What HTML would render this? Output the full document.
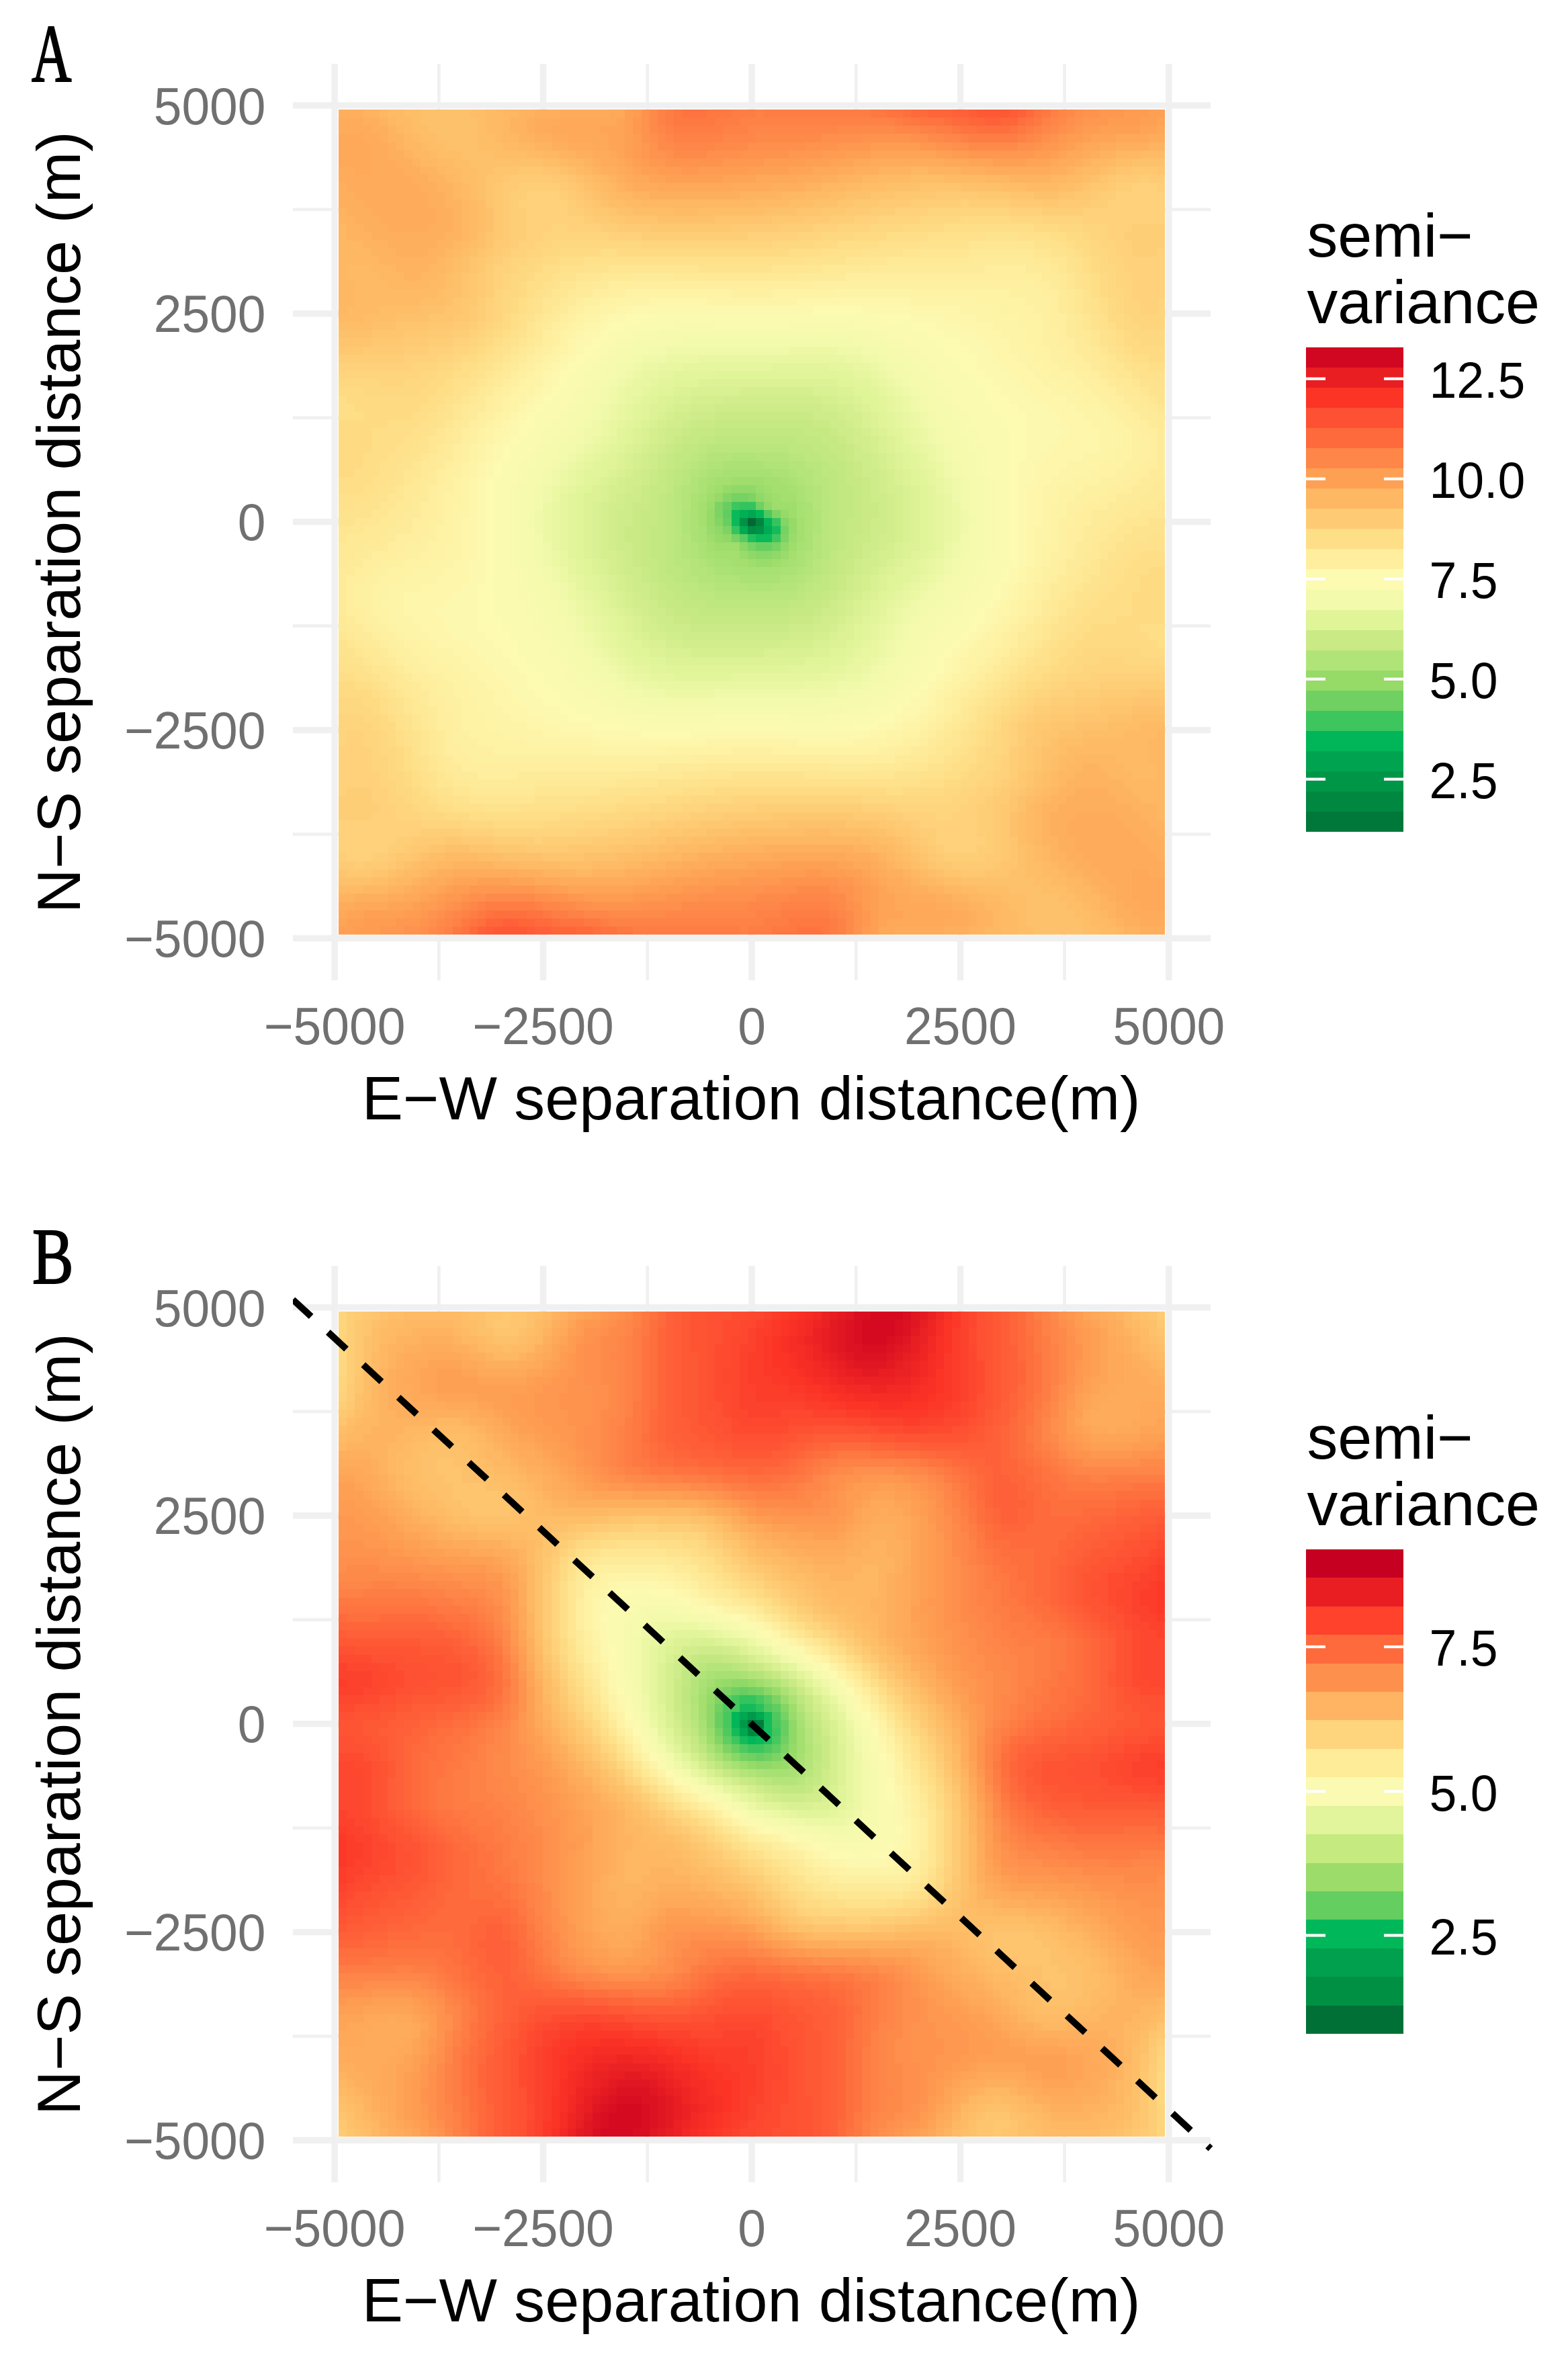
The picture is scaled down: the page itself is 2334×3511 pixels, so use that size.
<!DOCTYPE html>
<html><head><meta charset="utf-8"><title>Semivariance maps</title>
<style>html,body{margin:0;padding:0;background:#fff;overflow:hidden}svg{display:block}</style></head>
<body><svg width="2334" height="3511" viewBox="0 0 2334 3511">
<rect width="2334" height="3511" fill="#fff"/>
<g id="panelA">
<rect x="651.0" y="95" width="4.7" height="1364" fill="#f0f0f0"/>
<rect x="436" y="1239.2" width="1366" height="4.7" fill="#f0f0f0"/>
<rect x="961.4" y="95" width="4.7" height="1364" fill="#f0f0f0"/>
<rect x="436" y="929.3" width="1366" height="4.7" fill="#f0f0f0"/>
<rect x="1271.9" y="95" width="4.7" height="1364" fill="#f0f0f0"/>
<rect x="436" y="619.4" width="1366" height="4.7" fill="#f0f0f0"/>
<rect x="1582.3" y="95" width="4.7" height="1364" fill="#f0f0f0"/>
<rect x="436" y="309.5" width="1366" height="4.7" fill="#f0f0f0"/>
<rect x="493.4" y="95" width="9.4" height="1364" fill="#f0f0f0"/>
<rect x="436" y="1391.8" width="1366" height="9.4" fill="#f0f0f0"/>
<rect x="803.8" y="95" width="9.4" height="1364" fill="#f0f0f0"/>
<rect x="436" y="1081.9" width="1366" height="9.4" fill="#f0f0f0"/>
<rect x="1114.3" y="95" width="9.4" height="1364" fill="#f0f0f0"/>
<rect x="436" y="772.0" width="1366" height="9.4" fill="#f0f0f0"/>
<rect x="1424.8" y="95" width="9.4" height="1364" fill="#f0f0f0"/>
<rect x="436" y="462.1" width="1366" height="9.4" fill="#f0f0f0"/>
<rect x="1735.2" y="95" width="9.4" height="1364" fill="#f0f0f0"/>
<rect x="436" y="152.2" width="1366" height="9.4" fill="#f0f0f0"/>
<g shape-rendering="crispEdges"><path fill="#006832" d="M1113 771h12v12h-12z"/>
<path fill="#00853f" d="M1125 771h12v12h-12z"/>
<path fill="#008d43" d="M1113 783h12v12h-12z"/>
<path fill="#009145" d="M1101 771h12v12h-12zM1125 783h12v12h-12z"/>
<path fill="#00a751" d="M1113 759h12v12h-12z"/>
<path fill="#00aa53" d="M1101 783h12v12h-12zM1137 783h12v12h-12z"/>
<path fill="#00b055" d="M1101 759h12v12h-12z"/>
<path fill="#00b357" d="M1137 771h12v12h-12z"/>
<path fill="#00b658" d="M1125 759h12v12h-12z"/>
<path fill="#0ab959" d="M1089 759h12v12h-12zM1089 771h12v12h-12zM1125 795h24v12h-24z"/>
<path fill="#15bb5a" d="M1149 783h13v12h-13z"/>
<path fill="#1fbe5b" d="M1113 795h12v12h-12z"/>
<path fill="#34c35d" d="M1101 747h24v12h-24zM1149 771h13v12h-13zM1089 783h12v12h-12z"/>
<path fill="#3ec65e" d="M1089 747h12v12h-12zM1149 795h13v12h-13z"/>
<path fill="#4fc95f" d="M1137 759h12v12h-12z"/>
<path fill="#57cb60" d="M1101 795h12v12h-12z"/>
<path fill="#5fcd61" d="M1076 759h13v12h-13z"/>
<path fill="#68ce61" d="M1076 747h13v12h-13zM1076 771h13v12h-13zM1125 807h24v13h-24z"/>
<path fill="#70d062" d="M1125 747h12v12h-12z"/>
<path fill="#76d263" d="M1089 734h24v13h-24zM1162 783h12v12h-12zM1089 795h12v12h-12zM1113 807h12v13h-12zM1149 807h13v13h-13z"/>
<path fill="#7dd364" d="M1113 734h12v13h-12zM1064 747h12v12h-12zM1064 759h12v12h-12zM1149 759h13v12h-13zM1076 783h13v12h-13zM1162 795h12v12h-12z"/>
<path fill="#83d565" d="M1076 734h13v13h-13zM1064 771h12v12h-12zM1162 771h12v12h-12z"/>
<path fill="#89d766" d="M1101 807h12v13h-12zM1125 820h24v12h-24z"/>
<path fill="#90d867" d="M1089 722h36v12h-36zM1125 734h12v13h-12zM1137 747h12v12h-12zM1064 783h12v12h-12zM1076 795h13v12h-13zM1162 807h12v13h-12zM1113 820h12v12h-12zM1149 820h13v12h-13z"/>
<path fill="#96da68" d="M1076 722h13v12h-13zM1064 734h12v13h-12zM1052 759h12v12h-12zM1162 759h12v12h-12zM1052 771h12v12h-12zM1174 771h12v12h-12zM1174 783h12v12h-12zM1064 795h12v12h-12z"/>
<path fill="#9adc6b" d="M1125 722h12v12h-12zM1137 734h12v13h-12zM1052 747h12v12h-12zM1052 783h12v12h-12zM1174 795h12v12h-12zM1101 820h12v12h-12zM1162 820h12v12h-12zM1125 832h24v12h-24z"/>
<path fill="#9fdd6d" d="M1089 710h48v12h-48zM1064 722h12v12h-12zM1137 722h12v12h-12zM1052 734h12v13h-12zM1149 734h13v13h-13zM1149 747h37v12h-37zM1174 759h12v12h-12zM1052 795h12v12h-12zM1064 807h37v13h-37zM1174 807h12v13h-12zM1113 832h12v12h-12zM1149 832h13v12h-13z"/>
<path fill="#a4df70" d="M1064 710h25v12h-25zM1137 710h25v12h-25zM1052 722h12v12h-12zM1149 722h25v12h-25zM1162 734h24v13h-24zM1040 747h12v12h-12zM1040 759h12v12h-12zM1040 771h12v12h-12zM1186 771h12v12h-12zM1186 783h12v12h-12zM1186 795h12v12h-12zM1052 807h12v13h-12zM1064 820h37v12h-37zM1174 820h12v12h-12zM1089 832h24v12h-24zM1162 832h12v12h-12z"/>
<path fill="#a8e173" d="M1076 698h73v12h-73zM1052 710h12v12h-12zM1162 710h12v12h-12zM1174 722h12v12h-12zM1040 734h12v13h-12zM1186 747h12v12h-12zM1186 759h12v12h-12zM1040 783h12v12h-12zM1040 795h12v12h-12zM1186 807h12v13h-12zM1052 820h12v12h-12zM1064 832h25v12h-25zM1174 832h12v12h-12zM1089 844h73v12h-73z"/>
<path fill="#ace275" d="M1076 686h61v12h-61zM1052 698h24v12h-24zM1149 698h25v12h-25zM1040 710h12v12h-12zM1174 710h12v12h-12zM1040 722h12v12h-12zM1186 722h12v12h-12zM1028 734h12v13h-12zM1186 734h12v13h-12zM1028 747h12v12h-12zM1198 747h12v12h-12zM1028 759h12v12h-12zM1198 759h12v12h-12zM1028 771h12v12h-12zM1198 771h12v12h-12zM1028 783h12v12h-12zM1198 783h12v12h-12zM1028 795h12v12h-12zM1198 795h12v12h-12zM1040 807h12v13h-12zM1198 807h12v13h-12zM1040 820h12v12h-12zM1186 820h12v12h-12zM1052 832h12v12h-12zM1186 832h12v12h-12zM1064 844h25v12h-25zM1162 844h24v12h-24zM1101 856h61v12h-61z"/>
<path fill="#b1e478" d="M1089 674h36v12h-36zM1052 686h24v12h-24zM1137 686h37v12h-37zM1040 698h12v12h-12zM1174 698h12v12h-12zM1028 710h12v12h-12zM1186 710h12v12h-12zM1028 722h12v12h-12zM1198 722h12v12h-12zM1198 734h12v13h-12zM1015 759h13v12h-13zM1210 759h13v12h-13zM1015 771h13v12h-13zM1210 771h13v12h-13zM1015 783h13v12h-13zM1210 783h13v12h-13zM1028 807h12v13h-12zM1028 820h12v12h-12zM1198 820h12v12h-12zM1040 832h12v12h-12zM1198 832h12v12h-12zM1052 844h12v12h-12zM1186 844h12v12h-12zM1064 856h37v12h-37zM1162 856h24v12h-24zM1113 868h36v12h-36z"/>
<path fill="#b5e57a" d="M1052 674h37v12h-37zM1125 674h49v12h-49zM1040 686h12v12h-12zM1174 686h24v12h-24zM1028 698h12v12h-12zM1186 698h24v12h-24zM1198 710h12v12h-12zM1015 722h13v12h-13zM1210 722h13v12h-13zM1015 734h13v13h-13zM1210 734h13v13h-13zM1015 747h13v12h-13zM1210 747h13v12h-13zM1015 795h13v12h-13zM1210 795h13v12h-13zM1015 807h13v13h-13zM1210 807h13v13h-13zM1015 820h13v12h-13zM1210 820h13v12h-13zM1028 832h12v12h-12zM1028 844h24v12h-24zM1198 844h12v12h-12zM1040 856h24v12h-24zM1186 856h12v12h-12zM1064 868h49v12h-49zM1149 868h37v12h-37z"/>
<path fill="#b9e67d" d="M1052 661h122v13h-122zM1040 674h12v12h-12zM1174 674h24v12h-24zM1028 686h12v12h-12zM1198 686h25v12h-25zM1015 698h13v12h-13zM1210 698h13v12h-13zM1015 710h13v12h-13zM1210 710h25v12h-25zM1003 722h12v12h-12zM1223 722h12v12h-12zM1003 734h12v13h-12zM1223 734h12v13h-12zM1003 747h12v12h-12zM1223 747h12v12h-12zM1003 759h12v12h-12zM1223 759h12v12h-12zM1003 771h12v12h-12zM1223 771h12v12h-12zM1003 783h12v12h-12zM1223 783h12v12h-12zM1003 795h12v12h-12zM1223 795h12v12h-12zM1003 807h12v13h-12zM1223 807h12v13h-12zM1003 820h12v12h-12zM1223 820h12v12h-12zM1003 832h25v12h-25zM1210 832h13v12h-13zM1015 844h13v12h-13zM1210 844h13v12h-13zM1015 856h25v12h-25zM1198 856h12v12h-12zM1040 868h24v12h-24zM1186 868h12v12h-12zM1064 880h122v13h-122z"/>
<path fill="#bee77f" d="M1064 649h122v12h-122zM1040 661h12v13h-12zM1174 661h36v13h-36zM1028 674h12v12h-12zM1198 674h25v12h-25zM1015 686h13v12h-13zM1223 686h12v12h-12zM1003 698h12v12h-12zM1223 698h24v12h-24zM1003 710h12v12h-12zM1235 710h12v12h-12zM1235 722h12v12h-12zM991 734h12v13h-12zM1235 734h12v13h-12zM991 747h12v12h-12zM1235 747h12v12h-12zM991 759h12v12h-12zM1235 759h12v12h-12zM991 771h12v12h-12zM1235 771h12v12h-12zM991 783h12v12h-12zM1235 783h12v12h-12zM991 795h12v12h-12zM1235 795h12v12h-12zM991 807h12v13h-12zM1235 807h12v13h-12zM991 820h12v12h-12zM991 832h12v12h-12zM1223 832h12v12h-12zM991 844h24v12h-24zM1223 844h12v12h-12zM1003 856h12v12h-12zM1210 856h13v12h-13zM1015 868h25v12h-25zM1198 868h12v12h-12zM1028 880h36v13h-36zM1186 880h12v13h-12zM1052 893h122v12h-122z"/>
<path fill="#c2e881" d="M1064 637h134v12h-134zM1040 649h24v12h-24zM1186 649h37v12h-37zM1015 661h25v13h-25zM1210 661h25v13h-25zM1003 674h25v12h-25zM1223 674h24v12h-24zM1003 686h12v12h-12zM1235 686h24v12h-24zM991 698h12v12h-12zM1247 698h12v12h-12zM991 710h12v12h-12zM1247 710h12v12h-12zM991 722h12v12h-12zM1247 722h24v12h-24zM979 734h12v13h-12zM1247 734h24v13h-24zM979 747h12v12h-12zM1247 747h24v12h-24zM979 759h12v12h-12zM1247 759h24v12h-24zM979 771h12v12h-12zM1247 771h12v12h-12zM967 783h24v12h-24zM1247 783h12v12h-12zM967 795h24v12h-24zM1247 795h12v12h-12zM967 807h24v13h-24zM1247 807h12v13h-12zM967 820h24v12h-24zM1235 820h12v12h-12zM979 832h12v12h-12zM1235 832h12v12h-12zM979 844h12v12h-12zM1235 844h12v12h-12zM979 856h24v12h-24zM1223 856h12v12h-12zM991 868h24v12h-24zM1210 868h25v12h-25zM1003 880h25v13h-25zM1198 880h25v13h-25zM1015 893h37v12h-37zM1174 893h24v12h-24zM1040 905h134v12h-134z"/>
<path fill="#c6e984" d="M1064 625h146v12h-146zM1028 637h36v12h-36zM1198 637h37v12h-37zM1015 649h25v12h-25zM1223 649h24v12h-24zM1003 661h12v13h-12zM1235 661h24v13h-24zM991 674h12v12h-12zM1247 674h12v12h-12zM991 686h12v12h-12zM1259 686h12v12h-12zM979 698h12v12h-12zM1259 698h12v12h-12zM979 710h12v12h-12zM1259 710h24v12h-24zM967 722h24v12h-24zM1271 722h12v12h-12zM967 734h12v13h-12zM1271 734h12v13h-12zM967 747h12v12h-12zM1271 747h12v12h-12zM955 759h24v12h-24zM1271 759h12v12h-12zM955 771h24v12h-24zM1259 771h24v12h-24zM955 783h12v12h-12zM1259 783h24v12h-24zM955 795h12v12h-12zM1259 795h12v12h-12zM955 807h12v13h-12zM1259 807h12v13h-12zM955 820h12v12h-12zM1247 820h24v12h-24zM955 832h24v12h-24zM1247 832h12v12h-12zM967 844h12v12h-12zM1247 844h12v12h-12zM967 856h12v12h-12zM1235 856h12v12h-12zM979 868h12v12h-12zM1235 868h12v12h-12zM979 880h24v13h-24zM1223 880h12v13h-12zM991 893h24v12h-24zM1198 893h25v12h-25zM1003 905h37v12h-37zM1174 905h36v12h-36zM1028 917h146v12h-146z"/>
<path fill="#caea86" d="M1064 613h146v12h-146zM1028 625h36v12h-36zM1210 625h25v12h-25zM1015 637h13v12h-13zM1235 637h12v12h-12zM1003 649h12v12h-12zM1247 649h12v12h-12zM991 661h12v13h-12zM1259 661h12v13h-12zM979 674h12v12h-12zM1259 674h12v12h-12zM979 686h12v12h-12zM1271 686h12v12h-12zM967 698h12v12h-12zM1271 698h12v12h-12zM967 710h12v12h-12zM1283 710h13v12h-13zM955 722h12v12h-12zM1283 722h13v12h-13zM955 734h12v13h-12zM1283 734h13v13h-13zM942 747h25v12h-25zM1283 747h25v12h-25zM942 759h13v12h-13zM1283 759h25v12h-25zM942 771h13v12h-13zM1283 771h13v12h-13zM930 783h25v12h-25zM1283 783h13v12h-13zM930 795h25v12h-25zM1271 795h25v12h-25zM942 807h13v13h-13zM1271 807h12v13h-12zM942 820h13v12h-13zM1271 820h12v12h-12zM942 832h13v12h-13zM1259 832h12v12h-12zM955 844h12v12h-12zM1259 844h12v12h-12zM955 856h12v12h-12zM1247 856h12v12h-12zM967 868h12v12h-12zM1247 868h12v12h-12zM967 880h12v13h-12zM1235 880h12v13h-12zM979 893h12v12h-12zM1223 893h12v12h-12zM991 905h12v12h-12zM1210 905h13v12h-13zM1003 917h25v12h-25zM1174 917h36v12h-36zM1028 929h146v12h-146z"/>
<path fill="#ceec89" d="M1064 601h159v12h-159zM1028 613h36v12h-36zM1210 613h37v12h-37zM1015 625h13v12h-13zM1235 625h24v12h-24zM991 637h24v12h-24zM1247 637h24v12h-24zM991 649h12v12h-12zM1259 649h12v12h-12zM979 661h12v13h-12zM1271 661h12v13h-12zM967 674h12v12h-12zM1271 674h25v12h-25zM967 686h12v12h-12zM1283 686h13v12h-13zM955 698h12v12h-12zM1283 698h25v12h-25zM955 710h12v12h-12zM1296 710h12v12h-12zM942 722h13v12h-13zM1296 722h12v12h-12zM930 734h25v13h-25zM1296 734h24v13h-24zM930 747h12v12h-12zM1308 747h12v12h-12zM918 759h24v12h-24zM1308 759h12v12h-12zM918 771h24v12h-24zM1296 771h24v12h-24zM918 783h12v12h-12zM1296 783h24v12h-24zM918 795h12v12h-12zM1296 795h12v12h-12zM918 807h24v13h-24zM1283 807h25v13h-25zM930 820h12v12h-12zM1283 820h13v12h-13zM930 832h12v12h-12zM1271 832h12v12h-12zM930 844h25v12h-25zM1271 844h12v12h-12zM942 856h13v12h-13zM1259 856h12v12h-12zM942 868h25v12h-25zM1259 868h12v12h-12zM955 880h12v13h-12zM1247 880h12v13h-12zM967 893h12v12h-12zM1235 893h12v12h-12zM967 905h24v12h-24zM1223 905h24v12h-24zM979 917h24v12h-24zM1210 917h13v12h-13zM991 929h37v12h-37zM1174 929h36v12h-36zM1015 941h159v12h-159z"/>
<path fill="#d1ed8c" d="M1076 589h147v12h-147zM1028 601h36v12h-36zM1223 601h24v12h-24zM1003 613h25v12h-25zM1247 613h12v12h-12zM991 625h24v12h-24zM1259 625h12v12h-12zM979 637h12v12h-12zM1271 637h12v12h-12zM979 649h12v12h-12zM1271 649h25v12h-25zM967 661h12v13h-12zM1283 661h13v13h-13zM955 674h12v12h-12zM1296 674h12v12h-12zM955 686h12v12h-12zM1296 686h12v12h-12zM942 698h13v12h-13zM1308 698h12v12h-12zM930 710h25v12h-25zM1308 710h12v12h-12zM930 722h12v12h-12zM1308 722h12v12h-12zM918 734h12v13h-12zM1320 734h12v13h-12zM906 747h24v12h-24zM1320 747h12v12h-12zM906 759h12v12h-12zM1320 759h12v12h-12zM906 771h12v12h-12zM1320 771h12v12h-12zM906 783h12v12h-12zM1320 783h12v12h-12zM906 795h12v12h-12zM1308 795h24v12h-24zM906 807h12v13h-12zM1308 807h12v13h-12zM918 820h12v12h-12zM1296 820h12v12h-12zM918 832h12v12h-12zM1283 832h25v12h-25zM918 844h12v12h-12zM1283 844h13v12h-13zM930 856h12v12h-12zM1271 856h12v12h-12zM930 868h12v12h-12zM1271 868h12v12h-12zM942 880h13v13h-13zM1259 880h12v13h-12zM942 893h25v12h-25zM1247 893h12v12h-12zM955 905h12v12h-12zM1247 905h12v12h-12zM967 917h12v12h-12zM1223 917h24v12h-24zM979 929h12v12h-12zM1210 929h25v12h-25zM991 941h24v12h-24zM1174 941h36v12h-36zM1015 953h147v12h-147z"/>
<path fill="#d5ef8f" d="M1101 576h109v13h-109zM1028 589h48v12h-48zM1223 589h24v12h-24zM1003 601h25v12h-25zM1247 601h24v12h-24zM991 613h12v12h-12zM1259 613h24v12h-24zM979 625h12v12h-12zM1271 625h12v12h-12zM967 637h12v12h-12zM1283 637h13v12h-13zM967 649h12v12h-12zM1296 649h12v12h-12zM955 661h12v13h-12zM1296 661h12v13h-12zM942 674h13v12h-13zM1308 674h12v12h-12zM942 686h13v12h-13zM1308 686h12v12h-12zM930 698h12v12h-12zM1320 698h12v12h-12zM918 710h12v12h-12zM1320 710h12v12h-12zM906 722h24v12h-24zM1320 722h24v12h-24zM906 734h12v13h-12zM1332 734h12v13h-12zM894 747h12v12h-12zM1332 747h12v12h-12zM894 759h12v12h-12zM1332 759h12v12h-12zM894 771h12v12h-12zM1332 771h12v12h-12zM894 783h12v12h-12zM1332 783h12v12h-12zM894 795h12v12h-12zM1332 795h12v12h-12zM894 807h12v13h-12zM1320 807h12v13h-12zM894 820h24v12h-24zM1308 820h24v12h-24zM906 832h12v12h-12zM1308 832h12v12h-12zM906 844h12v12h-12zM1296 844h12v12h-12zM918 856h12v12h-12zM1283 856h13v12h-13zM918 868h12v12h-12zM1283 868h13v12h-13zM930 880h12v13h-12zM1271 880h12v13h-12zM930 893h12v12h-12zM1259 893h12v12h-12zM942 905h13v12h-13zM1259 905h12v12h-12zM955 917h12v12h-12zM1247 917h12v12h-12zM955 929h24v12h-24zM1235 929h12v12h-12zM967 941h24v12h-24zM1210 941h25v12h-25zM991 953h24v12h-24zM1162 953h48v12h-48zM1028 965h109v13h-109z"/>
<path fill="#d9f192" d="M1028 576h73v13h-73zM1210 576h37v13h-37zM1003 589h25v12h-25zM1247 589h24v12h-24zM991 601h12v12h-12zM1271 601h12v12h-12zM979 613h12v12h-12zM1283 613h13v12h-13zM967 625h12v12h-12zM1283 625h13v12h-13zM955 637h12v12h-12zM1296 637h12v12h-12zM955 649h12v12h-12zM1308 649h12v12h-12zM942 661h13v13h-13zM1308 661h12v13h-12zM930 674h12v12h-12zM1320 674h12v12h-12zM930 686h12v12h-12zM1320 686h12v12h-12zM918 698h12v12h-12zM1332 698h12v12h-12zM906 710h12v12h-12zM1332 710h12v12h-12zM894 722h12v12h-12zM1344 722h12v12h-12zM894 734h12v13h-12zM1344 734h12v13h-12zM882 747h12v12h-12zM1344 747h12v12h-12zM882 759h12v12h-12zM1344 759h12v12h-12zM882 771h12v12h-12zM1344 771h12v12h-12zM882 783h12v12h-12zM1344 783h12v12h-12zM882 795h12v12h-12zM1344 795h12v12h-12zM882 807h12v13h-12zM1332 807h12v13h-12zM882 820h12v12h-12zM1332 820h12v12h-12zM894 832h12v12h-12zM1320 832h12v12h-12zM894 844h12v12h-12zM1308 844h12v12h-12zM906 856h12v12h-12zM1296 856h12v12h-12zM906 868h12v12h-12zM1296 868h12v12h-12zM918 880h12v13h-12zM1283 880h13v13h-13zM918 893h12v12h-12zM1271 893h12v12h-12zM930 905h12v12h-12zM1271 905h12v12h-12zM942 917h13v12h-13zM1259 917h12v12h-12zM942 929h13v12h-13zM1247 929h12v12h-12zM955 941h12v12h-12zM1235 941h12v12h-12zM967 953h24v12h-24zM1210 953h25v12h-25zM991 965h37v13h-37zM1137 965h73v13h-73z"/>
<path fill="#dcf295" d="M1040 564h207v12h-207zM1003 576h25v13h-25zM1247 576h24v13h-24zM979 589h24v12h-24zM1271 589h12v12h-12zM967 601h24v12h-24zM1283 601h13v12h-13zM967 613h12v12h-12zM1296 613h12v12h-12zM955 625h12v12h-12zM1296 625h12v12h-12zM942 637h13v12h-13zM1308 637h12v12h-12zM942 649h13v12h-13zM1320 649h12v12h-12zM930 661h12v13h-12zM1320 661h12v13h-12zM918 674h12v12h-12zM1332 674h12v12h-12zM918 686h12v12h-12zM1332 686h12v12h-12zM906 698h12v12h-12zM1344 698h12v12h-12zM894 710h12v12h-12zM1344 710h12v12h-12zM882 722h12v12h-12zM1356 722h13v12h-13zM869 734h25v13h-25zM1356 734h13v13h-13zM869 747h13v12h-13zM1356 747h13v12h-13zM869 759h13v12h-13zM1356 759h13v12h-13zM869 771h13v12h-13zM1356 771h13v12h-13zM869 783h13v12h-13zM1356 783h13v12h-13zM869 795h13v12h-13zM1356 795h13v12h-13zM869 807h13v13h-13zM1344 807h25v13h-25zM869 820h13v12h-13zM1344 820h12v12h-12zM882 832h12v12h-12zM1332 832h12v12h-12zM882 844h12v12h-12zM1320 844h12v12h-12zM894 856h12v12h-12zM1308 856h12v12h-12zM894 868h12v12h-12zM1308 868h12v12h-12zM906 880h12v13h-12zM1296 880h12v13h-12zM906 893h12v12h-12zM1283 893h13v12h-13zM918 905h12v12h-12zM1283 905h13v12h-13zM930 917h12v12h-12zM1271 917h12v12h-12zM930 929h12v12h-12zM1259 929h12v12h-12zM942 941h13v12h-13zM1247 941h24v12h-24zM955 953h12v12h-12zM1235 953h24v12h-24zM967 965h24v13h-24zM1210 965h25v13h-25zM991 978h207v12h-207z"/>
<path fill="#e0f498" d="M1064 552h183v12h-183zM1003 564h37v12h-37zM1247 564h24v12h-24zM979 576h24v13h-24zM1271 576h25v13h-25zM967 589h12v12h-12zM1283 589h25v12h-25zM955 601h12v12h-12zM1296 601h12v12h-12zM955 613h12v12h-12zM1308 613h12v12h-12zM942 625h13v12h-13zM1308 625h12v12h-12zM930 637h12v12h-12zM1320 637h12v12h-12zM930 649h12v12h-12zM1332 649h12v12h-12zM918 661h12v13h-12zM1332 661h12v13h-12zM906 674h12v12h-12zM1344 674h12v12h-12zM894 686h24v12h-24zM1344 686h12v12h-12zM894 698h12v12h-12zM1356 698h13v12h-13zM882 710h12v12h-12zM1356 710h13v12h-13zM869 722h13v12h-13zM1369 722h12v12h-12zM857 734h12v13h-12zM1369 734h12v13h-12zM857 747h12v12h-12zM1369 747h12v12h-12zM857 759h12v12h-12zM1369 759h12v12h-12zM857 771h12v12h-12zM1369 771h12v12h-12zM857 783h12v12h-12zM1369 783h12v12h-12zM857 795h12v12h-12zM1369 795h12v12h-12zM857 807h12v13h-12zM1369 807h12v13h-12zM857 820h12v12h-12zM1356 820h13v12h-13zM869 832h13v12h-13zM1344 832h12v12h-12zM869 844h13v12h-13zM1332 844h12v12h-12zM882 856h12v12h-12zM1320 856h24v12h-24zM882 868h12v12h-12zM1320 868h12v12h-12zM894 880h12v13h-12zM1308 880h12v13h-12zM894 893h12v12h-12zM1296 893h12v12h-12zM906 905h12v12h-12zM1296 905h12v12h-12zM918 917h12v12h-12zM1283 917h13v12h-13zM918 929h12v12h-12zM1271 929h12v12h-12zM930 941h12v12h-12zM1271 941h12v12h-12zM930 953h25v12h-25zM1259 953h12v12h-12zM942 965h25v13h-25zM1235 965h24v13h-24zM967 978h24v12h-24zM1198 978h37v12h-37zM991 990h183v12h-183z"/>
<path fill="#e3f59b" d="M1149 540h86v12h-86zM1003 552h61v12h-61zM1247 552h24v12h-24zM979 564h24v12h-24zM1271 564h25v12h-25zM967 576h12v13h-12zM1296 576h12v13h-12zM955 589h12v12h-12zM1308 589h12v12h-12zM942 601h13v12h-13zM1308 601h12v12h-12zM942 613h13v12h-13zM1320 613h12v12h-12zM930 625h12v12h-12zM1320 625h12v12h-12zM918 637h12v12h-12zM1332 637h12v12h-12zM918 649h12v12h-12zM906 661h12v13h-12zM1344 661h12v13h-12zM894 674h12v12h-12zM1356 674h13v12h-13zM882 686h12v12h-12zM1356 686h13v12h-13zM869 698h25v12h-25zM1369 698h12v12h-12zM869 710h13v12h-13zM1369 710h12v12h-12zM857 722h12v12h-12zM1381 722h12v12h-12zM845 734h12v13h-12zM1381 734h12v13h-12zM845 747h12v12h-12zM1381 747h12v12h-12zM845 759h12v12h-12zM1381 759h12v12h-12zM845 771h12v12h-12zM1381 771h12v12h-12zM845 783h12v12h-12zM1381 783h12v12h-12zM845 795h12v12h-12zM1381 795h12v12h-12zM845 807h12v13h-12zM1381 807h12v13h-12zM845 820h12v12h-12zM1369 820h12v12h-12zM857 832h12v12h-12zM1356 832h13v12h-13zM857 844h12v12h-12zM1344 844h25v12h-25zM869 856h13v12h-13zM1344 856h12v12h-12zM869 868h13v12h-13zM1332 868h12v12h-12zM882 880h12v13h-12zM1320 880h12v13h-12zM1308 893h12v12h-12zM894 905h12v12h-12zM1308 905h12v12h-12zM906 917h12v12h-12zM1296 917h12v12h-12zM906 929h12v12h-12zM1283 929h13v12h-13zM918 941h12v12h-12zM1283 941h13v12h-13zM918 953h12v12h-12zM1271 953h12v12h-12zM930 965h12v13h-12zM1259 965h12v13h-12zM942 978h25v12h-25zM1235 978h24v12h-24zM967 990h24v12h-24zM1174 990h61v12h-61zM1003 1002h86v12h-86z"/>
<path fill="#e6f69f" d="M1015 540h134v12h-134zM1235 540h36v12h-36zM979 552h24v12h-24zM1271 552h25v12h-25zM967 564h12v12h-12zM1296 564h12v12h-12zM955 576h12v13h-12zM1308 576h12v13h-12zM942 589h13v12h-13zM1320 589h12v12h-12zM930 601h12v12h-12zM1320 601h12v12h-12zM930 613h12v12h-12zM1332 613h12v12h-12zM918 625h12v12h-12zM1332 625h12v12h-12zM1344 637h12v12h-12zM906 649h12v12h-12zM1344 649h12v12h-12zM894 661h12v13h-12zM1356 661h13v13h-13zM882 674h12v12h-12zM1369 674h12v12h-12zM869 686h13v12h-13zM1369 686h12v12h-12zM857 698h12v12h-12zM1381 698h12v12h-12zM857 710h12v12h-12zM1381 710h12v12h-12zM845 722h12v12h-12zM833 734h12v13h-12zM1393 734h12v13h-12zM833 747h12v12h-12zM1393 747h12v12h-12zM833 759h12v12h-12zM1393 759h12v12h-12zM833 771h12v12h-12zM1393 771h12v12h-12zM833 783h12v12h-12zM1393 783h12v12h-12zM833 795h12v12h-12zM1393 795h12v12h-12zM833 807h12v13h-12zM1393 807h12v13h-12zM1381 820h12v12h-12zM845 832h12v12h-12zM1369 832h12v12h-12zM845 844h12v12h-12zM1369 844h12v12h-12zM857 856h12v12h-12zM1356 856h13v12h-13zM857 868h12v12h-12zM1344 868h12v12h-12zM869 880h13v13h-13zM1332 880h12v13h-12zM882 893h12v12h-12zM1320 893h12v12h-12zM882 905h12v12h-12zM894 917h12v12h-12zM1308 917h12v12h-12zM894 929h12v12h-12zM1296 929h12v12h-12zM906 941h12v12h-12zM1296 941h12v12h-12zM906 953h12v12h-12zM1283 953h13v12h-13zM918 965h12v13h-12zM1271 965h12v13h-12zM930 978h12v12h-12zM1259 978h12v12h-12zM942 990h25v12h-25zM1235 990h24v12h-24zM967 1002h36v12h-36zM1089 1002h134v12h-134z"/>
<path fill="#eaf7a2" d="M1040 528h219v12h-219zM979 540h36v12h-36zM1271 540h25v12h-25zM955 552h24v12h-24zM1296 552h12v12h-12zM942 564h25v12h-25zM1308 564h12v12h-12zM930 576h25v13h-25zM1320 576h12v13h-12zM930 589h12v12h-12zM1332 589h12v12h-12zM918 601h12v12h-12zM1332 601h12v12h-12zM918 613h12v12h-12zM1344 613h12v12h-12zM906 625h12v12h-12zM1344 625h12v12h-12zM906 637h12v12h-12zM1356 637h13v12h-13zM894 649h12v12h-12zM1356 649h13v12h-13zM882 661h12v13h-12zM1369 661h12v13h-12zM869 674h13v12h-13zM857 686h12v12h-12zM1381 686h12v12h-12zM845 698h12v12h-12zM845 710h12v12h-12zM1393 710h12v12h-12zM833 722h12v12h-12zM1393 722h12v12h-12zM1405 734h12v13h-12zM821 747h12v12h-12zM1405 747h12v12h-12zM821 759h12v12h-12zM1405 759h12v12h-12zM821 771h12v12h-12zM1405 771h12v12h-12zM821 783h12v12h-12zM1405 783h12v12h-12zM821 795h12v12h-12zM1405 795h12v12h-12zM821 807h12v13h-12zM833 820h12v12h-12zM1393 820h12v12h-12zM833 832h12v12h-12zM1381 832h12v12h-12zM1381 844h12v12h-12zM845 856h12v12h-12zM1369 856h12v12h-12zM1356 868h13v12h-13zM857 880h12v13h-12zM1344 880h12v13h-12zM869 893h13v12h-13zM1332 893h12v12h-12zM869 905h13v12h-13zM1320 905h12v12h-12zM882 917h12v12h-12zM1320 917h12v12h-12zM882 929h12v12h-12zM1308 929h12v12h-12zM894 941h12v12h-12zM1308 941h12v12h-12zM894 953h12v12h-12zM1296 953h12v12h-12zM906 965h12v13h-12zM1283 965h25v13h-25zM918 978h12v12h-12zM1271 978h25v12h-25zM930 990h12v12h-12zM1259 990h24v12h-24zM942 1002h25v12h-25zM1223 1002h36v12h-36zM979 1014h219v12h-219z"/>
<path fill="#edf8a5" d="M1174 516h73v12h-73zM991 528h49v12h-49zM1259 528h24v12h-24zM955 540h24v12h-24zM1296 540h12v12h-12zM942 552h13v12h-13zM1308 552h12v12h-12zM930 564h12v12h-12zM1320 564h12v12h-12zM918 576h12v13h-12zM1332 576h12v13h-12zM918 589h12v12h-12zM1344 589h12v12h-12zM906 601h12v12h-12zM1344 601h12v12h-12zM906 613h12v12h-12zM1356 613h13v12h-13zM894 625h12v12h-12zM1356 625h13v12h-13zM894 637h12v12h-12zM1369 637h12v12h-12zM882 649h12v12h-12zM1369 649h12v12h-12zM869 661h13v13h-13zM1381 661h12v13h-12zM857 674h12v12h-12zM1381 674h12v12h-12zM845 686h12v12h-12zM1393 686h12v12h-12zM833 698h12v12h-12zM1393 698h12v12h-12zM833 710h12v12h-12zM1405 710h12v12h-12zM821 722h12v12h-12zM1405 722h12v12h-12zM821 734h12v13h-12zM808 747h13v12h-13zM1417 747h13v12h-13zM808 759h13v12h-13zM1417 759h13v12h-13zM808 771h13v12h-13zM1417 771h13v12h-13zM808 783h13v12h-13zM1417 783h13v12h-13zM808 795h13v12h-13zM1417 795h13v12h-13zM1405 807h12v13h-12zM821 820h12v12h-12zM1405 820h12v12h-12zM821 832h12v12h-12zM1393 832h12v12h-12zM833 844h12v12h-12zM1393 844h12v12h-12zM833 856h12v12h-12zM1381 856h12v12h-12zM845 868h12v12h-12zM1369 868h12v12h-12zM845 880h12v13h-12zM1356 880h13v13h-13zM857 893h12v12h-12zM1344 893h12v12h-12zM857 905h12v12h-12zM1332 905h12v12h-12zM869 917h13v12h-13zM1332 917h12v12h-12zM869 929h13v12h-13zM1320 929h12v12h-12zM882 941h12v12h-12zM1320 941h12v12h-12zM882 953h12v12h-12zM1308 953h12v12h-12zM894 965h12v13h-12zM1308 965h12v13h-12zM906 978h12v12h-12zM1296 978h12v12h-12zM918 990h12v12h-12zM1283 990h13v12h-13zM930 1002h12v12h-12zM1259 1002h24v12h-24zM955 1014h24v12h-24zM1198 1014h49v12h-49zM991 1026h73v12h-73z"/>
<path fill="#f0f9a9" d="M991 516h183v12h-183zM1247 516h36v12h-36zM955 528h36v12h-36zM1283 528h25v12h-25zM942 540h13v12h-13zM1308 540h12v12h-12zM930 552h12v12h-12zM1320 552h12v12h-12zM918 564h12v12h-12zM1332 564h12v12h-12zM906 576h12v13h-12zM1344 576h12v13h-12zM906 589h12v12h-12zM1356 589h13v12h-13zM894 601h12v12h-12zM1356 601h13v12h-13zM894 613h12v12h-12zM1369 613h12v12h-12zM882 625h12v12h-12zM1369 625h12v12h-12zM869 637h25v12h-25zM1381 637h12v12h-12zM869 649h13v12h-13zM1381 649h12v12h-12zM857 661h12v13h-12zM1393 661h12v13h-12zM845 674h12v12h-12zM1393 674h12v12h-12zM833 686h12v12h-12zM1405 686h12v12h-12zM821 698h12v12h-12zM1405 698h12v12h-12zM821 710h12v12h-12zM1417 710h13v12h-13zM808 722h13v12h-13zM1417 722h13v12h-13zM808 734h13v13h-13zM1417 734h13v13h-13zM796 759h12v12h-12zM1430 759h12v12h-12zM796 771h12v12h-12zM1430 771h12v12h-12zM796 783h12v12h-12zM1430 783h12v12h-12zM808 807h13v13h-13zM1417 807h13v13h-13zM808 820h13v12h-13zM1417 820h13v12h-13zM808 832h13v12h-13zM1405 832h12v12h-12zM821 844h12v12h-12zM1405 844h12v12h-12zM821 856h12v12h-12zM1393 856h12v12h-12zM833 868h12v12h-12zM1381 868h12v12h-12zM833 880h12v13h-12zM1369 880h12v13h-12zM845 893h12v12h-12zM1356 893h13v12h-13zM845 905h12v12h-12zM1344 905h25v12h-25zM857 917h12v12h-12zM1344 917h12v12h-12zM857 929h12v12h-12zM1332 929h12v12h-12zM869 941h13v12h-13zM1332 941h12v12h-12zM869 953h13v12h-13zM1320 953h12v12h-12zM882 965h12v13h-12zM1320 965h12v13h-12zM894 978h12v12h-12zM1308 978h12v12h-12zM906 990h12v12h-12zM1296 990h12v12h-12zM918 1002h12v12h-12zM1283 1002h13v12h-13zM930 1014h25v12h-25zM1247 1014h36v12h-36zM955 1026h36v12h-36zM1064 1026h183v12h-183z"/>
<path fill="#f3faac" d="M1015 503h256v13h-256zM967 516h24v12h-24zM1283 516h25v12h-25zM942 528h13v12h-13zM1308 528h12v12h-12zM918 540h24v12h-24zM1320 540h24v12h-24zM918 552h12v12h-12zM1332 552h24v12h-24zM906 564h12v12h-12zM1344 564h12v12h-12zM894 576h12v13h-12zM1356 576h13v13h-13zM894 589h12v12h-12zM1369 589h12v12h-12zM882 601h12v12h-12zM1369 601h12v12h-12zM882 613h12v12h-12zM1381 613h12v12h-12zM869 625h13v12h-13zM1381 625h12v12h-12zM857 637h12v12h-12zM1393 637h12v12h-12zM845 649h24v12h-24zM1393 649h12v12h-12zM833 661h24v13h-24zM1405 661h12v13h-12zM833 674h12v12h-12zM1405 674h12v12h-12zM821 686h12v12h-12zM1417 686h13v12h-13zM808 698h13v12h-13zM1417 698h13v12h-13zM808 710h13v12h-13zM1430 710h12v12h-12zM796 722h12v12h-12zM1430 722h12v12h-12zM796 734h12v13h-12zM1430 734h12v13h-12zM796 747h12v12h-12zM1430 747h12v12h-12zM784 771h12v12h-12zM1442 771h12v12h-12zM796 795h12v12h-12zM1430 795h12v12h-12zM796 807h12v13h-12zM1430 807h12v13h-12zM796 820h12v12h-12zM1430 820h12v12h-12zM796 832h12v12h-12zM1417 832h13v12h-13zM808 844h13v12h-13zM1417 844h13v12h-13zM808 856h13v12h-13zM1405 856h12v12h-12zM821 868h12v12h-12zM1393 868h12v12h-12zM821 880h12v13h-12zM1381 880h24v13h-24zM833 893h12v12h-12zM1369 893h24v12h-24zM833 905h12v12h-12zM1369 905h12v12h-12zM845 917h12v12h-12zM1356 917h13v12h-13zM845 929h12v12h-12zM1344 929h12v12h-12zM857 941h12v12h-12zM1344 941h12v12h-12zM857 953h12v12h-12zM1332 953h12v12h-12zM869 965h13v13h-13zM1332 965h12v13h-12zM882 978h12v12h-12zM1320 978h12v12h-12zM882 990h24v12h-24zM1308 990h12v12h-12zM894 1002h24v12h-24zM1296 1002h24v12h-24zM918 1014h12v12h-12zM1283 1014h13v12h-13zM930 1026h25v12h-25zM1247 1026h24v12h-24zM967 1038h256v13h-256z"/>
<path fill="#f5faad" d="M1210 491h25v12h-25zM967 503h48v13h-48zM1271 503h37v13h-37zM942 516h25v12h-25zM1308 516h24v12h-24zM918 528h24v12h-24zM1320 528h24v12h-24zM906 540h12v12h-12zM1344 540h12v12h-12zM906 552h12v12h-12zM1356 552h13v12h-13zM894 564h12v12h-12zM1356 564h25v12h-25zM882 576h12v13h-12zM1369 576h12v13h-12zM882 589h12v12h-12zM1381 589h12v12h-12zM869 601h13v12h-13zM1381 601h12v12h-12zM869 613h13v12h-13zM1393 613h12v12h-12zM857 625h12v12h-12zM1393 625h24v12h-24zM845 637h12v12h-12zM1405 637h12v12h-12zM833 649h12v12h-12zM1405 649h25v12h-25zM821 661h12v13h-12zM1417 661h13v13h-13zM808 674h25v12h-25zM1417 674h25v12h-25zM808 686h13v12h-13zM1430 686h12v12h-12zM796 698h12v12h-12zM1430 698h12v12h-12zM796 710h12v12h-12zM1442 710h12v12h-12zM784 722h12v12h-12zM1442 722h12v12h-12zM784 734h12v13h-12zM1442 734h12v13h-12zM784 747h12v12h-12zM1442 747h12v12h-12zM784 759h12v12h-12zM1442 759h12v12h-12zM784 783h12v12h-12zM1442 783h12v12h-12zM784 795h12v12h-12zM1442 795h12v12h-12zM784 807h12v13h-12zM1442 807h12v13h-12zM784 820h12v12h-12zM1442 820h12v12h-12zM784 832h12v12h-12zM1430 832h12v12h-12zM796 844h12v12h-12zM1430 844h12v12h-12zM796 856h12v12h-12zM1417 856h13v12h-13zM796 868h25v12h-25zM1405 868h25v12h-25zM808 880h13v13h-13zM1405 880h12v13h-12zM808 893h25v12h-25zM1393 893h12v12h-12zM821 905h12v12h-12zM1381 905h12v12h-12zM821 917h24v12h-24zM1369 917h12v12h-12zM833 929h12v12h-12zM1356 929h13v12h-13zM845 941h12v12h-12zM1356 941h13v12h-13zM845 953h12v12h-12zM1344 953h12v12h-12zM857 965h12v13h-12zM1344 965h12v13h-12zM857 978h25v12h-25zM1332 978h12v12h-12zM869 990h13v12h-13zM1320 990h12v12h-12zM882 1002h12v12h-12zM1320 1002h12v12h-12zM894 1014h24v12h-24zM1296 1014h24v12h-24zM906 1026h24v12h-24zM1271 1026h25v12h-25zM930 1038h37v13h-37zM1223 1038h48v13h-48zM1003 1051h25v12h-25z"/>
<path fill="#f6faae" d="M979 491h231v12h-231zM1235 491h61v12h-61zM942 503h25v13h-25zM1308 503h12v13h-12zM918 516h24v12h-24zM1332 516h12v12h-12zM906 528h12v12h-12zM1344 528h12v12h-12zM894 540h12v12h-12zM1356 540h13v12h-13zM894 552h12v12h-12zM1369 552h12v12h-12zM882 564h12v12h-12zM1381 564h12v12h-12zM869 576h13v13h-13zM1381 576h12v13h-12zM869 589h13v12h-13zM1393 589h12v12h-12zM857 601h12v12h-12zM1393 601h24v12h-24zM845 613h24v12h-24zM1405 613h12v12h-12zM845 625h12v12h-12zM1417 625h13v12h-13zM833 637h12v12h-12zM1417 637h13v12h-13zM821 649h12v12h-12zM1430 649h12v12h-12zM808 661h13v13h-13zM1430 661h12v13h-12zM796 674h12v12h-12zM1442 674h12v12h-12zM796 686h12v12h-12zM1442 686h12v12h-12zM784 698h12v12h-12zM1442 698h12v12h-12zM784 710h12v12h-12zM1454 710h12v12h-12zM772 722h12v12h-12zM1454 722h12v12h-12zM772 734h12v13h-12zM1454 734h12v13h-12zM772 747h12v12h-12zM1454 747h12v12h-12zM772 759h12v12h-12zM1454 759h12v12h-12zM772 771h12v12h-12zM1454 771h12v12h-12zM772 783h12v12h-12zM1454 783h12v12h-12zM772 795h12v12h-12zM1454 795h12v12h-12zM772 807h12v13h-12zM1454 807h12v13h-12zM772 820h12v12h-12zM1454 820h12v12h-12zM772 832h12v12h-12zM1442 832h12v12h-12zM784 844h12v12h-12zM1442 844h12v12h-12zM784 856h12v12h-12zM1430 856h12v12h-12zM784 868h12v12h-12zM1430 868h12v12h-12zM796 880h12v13h-12zM1417 880h13v13h-13zM796 893h12v12h-12zM1405 893h12v12h-12zM808 905h13v12h-13zM1393 905h12v12h-12zM808 917h13v12h-13zM1381 917h12v12h-12zM821 929h12v12h-12zM1369 929h24v12h-24zM821 941h24v12h-24zM1369 941h12v12h-12zM833 953h12v12h-12zM1356 953h13v12h-13zM845 965h12v13h-12zM1356 965h13v13h-13zM845 978h12v12h-12zM1344 978h12v12h-12zM857 990h12v12h-12zM1332 990h12v12h-12zM869 1002h13v12h-13zM1332 1002h12v12h-12zM882 1014h12v12h-12zM1320 1014h12v12h-12zM894 1026h12v12h-12zM1296 1026h24v12h-24zM918 1038h12v13h-12zM1271 1038h25v13h-25zM942 1051h61v12h-61zM1028 1051h231v12h-231z"/>
<path fill="#f8faaf" d="M1003 479h61v12h-61zM1174 479h97v12h-97zM942 491h37v12h-37zM1296 491h24v12h-24zM918 503h24v13h-24zM1320 503h24v13h-24zM906 516h12v12h-12zM1344 516h25v12h-25zM894 528h12v12h-12zM1356 528h25v12h-25zM882 540h12v12h-12zM1369 540h24v12h-24zM869 552h25v12h-25zM1381 552h12v12h-12zM869 564h13v12h-13zM1393 564h12v12h-12zM857 576h12v13h-12zM1393 576h24v13h-24zM857 589h12v12h-12zM1405 589h12v12h-12zM845 601h12v12h-12zM1417 601h13v12h-13zM833 613h12v12h-12zM1417 613h25v12h-25zM821 625h24v12h-24zM1430 625h12v12h-12zM808 637h25v12h-25zM1430 637h24v12h-24zM808 649h13v12h-13zM1442 649h12v12h-12zM796 661h12v13h-12zM1442 661h24v13h-24zM784 674h12v12h-12zM1454 674h12v12h-12zM772 686h24v12h-24zM1454 686h12v12h-12zM772 698h12v12h-12zM1454 698h12v12h-12zM772 710h12v12h-12zM1466 710h12v12h-12zM760 722h12v12h-12zM1466 722h12v12h-12zM760 734h12v13h-12zM1466 734h12v13h-12zM760 747h12v12h-12zM1466 747h12v12h-12zM760 759h12v12h-12zM1466 759h12v12h-12zM760 771h12v12h-12zM1466 771h12v12h-12zM760 783h12v12h-12zM1466 783h12v12h-12zM760 795h12v12h-12zM1466 795h12v12h-12zM760 807h12v13h-12zM1466 807h12v13h-12zM760 820h12v12h-12zM1466 820h12v12h-12zM760 832h12v12h-12zM1454 832h12v12h-12zM772 844h12v12h-12zM1454 844h12v12h-12zM772 856h12v12h-12zM1442 856h24v12h-24zM772 868h12v12h-12zM1442 868h12v12h-12zM772 880h24v13h-24zM1430 880h12v13h-12zM784 893h12v12h-12zM1417 893h13v12h-13zM784 905h24v12h-24zM1405 905h25v12h-25zM796 917h12v12h-12zM1393 917h24v12h-24zM796 929h25v12h-25zM1393 929h12v12h-12zM808 941h13v12h-13zM1381 941h12v12h-12zM821 953h12v12h-12zM1369 953h12v12h-12zM821 965h24v13h-24zM1369 965h12v13h-12zM833 978h12v12h-12zM1356 978h13v12h-13zM845 990h12v12h-12zM1344 990h25v12h-25zM845 1002h24v12h-24zM1344 1002h12v12h-12zM857 1014h25v12h-25zM1332 1014h12v12h-12zM869 1026h25v12h-25zM1320 1026h12v12h-12zM894 1038h24v13h-24zM1296 1038h24v13h-24zM918 1051h24v12h-24zM1259 1051h37v12h-37zM967 1063h97v12h-97zM1174 1063h61v12h-61z"/>
<path fill="#fafab0" d="M955 479h48v12h-48zM1064 479h110v12h-110zM1271 479h49v12h-49zM918 491h24v12h-24zM1320 491h24v12h-24zM906 503h12v13h-12zM1344 503h25v13h-25zM894 516h12v12h-12zM1369 516h12v12h-12zM882 528h12v12h-12zM1381 528h12v12h-12zM869 540h13v12h-13zM1393 540h12v12h-12zM857 552h12v12h-12zM1393 552h24v12h-24zM857 564h12v12h-12zM1405 564h25v12h-25zM845 576h12v13h-12zM1417 576h13v13h-13zM833 589h24v12h-24zM1417 589h25v12h-25zM833 601h12v12h-12zM1430 601h24v12h-24zM821 613h12v12h-12zM1442 613h12v12h-12zM808 625h13v12h-13zM1442 625h24v12h-24zM796 637h12v12h-12zM1454 637h24v12h-24zM784 649h24v12h-24zM1454 649h24v12h-24zM784 661h12v13h-12zM1466 661h12v13h-12zM772 674h12v12h-12zM1466 674h12v12h-12zM760 686h12v12h-12zM1466 686h12v12h-12zM760 698h12v12h-12zM1466 698h24v12h-24zM760 710h12v12h-12zM1478 710h12v12h-12zM748 722h12v12h-12zM1478 722h12v12h-12zM748 734h12v13h-12zM1478 734h12v13h-12zM748 747h12v12h-12zM1478 747h12v12h-12zM748 759h12v12h-12zM1478 759h12v12h-12zM748 771h12v12h-12zM1478 771h12v12h-12zM748 783h12v12h-12zM1478 783h12v12h-12zM748 795h12v12h-12zM1478 795h12v12h-12zM748 807h12v13h-12zM1478 807h12v13h-12zM748 820h12v12h-12zM1478 820h12v12h-12zM748 832h12v12h-12zM1466 832h12v12h-12zM748 844h24v12h-24zM1466 844h12v12h-12zM760 856h12v12h-12zM1466 856h12v12h-12zM760 868h12v12h-12zM1454 868h12v12h-12zM760 880h12v13h-12zM1442 880h12v13h-12zM760 893h24v12h-24zM1430 893h24v12h-24zM760 905h24v12h-24zM1430 905h12v12h-12zM772 917h24v12h-24zM1417 917h13v12h-13zM784 929h12v12h-12zM1405 929h12v12h-12zM784 941h24v12h-24zM1393 941h12v12h-12zM796 953h25v12h-25zM1381 953h24v12h-24zM808 965h13v13h-13zM1381 965h12v13h-12zM808 978h25v12h-25zM1369 978h12v12h-12zM821 990h24v12h-24zM1369 990h12v12h-12zM833 1002h12v12h-12zM1356 1002h13v12h-13zM845 1014h12v12h-12zM1344 1014h12v12h-12zM857 1026h12v12h-12zM1332 1026h12v12h-12zM869 1038h25v13h-25zM1320 1038h12v13h-12zM894 1051h24v12h-24zM1296 1051h24v12h-24zM918 1063h49v12h-49zM1064 1063h110v12h-110zM1235 1063h48v12h-48z"/>
<path fill="#fbfab1" d="M967 467h341v12h-341zM930 479h25v12h-25zM1320 479h36v12h-36zM906 491h12v12h-12zM1344 491h37v12h-37zM894 503h12v13h-12zM1369 503h24v13h-24zM882 516h12v12h-12zM1381 516h24v12h-24zM869 528h13v12h-13zM1393 528h24v12h-24zM857 540h12v12h-12zM1405 540h25v12h-25zM845 552h12v12h-12zM1417 552h25v12h-25zM845 564h12v12h-12zM1430 564h24v12h-24zM833 576h12v13h-12zM1430 576h36v13h-36zM821 589h12v12h-12zM1442 589h24v12h-24zM808 601h25v12h-25zM1454 601h24v12h-24zM796 613h25v12h-25zM1454 613h36v12h-36zM796 625h12v12h-12zM1466 625h24v12h-24zM784 637h12v12h-12zM1478 637h25v12h-25zM772 649h12v12h-12zM1478 649h25v12h-25zM760 661h24v13h-24zM1478 661h25v13h-25zM760 674h12v12h-12zM1478 674h25v12h-25zM748 686h12v12h-12zM1478 686h25v12h-25zM748 698h12v12h-12zM1490 698h13v12h-13zM735 710h25v12h-25zM1490 710h13v12h-13zM735 722h13v12h-13zM1490 722h13v12h-13zM735 734h13v13h-13zM1490 734h13v13h-13zM735 747h13v12h-13zM1490 747h13v12h-13zM735 759h13v12h-13zM1490 759h13v12h-13zM735 771h13v12h-13zM1490 771h13v12h-13zM735 783h13v12h-13zM1490 783h13v12h-13zM735 795h13v12h-13zM1490 795h13v12h-13zM735 807h13v13h-13zM1490 807h13v13h-13zM735 820h13v12h-13zM1490 820h13v12h-13zM735 832h13v12h-13zM1478 832h25v12h-25zM735 844h13v12h-13zM1478 844h12v12h-12zM735 856h25v12h-25zM1478 856h12v12h-12zM735 868h25v12h-25zM1466 868h12v12h-12zM735 880h25v13h-25zM1454 880h24v13h-24zM735 893h25v12h-25zM1454 893h12v12h-12zM735 905h25v12h-25zM1442 905h12v12h-12zM748 917h24v12h-24zM1430 917h12v12h-12zM748 929h36v12h-36zM1417 929h25v12h-25zM760 941h24v12h-24zM1405 941h25v12h-25zM772 953h24v12h-24zM1405 953h12v12h-12zM772 965h36v13h-36zM1393 965h12v13h-12zM784 978h24v12h-24zM1381 978h12v12h-12zM796 990h25v12h-25zM1381 990h12v12h-12zM808 1002h25v12h-25zM1369 1002h12v12h-12zM821 1014h24v12h-24zM1356 1014h13v12h-13zM833 1026h24v12h-24zM1344 1026h12v12h-12zM845 1038h24v13h-24zM1332 1038h12v13h-12zM857 1051h37v12h-37zM1320 1051h12v12h-12zM882 1063h36v12h-36zM1283 1063h25v12h-25zM930 1075h341v12h-341z"/>
<path fill="#fdfab2" d="M1210 455h73v12h-73zM930 467h37v12h-37zM1308 467h48v12h-48zM906 479h24v12h-24zM1356 479h37v12h-37zM894 491h12v12h-12zM1381 491h24v12h-24zM882 503h12v13h-12zM1393 503h37v13h-37zM869 516h13v12h-13zM1405 516h37v12h-37zM857 528h12v12h-12zM1417 528h37v12h-37zM845 540h12v12h-12zM1430 540h24v12h-24zM833 552h12v12h-12zM1442 552h24v12h-24zM833 564h12v12h-12zM1454 564h24v12h-24zM821 576h12v13h-12zM1466 576h24v13h-24zM808 589h13v12h-13zM1466 589h37v12h-37zM796 601h12v12h-12zM1478 601h37v12h-37zM784 613h12v12h-12zM1490 613h37v12h-37zM772 625h24v12h-24zM1490 625h37v12h-37zM772 637h12v12h-12zM1503 637h24v12h-24zM760 649h12v12h-12zM1503 649h24v12h-24zM748 661h12v13h-12zM1503 661h24v13h-24zM748 674h12v12h-12zM1503 674h24v12h-24zM735 686h13v12h-13zM1503 686h12v12h-12zM735 698h13v12h-13zM1503 698h12v12h-12zM723 710h12v12h-12zM1503 710h12v12h-12zM723 722h12v12h-12zM1503 722h12v12h-12zM723 734h12v13h-12zM1503 734h12v13h-12zM723 747h12v12h-12zM1503 747h12v12h-12zM723 759h12v12h-12zM1503 759h12v12h-12zM723 771h12v12h-12zM1503 771h12v12h-12zM723 783h12v12h-12zM1503 783h12v12h-12zM723 795h12v12h-12zM1503 795h12v12h-12zM723 807h12v13h-12zM1503 807h12v13h-12zM723 820h12v12h-12zM1503 820h12v12h-12zM723 832h12v12h-12zM1503 832h12v12h-12zM723 844h12v12h-12zM1490 844h13v12h-13zM723 856h12v12h-12zM1490 856h13v12h-13zM711 868h24v12h-24zM1478 868h12v12h-12zM711 880h24v13h-24zM1478 880h12v13h-12zM711 893h24v12h-24zM1466 893h12v12h-12zM711 905h24v12h-24zM1454 905h12v12h-12zM711 917h37v12h-37zM1442 917h24v12h-24zM711 929h37v12h-37zM1442 929h12v12h-12zM723 941h37v12h-37zM1430 941h12v12h-12zM735 953h37v12h-37zM1417 953h13v12h-13zM748 965h24v13h-24zM1405 965h12v13h-12zM760 978h24v12h-24zM1393 978h12v12h-12zM772 990h24v12h-24zM1393 990h12v12h-12zM784 1002h24v12h-24zM1381 1002h12v12h-12zM784 1014h37v12h-37zM1369 1014h12v12h-12zM796 1026h37v12h-37zM1356 1026h13v12h-13zM808 1038h37v13h-37zM1344 1038h12v13h-12zM833 1051h24v12h-24zM1332 1051h12v12h-12zM845 1063h37v12h-37zM1308 1063h24v12h-24zM882 1075h48v12h-48zM1271 1075h37v12h-37zM955 1087h73v12h-73z"/>
<path fill="#fdf8af" d="M942 455h268v12h-268zM1283 455h73v12h-73zM906 467h24v12h-24zM1356 467h49v12h-49zM894 479h12v12h-12zM1393 479h37v12h-37zM869 491h25v12h-25zM1405 491h49v12h-49zM857 503h25v13h-25zM1430 503h36v13h-36zM857 516h12v12h-12zM1442 516h36v12h-36zM845 528h12v12h-12zM1454 528h24v12h-24zM833 540h12v12h-12zM1454 540h36v12h-36zM821 552h12v12h-12zM1466 552h37v12h-37zM821 564h12v12h-12zM1478 564h37v12h-37zM808 576h13v13h-13zM1490 576h37v13h-37zM796 589h12v12h-12zM1503 589h36v12h-36zM784 601h12v12h-12zM1515 601h49v12h-49zM772 613h12v12h-12zM1527 613h49v12h-49zM760 625h12v12h-12zM1527 625h49v12h-49zM760 637h12v12h-12zM1527 637h61v12h-61zM748 649h12v12h-12zM1527 649h49v12h-49zM735 661h13v13h-13zM1527 661h37v13h-37zM735 674h13v12h-13zM1527 674h24v12h-24zM723 686h12v12h-12zM1515 686h24v12h-24zM723 698h12v12h-12zM1515 698h24v12h-24zM711 710h12v12h-12zM1515 710h24v12h-24zM711 722h12v12h-12zM1515 722h12v12h-12zM711 734h12v13h-12zM1515 734h12v13h-12zM711 747h12v12h-12zM1515 747h12v12h-12zM711 759h12v12h-12zM1515 759h12v12h-12zM711 771h12v12h-12zM1515 771h12v12h-12zM711 783h12v12h-12zM1515 783h12v12h-12zM711 795h12v12h-12zM1515 795h12v12h-12zM711 807h12v13h-12zM1515 807h12v13h-12zM711 820h12v12h-12zM1515 820h12v12h-12zM699 832h24v12h-24zM1515 832h12v12h-12zM699 844h24v12h-24zM1503 844h12v12h-12zM699 856h24v12h-24zM1503 856h12v12h-12zM687 868h24v12h-24zM1490 868h13v12h-13zM674 880h37v13h-37zM1490 880h13v13h-13zM662 893h49v12h-49zM1478 893h12v12h-12zM650 905h61v12h-61zM1466 905h12v12h-12zM662 917h49v12h-49zM1466 917h12v12h-12zM662 929h49v12h-49zM1454 929h12v12h-12zM674 941h49v12h-49zM1442 941h12v12h-12zM699 953h36v12h-36zM1430 953h12v12h-12zM711 965h37v13h-37zM1417 965h13v13h-13zM723 978h37v12h-37zM1405 978h12v12h-12zM735 990h37v12h-37zM1405 990h12v12h-12zM748 1002h36v12h-36zM1393 1002h12v12h-12zM760 1014h24v12h-24zM1381 1014h12v12h-12zM760 1026h36v12h-36zM1369 1026h12v12h-12zM772 1038h36v13h-36zM1356 1038h25v13h-25zM784 1051h49v12h-49zM1344 1051h25v12h-25zM808 1063h37v12h-37zM1332 1063h12v12h-12zM833 1075h49v12h-49zM1308 1075h24v12h-24zM882 1087h73v12h-73zM1028 1087h268v12h-268z"/>
<path fill="#fdf6ab" d="M967 443h85v12h-85zM1186 443h170v12h-170zM918 455h24v12h-24zM1356 455h74v12h-74zM894 467h12v12h-12zM1405 467h49v12h-49zM869 479h25v12h-25zM1430 479h48v12h-48zM857 491h12v12h-12zM1454 491h36v12h-36zM845 503h12v13h-12zM1466 503h37v13h-37zM845 516h12v12h-12zM1478 516h25v12h-25zM833 528h12v12h-12zM1478 528h37v12h-37zM821 540h12v12h-12zM1490 540h37v12h-37zM808 552h13v12h-13zM1503 552h36v12h-36zM808 564h13v12h-13zM1515 564h36v12h-36zM796 576h12v13h-12zM1527 576h37v13h-37zM784 589h12v12h-12zM1539 589h49v12h-49zM772 601h12v12h-12zM1564 601h36v12h-36zM760 613h12v12h-12zM1576 613h36v12h-36zM748 625h12v12h-12zM1576 625h48v12h-48zM735 637h25v12h-25zM1588 637h49v12h-49zM735 649h13v12h-13zM1576 649h61v12h-61zM723 661h12v13h-12zM1564 661h73v13h-73zM723 674h12v12h-12zM1551 674h61v12h-61zM711 686h12v12h-12zM1539 686h49v12h-49zM711 698h12v12h-12zM1539 698h37v12h-37zM699 710h12v12h-12zM1539 710h25v12h-25zM699 722h12v12h-12zM1527 722h24v12h-24zM699 734h12v13h-12zM1527 734h24v13h-24zM699 747h12v12h-12zM1527 747h24v12h-24zM699 759h12v12h-12zM1527 759h24v12h-24zM687 771h24v12h-24zM1527 771h24v12h-24zM687 783h24v12h-24zM1527 783h12v12h-12zM687 795h24v12h-24zM1527 795h12v12h-12zM687 807h24v13h-24zM1527 807h12v13h-12zM687 820h24v12h-24zM1527 820h12v12h-12zM674 832h25v12h-25zM1527 832h12v12h-12zM662 844h37v12h-37zM1515 844h12v12h-12zM650 856h49v12h-49zM1515 856h12v12h-12zM626 868h61v12h-61zM1503 868h12v12h-12zM601 880h73v13h-73zM1503 880h12v13h-12zM601 893h61v12h-61zM1490 893h13v12h-13zM601 905h49v12h-49zM1478 905h25v12h-25zM614 917h48v12h-48zM1478 917h12v12h-12zM626 929h36v12h-36zM1466 929h12v12h-12zM638 941h36v12h-36zM1454 941h12v12h-12zM650 953h49v12h-49zM1442 953h12v12h-12zM674 965h37v13h-37zM1430 965h12v13h-12zM687 978h36v12h-36zM1417 978h13v12h-13zM699 990h36v12h-36zM1417 990h13v12h-13zM711 1002h37v12h-37zM1405 1002h12v12h-12zM723 1014h37v12h-37zM1393 1014h12v12h-12zM735 1026h25v12h-25zM1381 1026h12v12h-12zM735 1038h37v13h-37zM1381 1038h12v13h-12zM748 1051h36v12h-36zM1369 1051h12v12h-12zM760 1063h48v12h-48zM1344 1063h25v12h-25zM784 1075h49v12h-49zM1332 1075h12v12h-12zM808 1087h74v12h-74zM1296 1087h24v12h-24zM882 1099h170v12h-170zM1186 1099h85v12h-85z"/>
<path fill="#fef4a8" d="M1247 430h109v13h-109zM918 443h49v12h-49zM1052 443h134v12h-134zM1356 443h98v12h-98zM894 455h24v12h-24zM1430 455h60v12h-60zM869 467h25v12h-25zM1454 467h61v12h-61zM857 479h12v12h-12zM1478 479h37v12h-37zM845 491h12v12h-12zM1490 491h37v12h-37zM1503 503h24v13h-24zM833 516h12v12h-12zM1503 516h36v12h-36zM821 528h12v12h-12zM1515 528h24v12h-24zM808 540h13v12h-13zM1527 540h24v12h-24zM796 552h12v12h-12zM1539 552h25v12h-25zM784 564h24v12h-24zM1551 564h37v12h-37zM772 576h24v13h-24zM1564 576h36v13h-36zM760 589h24v12h-24zM1588 589h24v12h-24zM760 601h12v12h-12zM1600 601h37v12h-37zM748 613h12v12h-12zM1612 613h37v12h-37zM735 625h13v12h-13zM1624 625h37v12h-37zM723 637h12v12h-12zM1637 637h24v12h-24zM723 649h12v12h-12zM1637 649h36v12h-36zM711 661h12v13h-12zM1637 661h24v13h-24zM711 674h12v12h-12zM1612 674h49v12h-49zM699 686h12v12h-12zM1588 686h49v12h-49zM699 698h12v12h-12zM1576 698h48v12h-48zM687 710h12v12h-12zM1564 710h36v12h-36zM687 722h12v12h-12zM1551 722h25v12h-25zM687 734h12v13h-12zM1551 734h25v13h-25zM674 747h25v12h-25zM1551 747h13v12h-13zM674 759h25v12h-25zM1551 759h13v12h-13zM674 771h13v12h-13zM1551 771h13v12h-13zM674 783h13v12h-13zM1539 783h25v12h-25zM674 795h13v12h-13zM1539 795h25v12h-25zM662 807h25v13h-25zM1539 807h12v13h-12zM662 820h25v12h-25zM1539 820h12v12h-12zM638 832h36v12h-36zM1539 832h12v12h-12zM614 844h48v12h-48zM1527 844h12v12h-12zM601 856h49v12h-49zM1527 856h12v12h-12zM577 868h49v12h-49zM1515 868h12v12h-12zM577 880h24v13h-24zM1515 880h12v13h-12zM565 893h36v12h-36zM1503 893h12v12h-12zM577 905h24v12h-24zM1503 905h12v12h-12zM577 917h37v12h-37zM1490 917h13v12h-13zM589 929h37v12h-37zM1478 929h12v12h-12zM601 941h37v12h-37zM1466 941h12v12h-12zM626 953h24v12h-24zM1454 953h24v12h-24zM638 965h36v13h-36zM1442 965h24v13h-24zM650 978h37v12h-37zM1430 978h24v12h-24zM674 990h25v12h-25zM1430 990h12v12h-12zM687 1002h24v12h-24zM1417 1002h13v12h-13zM699 1014h24v12h-24zM1405 1014h12v12h-12zM699 1026h36v12h-36zM1393 1026h12v12h-12zM711 1038h24v13h-24zM711 1051h37v12h-37zM1381 1051h12v12h-12zM723 1063h37v12h-37zM1369 1063h12v12h-12zM723 1075h61v12h-61zM1344 1075h25v12h-25zM748 1087h60v12h-60zM1320 1087h24v12h-24zM784 1099h98v12h-98zM1052 1099h134v12h-134zM1271 1099h49v12h-49zM882 1111h109v13h-109z"/>
<path fill="#fef2a5" d="M930 430h159v13h-159zM1149 430h98v13h-98zM1356 430h147v13h-147zM894 443h24v12h-24zM1454 443h73v12h-73zM869 455h25v12h-25zM1490 455h49v12h-49zM857 467h12v12h-12zM1515 467h36v12h-36zM845 479h12v12h-12zM1515 479h36v12h-36zM833 491h12v12h-12zM1527 491h24v12h-24zM833 503h12v13h-12zM1527 503h24v13h-24zM821 516h12v12h-12zM1539 516h25v12h-25zM808 528h13v12h-13zM1539 528h25v12h-25zM796 540h12v12h-12zM1551 540h25v12h-25zM784 552h12v12h-12zM1564 552h36v12h-36zM772 564h12v12h-12zM1588 564h24v12h-24zM760 576h12v13h-12zM1600 576h24v13h-24zM748 589h12v12h-12zM1612 589h25v12h-25zM748 601h12v12h-12zM1637 601h12v12h-12zM735 613h13v12h-13zM1649 613h12v12h-12zM723 625h12v12h-12zM1661 625h12v12h-12zM711 637h12v12h-12zM1661 637h24v12h-24zM711 649h12v12h-12zM1673 649h12v12h-12zM699 661h12v13h-12zM1661 661h24v13h-24zM699 674h12v12h-12zM1661 674h24v12h-24zM687 686h12v12h-12zM1637 686h36v12h-36zM687 698h12v12h-12zM1624 698h37v12h-37zM674 710h13v12h-13zM1600 710h37v12h-37zM674 722h13v12h-13zM1576 722h36v12h-36zM662 734h25v13h-25zM1576 734h24v13h-24zM662 747h12v12h-12zM1564 747h24v12h-24zM662 759h12v12h-12zM1564 759h24v12h-24zM662 771h12v12h-12zM1564 771h12v12h-12zM650 783h24v12h-24zM1564 783h12v12h-12zM650 795h24v12h-24zM1564 795h12v12h-12zM638 807h24v13h-24zM1551 807h25v13h-25zM626 820h36v12h-36zM1551 820h13v12h-13zM601 832h37v12h-37zM1551 832h13v12h-13zM577 844h37v12h-37zM1539 844h12v12h-12zM565 856h36v12h-36zM1539 856h12v12h-12zM553 868h24v12h-24zM1527 868h12v12h-12zM553 880h24v13h-24zM1527 880h12v13h-12zM553 893h12v12h-12zM1515 893h12v12h-12zM553 905h24v12h-24zM1515 905h12v12h-12zM565 917h12v12h-12zM1503 917h12v12h-12zM577 929h12v12h-12zM1490 929h13v12h-13zM589 941h12v12h-12zM1478 941h12v12h-12zM601 953h25v12h-25zM1478 953h12v12h-12zM614 965h24v13h-24zM1466 965h12v13h-12zM626 978h24v12h-24zM1454 978h12v12h-12zM638 990h36v12h-36zM1442 990h12v12h-12zM662 1002h25v12h-25zM1430 1002h12v12h-12zM674 1014h25v12h-25zM1417 1014h13v12h-13zM674 1026h25v12h-25zM1405 1026h12v12h-12zM687 1038h24v13h-24zM1393 1038h12v13h-12zM687 1051h24v12h-24zM1393 1051h12v12h-12zM687 1063h36v12h-36zM1381 1063h12v12h-12zM687 1075h36v12h-36zM1369 1075h12v12h-12zM699 1087h49v12h-49zM1344 1087h25v12h-25zM711 1099h73v12h-73zM1320 1099h24v12h-24zM735 1111h147v13h-147zM991 1111h98v13h-98zM1149 1111h159v13h-159z"/>
<path fill="#fef0a1" d="M1210 418h329v12h-329zM906 430h24v13h-24zM1089 430h60v13h-60zM1503 430h48v13h-48zM869 443h25v12h-25zM1527 443h37v12h-37zM857 455h12v12h-12zM1539 455h25v12h-25zM845 467h12v12h-12zM1551 467h13v12h-13zM833 479h12v12h-12zM1551 479h13v12h-13zM821 491h12v12h-12zM1551 491h25v12h-25zM821 503h12v13h-12zM1551 503h25v13h-25zM808 516h13v12h-13zM1564 516h24v12h-24zM796 528h12v12h-12zM1564 528h24v12h-24zM784 540h12v12h-12zM1576 540h24v12h-24zM772 552h12v12h-12zM1600 552h24v12h-24zM760 564h12v12h-12zM1612 564h25v12h-25zM748 576h12v13h-12zM1624 576h25v13h-25zM735 589h13v12h-13zM1637 589h24v12h-24zM735 601h13v12h-13zM1649 601h24v12h-24zM723 613h12v12h-12zM1661 613h24v12h-24zM711 625h12v12h-12zM1673 625h24v12h-24zM699 637h12v12h-12zM1685 637h12v12h-12zM699 649h12v12h-12zM1685 649h25v12h-25zM687 661h12v13h-12zM1685 661h25v13h-25zM687 674h12v12h-12zM1685 674h25v12h-25zM674 686h13v12h-13zM1673 686h24v12h-24zM662 698h25v12h-25zM1661 698h24v12h-24zM662 710h12v12h-12zM1637 710h36v12h-36zM650 722h24v12h-24zM1612 722h37v12h-37zM650 734h12v13h-12zM1600 734h37v13h-37zM650 747h12v12h-12zM1588 747h24v12h-24zM650 759h12v12h-12zM1588 759h12v12h-12zM638 771h24v12h-24zM1576 771h24v12h-24zM638 783h12v12h-12zM1576 783h12v12h-12zM626 795h24v12h-24zM1576 795h12v12h-12zM601 807h37v13h-37zM1576 807h12v13h-12zM589 820h37v12h-37zM1564 820h24v12h-24zM565 832h36v12h-36zM1564 832h12v12h-12zM553 844h24v12h-24zM1551 844h25v12h-25zM541 856h24v12h-24zM1551 856h13v12h-13zM528 868h25v12h-25zM1539 868h12v12h-12zM528 880h25v13h-25zM1539 880h12v13h-12zM528 893h25v12h-25zM1527 893h12v12h-12zM541 905h12v12h-12zM1527 905h12v12h-12zM541 917h24v12h-24zM1515 917h12v12h-12zM553 929h24v12h-24zM1503 929h12v12h-12zM565 941h24v12h-24zM1490 941h13v12h-13zM577 953h24v12h-24zM1490 953h13v12h-13zM589 965h25v13h-25zM1478 965h12v13h-12zM601 978h25v12h-25zM1466 978h12v12h-12zM614 990h24v12h-24zM1454 990h12v12h-12zM638 1002h24v12h-24zM1442 1002h12v12h-12zM650 1014h24v12h-24zM1430 1014h12v12h-12zM650 1026h24v12h-24zM1417 1026h13v12h-13zM662 1038h25v13h-25zM1405 1038h12v13h-12zM662 1051h25v12h-25zM1405 1051h12v12h-12zM674 1063h13v12h-13zM1393 1063h12v12h-12zM674 1075h13v12h-13zM1381 1075h12v12h-12zM674 1087h25v12h-25zM1369 1087h12v12h-12zM674 1099h37v12h-37zM1344 1099h25v12h-25zM687 1111h48v13h-48zM1089 1111h60v13h-60zM1308 1111h24v13h-24zM699 1124h329v12h-329z"/>
<path fill="#feee9e" d="M1466 394h61v12h-61zM1259 406h292v12h-292zM906 418h304v12h-304zM1539 418h25v12h-25zM882 430h24v13h-24zM1551 430h25v13h-25zM857 443h12v12h-12zM1564 443h12v12h-12zM845 455h12v12h-12zM1564 455h12v12h-12zM833 467h12v12h-12zM1564 467h24v12h-24zM821 479h12v12h-12zM1564 479h24v12h-24zM808 491h13v12h-13zM1576 491h12v12h-12zM808 503h13v13h-13zM1576 503h24v13h-24zM796 516h12v12h-12zM1588 516h12v12h-12zM784 528h12v12h-12zM1588 528h24v12h-24zM772 540h12v12h-12zM1600 540h24v12h-24zM760 552h12v12h-12zM1624 552h13v12h-13zM748 564h12v12h-12zM1637 564h12v12h-12zM735 576h13v13h-13zM1649 576h12v13h-12zM723 589h12v12h-12zM1661 589h12v12h-12zM723 601h12v12h-12zM1673 601h12v12h-12zM711 613h12v12h-12zM1685 613h12v12h-12zM699 625h12v12h-12zM1697 625h13v12h-13zM687 637h12v12h-12zM1697 637h25v12h-25zM687 649h12v12h-12zM1710 649h12v12h-12zM674 661h13v13h-13zM1710 661h12v13h-12zM674 674h13v12h-13zM1710 674h12v12h-12zM662 686h12v12h-12zM1697 686h25v12h-25zM650 698h12v12h-12zM1685 698h25v12h-25zM650 710h12v12h-12zM1673 710h24v12h-24zM638 722h12v12h-12zM1649 722h36v12h-36zM638 734h12v13h-12zM1637 734h24v13h-24zM626 747h24v12h-24zM1612 747h37v12h-37zM626 759h24v12h-24zM1600 759h24v12h-24zM614 771h24v12h-24zM1600 771h24v12h-24zM614 783h24v12h-24zM1588 783h24v12h-24zM589 795h37v12h-37zM1588 795h24v12h-24zM577 807h24v13h-24zM1588 807h12v13h-12zM553 820h36v12h-36zM1588 820h12v12h-12zM541 832h24v12h-24zM1576 832h12v12h-12zM528 844h25v12h-25zM1576 844h12v12h-12zM516 856h25v12h-25zM1564 856h12v12h-12zM516 868h12v12h-12zM1551 868h13v12h-13zM516 880h12v13h-12zM1551 880h13v13h-13zM516 893h12v12h-12zM1539 893h12v12h-12zM516 905h25v12h-25zM1539 905h12v12h-12zM528 917h13v12h-13zM1527 917h12v12h-12zM541 929h12v12h-12zM1515 929h12v12h-12zM553 941h12v12h-12zM1503 941h12v12h-12zM565 953h12v12h-12zM1503 953h12v12h-12zM577 965h12v13h-12zM1490 965h13v13h-13zM589 978h12v12h-12zM1478 978h12v12h-12zM601 990h13v12h-13zM1466 990h12v12h-12zM614 1002h24v12h-24zM1454 1002h12v12h-12zM626 1014h24v12h-24zM1442 1014h12v12h-12zM638 1026h12v12h-12zM1430 1026h12v12h-12zM638 1038h24v13h-24zM1417 1038h13v13h-13zM650 1051h12v12h-12zM1417 1051h13v12h-13zM650 1063h24v12h-24zM1405 1063h12v12h-12zM650 1075h24v12h-24zM1393 1075h12v12h-12zM662 1087h12v12h-12zM1381 1087h12v12h-12zM662 1099h12v12h-12zM1369 1099h12v12h-12zM662 1111h25v13h-25zM1332 1111h24v13h-24zM674 1124h25v12h-25zM1028 1124h304v12h-304zM687 1136h292v12h-292zM711 1148h61v12h-61z"/>
<path fill="#feeb9a" d="M1442 382h97v12h-97zM1296 394h170v12h-170zM1527 394h37v12h-37zM942 406h61v12h-61zM1186 406h73v12h-73zM1551 406h25v12h-25zM882 418h24v12h-24zM1564 418h12v12h-12zM857 430h25v13h-25zM1576 430h12v13h-12zM845 443h12v12h-12zM1576 443h12v12h-12zM833 455h12v12h-12zM1576 455h12v12h-12zM821 467h12v12h-12zM1588 467h12v12h-12zM808 479h13v12h-13zM1588 479h12v12h-12zM1588 491h12v12h-12zM796 503h12v13h-12zM1600 503h12v13h-12zM784 516h12v12h-12zM1600 516h24v12h-24zM772 528h12v12h-12zM1612 528h12v12h-12zM760 540h12v12h-12zM1624 540h13v12h-13zM748 552h12v12h-12zM1637 552h12v12h-12zM735 564h13v12h-13zM1649 564h12v12h-12zM723 576h12v13h-12zM1661 576h12v13h-12zM711 589h12v12h-12zM1673 589h24v12h-24zM699 601h24v12h-24zM1685 601h25v12h-25zM699 613h12v12h-12zM1697 613h25v12h-25zM687 625h12v12h-12zM1710 625h12v12h-12zM674 637h13v12h-13zM1722 637h12v12h-12zM674 649h13v12h-13zM1722 649h12v12h-12zM662 661h12v13h-12zM1722 661h12v13h-12zM650 674h24v12h-24zM1722 674h12v12h-12zM650 686h12v12h-12zM1722 686h12v12h-12zM638 698h12v12h-12zM1710 698h24v12h-24zM626 710h24v12h-24zM1697 710h25v12h-25zM626 722h12v12h-12zM1685 722h25v12h-25zM614 734h24v13h-24zM1661 734h36v13h-36zM614 747h12v12h-12zM1649 747h24v12h-24zM601 759h25v12h-25zM1624 759h37v12h-37zM589 771h25v12h-25zM1624 771h25v12h-25zM577 783h37v12h-37zM1612 783h25v12h-25zM565 795h24v12h-24zM1612 795h12v12h-12zM541 807h36v13h-36zM1600 807h24v13h-24zM528 820h25v12h-25zM1600 820h12v12h-12zM516 832h25v12h-25zM1588 832h24v12h-24zM504 844h24v12h-24zM1588 844h12v12h-12zM504 856h12v12h-12zM1576 856h12v12h-12zM504 868h12v12h-12zM1564 868h24v12h-24zM504 880h12v13h-12zM1564 880h12v13h-12zM504 893h12v12h-12zM1551 893h13v12h-13zM504 905h12v12h-12zM1551 905h13v12h-13zM516 917h12v12h-12zM1539 917h12v12h-12zM516 929h25v12h-25zM1527 929h12v12h-12zM528 941h25v12h-25zM1515 941h24v12h-24zM541 953h24v12h-24zM1515 953h12v12h-12zM565 965h12v13h-12zM1503 965h12v13h-12zM577 978h12v12h-12zM1490 978h13v12h-13zM589 990h12v12h-12zM1478 990h12v12h-12zM601 1002h13v12h-13zM1466 1002h12v12h-12zM614 1014h12v12h-12zM1454 1014h12v12h-12zM614 1026h24v12h-24zM1442 1026h12v12h-12zM626 1038h12v13h-12zM1430 1038h12v13h-12zM638 1051h12v12h-12zM638 1063h12v12h-12zM1417 1063h13v12h-13zM638 1075h12v12h-12zM1405 1075h12v12h-12zM650 1087h12v12h-12zM1393 1087h12v12h-12zM650 1099h12v12h-12zM1381 1099h12v12h-12zM650 1111h12v13h-12zM1356 1111h25v13h-25zM662 1124h12v12h-12zM1332 1124h24v12h-24zM662 1136h25v12h-25zM979 1136h73v12h-73zM1235 1136h61v12h-61zM674 1148h37v12h-37zM772 1148h170v12h-170zM699 1160h97v12h-97z"/>
<path fill="#fee996" d="M1442 370h97v12h-97zM1320 382h122v12h-122zM1539 382h25v12h-25zM1223 394h73v12h-73zM1564 394h12v12h-12zM894 406h48v12h-48zM1003 406h183v12h-183zM1576 406h12v12h-12zM857 418h25v12h-25zM1576 418h12v12h-12zM845 430h12v13h-12zM1588 430h12v13h-12zM833 443h12v12h-12zM1588 443h12v12h-12zM821 455h12v12h-12zM1588 455h12v12h-12zM808 467h13v12h-13zM1600 467h12v12h-12zM796 479h12v12h-12zM1600 479h12v12h-12zM796 491h12v12h-12zM1600 491h24v12h-24zM784 503h12v13h-12zM1612 503h12v13h-12zM772 516h12v12h-12zM1624 516h13v12h-13zM760 528h12v12h-12zM1624 528h25v12h-25zM748 540h12v12h-12zM1637 540h12v12h-12zM735 552h13v12h-13zM1649 552h12v12h-12zM723 564h12v12h-12zM1661 564h24v12h-24zM711 576h12v13h-12zM1673 576h24v13h-24zM699 589h12v12h-12zM1697 589h13v12h-13zM687 601h12v12h-12zM1710 601h12v12h-12zM687 613h12v12h-12zM1722 613h12v12h-12zM674 625h13v12h-13zM1722 625h12v12h-12zM662 637h12v12h-12zM662 649h12v12h-12zM650 661h12v13h-12zM638 674h12v12h-12zM626 686h24v12h-24zM626 698h12v12h-12zM614 710h12v12h-12zM1722 710h12v12h-12zM601 722h25v12h-25zM1710 722h24v12h-24zM601 734h13v13h-13zM1697 734h37v13h-37zM589 747h25v12h-25zM1673 747h49v12h-49zM577 759h24v12h-24zM1661 759h36v12h-36zM565 771h24v12h-24zM1649 771h24v12h-24zM541 783h36v12h-36zM1637 783h24v12h-24zM516 795h49v12h-49zM1624 795h25v12h-25zM504 807h37v13h-37zM1624 807h13v13h-13zM504 820h24v12h-24zM1612 820h25v12h-25zM504 832h12v12h-12zM1612 832h12v12h-12zM1600 844h12v12h-12zM1588 856h24v12h-24zM1588 868h12v12h-12zM1576 880h12v13h-12zM1564 893h12v12h-12zM1564 905h12v12h-12zM504 917h12v12h-12zM1551 917h13v12h-13zM504 929h12v12h-12zM1539 929h12v12h-12zM516 941h12v12h-12zM1539 941h12v12h-12zM528 953h13v12h-13zM1527 953h12v12h-12zM541 965h24v13h-24zM1515 965h12v13h-12zM553 978h24v12h-24zM1503 978h12v12h-12zM577 990h12v12h-12zM1490 990h13v12h-13zM589 1002h12v12h-12zM1478 1002h12v12h-12zM589 1014h25v12h-25zM1466 1014h12v12h-12zM601 1026h13v12h-13zM1454 1026h12v12h-12zM614 1038h12v13h-12zM1442 1038h12v13h-12zM614 1051h24v12h-24zM1430 1051h12v12h-12zM626 1063h12v12h-12zM1430 1063h12v12h-12zM626 1075h12v12h-12zM1417 1075h13v12h-13zM638 1087h12v12h-12zM1405 1087h12v12h-12zM638 1099h12v12h-12zM1393 1099h12v12h-12zM638 1111h12v13h-12zM1381 1111h12v13h-12zM650 1124h12v12h-12zM1356 1124h25v12h-25zM650 1136h12v12h-12zM1052 1136h183v12h-183zM1296 1136h48v12h-48zM662 1148h12v12h-12zM942 1148h73v12h-73zM674 1160h25v12h-25zM796 1160h122v12h-122zM699 1172h97v12h-97z"/>
<path fill="#fee692" d="M1442 358h97v12h-97zM1344 370h98v12h-98zM1539 370h25v12h-25zM1259 382h61v12h-61zM1564 382h24v12h-24zM906 394h134v12h-134zM1149 394h74v12h-74zM1576 394h12v12h-12zM857 406h37v12h-37zM1588 406h12v12h-12zM833 418h24v12h-24zM1588 418h12v12h-12zM821 430h24v13h-24zM1600 430h12v13h-12zM808 443h25v12h-25zM1600 443h12v12h-12zM808 455h13v12h-13zM1600 455h12v12h-12zM796 467h12v12h-12zM1612 467h12v12h-12zM784 479h12v12h-12zM1612 479h12v12h-12zM784 491h12v12h-12zM1624 491h13v12h-13zM772 503h12v13h-12zM1624 503h13v13h-13zM760 516h12v12h-12zM1637 516h12v12h-12zM748 528h12v12h-12zM1649 528h12v12h-12zM735 540h13v12h-13zM1649 540h24v12h-24zM723 552h12v12h-12zM1661 552h24v12h-24zM711 564h12v12h-12zM1685 564h12v12h-12zM699 576h12v13h-12zM1697 576h13v13h-13zM687 589h12v12h-12zM1710 589h12v12h-12zM674 601h13v12h-13zM1722 601h12v12h-12zM674 613h13v12h-13zM662 625h12v12h-12zM650 637h12v12h-12zM638 649h24v12h-24zM638 661h12v13h-12zM626 674h12v12h-12zM614 686h12v12h-12zM601 698h25v12h-25zM601 710h13v12h-13zM589 722h12v12h-12zM577 734h24v13h-24zM565 747h24v12h-24zM1722 747h12v12h-12zM553 759h24v12h-24zM1697 759h37v12h-37zM528 771h37v12h-37zM1673 771h37v12h-37zM504 783h37v12h-37zM1661 783h24v12h-24zM504 795h12v12h-12zM1649 795h24v12h-24zM1637 807h24v13h-24zM1637 820h12v12h-12zM1624 832h13v12h-13zM1612 844h25v12h-25zM1612 856h12v12h-12zM1600 868h12v12h-12zM1588 880h12v13h-12zM1576 893h24v12h-24zM1576 905h12v12h-12zM1564 917h12v12h-12zM1551 929h13v12h-13zM504 941h12v12h-12zM1551 941h13v12h-13zM516 953h12v12h-12zM1539 953h12v12h-12zM528 965h13v13h-13zM1527 965h12v13h-12zM541 978h12v12h-12zM1515 978h12v12h-12zM553 990h24v12h-24zM1503 990h12v12h-12zM565 1002h24v12h-24zM1490 1002h13v12h-13zM577 1014h12v12h-12zM1478 1014h12v12h-12zM589 1026h12v12h-12zM1466 1026h12v12h-12zM601 1038h13v13h-13zM1454 1038h12v13h-12zM601 1051h13v12h-13zM1442 1051h12v12h-12zM614 1063h12v12h-12zM1442 1063h12v12h-12zM614 1075h12v12h-12zM1430 1075h12v12h-12zM626 1087h12v12h-12zM1417 1087h13v12h-13zM626 1099h12v12h-12zM1405 1099h25v12h-25zM626 1111h12v13h-12zM1393 1111h24v13h-24zM638 1124h12v12h-12zM1381 1124h24v12h-24zM638 1136h12v12h-12zM1344 1136h37v12h-37zM650 1148h12v12h-12zM1015 1148h74v12h-74zM1198 1148h134v12h-134zM650 1160h24v12h-24zM918 1160h61v12h-61zM674 1172h25v12h-25zM796 1172h98v12h-98zM699 1184h97v12h-97z"/>
<path fill="#fee38e" d="M1466 345h49v13h-49zM1369 358h73v12h-73zM1539 358h25v12h-25zM1283 370h61v12h-61zM1564 370h24v12h-24zM1198 382h61v12h-61zM1588 382h12v12h-12zM869 394h37v12h-37zM1040 394h109v12h-109zM1588 394h12v12h-12zM833 406h24v12h-24zM1600 406h12v12h-12zM821 418h12v12h-12zM1600 418h12v12h-12zM808 430h13v13h-13zM1612 430h12v13h-12zM796 443h12v12h-12zM1612 443h12v12h-12zM796 455h12v12h-12zM1612 455h12v12h-12zM784 467h12v12h-12zM1624 467h13v12h-13zM1624 479h13v12h-13zM772 491h12v12h-12zM1637 491h12v12h-12zM760 503h12v13h-12zM1637 503h12v13h-12zM748 516h12v12h-12zM1649 516h12v12h-12zM735 528h13v12h-13zM1661 528h12v12h-12zM723 540h12v12h-12zM1673 540h12v12h-12zM711 552h12v12h-12zM1685 552h12v12h-12zM699 564h12v12h-12zM1697 564h25v12h-25zM687 576h12v13h-12zM1710 576h24v13h-24zM674 589h13v12h-13zM1722 589h12v12h-12zM662 601h12v12h-12zM650 613h24v12h-24zM650 625h12v12h-12zM638 637h12v12h-12zM626 649h12v12h-12zM614 661h24v13h-24zM601 674h25v12h-25zM589 686h25v12h-25zM589 698h12v12h-12zM577 710h24v12h-24zM565 722h24v12h-24zM553 734h24v13h-24zM528 747h37v12h-37zM504 759h49v12h-49zM504 771h24v12h-24zM1710 771h24v12h-24zM1685 783h49v12h-49zM1673 795h37v12h-37zM1661 807h24v13h-24zM1649 820h24v12h-24zM1637 832h24v12h-24zM1637 844h12v12h-12zM1624 856h25v12h-25zM1612 868h25v12h-25zM1600 880h24v13h-24zM1600 893h12v12h-12zM1588 905h12v12h-12zM1576 917h12v12h-12zM1564 929h24v12h-24zM1564 941h12v12h-12zM504 953h12v12h-12zM1551 953h13v12h-13zM504 965h24v13h-24zM1539 965h12v13h-12zM516 978h25v12h-25zM1527 978h12v12h-12zM541 990h12v12h-12zM1515 990h12v12h-12zM553 1002h12v12h-12zM1503 1002h12v12h-12zM565 1014h12v12h-12zM1490 1014h13v12h-13zM577 1026h12v12h-12zM1478 1026h12v12h-12zM589 1038h12v13h-12zM1466 1038h12v13h-12zM589 1051h12v12h-12zM1454 1051h12v12h-12zM601 1063h13v12h-13zM601 1075h13v12h-13zM1442 1075h12v12h-12zM614 1087h12v12h-12zM1430 1087h12v12h-12zM614 1099h12v12h-12zM1430 1099h12v12h-12zM614 1111h12v13h-12zM1417 1111h13v13h-13zM626 1124h12v12h-12zM1405 1124h12v12h-12zM626 1136h12v12h-12zM1381 1136h24v12h-24zM638 1148h12v12h-12zM1089 1148h109v12h-109zM1332 1148h37v12h-37zM638 1160h12v12h-12zM979 1160h61v12h-61zM650 1172h24v12h-24zM894 1172h61v12h-61zM674 1184h25v12h-25zM796 1184h73v12h-73zM723 1196h49v13h-49z"/>
<path fill="#fee18a" d="M1381 345h85v13h-85zM1515 345h49v13h-49zM1308 358h61v12h-61zM1564 358h24v12h-24zM1223 370h60v12h-60zM1588 370h12v12h-12zM869 382h329v12h-329zM1600 382h12v12h-12zM833 394h36v12h-36zM1600 394h12v12h-12zM821 406h12v12h-12zM1612 406h12v12h-12zM808 418h13v12h-13zM1612 418h12v12h-12zM796 430h12v13h-12zM784 443h12v12h-12zM1624 443h13v12h-13zM784 455h12v12h-12zM1624 455h13v12h-13zM772 467h12v12h-12zM1637 467h12v12h-12zM772 479h12v12h-12zM1637 479h12v12h-12zM760 491h12v12h-12zM1649 491h12v12h-12zM748 503h12v13h-12zM1649 503h12v13h-12zM735 516h13v12h-13zM1661 516h12v12h-12zM723 528h12v12h-12zM1673 528h12v12h-12zM711 540h12v12h-12zM1685 540h25v12h-25zM699 552h12v12h-12zM1697 552h37v12h-37zM674 564h25v12h-25zM1722 564h12v12h-12zM674 576h13v13h-13zM662 589h12v12h-12zM650 601h12v12h-12zM638 613h12v12h-12zM626 625h24v12h-24zM614 637h24v12h-24zM601 649h25v12h-25zM589 661h25v13h-25zM577 674h24v12h-24zM565 686h24v12h-24zM565 698h24v12h-24zM553 710h24v12h-24zM541 722h24v12h-24zM504 734h49v13h-49zM504 747h24v12h-24zM1710 795h24v12h-24zM1685 807h49v13h-49zM1673 820h24v12h-24zM1661 832h24v12h-24zM1649 844h24v12h-24zM1649 856h24v12h-24zM1637 868h24v12h-24zM1624 880h25v13h-25zM1612 893h25v12h-25zM1600 905h24v12h-24zM1588 917h24v12h-24zM1588 929h12v12h-12zM1576 941h12v12h-12zM1564 953h12v12h-12zM1551 965h13v13h-13zM504 978h12v12h-12zM1539 978h25v12h-25zM504 990h37v12h-37zM1527 990h12v12h-12zM528 1002h25v12h-25zM1515 1002h12v12h-12zM553 1014h12v12h-12zM1503 1014h12v12h-12zM565 1026h12v12h-12zM1490 1026h13v12h-13zM577 1038h12v13h-12zM1478 1038h12v13h-12zM577 1051h12v12h-12zM1466 1051h12v12h-12zM589 1063h12v12h-12zM1454 1063h12v12h-12zM589 1075h12v12h-12zM1454 1075h12v12h-12zM601 1087h13v12h-13zM1442 1087h12v12h-12zM601 1099h13v12h-13zM1442 1099h12v12h-12zM1430 1111h12v13h-12zM614 1124h12v12h-12zM1417 1124h13v12h-13zM614 1136h12v12h-12zM1405 1136h12v12h-12zM626 1148h12v12h-12zM1369 1148h36v12h-36zM626 1160h12v12h-12zM1040 1160h329v12h-329zM638 1172h12v12h-12zM955 1172h60v12h-60zM650 1184h24v12h-24zM869 1184h61v12h-61zM674 1196h49v13h-49zM772 1196h85v13h-85z"/>
<path fill="#fede86" d="M1405 333h134v12h-134zM1320 345h61v13h-61zM1564 345h24v13h-24zM1247 358h61v12h-61zM1588 358h12v12h-12zM894 370h24v12h-24zM1174 370h49v12h-49zM1600 370h12v12h-12zM833 382h36v12h-36zM1612 382h12v12h-12zM808 394h25v12h-25zM1612 394h12v12h-12zM796 406h25v12h-25zM1624 406h13v12h-13zM784 418h24v12h-24zM1624 418h13v12h-13zM784 430h12v13h-12zM1624 430h13v13h-13zM772 443h12v12h-12zM1637 443h12v12h-12zM772 455h12v12h-12zM1637 455h12v12h-12zM760 467h12v12h-12zM760 479h12v12h-12zM1649 479h12v12h-12zM748 491h12v12h-12zM1661 491h12v12h-12zM735 503h13v13h-13zM1661 503h12v13h-12zM723 516h12v12h-12zM1673 516h12v12h-12zM711 528h12v12h-12zM1685 528h25v12h-25zM687 540h24v12h-24zM1710 540h24v12h-24zM674 552h25v12h-25zM662 564h12v12h-12zM650 576h24v13h-24zM504 589h12v12h-12zM638 589h24v12h-24zM504 601h24v12h-24zM626 601h24v12h-24zM504 613h37v12h-37zM614 613h24v12h-24zM577 625h49v12h-49zM553 637h61v12h-61zM553 649h48v12h-48zM553 661h36v13h-36zM541 674h36v12h-36zM541 686h24v12h-24zM528 698h37v12h-37zM504 710h49v12h-49zM504 722h37v12h-37zM1697 820h37v12h-37zM1685 832h49v12h-49zM1673 844h37v12h-37zM1673 856h24v12h-24zM1661 868h36v12h-36zM1649 880h36v13h-36zM1637 893h48v12h-48zM1624 905h61v12h-61zM1612 917h49v12h-49zM1600 929h24v12h-24zM1697 929h37v12h-37zM1588 941h24v12h-24zM1710 941h24v12h-24zM1576 953h24v12h-24zM1722 953h12v12h-12zM1564 965h24v13h-24zM1564 978h12v12h-12zM1539 990h25v12h-25zM504 1002h24v12h-24zM1527 1002h24v12h-24zM528 1014h25v12h-25zM1515 1014h12v12h-12zM553 1026h12v12h-12zM1503 1026h12v12h-12zM565 1038h12v13h-12zM1490 1038h13v13h-13zM565 1051h12v12h-12zM1478 1051h12v12h-12zM577 1063h12v12h-12zM1466 1063h12v12h-12zM1466 1075h12v12h-12zM589 1087h12v12h-12zM1454 1087h12v12h-12zM589 1099h12v12h-12zM1454 1099h12v12h-12zM601 1111h13v13h-13zM1442 1111h12v13h-12zM601 1124h13v12h-13zM1430 1124h24v12h-24zM601 1136h13v12h-13zM1417 1136h25v12h-25zM614 1148h12v12h-12zM1405 1148h25v12h-25zM614 1160h12v12h-12zM1369 1160h36v12h-36zM626 1172h12v12h-12zM1015 1172h49v12h-49zM1320 1172h24v12h-24zM638 1184h12v12h-12zM930 1184h61v12h-61zM650 1196h24v13h-24zM857 1196h61v13h-61zM699 1209h134v12h-134z"/>
<path fill="#fedb83" d="M1430 321h73v12h-73zM1344 333h61v12h-61zM1539 333h37v12h-37zM1271 345h49v13h-49zM1588 345h24v13h-24zM1210 358h37v12h-37zM1600 358h24v12h-24zM833 370h61v12h-61zM918 370h256v12h-256zM1612 370h12v12h-12zM808 382h25v12h-25zM1624 382h13v12h-13zM796 394h12v12h-12zM1624 394h13v12h-13zM784 406h12v12h-12zM1637 406h12v12h-12zM772 418h12v12h-12zM1637 418h12v12h-12zM772 430h12v13h-12zM1637 430h12v13h-12zM760 443h12v12h-12zM1649 443h12v12h-12zM760 455h12v12h-12zM1649 455h12v12h-12zM748 467h12v12h-12zM1649 467h24v12h-24zM748 479h12v12h-12zM1661 479h12v12h-12zM735 491h13v12h-13zM1673 491h12v12h-12zM723 503h12v13h-12zM1673 503h24v13h-24zM711 516h12v12h-12zM1685 516h49v12h-49zM687 528h24v12h-24zM1710 528h24v12h-24zM674 540h13v12h-13zM650 552h24v12h-24zM638 564h24v12h-24zM504 576h37v13h-37zM626 576h24v13h-24zM516 589h122v12h-122zM528 601h98v12h-98zM541 613h73v12h-73zM504 625h73v12h-73zM504 637h49v12h-49zM504 649h49v12h-49zM504 661h49v13h-49zM504 674h37v12h-37zM504 686h37v12h-37zM504 698h24v12h-24zM1710 844h24v12h-24zM1697 856h37v12h-37zM1697 868h37v12h-37zM1685 880h49v13h-49zM1685 893h49v12h-49zM1685 905h49v12h-49zM1661 917h73v12h-73zM1624 929h73v12h-73zM1612 941h98v12h-98zM1600 953h122v12h-122zM1588 965h24v13h-24zM1697 965h37v13h-37zM1576 978h24v12h-24zM1564 990h24v12h-24zM1551 1002h13v12h-13zM504 1014h24v12h-24zM1527 1014h24v12h-24zM504 1026h49v12h-49zM1515 1026h12v12h-12zM541 1038h24v13h-24zM1503 1038h12v13h-12zM553 1051h12v12h-12zM1490 1051h13v12h-13zM565 1063h12v12h-12zM1478 1063h12v12h-12zM565 1075h24v12h-24zM1478 1075h12v12h-12zM577 1087h12v12h-12zM1466 1087h12v12h-12zM577 1099h12v12h-12zM1466 1099h12v12h-12zM589 1111h12v13h-12zM1454 1111h12v13h-12zM589 1124h12v12h-12zM1454 1124h12v12h-12zM589 1136h12v12h-12zM1442 1136h12v12h-12zM601 1148h13v12h-13zM1430 1148h12v12h-12zM601 1160h13v12h-13zM1405 1160h25v12h-25zM614 1172h12v12h-12zM1064 1172h256v12h-256zM1344 1172h61v12h-61zM614 1184h24v12h-24zM991 1184h37v12h-37zM626 1196h24v13h-24zM918 1196h49v13h-49zM662 1209h37v12h-37zM833 1209h61v12h-61zM735 1221h73v12h-73z"/>
<path fill="#fed880" d="M1369 321h61v12h-61zM1503 321h48v12h-48zM1296 333h48v12h-48zM1576 333h36v12h-36zM1223 345h48v13h-48zM1612 345h12v13h-12zM821 358h134v12h-134zM1149 358h61v12h-61zM1624 358h13v12h-13zM808 370h25v12h-25zM1624 370h25v12h-25zM784 382h24v12h-24zM1637 382h12v12h-12zM772 394h24v12h-24zM1637 394h24v12h-24zM760 406h24v12h-24zM1649 406h12v12h-12zM760 418h12v12h-12zM1649 418h12v12h-12zM748 430h24v13h-24zM1649 430h24v13h-24zM748 443h12v12h-12zM1661 443h12v12h-12zM748 455h12v12h-12zM1661 455h12v12h-12zM1673 467h12v12h-12zM735 479h13v12h-13zM1673 479h24v12h-24zM723 491h12v12h-12zM1685 491h49v12h-49zM711 503h12v13h-12zM1697 503h37v13h-37zM699 516h12v12h-12zM674 528h13v12h-13zM650 540h24v12h-24zM626 552h24v12h-24zM504 564h61v12h-61zM601 564h37v12h-37zM541 576h85v13h-85zM1612 965h85v13h-85zM1600 978h37v12h-37zM1673 978h61v12h-61zM1588 990h24v12h-24zM1564 1002h24v12h-24zM1551 1014h13v12h-13zM1527 1026h12v12h-12zM504 1038h37v13h-37zM1515 1038h12v13h-12zM504 1051h49v12h-49zM1503 1051h12v12h-12zM541 1063h24v12h-24zM1490 1063h13v12h-13zM553 1075h12v12h-12zM565 1087h12v12h-12zM1478 1087h12v12h-12zM565 1099h12v12h-12zM1478 1099h12v12h-12zM565 1111h24v13h-24zM1466 1111h24v13h-24zM577 1124h12v12h-12zM1466 1124h12v12h-12zM577 1136h12v12h-12zM1454 1136h24v12h-24zM577 1148h24v12h-24zM1442 1148h24v12h-24zM589 1160h12v12h-12zM1430 1160h24v12h-24zM589 1172h25v12h-25zM1405 1172h25v12h-25zM601 1184h13v12h-13zM1028 1184h61v12h-61zM1283 1184h134v12h-134zM614 1196h12v13h-12zM967 1196h48v13h-48zM626 1209h36v12h-36zM894 1209h48v12h-48zM687 1221h48v12h-48zM808 1221h61v12h-61z"/>
<path fill="#fed47d" d="M1381 309h122v12h-122zM1308 321h61v12h-61zM1551 321h61v12h-61zM821 333h24v12h-24zM1247 333h49v12h-49zM1612 333h37v12h-37zM808 345h98v13h-98zM1186 345h37v13h-37zM1624 345h25v13h-25zM796 358h25v12h-25zM955 358h194v12h-194zM1637 358h24v12h-24zM784 370h24v12h-24zM1649 370h12v12h-12zM760 382h24v12h-24zM1649 382h24v12h-24zM760 394h12v12h-12zM1661 394h12v12h-12zM748 406h12v12h-12zM1661 406h24v12h-24zM748 418h12v12h-12zM1661 418h24v12h-24zM735 430h13v13h-13zM1673 430h12v13h-12zM735 443h13v12h-13zM1673 443h24v12h-24zM1722 443h12v12h-12zM735 455h13v12h-13zM1673 455h24v12h-24zM1722 455h12v12h-12zM735 467h13v12h-13zM1685 467h49v12h-49zM723 479h12v12h-12zM1697 479h37v12h-37zM711 491h12v12h-12zM699 503h12v13h-12zM674 516h25v12h-25zM650 528h24v12h-24zM614 540h36v12h-36zM504 552h122v12h-122zM565 564h36v12h-36zM1637 978h36v12h-36zM1612 990h122v12h-122zM1588 1002h36v12h-36zM1564 1014h24v12h-24zM1539 1026h25v12h-25zM1527 1038h12v13h-12zM1515 1051h12v12h-12zM504 1063h37v12h-37zM1503 1063h12v12h-12zM504 1075h49v12h-49zM1490 1075h13v12h-13zM504 1087h12v12h-12zM541 1087h24v12h-24zM1490 1087h13v12h-13zM504 1099h12v12h-12zM541 1099h24v12h-24zM1490 1099h13v12h-13zM553 1111h12v13h-12zM1490 1111h13v13h-13zM553 1124h24v12h-24zM1478 1124h12v12h-12zM553 1136h24v12h-24zM1478 1136h12v12h-12zM565 1148h12v12h-12zM1466 1148h12v12h-12zM565 1160h24v12h-24zM1454 1160h24v12h-24zM577 1172h12v12h-12zM1430 1172h24v12h-24zM577 1184h24v12h-24zM1089 1184h194v12h-194zM1417 1184h25v12h-25zM589 1196h25v13h-25zM1015 1196h37v13h-37zM1332 1196h98v13h-98zM589 1209h37v12h-37zM942 1209h49v12h-49zM1393 1209h24v12h-24zM626 1221h61v12h-61zM869 1221h61v12h-61zM735 1233h122v12h-122z"/>
<path fill="#fed17a" d="M1685 272h37v13h-37zM784 285h49v12h-49zM1661 285h73v12h-73zM772 297h73v12h-73zM1430 297h12v12h-12zM1649 297h85v12h-85zM784 309h61v12h-61zM1332 309h49v12h-49zM1503 309h48v12h-48zM1612 309h122v12h-122zM784 321h85v12h-85zM1271 321h37v12h-37zM1612 321h122v12h-122zM784 333h37v12h-37zM845 333h49v12h-49zM1210 333h37v12h-37zM1649 333h36v12h-36zM784 345h24v13h-24zM906 345h49v13h-49zM1113 345h73v13h-73zM1649 345h24v13h-24zM772 358h24v12h-24zM1661 358h24v12h-24zM760 370h24v12h-24zM1661 370h24v12h-24zM1722 370h12v12h-12zM748 382h12v12h-12zM1673 382h61v12h-61zM735 394h25v12h-25zM1673 394h61v12h-61zM735 406h13v12h-13zM1685 406h49v12h-49zM735 418h13v12h-13zM1685 418h49v12h-49zM1685 430h49v13h-49zM723 443h12v12h-12zM1697 443h25v12h-25zM723 455h12v12h-12zM1697 455h25v12h-25zM723 467h12v12h-12zM711 479h12v12h-12zM699 491h12v12h-12zM674 503h25v13h-25zM638 516h36v12h-36zM601 528h49v12h-49zM504 540h110v12h-110zM1624 1002h110v12h-110zM1588 1014h49v12h-49zM1564 1026h36v12h-36zM1539 1038h25v13h-25zM1527 1051h12v12h-12zM1515 1063h12v12h-12zM1503 1075h12v12h-12zM516 1087h25v12h-25zM1503 1087h12v12h-12zM516 1099h25v12h-25zM1503 1099h12v12h-12zM504 1111h49v13h-49zM504 1124h49v12h-49zM1490 1124h13v12h-13zM504 1136h49v12h-49zM1490 1136h13v12h-13zM504 1148h61v12h-61zM1478 1148h25v12h-25zM504 1160h61v12h-61zM1478 1160h12v12h-12zM504 1172h12v12h-12zM553 1172h24v12h-24zM1454 1172h24v12h-24zM553 1184h24v12h-24zM1442 1184h24v12h-24zM565 1196h24v13h-24zM1052 1196h73v13h-73zM1283 1196h49v13h-49zM1430 1196h24v13h-24zM553 1209h36v12h-36zM991 1209h37v12h-37zM1344 1209h49v12h-49zM1417 1209h37v12h-37zM504 1221h122v12h-122zM930 1221h37v12h-37zM1369 1221h85v12h-85zM504 1233h122v12h-122zM687 1233h48v12h-48zM857 1233h49v12h-49zM1393 1233h61v12h-61zM504 1245h85v12h-85zM796 1245h12v12h-12zM1393 1245h73v12h-73zM504 1257h73v12h-73zM1405 1257h49v12h-49zM516 1269h37v13h-37z"/>
<path fill="#fece77" d="M1697 260h13v12h-13zM772 272h61v13h-61zM1661 272h24v13h-24zM1722 272h12v13h-12zM760 285h24v12h-24zM833 285h12v12h-12zM1637 285h24v12h-24zM760 297h12v12h-12zM845 297h12v12h-12zM1356 297h74v12h-74zM1442 297h61v12h-61zM1624 297h25v12h-25zM760 309h24v12h-24zM845 309h24v12h-24zM1296 309h36v12h-36zM1551 309h61v12h-61zM760 321h24v12h-24zM869 321h13v12h-13zM1235 321h36v12h-36zM760 333h24v12h-24zM894 333h24v12h-24zM1162 333h48v12h-48zM1685 333h49v12h-49zM760 345h24v13h-24zM955 345h158v13h-158zM1673 345h61v13h-61zM760 358h12v12h-12zM1685 358h49v12h-49zM748 370h12v12h-12zM1685 370h37v12h-37zM735 382h13v12h-13zM723 394h12v12h-12zM723 406h12v12h-12zM723 418h12v12h-12zM723 430h12v13h-12zM711 443h12v12h-12zM711 455h12v12h-12zM711 467h12v12h-12zM699 479h12v12h-12zM674 491h25v12h-25zM638 503h36v13h-36zM601 516h37v12h-37zM504 528h97v12h-97zM1637 1014h97v12h-97zM1600 1026h37v12h-37zM1564 1038h36v13h-36zM1539 1051h25v12h-25zM1527 1063h12v12h-12zM1515 1075h12v12h-12zM1515 1087h12v12h-12zM1515 1099h12v12h-12zM1503 1111h12v13h-12zM1503 1124h12v12h-12zM1503 1136h12v12h-12zM1503 1148h12v12h-12zM1490 1160h13v12h-13zM516 1172h37v12h-37zM1478 1172h12v12h-12zM504 1184h49v12h-49zM1466 1184h12v12h-12zM504 1196h61v13h-61zM1125 1196h158v13h-158zM1454 1196h24v13h-24zM504 1209h49v12h-49zM1028 1209h48v12h-48zM1320 1209h24v12h-24zM1454 1209h24v12h-24zM967 1221h36v12h-36zM1356 1221h13v12h-13zM1454 1221h24v12h-24zM626 1233h61v12h-61zM906 1233h36v12h-36zM1369 1233h24v12h-24zM1454 1233h24v12h-24zM589 1245h25v12h-25zM735 1245h61v12h-61zM808 1245h74v12h-74zM1381 1245h12v12h-12zM1466 1245h12v12h-12zM577 1257h24v12h-24zM1393 1257h12v12h-12zM1454 1257h24v12h-24zM504 1269h12v13h-12zM553 1269h24v13h-24zM1405 1269h61v13h-61zM528 1282h13v12h-13z"/>
<path fill="#fecb74" d="M760 260h61v12h-61zM1661 260h36v12h-36zM1710 260h24v12h-24zM748 272h24v13h-24zM833 272h12v13h-12zM1649 272h12v13h-12zM748 285h12v12h-12zM845 285h12v12h-12zM1393 285h61v12h-61zM1624 285h13v12h-13zM748 297h12v12h-12zM857 297h12v12h-12zM1308 297h48v12h-48zM1503 297h48v12h-48zM1576 297h48v12h-48zM748 309h12v12h-12zM869 309h13v12h-13zM1259 309h37v12h-37zM748 321h12v12h-12zM882 321h24v12h-24zM1198 321h37v12h-37zM748 333h12v12h-12zM918 333h49v12h-49zM1089 333h73v12h-73zM748 345h12v13h-12zM735 358h25v12h-25zM735 370h13v12h-13zM723 382h12v12h-12zM711 406h12v12h-12zM711 418h12v12h-12zM711 430h12v13h-12zM699 455h12v12h-12zM699 467h12v12h-12zM674 479h25v12h-25zM638 491h36v12h-36zM601 503h37v13h-37zM541 516h60v12h-60zM1637 1026h60v12h-60zM1600 1038h37v13h-37zM1564 1051h36v12h-36zM1539 1063h25v12h-25zM1527 1075h12v12h-12zM1527 1087h12v12h-12zM1515 1111h12v13h-12zM1515 1124h12v12h-12zM1515 1136h12v12h-12zM1503 1160h12v12h-12zM1490 1172h13v12h-13zM1478 1184h25v12h-25zM1478 1196h12v13h-12zM1076 1209h73v12h-73zM1271 1209h49v12h-49zM1478 1209h12v12h-12zM1003 1221h37v12h-37zM1332 1221h24v12h-24zM1478 1221h12v12h-12zM942 1233h37v12h-37zM1356 1233h13v12h-13zM1478 1233h12v12h-12zM614 1245h48v12h-48zM687 1245h48v12h-48zM882 1245h48v12h-48zM1369 1245h12v12h-12zM1478 1245h12v12h-12zM601 1257h13v12h-13zM784 1257h61v12h-61zM1381 1257h12v12h-12zM1478 1257h12v12h-12zM577 1269h12v13h-12zM1393 1269h12v13h-12zM1466 1269h24v13h-24zM504 1282h24v12h-24zM541 1282h36v12h-36zM1417 1282h61v12h-61z"/>
<path fill="#fec871" d="M772 248h36v12h-36zM1685 248h37v12h-37zM748 260h12v12h-12zM821 260h24v12h-24zM1649 260h12v12h-12zM735 272h13v13h-13zM845 272h12v13h-12zM1624 272h25v13h-25zM735 285h13v12h-13zM857 285h12v12h-12zM1332 285h61v12h-61zM1454 285h49v12h-49zM1600 285h24v12h-24zM735 297h13v12h-13zM869 297h13v12h-13zM1271 297h37v12h-37zM1551 297h25v12h-25zM735 309h13v12h-13zM882 309h24v12h-24zM1223 309h36v12h-36zM735 321h13v12h-13zM906 321h24v12h-24zM1149 321h49v12h-49zM735 333h13v12h-13zM967 333h122v12h-122zM735 345h13v13h-13zM723 370h12v12h-12zM711 382h12v12h-12zM711 394h12v12h-12zM699 406h12v12h-12zM699 418h12v12h-12zM699 430h12v13h-12zM687 443h24v12h-24zM687 455h12v12h-12zM674 467h25v12h-25zM638 479h36v12h-36zM601 491h37v12h-37zM553 503h48v13h-48zM504 516h37v12h-37zM1697 1026h37v12h-37zM1637 1038h48v13h-48zM1600 1051h37v12h-37zM1564 1063h36v12h-36zM1539 1075h25v12h-25zM1539 1087h12v12h-12zM1527 1099h24v12h-24zM1527 1111h12v13h-12zM1527 1124h12v12h-12zM1527 1136h12v12h-12zM1515 1148h12v12h-12zM1515 1160h12v12h-12zM1503 1172h12v12h-12zM1490 1196h13v13h-13zM1149 1209h122v12h-122zM1490 1209h13v12h-13zM1040 1221h49v12h-49zM1308 1221h24v12h-24zM1490 1221h13v12h-13zM979 1233h36v12h-36zM1332 1233h24v12h-24zM1490 1233h13v12h-13zM662 1245h25v12h-25zM930 1245h37v12h-37zM1356 1245h13v12h-13zM1490 1245h13v12h-13zM614 1257h24v12h-24zM735 1257h49v12h-49zM845 1257h61v12h-61zM1369 1257h12v12h-12zM1490 1257h13v12h-13zM589 1269h25v13h-25zM1381 1269h12v13h-12zM1490 1269h13v13h-13zM577 1282h12v12h-12zM1393 1282h24v12h-24zM1478 1282h12v12h-12zM516 1294h37v12h-37zM1430 1294h36v12h-36z"/>
<path fill="#fec46e" d="M735 248h37v12h-37zM808 248h25v12h-25zM1661 248h24v12h-24zM1722 248h12v12h-12zM723 260h25v12h-25zM845 260h12v12h-12zM1637 260h12v12h-12zM723 272h12v13h-12zM857 272h12v13h-12zM1369 272h61v13h-61zM1612 272h12v13h-12zM723 285h12v12h-12zM869 285h13v12h-13zM1296 285h36v12h-36zM1503 285h36v12h-36zM1576 285h24v12h-24zM723 297h12v12h-12zM882 297h12v12h-12zM1247 297h24v12h-24zM906 309h12v12h-12zM1186 309h37v12h-37zM930 321h49v12h-49zM1064 321h85v12h-85zM723 345h12v13h-12zM723 358h12v12h-12zM711 370h12v12h-12zM699 382h12v12h-12zM699 394h12v12h-12zM687 406h12v12h-12zM687 418h12v12h-12zM687 430h12v13h-12zM674 443h13v12h-13zM662 455h25v12h-25zM638 467h36v12h-36zM589 479h49v12h-49zM553 491h48v12h-48zM504 503h49v13h-49zM1685 1038h49v13h-49zM1637 1051h48v12h-48zM1600 1063h49v12h-49zM1564 1075h36v12h-36zM1551 1087h25v12h-25zM1551 1099h13v12h-13zM1539 1111h12v13h-12zM1539 1124h12v12h-12zM1539 1136h12v12h-12zM1527 1148h12v12h-12zM1527 1160h12v12h-12zM1515 1172h12v12h-12zM1503 1184h12v12h-12zM1503 1196h12v13h-12zM1089 1221h85v12h-85zM1259 1221h49v12h-49zM1015 1233h37v12h-37zM1320 1233h12v12h-12zM967 1245h24v12h-24zM1344 1245h12v12h-12zM1503 1245h12v12h-12zM638 1257h24v12h-24zM699 1257h36v12h-36zM906 1257h36v12h-36zM1356 1257h13v12h-13zM1503 1257h12v12h-12zM614 1269h12v13h-12zM808 1269h61v13h-61zM1369 1269h12v13h-12zM1503 1269h12v13h-12zM589 1282h12v12h-12zM1381 1282h12v12h-12zM1490 1282h25v12h-25zM504 1294h12v12h-12zM553 1294h24v12h-24zM1405 1294h25v12h-25zM1466 1294h37v12h-37z"/>
<path fill="#fec16b" d="M626 163h73v12h-73zM626 175h85v12h-85zM638 187h73v12h-73zM650 199h61v13h-61zM662 212h49v12h-49zM687 224h48v12h-48zM699 236h109v12h-109zM1685 236h49v12h-49zM711 248h24v12h-24zM833 248h12v12h-12zM1649 248h12v12h-12zM711 260h12v12h-12zM857 260h12v12h-12zM1624 260h13v12h-13zM711 272h12v13h-12zM869 272h13v13h-13zM1320 272h49v13h-49zM1430 272h60v13h-60zM1600 272h12v13h-12zM711 285h12v12h-12zM882 285h12v12h-12zM1259 285h37v12h-37zM1539 285h37v12h-37zM894 297h12v12h-12zM1210 297h37v12h-37zM723 309h12v12h-12zM918 309h24v12h-24zM1137 309h49v12h-49zM723 321h12v12h-12zM979 321h85v12h-85zM723 333h12v12h-12zM711 345h12v13h-12zM711 358h12v12h-12zM699 370h12v12h-12zM687 382h12v12h-12zM687 394h12v12h-12zM674 406h13v12h-13zM674 418h13v12h-13zM662 430h25v13h-25zM662 443h12v12h-12zM626 455h36v12h-36zM589 467h49v12h-49zM553 479h36v12h-36zM504 491h49v12h-49zM1685 1051h49v12h-49zM1649 1063h36v12h-36zM1600 1075h49v12h-49zM1576 1087h36v12h-36zM1564 1099h12v12h-12zM1551 1111h25v13h-25zM1551 1124h13v12h-13zM1551 1136h13v12h-13zM1539 1148h12v12h-12zM1539 1160h12v12h-12zM1527 1172h12v12h-12zM1515 1184h12v12h-12zM1515 1196h12v13h-12zM1503 1209h12v12h-12zM1174 1221h85v12h-85zM1503 1221h12v12h-12zM1052 1233h49v12h-49zM1296 1233h24v12h-24zM1503 1233h12v12h-12zM991 1245h37v12h-37zM1332 1245h12v12h-12zM662 1257h37v12h-37zM942 1257h37v12h-37zM1344 1257h12v12h-12zM1515 1257h12v12h-12zM626 1269h12v13h-12zM748 1269h60v13h-60zM869 1269h49v13h-49zM1356 1269h13v13h-13zM1515 1269h12v13h-12zM601 1282h13v12h-13zM1369 1282h12v12h-12zM1515 1282h12v12h-12zM577 1294h12v12h-12zM1393 1294h12v12h-12zM1503 1294h24v12h-24zM504 1306h49v12h-49zM1430 1306h109v12h-109zM1503 1318h48v12h-48zM1527 1330h49v12h-49zM1527 1342h61v13h-61zM1527 1355h73v12h-73zM1527 1367h85v12h-85zM1539 1379h73v12h-73z"/>
<path fill="#febe68" d="M601 163h25v12h-25zM699 163h24v12h-24zM614 175h12v12h-12zM711 175h12v12h-12zM614 187h24v12h-24zM711 187h12v12h-12zM626 199h24v13h-24zM711 199h24v13h-24zM638 212h24v12h-24zM711 212h37v12h-37zM650 224h37v12h-37zM735 224h49v12h-49zM674 236h25v12h-25zM808 236h25v12h-25zM1661 236h24v12h-24zM687 248h24v12h-24zM845 248h12v12h-12zM1637 248h12v12h-12zM687 260h24v12h-24zM869 260h13v12h-13zM1356 260h49v12h-49zM1612 260h12v12h-12zM699 272h12v13h-12zM882 272h12v13h-12zM1283 272h37v13h-37zM1490 272h37v13h-37zM1576 272h24v13h-24zM699 285h12v12h-12zM894 285h12v12h-12zM1235 285h24v12h-24zM711 297h12v12h-12zM906 297h24v12h-24zM1174 297h36v12h-36zM711 309h12v12h-12zM942 309h61v12h-61zM1040 309h97v12h-97zM711 321h12v12h-12zM711 333h12v12h-12zM699 358h12v12h-12zM687 370h12v12h-12zM674 382h13v12h-13zM674 394h13v12h-13zM662 406h12v12h-12zM662 418h12v12h-12zM650 430h12v13h-12zM626 443h36v12h-36zM565 455h61v12h-61zM541 467h48v12h-48zM504 479h49v12h-49zM1685 1063h49v12h-49zM1649 1075h48v12h-48zM1612 1087h61v12h-61zM1576 1099h36v12h-36zM1576 1111h12v13h-12zM1564 1124h12v12h-12zM1564 1136h12v12h-12zM1551 1148h13v12h-13zM1551 1160h13v12h-13zM1539 1172h12v12h-12zM1527 1184h12v12h-12zM1515 1209h12v12h-12zM1515 1221h12v12h-12zM1101 1233h97v12h-97zM1235 1233h61v12h-61zM1515 1233h12v12h-12zM1028 1245h36v12h-36zM1308 1245h24v12h-24zM1515 1245h12v12h-12zM979 1257h24v12h-24zM1332 1257h12v12h-12zM1527 1257h12v12h-12zM638 1269h24v13h-24zM711 1269h37v13h-37zM918 1269h37v13h-37zM1344 1269h12v13h-12zM1527 1269h12v13h-12zM614 1282h12v12h-12zM833 1282h49v12h-49zM1356 1282h13v12h-13zM1527 1282h24v12h-24zM589 1294h12v12h-12zM1381 1294h12v12h-12zM1527 1294h24v12h-24zM553 1306h24v12h-24zM1405 1306h25v12h-25zM1539 1306h25v12h-25zM1454 1318h49v12h-49zM1551 1318h37v12h-37zM1490 1330h37v12h-37zM1576 1330h24v12h-24zM1503 1342h24v13h-24zM1588 1342h24v13h-24zM1515 1355h12v12h-12zM1600 1355h24v12h-24zM1515 1367h12v12h-12zM1612 1367h12v12h-12zM1515 1379h24v12h-24zM1612 1379h25v12h-25z"/>
<path fill="#feba65" d="M577 163h24v12h-24zM723 163h25v12h-25zM589 175h25v12h-25zM723 175h25v12h-25zM601 187h13v12h-13zM723 187h25v12h-25zM614 199h12v13h-12zM735 199h13v13h-13zM626 212h12v12h-12zM748 212h24v12h-24zM638 224h12v12h-12zM784 224h24v12h-24zM1697 224h37v12h-37zM650 236h24v12h-24zM833 236h12v12h-12zM1649 236h12v12h-12zM662 248h25v12h-25zM857 248h12v12h-12zM1612 248h25v12h-25zM674 260h13v12h-13zM882 260h12v12h-12zM1308 260h48v12h-48zM1405 260h61v12h-61zM1588 260h24v12h-24zM687 272h12v13h-12zM894 272h12v13h-12zM1259 272h24v13h-24zM1527 272h49v13h-49zM687 285h12v12h-12zM906 285h12v12h-12zM1198 285h37v12h-37zM699 297h12v12h-12zM930 297h25v12h-25zM1125 297h49v12h-49zM699 309h12v12h-12zM1003 309h37v12h-37zM699 321h12v12h-12zM699 333h12v12h-12zM699 345h12v13h-12zM687 358h12v12h-12zM674 370h13v12h-13zM662 382h12v12h-12zM516 394h37v12h-37zM662 394h12v12h-12zM516 406h49v12h-49zM650 406h12v12h-12zM528 418h49v12h-49zM638 418h24v12h-24zM528 430h122v13h-122zM528 443h98v12h-98zM516 455h49v12h-49zM504 467h37v12h-37zM1697 1075h37v12h-37zM1673 1087h49v12h-49zM1612 1099h98v12h-98zM1588 1111h122v13h-122zM1576 1124h24v12h-24zM1661 1124h49v12h-49zM1576 1136h12v12h-12zM1673 1136h49v12h-49zM1564 1148h12v12h-12zM1685 1148h37v12h-37zM1564 1160h12v12h-12zM1551 1172h13v12h-13zM1539 1184h12v12h-12zM1527 1196h12v13h-12zM1527 1209h12v12h-12zM1527 1221h12v12h-12zM1198 1233h37v12h-37zM1527 1233h12v12h-12zM1064 1245h49v12h-49zM1283 1245h25v12h-25zM1527 1245h12v12h-12zM1003 1257h37v12h-37zM1320 1257h12v12h-12zM1539 1257h12v12h-12zM662 1269h49v13h-49zM955 1269h24v13h-24zM1332 1269h12v13h-12zM1539 1269h12v13h-12zM626 1282h24v12h-24zM772 1282h61v12h-61zM882 1282h48v12h-48zM1344 1282h12v12h-12zM1551 1282h13v12h-13zM601 1294h25v12h-25zM1369 1294h12v12h-12zM1551 1294h25v12h-25zM577 1306h12v12h-12zM1393 1306h12v12h-12zM1564 1306h24v12h-24zM504 1318h37v12h-37zM1430 1318h24v12h-24zM1588 1318h12v12h-12zM1466 1330h24v12h-24zM1600 1330h12v12h-12zM1490 1342h13v13h-13zM1612 1342h12v13h-12zM1490 1355h25v12h-25zM1624 1355h13v12h-13zM1490 1367h25v12h-25zM1624 1367h25v12h-25zM1490 1379h25v12h-25zM1637 1379h24v12h-24z"/>
<path fill="#feb762" d="M565 163h12v12h-12zM748 163h24v12h-24zM577 175h12v12h-12zM748 175h12v12h-12zM589 187h12v12h-12zM748 187h12v12h-12zM601 199h13v13h-13zM748 199h24v13h-24zM601 212h25v12h-25zM772 212h24v12h-24zM614 224h24v12h-24zM808 224h25v12h-25zM1661 224h36v12h-36zM626 236h24v12h-24zM845 236h24v12h-24zM1624 236h25v12h-25zM650 248h12v12h-12zM869 248h13v12h-13zM1356 248h25v12h-25zM1600 248h12v12h-12zM662 260h12v12h-12zM894 260h12v12h-12zM1283 260h25v12h-25zM1466 260h37v12h-37zM1564 260h24v12h-24zM674 272h13v13h-13zM906 272h12v13h-12zM1223 272h36v13h-36zM674 285h13v12h-13zM918 285h24v12h-24zM1162 285h36v12h-36zM687 297h12v12h-12zM955 297h170v12h-170zM687 309h12v12h-12zM687 321h12v12h-12zM504 333h12v12h-12zM687 333h12v12h-12zM504 345h12v13h-12zM687 345h12v13h-12zM504 358h37v12h-37zM674 358h13v12h-13zM504 370h49v12h-49zM662 370h12v12h-12zM504 382h61v12h-61zM650 382h12v12h-12zM504 394h12v12h-12zM553 394h36v12h-36zM638 394h24v12h-24zM504 406h12v12h-12zM565 406h36v12h-36zM626 406h24v12h-24zM504 418h24v12h-24zM577 418h61v12h-61zM504 430h24v13h-24zM504 443h24v12h-24zM504 455h12v12h-12zM1722 1087h12v12h-12zM1710 1099h24v12h-24zM1710 1111h24v13h-24zM1600 1124h61v12h-61zM1710 1124h24v12h-24zM1588 1136h24v12h-24zM1637 1136h36v12h-36zM1722 1136h12v12h-12zM1576 1148h24v12h-24zM1649 1148h36v12h-36zM1722 1148h12v12h-12zM1576 1160h12v12h-12zM1673 1160h61v12h-61zM1564 1172h12v12h-12zM1685 1172h49v12h-49zM1551 1184h13v12h-13zM1697 1184h37v12h-37zM1539 1196h12v13h-12zM1722 1196h12v13h-12zM1539 1209h12v12h-12zM1722 1209h12v12h-12zM1539 1221h12v12h-12zM1539 1233h12v12h-12zM1113 1245h170v12h-170zM1539 1245h12v12h-12zM1040 1257h36v12h-36zM1296 1257h24v12h-24zM1551 1257h13v12h-13zM979 1269h36v13h-36zM1320 1269h12v13h-12zM1551 1269h13v13h-13zM650 1282h24v12h-24zM735 1282h37v12h-37zM930 1282h25v12h-25zM1332 1282h12v12h-12zM1564 1282h12v12h-12zM626 1294h12v12h-12zM857 1294h25v12h-25zM1356 1294h13v12h-13zM1576 1294h12v12h-12zM589 1306h25v12h-25zM1369 1306h24v12h-24zM1588 1306h24v12h-24zM541 1318h36v12h-36zM1405 1318h25v12h-25zM1600 1318h24v12h-24zM1442 1330h24v12h-24zM1612 1330h25v12h-25zM1466 1342h24v13h-24zM1624 1342h13v13h-13zM1478 1355h12v12h-12zM1637 1355h12v12h-12zM1478 1367h12v12h-12zM1649 1367h12v12h-12zM1466 1379h24v12h-24zM1661 1379h12v12h-12z"/>
<path fill="#feb360" d="M541 163h24v12h-24zM772 163h24v12h-24zM565 175h12v12h-12zM760 175h24v12h-24zM577 187h12v12h-12zM760 187h24v12h-24zM577 199h24v13h-24zM772 199h24v13h-24zM589 212h12v12h-12zM796 212h25v12h-25zM1710 212h24v12h-24zM601 224h13v12h-13zM833 224h24v12h-24zM1637 224h24v12h-24zM614 236h12v12h-12zM869 236h13v12h-13zM1612 236h12v12h-12zM626 248h24v12h-24zM882 248h12v12h-12zM1308 248h48v12h-48zM1381 248h49v12h-49zM1588 248h12v12h-12zM638 260h24v12h-24zM906 260h12v12h-12zM1247 260h36v12h-36zM1503 260h61v12h-61zM650 272h24v13h-24zM918 272h12v13h-12zM1198 272h25v13h-25zM662 285h12v12h-12zM942 285h25v12h-25zM1101 285h61v12h-61zM662 297h25v12h-25zM504 309h12v12h-12zM674 309h13v12h-13zM504 321h24v12h-24zM674 321h13v12h-13zM516 333h25v12h-25zM674 333h13v12h-13zM516 345h37v13h-37zM662 345h25v13h-25zM541 358h36v12h-36zM650 358h24v12h-24zM553 370h36v12h-36zM638 370h24v12h-24zM565 382h85v12h-85zM589 394h49v12h-49zM601 406h25v12h-25zM1612 1136h25v12h-25zM1600 1148h49v12h-49zM1588 1160h85v12h-85zM1576 1172h24v12h-24zM1649 1172h36v12h-36zM1564 1184h24v12h-24zM1661 1184h36v12h-36zM1551 1196h25v13h-25zM1685 1196h37v13h-37zM1551 1209h13v12h-13zM1697 1209h25v12h-25zM1551 1221h13v12h-13zM1710 1221h24v12h-24zM1551 1233h13v12h-13zM1722 1233h12v12h-12zM1551 1245h25v12h-25zM1076 1257h61v12h-61zM1271 1257h25v12h-25zM1564 1257h12v12h-12zM1015 1269h25v13h-25zM1308 1269h12v13h-12zM1564 1269h24v13h-24zM674 1282h61v12h-61zM955 1282h36v12h-36zM1320 1282h12v12h-12zM1576 1282h24v12h-24zM638 1294h12v12h-12zM808 1294h49v12h-49zM882 1294h48v12h-48zM1344 1294h12v12h-12zM1588 1294h24v12h-24zM614 1306h12v12h-12zM1356 1306h13v12h-13zM1612 1306h12v12h-12zM577 1318h24v12h-24zM1381 1318h24v12h-24zM1624 1318h13v12h-13zM504 1330h24v12h-24zM1417 1330h25v12h-25zM1637 1330h12v12h-12zM1442 1342h24v13h-24zM1637 1342h24v13h-24zM1454 1355h24v12h-24zM1649 1355h12v12h-12zM1454 1367h24v12h-24zM1661 1367h12v12h-12zM1442 1379h24v12h-24zM1673 1379h24v12h-24z"/>
<path fill="#feaf5d" d="M504 163h37v12h-37zM796 163h37v12h-37zM541 175h24v12h-24zM784 175h12v12h-12zM553 187h24v12h-24zM784 187h12v12h-12zM565 199h12v13h-12zM796 199h25v13h-25zM577 212h12v12h-12zM821 212h24v12h-24zM1661 212h49v12h-49zM577 224h24v12h-24zM857 224h25v12h-25zM1624 224h13v12h-13zM589 236h25v12h-25zM882 236h12v12h-12zM1600 236h12v12h-12zM601 248h25v12h-25zM894 248h24v12h-24zM1271 248h37v12h-37zM1430 248h36v12h-36zM1564 248h24v12h-24zM614 260h24v12h-24zM918 260h12v12h-12zM1223 260h24v12h-24zM504 272h12v13h-12zM626 272h24v13h-24zM930 272h12v13h-12zM1149 272h49v13h-49zM504 285h24v12h-24zM638 285h24v12h-24zM967 285h134v12h-134zM504 297h37v12h-37zM638 297h24v12h-24zM516 309h37v12h-37zM650 309h24v12h-24zM528 321h37v12h-37zM650 321h24v12h-24zM541 333h36v12h-36zM638 333h36v12h-36zM553 345h109v13h-109zM577 358h73v12h-73zM589 370h49v12h-49zM1600 1172h49v12h-49zM1588 1184h73v12h-73zM1576 1196h109v13h-109zM1564 1209h36v12h-36zM1661 1209h36v12h-36zM1564 1221h24v12h-24zM1673 1221h37v12h-37zM1564 1233h24v12h-24zM1685 1233h37v12h-37zM1576 1245h24v12h-24zM1697 1245h37v12h-37zM1137 1257h134v12h-134zM1576 1257h24v12h-24zM1710 1257h24v12h-24zM1040 1269h49v13h-49zM1296 1269h12v13h-12zM1588 1269h24v13h-24zM1722 1269h12v13h-12zM991 1282h24v12h-24zM1308 1282h12v12h-12zM1600 1282h24v12h-24zM650 1294h24v12h-24zM772 1294h36v12h-36zM930 1294h37v12h-37zM1320 1294h24v12h-24zM1612 1294h25v12h-25zM626 1306h12v12h-12zM1344 1306h12v12h-12zM1624 1306h25v12h-25zM601 1318h13v12h-13zM1356 1318h25v12h-25zM1637 1318h24v12h-24zM528 1330h49v12h-49zM1393 1330h24v12h-24zM1649 1330h12v12h-12zM1417 1342h25v13h-25zM1661 1342h12v13h-12zM1442 1355h12v12h-12zM1661 1355h24v12h-24zM1442 1367h12v12h-12zM1673 1367h24v12h-24zM1405 1379h37v12h-37zM1697 1379h37v12h-37z"/>
<path fill="#feac5b" d="M833 163h73v12h-73zM504 175h37v12h-37zM796 175h37v12h-37zM504 187h49v12h-49zM796 187h25v12h-25zM541 199h24v13h-24zM821 199h24v13h-24zM1710 199h24v13h-24zM553 212h24v12h-24zM845 212h37v12h-37zM1637 212h24v12h-24zM553 224h24v12h-24zM882 224h24v12h-24zM1612 224h12v12h-12zM553 236h36v12h-36zM894 236h24v12h-24zM1296 236h109v12h-109zM1576 236h24v12h-24zM504 248h24v12h-24zM553 248h48v12h-48zM918 248h12v12h-12zM1247 248h24v12h-24zM1466 248h98v12h-98zM504 260h110v12h-110zM930 260h12v12h-12zM1186 260h37v12h-37zM516 272h110v13h-110zM942 272h37v13h-37zM1089 272h60v13h-60zM528 285h110v12h-110zM541 297h97v12h-97zM553 309h97v12h-97zM565 321h85v12h-85zM577 333h61v12h-61zM1600 1209h61v12h-61zM1588 1221h85v12h-85zM1588 1233h97v12h-97zM1600 1245h97v12h-97zM1600 1257h110v12h-110zM1089 1269h60v13h-60zM1259 1269h37v13h-37zM1612 1269h110v13h-110zM1015 1282h37v12h-37zM1296 1282h12v12h-12zM1624 1282h110v12h-110zM674 1294h98v12h-98zM967 1294h24v12h-24zM1308 1294h12v12h-12zM1637 1294h48v12h-48zM1710 1294h24v12h-24zM638 1306h24v12h-24zM833 1306h109v12h-109zM1320 1306h24v12h-24zM1649 1306h36v12h-36zM614 1318h12v12h-12zM1332 1318h24v12h-24zM1661 1318h24v12h-24zM577 1330h24v12h-24zM1356 1330h37v12h-37zM1661 1330h24v12h-24zM504 1342h24v13h-24zM1393 1342h24v13h-24zM1673 1342h24v13h-24zM1417 1355h25v12h-25zM1685 1355h49v12h-49zM1405 1367h37v12h-37zM1697 1367h37v12h-37zM1332 1379h73v12h-73z"/>
<path fill="#fea859" d="M906 163h24v12h-24zM833 175h85v12h-85zM821 187h73v12h-73zM1722 187h12v12h-12zM504 199h37v13h-37zM845 199h61v13h-61zM1661 199h49v13h-49zM504 212h49v12h-49zM882 212h24v12h-24zM1612 212h25v12h-25zM504 224h49v12h-49zM906 224h12v12h-12zM1588 224h24v12h-24zM504 236h49v12h-49zM918 236h12v12h-12zM1271 236h25v12h-25zM1405 236h37v12h-37zM1564 236h12v12h-12zM528 248h25v12h-25zM930 248h12v12h-12zM1210 248h37v12h-37zM942 260h25v12h-25zM1125 260h61v12h-61zM979 272h110v13h-110zM1149 1269h110v13h-110zM1052 1282h61v12h-61zM1271 1282h25v12h-25zM991 1294h37v12h-37zM1296 1294h12v12h-12zM1685 1294h25v12h-25zM662 1306h12v12h-12zM796 1306h37v12h-37zM942 1306h25v12h-25zM1308 1306h12v12h-12zM1685 1306h49v12h-49zM626 1318h24v12h-24zM1320 1318h12v12h-12zM1685 1318h49v12h-49zM601 1330h25v12h-25zM1332 1330h24v12h-24zM1685 1330h49v12h-49zM528 1342h49v13h-49zM1332 1342h61v13h-61zM1697 1342h37v13h-37zM504 1355h12v12h-12zM1344 1355h73v12h-73zM1320 1367h85v12h-85zM1308 1379h24v12h-24z"/>
<path fill="#fea456" d="M918 175h12v12h-12zM1722 175h12v12h-12zM894 187h36v12h-36zM1697 187h25v12h-25zM906 199h24v13h-24zM1624 199h37v13h-37zM906 212h24v12h-24zM1600 212h12v12h-12zM918 224h12v12h-12zM1296 224h97v12h-97zM1576 224h12v12h-12zM930 236h12v12h-12zM1235 236h36v12h-36zM1442 236h36v12h-36zM1527 236h37v12h-37zM942 248h13v12h-13zM1174 248h36v12h-36zM967 260h24v12h-24zM1076 260h49v12h-49zM1113 1282h49v12h-49zM1247 1282h24v12h-24zM1028 1294h36v12h-36zM1283 1294h13v12h-13zM674 1306h37v12h-37zM760 1306h36v12h-36zM967 1306h36v12h-36zM1296 1306h12v12h-12zM650 1318h12v12h-12zM845 1318h97v12h-97zM1308 1318h12v12h-12zM626 1330h12v12h-12zM1308 1330h24v12h-24zM577 1342h37v13h-37zM1308 1342h24v13h-24zM516 1355h25v12h-25zM1308 1355h36v12h-36zM504 1367h12v12h-12zM1308 1367h12v12h-12z"/>
<path fill="#fea054" d="M930 163h12v12h-12zM1710 163h24v12h-24zM930 175h12v12h-12zM1697 175h25v12h-25zM930 187h12v12h-12zM1637 187h60v12h-60zM930 199h12v13h-12zM1612 199h12v13h-12zM930 212h12v12h-12zM1588 212h12v12h-12zM930 224h12v12h-12zM1259 224h37v12h-37zM1393 224h24v12h-24zM1564 224h12v12h-12zM942 236h13v12h-13zM1198 236h37v12h-37zM1478 236h49v12h-49zM955 248h24v12h-24zM1113 248h61v12h-61zM991 260h85v12h-85zM1162 1282h85v12h-85zM1064 1294h61v12h-61zM1259 1294h24v12h-24zM711 1306h49v12h-49zM1003 1306h37v12h-37zM1283 1306h13v12h-13zM662 1318h12v12h-12zM821 1318h24v12h-24zM942 1318h37v12h-37zM1296 1318h12v12h-12zM638 1330h12v12h-12zM1296 1330h12v12h-12zM614 1342h12v13h-12zM1296 1342h12v13h-12zM541 1355h60v12h-60zM1296 1355h12v12h-12zM516 1367h25v12h-25zM1296 1367h12v12h-12zM504 1379h24v12h-24zM1296 1379h12v12h-12z"/>
<path fill="#fe9c52" d="M942 163h13v12h-13zM1673 163h37v12h-37zM1649 175h48v12h-48zM1612 187h25v12h-25zM942 199h13v13h-13zM1588 199h24v13h-24zM942 212h13v12h-13zM1296 212h73v12h-73zM1576 212h12v12h-12zM942 224h13v12h-13zM1223 224h36v12h-36zM1417 224h25v12h-25zM1539 224h25v12h-25zM955 236h12v12h-12zM1137 236h61v12h-61zM979 248h36v12h-36zM1040 248h73v12h-73zM1125 1294h73v12h-73zM1223 1294h36v12h-36zM1040 1306h61v12h-61zM1271 1306h12v12h-12zM674 1318h25v12h-25zM796 1318h25v12h-25zM979 1318h36v12h-36zM1283 1318h13v12h-13zM650 1330h12v12h-12zM869 1330h73v12h-73zM1283 1330h13v12h-13zM626 1342h24v13h-24zM1283 1342h13v13h-13zM601 1355h25v12h-25zM541 1367h48v12h-48zM528 1379h37v12h-37zM1283 1379h13v12h-13z"/>
<path fill="#fe9750" d="M1637 163h36v12h-36zM942 175h13v12h-13zM1612 175h37v12h-37zM942 187h13v12h-13zM1600 187h12v12h-12zM1576 199h12v13h-12zM955 212h12v12h-12zM1247 212h49v12h-49zM1369 212h24v12h-24zM1551 212h25v12h-25zM955 224h12v12h-12zM1174 224h49v12h-49zM1442 224h97v12h-97zM967 236h24v12h-24zM1076 236h61v12h-61zM1015 248h25v12h-25zM1198 1294h25v12h-25zM1101 1306h61v12h-61zM1247 1306h24v12h-24zM699 1318h97v12h-97zM1015 1318h49v12h-49zM1271 1318h12v12h-12zM662 1330h25v12h-25zM845 1330h24v12h-24zM942 1330h49v12h-49zM1271 1330h12v12h-12zM650 1342h12v13h-12zM626 1355h12v12h-12zM1283 1355h13v12h-13zM589 1367h37v12h-37zM1283 1367h13v12h-13zM565 1379h36v12h-36z"/>
<path fill="#fe934e" d="M955 163h12v12h-12zM1612 163h25v12h-25zM955 175h12v12h-12zM1600 175h12v12h-12zM955 187h12v12h-12zM1588 187h12v12h-12zM955 199h12v13h-12zM1283 199h73v13h-73zM1564 199h12v13h-12zM967 212h12v12h-12zM1198 212h49v12h-49zM1393 212h24v12h-24zM1539 212h12v12h-12zM967 224h24v12h-24zM1101 224h73v12h-73zM991 236h85v12h-85zM1162 1306h85v12h-85zM1064 1318h73v12h-73zM1247 1318h24v12h-24zM687 1330h12v12h-12zM821 1330h24v12h-24zM991 1330h49v12h-49zM1259 1330h12v12h-12zM662 1342h12v13h-12zM882 1342h73v13h-73zM1271 1342h12v13h-12zM638 1355h12v12h-12zM1271 1355h12v12h-12zM626 1367h12v12h-12zM1271 1367h12v12h-12zM601 1379h25v12h-25zM1271 1379h12v12h-12z"/>
<path fill="#fe8f4c" d="M1600 163h12v12h-12zM1588 175h12v12h-12zM1576 187h12v12h-12zM967 199h12v13h-12zM1223 199h60v13h-60zM1356 199h25v13h-25zM1551 199h13v13h-13zM1113 212h85v12h-85zM1417 212h25v12h-25zM1515 212h24v12h-24zM991 224h12v12h-12zM1052 224h49v12h-49zM1137 1318h49v12h-49zM1235 1318h12v12h-12zM699 1330h24v12h-24zM796 1330h25v12h-25zM1040 1330h85v12h-85zM674 1342h13v13h-13zM857 1342h25v13h-25zM955 1342h60v13h-60zM1259 1342h12v13h-12zM650 1355h12v12h-12zM638 1367h12v12h-12zM626 1379h12v12h-12z"/>
<path fill="#fe8a4a" d="M967 163h12v12h-12zM1588 163h12v12h-12zM967 175h12v12h-12zM1576 175h12v12h-12zM967 187h12v12h-12zM1247 187h85v12h-85zM1564 187h12v12h-12zM979 199h12v13h-12zM1125 199h98v13h-98zM1381 199h24v13h-24zM1539 199h12v13h-12zM979 212h24v12h-24zM1064 212h49v12h-49zM1442 212h73v12h-73zM1003 224h49v12h-49zM1186 1318h49v12h-49zM723 1330h73v12h-73zM1125 1330h49v12h-49zM1235 1330h24v12h-24zM687 1342h12v13h-12zM833 1342h24v13h-24zM1015 1342h98v13h-98zM1247 1342h12v13h-12zM662 1355h12v12h-12zM906 1355h85v12h-85zM1259 1355h12v12h-12zM650 1367h12v12h-12zM1259 1367h12v12h-12zM638 1379h12v12h-12zM1259 1379h12v12h-12z"/>
<path fill="#fe8648" d="M1576 163h12v12h-12zM1564 175h12v12h-12zM979 187h12v12h-12zM1113 187h134v12h-134zM1332 187h37v12h-37zM1551 187h13v12h-13zM991 199h12v13h-12zM1076 199h49v13h-49zM1405 199h25v13h-25zM1527 199h12v13h-12zM1003 212h61v12h-61zM1174 1330h61v12h-61zM699 1342h12v13h-12zM808 1342h25v13h-25zM1113 1342h49v13h-49zM1235 1342h12v13h-12zM674 1355h13v12h-13zM869 1355h37v12h-37zM991 1355h134v12h-134zM1247 1355h12v12h-12zM662 1367h12v12h-12zM650 1379h12v12h-12z"/>
<path fill="#fe8146" d="M979 163h12v12h-12zM1125 163h12v12h-12zM1564 163h12v12h-12zM979 175h12v12h-12zM1101 175h231v12h-231zM1551 175h13v12h-13zM991 187h12v12h-12zM1076 187h37v12h-37zM1369 187h24v12h-24zM1539 187h12v12h-12zM1003 199h73v13h-73zM1430 199h12v13h-12zM1515 199h12v13h-12zM711 1342h12v13h-12zM796 1342h12v13h-12zM1162 1342h73v13h-73zM687 1355h12v12h-12zM845 1355h24v12h-24zM1125 1355h37v12h-37zM1235 1355h12v12h-12zM674 1367h13v12h-13zM906 1367h231v12h-231zM1247 1367h12v12h-12zM662 1379h12v12h-12zM1101 1379h12v12h-12zM1247 1379h12v12h-12z"/>
<path fill="#fe7d44" d="M991 163h12v12h-12zM1089 163h36v12h-36zM1137 163h159v12h-159zM991 175h12v12h-12zM1064 175h37v12h-37zM1332 175h12v12h-12zM1003 187h73v12h-73zM1393 187h24v12h-24zM1527 187h12v12h-12zM1442 199h73v13h-73zM723 1342h73v13h-73zM699 1355h12v12h-12zM821 1355h24v12h-24zM1162 1355h73v12h-73zM894 1367h12v12h-12zM1137 1367h37v12h-37zM1235 1367h12v12h-12zM942 1379h159v12h-159zM1113 1379h36v12h-36zM1235 1379h12v12h-12z"/>
<path fill="#fe7842" d="M1003 163h12v12h-12zM1052 163h37v12h-37zM1296 163h24v12h-24zM1551 163h13v12h-13zM1003 175h61v12h-61zM1344 175h25v12h-25zM1539 175h12v12h-12zM1417 187h13v12h-13zM1515 187h12v12h-12zM711 1355h12v12h-12zM808 1355h13v12h-13zM687 1367h12v12h-12zM869 1367h25v12h-25zM1174 1367h61v12h-61zM674 1379h13v12h-13zM918 1379h24v12h-24zM1149 1379h37v12h-37zM1223 1379h12v12h-12z"/>
<path fill="#fe7340" d="M1015 163h37v12h-37zM1320 163h24v12h-24zM1539 163h12v12h-12zM1369 175h36v12h-36zM1527 175h12v12h-12zM1430 187h24v12h-24zM1503 187h12v12h-12zM723 1355h12v12h-12zM784 1355h24v12h-24zM699 1367h12v12h-12zM833 1367h36v12h-36zM687 1379h12v12h-12zM894 1379h24v12h-24zM1186 1379h37v12h-37z"/>
<path fill="#fe6f3e" d="M1344 163h12v12h-12zM1405 175h12v12h-12zM1515 175h12v12h-12zM1454 187h49v12h-49zM735 1355h49v12h-49zM711 1367h12v12h-12zM821 1367h12v12h-12zM882 1379h12v12h-12z"/>
<path fill="#fe6a3c" d="M1356 163h25v12h-25zM1527 163h12v12h-12zM1417 175h25v12h-25zM796 1367h25v12h-25zM699 1379h12v12h-12zM857 1379h25v12h-25z"/>
<path fill="#fe663a" d="M1381 163h36v12h-36zM1442 175h24v12h-24zM1490 175h25v12h-25zM723 1367h25v12h-25zM772 1367h24v12h-24zM821 1379h36v12h-36z"/>
<path fill="#fe6139" d="M1417 163h25v12h-25zM1515 163h12v12h-12zM1466 175h24v12h-24zM748 1367h24v12h-24zM711 1379h12v12h-12zM796 1379h25v12h-25z"/>
<path fill="#fe5d37" d="M1442 163h12v12h-12zM1503 163h12v12h-12zM723 1379h12v12h-12zM784 1379h12v12h-12z"/>
<path fill="#fe5935" d="M1454 163h49v12h-49zM735 1379h49v12h-49z"/></g>
<text transform="translate(47,121) scale(0.67,1)" font-family="'Liberation Serif',serif" font-size="123" fill="#000" stroke="#000" stroke-width="2.2">A</text>
<g font-family="'Liberation Sans',sans-serif" font-size="75" fill="#707070">
<text transform="translate(395.5 1424.1) scale(1 1.04)" text-anchor="end">−5000</text>
<text transform="translate(395.5 1114.2) scale(1 1.04)" text-anchor="end">−2500</text>
<text transform="translate(395.5 804.3) scale(1 1.04)" text-anchor="end">0</text>
<text transform="translate(395.5 494.4) scale(1 1.04)" text-anchor="end">2500</text>
<text transform="translate(395.5 184.5) scale(1 1.04)" text-anchor="end">5000</text>
<text transform="translate(498.1 1554.0) scale(1 1.04)" text-anchor="middle">−5000</text>
<text transform="translate(808.5 1554.0) scale(1 1.04)" text-anchor="middle">−2500</text>
<text transform="translate(1119.0 1554.0) scale(1 1.04)" text-anchor="middle">0</text>
<text transform="translate(1429.5 1554.0) scale(1 1.04)" text-anchor="middle">2500</text>
<text transform="translate(1739.9 1554.0) scale(1 1.04)" text-anchor="middle">5000</text>
</g>
<g font-family="'Liberation Sans',sans-serif" font-size="91.67" fill="#000">
<text x="1118.2" y="1665.9" text-anchor="middle">E−W separation distance(m)</text>
<text transform="translate(119,777.2) rotate(-90)" text-anchor="middle">N−S separation distance (m)</text>
<text x="1945.5" y="382">semi−</text>
<text x="1945.5" y="480.5">variance</text>
</g>
<g shape-rendering="crispEdges">
<rect x="1944" y="517" width="145" height="30" fill="#d10621"/>
<rect x="1944" y="547" width="145" height="30" fill="#e81e22"/>
<rect x="1944" y="577" width="145" height="30" fill="#fb3426"/>
<rect x="1944" y="607" width="145" height="30" fill="#fe5032"/>
<rect x="1944" y="637" width="145" height="30" fill="#fe6a3c"/>
<rect x="1944" y="667" width="145" height="30" fill="#fe8648"/>
<rect x="1944" y="697" width="145" height="30" fill="#fea054"/>
<rect x="1944" y="727" width="145" height="30" fill="#feb762"/>
<rect x="1944" y="757" width="145" height="30" fill="#fecb74"/>
<rect x="1944" y="787" width="145" height="30" fill="#fede86"/>
<rect x="1944" y="817" width="145" height="30" fill="#feee9e"/>
<rect x="1944" y="847" width="145" height="31" fill="#fdfab2"/>
<rect x="1944" y="878" width="145" height="30" fill="#f3faac"/>
<rect x="1944" y="908" width="145" height="30" fill="#e0f498"/>
<rect x="1944" y="938" width="145" height="30" fill="#caea86"/>
<rect x="1944" y="968" width="145" height="30" fill="#b1e478"/>
<rect x="1944" y="998" width="145" height="30" fill="#96da68"/>
<rect x="1944" y="1028" width="145" height="30" fill="#70d062"/>
<rect x="1944" y="1058" width="145" height="30" fill="#3ec65e"/>
<rect x="1944" y="1088" width="145" height="30" fill="#00b658"/>
<rect x="1944" y="1118" width="145" height="30" fill="#00a450"/>
<rect x="1944" y="1148" width="145" height="30" fill="#009648"/>
<rect x="1944" y="1178" width="145" height="30" fill="#008840"/>
<rect x="1944" y="1208" width="145" height="30" fill="#00783a"/>
</g>
<g font-family="'Liberation Sans',sans-serif" font-size="73.33" fill="#000">
<rect x="1944" y="561.6" width="29" height="4.2" fill="#fff"/>
<rect x="2060" y="561.6" width="29" height="4.2" fill="#fff"/>
<text transform="translate(2127.5 591.9) scale(1 1.03)">12.5</text>
<rect x="1944" y="710.6" width="29" height="4.2" fill="#fff"/>
<rect x="2060" y="710.6" width="29" height="4.2" fill="#fff"/>
<text transform="translate(2127.5 740.9) scale(1 1.03)">10.0</text>
<rect x="1944" y="859.6" width="29" height="4.2" fill="#fff"/>
<rect x="2060" y="859.6" width="29" height="4.2" fill="#fff"/>
<text transform="translate(2127.5 889.9) scale(1 1.03)">7.5</text>
<rect x="1944" y="1008.6" width="29" height="4.2" fill="#fff"/>
<rect x="2060" y="1008.6" width="29" height="4.2" fill="#fff"/>
<text transform="translate(2127.5 1038.9) scale(1 1.03)">5.0</text>
<rect x="1944" y="1157.6" width="29" height="4.2" fill="#fff"/>
<rect x="2060" y="1157.6" width="29" height="4.2" fill="#fff"/>
<text transform="translate(2127.5 1187.9) scale(1 1.03)">2.5</text>
</g>
</g>
<g id="panelB">
<rect x="651.0" y="1884" width="4.7" height="1364" fill="#f0f0f0"/>
<rect x="436" y="3028.2" width="1366" height="4.7" fill="#f0f0f0"/>
<rect x="961.4" y="1884" width="4.7" height="1364" fill="#f0f0f0"/>
<rect x="436" y="2718.3" width="1366" height="4.7" fill="#f0f0f0"/>
<rect x="1271.9" y="1884" width="4.7" height="1364" fill="#f0f0f0"/>
<rect x="436" y="2408.4" width="1366" height="4.7" fill="#f0f0f0"/>
<rect x="1582.3" y="1884" width="4.7" height="1364" fill="#f0f0f0"/>
<rect x="436" y="2098.5" width="1366" height="4.7" fill="#f0f0f0"/>
<rect x="493.4" y="1884" width="9.4" height="1364" fill="#f0f0f0"/>
<rect x="436" y="3180.8" width="1366" height="9.4" fill="#f0f0f0"/>
<rect x="803.8" y="1884" width="9.4" height="1364" fill="#f0f0f0"/>
<rect x="436" y="2870.9" width="1366" height="9.4" fill="#f0f0f0"/>
<rect x="1114.3" y="1884" width="9.4" height="1364" fill="#f0f0f0"/>
<rect x="436" y="2561.0" width="1366" height="9.4" fill="#f0f0f0"/>
<rect x="1424.8" y="1884" width="9.4" height="1364" fill="#f0f0f0"/>
<rect x="436" y="2251.1" width="1366" height="9.4" fill="#f0f0f0"/>
<rect x="1735.2" y="1884" width="9.4" height="1364" fill="#f0f0f0"/>
<rect x="436" y="1941.2" width="1366" height="9.4" fill="#f0f0f0"/>
<g shape-rendering="crispEdges"><path fill="#007337" d="M1113 2560h12v12h-12z"/>
<path fill="#007d3c" d="M1125 2560h12v12h-12z"/>
<path fill="#008840" d="M1113 2572h12v12h-12z"/>
<path fill="#008f44" d="M1125 2572h12v12h-12z"/>
<path fill="#009849" d="M1113 2548h12v12h-12zM1101 2560h12v12h-12z"/>
<path fill="#00a751" d="M1101 2548h12v12h-12zM1125 2548h12v12h-12zM1101 2572h12v12h-12z"/>
<path fill="#00b658" d="M1089 2548h12v12h-12zM1089 2560h12v12h-12zM1113 2584h12v12h-12z"/>
<path fill="#0ab959" d="M1125 2584h12v12h-12z"/>
<path fill="#15bb5a" d="M1101 2536h24v12h-24zM1137 2548h12v12h-12zM1137 2560h12v12h-12zM1089 2572h12v12h-12zM1137 2572h12v12h-12zM1101 2584h12v12h-12z"/>
<path fill="#1fbe5b" d="M1137 2584h12v12h-12z"/>
<path fill="#29c15c" d="M1125 2536h12v12h-12z"/>
<path fill="#34c35d" d="M1101 2523h24v13h-24z"/>
<path fill="#3ec65e" d="M1149 2572h13v12h-13zM1089 2584h12v12h-12zM1113 2596h24v13h-24z"/>
<path fill="#46c85f" d="M1089 2523h12v13h-12zM1125 2523h12v13h-12zM1089 2536h12v12h-12zM1076 2548h13v12h-13zM1076 2560h13v12h-13zM1149 2560h13v12h-13zM1149 2584h13v12h-13z"/>
<path fill="#4fc95f" d="M1076 2536h13v12h-13zM1137 2536h12v12h-12zM1149 2548h13v12h-13zM1076 2572h13v12h-13zM1101 2596h12v13h-12zM1137 2596h12v13h-12z"/>
<path fill="#5fcd61" d="M1076 2523h13v13h-13zM1137 2523h12v13h-12zM1149 2536h13v12h-13zM1076 2584h13v12h-13zM1149 2596h13v13h-13z"/>
<path fill="#68ce61" d="M1101 2511h12v12h-12zM1064 2548h12v12h-12zM1064 2560h12v12h-12zM1162 2560h12v12h-12zM1162 2572h12v12h-12zM1089 2596h12v13h-12zM1125 2609h12v12h-12z"/>
<path fill="#70d062" d="M1089 2511h12v12h-12zM1113 2511h12v12h-12zM1064 2536h12v12h-12zM1162 2584h12v12h-12zM1113 2609h12v12h-12zM1137 2609h12v12h-12z"/>
<path fill="#76d263" d="M1125 2511h12v12h-12zM1162 2548h12v12h-12zM1064 2572h12v12h-12zM1101 2609h12v12h-12z"/>
<path fill="#7dd364" d="M1076 2511h13v12h-13zM1064 2523h12v13h-12zM1149 2523h13v13h-13zM1076 2596h13v13h-13zM1162 2596h12v13h-12zM1149 2609h13v12h-13z"/>
<path fill="#83d565" d="M1162 2536h12v12h-12zM1064 2584h12v12h-12z"/>
<path fill="#89d766" d="M1064 2511h12v12h-12zM1137 2511h12v12h-12zM1089 2609h12v12h-12zM1162 2609h12v12h-12z"/>
<path fill="#90d867" d="M1089 2499h24v12h-24zM1052 2536h12v12h-12zM1052 2548h12v12h-12zM1052 2560h12v12h-12zM1174 2560h12v12h-12zM1174 2572h12v12h-12zM1174 2584h12v12h-12zM1125 2621h24v12h-24z"/>
<path fill="#96da68" d="M1076 2499h13v12h-13zM1113 2499h12v12h-12zM1052 2523h12v13h-12zM1174 2596h12v13h-12zM1113 2621h12v12h-12zM1149 2621h13v12h-13z"/>
<path fill="#9adc6b" d="M1064 2499h12v12h-12zM1052 2511h12v12h-12zM1149 2511h13v12h-13zM1162 2523h12v13h-12zM1174 2548h12v12h-12zM1052 2572h12v12h-12zM1064 2596h12v13h-12zM1076 2609h13v12h-13zM1174 2609h12v12h-12zM1162 2621h12v12h-12z"/>
<path fill="#9fdd6d" d="M1125 2499h12v12h-12zM1174 2536h12v12h-12zM1052 2584h12v12h-12zM1101 2621h12v12h-12z"/>
<path fill="#a4df70" d="M1052 2499h12v12h-12zM1040 2523h12v13h-12zM1040 2536h12v12h-12zM1040 2548h12v12h-12zM1186 2572h12v12h-12zM1186 2584h12v12h-12zM1186 2596h12v13h-12zM1174 2621h12v12h-12z"/>
<path fill="#a8e173" d="M1064 2487h37v12h-37zM1137 2499h12v12h-12zM1040 2511h12v12h-12zM1040 2560h12v12h-12zM1186 2560h12v12h-12zM1186 2609h12v12h-12zM1089 2621h12v12h-12zM1137 2633h37v12h-37z"/>
<path fill="#ace275" d="M1052 2487h12v12h-12zM1101 2487h12v12h-12zM1040 2499h12v12h-12zM1162 2511h12v12h-12zM1174 2523h12v13h-12zM1186 2548h12v12h-12zM1040 2572h12v12h-12zM1052 2596h12v13h-12zM1064 2609h12v12h-12zM1186 2621h12v12h-12zM1125 2633h12v12h-12zM1174 2633h12v12h-12z"/>
<path fill="#b1e478" d="M1040 2487h12v12h-12zM1113 2487h12v12h-12zM1149 2499h13v12h-13zM1028 2523h12v13h-12zM1198 2596h12v13h-12zM1076 2621h13v12h-13zM1113 2633h12v12h-12zM1186 2633h12v12h-12z"/>
<path fill="#b5e57a" d="M1052 2475h37v12h-37zM1125 2487h12v12h-12zM1028 2499h12v12h-12zM1028 2511h12v12h-12zM1028 2536h12v12h-12zM1186 2536h12v12h-12zM1028 2548h12v12h-12zM1198 2572h12v12h-12zM1040 2584h12v12h-12zM1198 2584h12v12h-12zM1198 2609h12v12h-12zM1198 2621h12v12h-12zM1101 2633h12v12h-12zM1149 2645h37v12h-37z"/>
<path fill="#b9e67d" d="M1040 2475h12v12h-12zM1089 2475h12v12h-12zM1028 2487h12v12h-12zM1174 2511h12v12h-12zM1028 2560h12v12h-12zM1198 2560h12v12h-12zM1052 2609h12v12h-12zM1198 2633h12v12h-12zM1137 2645h12v12h-12zM1186 2645h12v12h-12z"/>
<path fill="#bee77f" d="M1101 2475h12v12h-12zM1137 2487h12v12h-12zM1162 2499h12v12h-12zM1015 2511h13v12h-13zM1015 2523h13v13h-13zM1186 2523h12v13h-12zM1198 2548h12v12h-12zM1028 2572h12v12h-12zM1040 2596h12v13h-12zM1210 2596h13v13h-13zM1210 2609h13v12h-13zM1064 2621h12v12h-12zM1089 2633h12v12h-12zM1125 2645h12v12h-12z"/>
<path fill="#c2e881" d="M1040 2463h36v12h-36zM1028 2475h12v12h-12zM1015 2487h13v12h-13zM1015 2499h13v12h-13zM1015 2536h13v12h-13zM1015 2548h13v12h-13zM1210 2572h13v12h-13zM1210 2584h13v12h-13zM1210 2621h13v12h-13zM1210 2633h13v12h-13zM1198 2645h12v12h-12zM1162 2657h36v12h-36z"/>
<path fill="#c6e984" d="M1028 2463h12v12h-12zM1076 2463h13v12h-13zM1015 2475h13v12h-13zM1113 2475h12v12h-12zM1149 2487h13v12h-13zM1198 2536h12v12h-12zM1015 2560h13v12h-13zM1210 2560h13v12h-13zM1028 2584h12v12h-12zM1076 2633h13v12h-13zM1113 2645h12v12h-12zM1210 2645h13v12h-13zM1149 2657h13v12h-13zM1198 2657h12v12h-12z"/>
<path fill="#caea86" d="M1089 2463h12v12h-12zM1125 2475h12v12h-12zM1003 2499h12v12h-12zM1174 2499h12v12h-12zM1003 2511h12v12h-12zM1186 2511h12v12h-12zM1003 2523h12v13h-12zM1198 2523h12v13h-12zM1003 2536h12v12h-12zM1210 2548h13v12h-13zM1015 2572h13v12h-13zM1223 2584h12v12h-12zM1028 2596h12v13h-12zM1223 2596h12v13h-12zM1040 2609h12v12h-12zM1223 2609h12v12h-12zM1052 2621h12v12h-12zM1223 2621h12v12h-12zM1101 2645h12v12h-12zM1137 2657h12v12h-12z"/>
<path fill="#ceec89" d="M1040 2450h36v13h-36zM1015 2463h13v12h-13zM1101 2463h12v12h-12zM1003 2475h12v12h-12zM1003 2487h12v12h-12zM1003 2548h12v12h-12zM1223 2572h12v12h-12zM1223 2633h12v12h-12zM1223 2645h12v12h-12zM1125 2657h12v12h-12zM1210 2657h13v12h-13zM1162 2669h36v13h-36z"/>
<path fill="#d1ed8c" d="M1015 2450h25v13h-25zM1076 2450h13v13h-13zM1003 2463h12v12h-12zM1137 2475h12v12h-12zM1162 2487h12v12h-12zM1210 2536h13v12h-13zM1003 2560h12v12h-12zM1223 2560h12v12h-12zM1015 2584h13v12h-13zM1064 2633h12v12h-12zM1089 2645h12v12h-12zM1223 2657h12v12h-12zM1149 2669h13v13h-13zM1198 2669h25v13h-25z"/>
<path fill="#d5ef8f" d="M1089 2450h12v13h-12zM1113 2463h12v12h-12zM991 2475h12v12h-12zM991 2487h12v12h-12zM991 2499h12v12h-12zM1186 2499h12v12h-12zM991 2511h12v12h-12zM1198 2511h12v12h-12zM991 2523h12v13h-12zM1210 2523h13v13h-13zM991 2536h12v12h-12zM1223 2548h12v12h-12zM1003 2572h12v12h-12zM1235 2584h12v12h-12zM1015 2596h13v13h-13zM1235 2596h12v13h-12zM1028 2609h12v12h-12zM1235 2609h12v12h-12zM1040 2621h12v12h-12zM1235 2621h12v12h-12zM1235 2633h12v12h-12zM1235 2645h12v12h-12zM1113 2657h12v12h-12zM1137 2669h12v13h-12z"/>
<path fill="#d9f192" d="M1028 2438h36v12h-36zM1003 2450h12v13h-12zM991 2463h12v12h-12zM1149 2475h13v12h-13zM1174 2487h12v12h-12zM1223 2536h12v12h-12zM991 2548h12v12h-12zM991 2560h12v12h-12zM1235 2560h12v12h-12zM1235 2572h12v12h-12zM1003 2584h12v12h-12zM1052 2633h12v12h-12zM1076 2645h13v12h-13zM1235 2657h12v12h-12zM1223 2669h12v13h-12zM1174 2682h36v12h-36z"/>
<path fill="#dcf295" d="M1003 2438h25v12h-25zM1064 2438h12v12h-12zM991 2450h12v13h-12zM1101 2450h12v13h-12zM1125 2463h12v12h-12zM979 2475h12v12h-12zM979 2487h12v12h-12zM979 2499h12v12h-12zM979 2511h12v12h-12zM979 2523h12v13h-12zM1247 2596h12v13h-12zM1247 2609h12v12h-12zM1247 2621h12v12h-12zM1247 2633h12v12h-12zM1247 2645h12v12h-12zM1101 2657h12v12h-12zM1125 2669h12v13h-12zM1235 2669h12v13h-12zM1162 2682h12v12h-12zM1210 2682h25v12h-25z"/>
<path fill="#e0f498" d="M991 2438h12v12h-12zM1076 2438h13v12h-13zM979 2450h12v13h-12zM979 2463h12v12h-12zM1137 2463h12v12h-12zM1162 2475h12v12h-12zM1198 2499h12v12h-12zM1210 2511h13v12h-13zM1223 2523h12v13h-12zM979 2536h12v12h-12zM979 2548h12v12h-12zM1235 2548h12v12h-12zM991 2572h12v12h-12zM1247 2572h12v12h-12zM1247 2584h12v12h-12zM1003 2596h12v13h-12zM1015 2609h13v12h-13zM1028 2621h12v12h-12zM1064 2645h12v12h-12zM1089 2657h12v12h-12zM1247 2657h12v12h-12zM1247 2669h12v13h-12zM1149 2682h13v12h-13zM1235 2682h12v12h-12z"/>
<path fill="#e3f59b" d="M1003 2426h49v12h-49zM979 2438h12v12h-12zM1089 2438h12v12h-12zM1113 2450h12v13h-12zM1186 2487h12v12h-12zM1235 2536h12v12h-12zM979 2560h12v12h-12zM1247 2560h12v12h-12zM991 2584h12v12h-12zM1040 2633h12v12h-12zM1113 2669h12v13h-12zM1137 2682h12v12h-12zM1247 2682h12v12h-12zM1186 2694h49v12h-49z"/>
<path fill="#e6f69f" d="M991 2426h12v12h-12zM1052 2426h12v12h-12zM1101 2438h12v12h-12zM967 2450h12v13h-12zM1125 2450h12v13h-12zM967 2463h12v12h-12zM1149 2463h13v12h-13zM967 2475h12v12h-12zM1174 2475h12v12h-12zM967 2487h12v12h-12zM967 2499h12v12h-12zM967 2511h12v12h-12zM967 2523h12v13h-12zM967 2536h12v12h-12zM1247 2548h12v12h-12zM979 2572h12v12h-12zM1259 2584h12v12h-12zM1259 2596h12v13h-12zM1259 2609h12v12h-12zM1259 2621h12v12h-12zM1259 2633h12v12h-12zM1052 2645h12v12h-12zM1259 2645h12v12h-12zM1076 2657h13v12h-13zM1259 2657h12v12h-12zM1101 2669h12v13h-12zM1259 2669h12v13h-12zM1125 2682h12v12h-12zM1174 2694h12v12h-12zM1235 2694h12v12h-12z"/>
<path fill="#eaf7a2" d="M979 2426h12v12h-12zM1064 2426h12v12h-12zM967 2438h12v12h-12zM1198 2487h12v12h-12zM1210 2499h13v12h-13zM1223 2511h12v12h-12zM1235 2523h12v13h-12zM967 2548h12v12h-12zM1259 2572h12v12h-12zM991 2596h12v13h-12zM1003 2609h12v12h-12zM1015 2621h13v12h-13zM1028 2633h12v12h-12zM1259 2682h12v12h-12zM1162 2694h12v12h-12zM1247 2694h12v12h-12z"/>
<path fill="#edf8a5" d="M979 2414h61v12h-61zM967 2426h12v12h-12zM1076 2426h13v12h-13zM955 2438h12v12h-12zM1113 2438h12v12h-12zM955 2450h12v13h-12zM1137 2450h12v13h-12zM955 2463h12v12h-12zM955 2475h12v12h-12zM955 2487h12v12h-12zM955 2499h12v12h-12zM955 2511h12v12h-12zM1247 2536h12v12h-12zM967 2560h12v12h-12zM1259 2560h12v12h-12zM979 2584h12v12h-12zM1271 2609h12v12h-12zM1271 2621h12v12h-12zM1271 2633h12v12h-12zM1271 2645h12v12h-12zM1271 2657h12v12h-12zM1089 2669h12v13h-12zM1271 2669h12v13h-12zM1113 2682h12v12h-12zM1271 2682h12v12h-12zM1149 2694h13v12h-13zM1259 2694h12v12h-12zM1198 2706h61v12h-61z"/>
<path fill="#f0f9a9" d="M967 2414h12v12h-12zM1040 2414h24v12h-24zM955 2426h12v12h-12zM1089 2426h12v12h-12zM1162 2463h12v12h-12zM1186 2475h12v12h-12zM1223 2499h12v12h-12zM955 2523h12v13h-12zM955 2536h12v12h-12zM1271 2584h12v12h-12zM1271 2596h12v13h-12zM1003 2621h12v12h-12zM1040 2645h12v12h-12zM1064 2657h12v12h-12zM1137 2694h12v12h-12zM1271 2694h12v12h-12zM1174 2706h24v12h-24zM1259 2706h12v12h-12z"/>
<path fill="#f3faac" d="M967 2402h48v12h-48zM955 2414h12v12h-12zM1064 2414h12v12h-12zM1101 2426h12v12h-12zM942 2438h13v12h-13zM1125 2438h12v12h-12zM942 2450h13v13h-13zM942 2463h13v12h-13zM942 2475h13v12h-13zM942 2487h13v12h-13zM1210 2487h13v12h-13zM942 2499h13v12h-13zM1235 2511h12v12h-12zM1247 2523h12v13h-12zM955 2548h12v12h-12zM1259 2548h12v12h-12zM967 2572h12v12h-12zM1271 2572h12v12h-12zM979 2596h12v13h-12zM991 2609h12v12h-12zM1283 2621h13v12h-13zM1015 2633h13v12h-13zM1283 2633h13v12h-13zM1283 2645h13v12h-13zM1283 2657h13v12h-13zM1283 2669h13v13h-13zM1101 2682h12v12h-12zM1283 2682h13v12h-13zM1125 2694h12v12h-12zM1162 2706h12v12h-12zM1271 2706h12v12h-12zM1223 2718h48v12h-48z"/>
<path fill="#f5faad" d="M955 2402h12v12h-12zM1015 2402h25v12h-25zM942 2414h13v12h-13zM1076 2414h13v12h-13zM942 2426h13v12h-13zM1149 2450h13v13h-13zM1174 2463h12v12h-12zM1198 2475h12v12h-12zM942 2511h13v12h-13zM942 2523h13v13h-13zM1259 2536h12v12h-12zM955 2560h12v12h-12zM1271 2560h12v12h-12zM967 2584h12v12h-12zM1283 2596h13v13h-13zM1283 2609h13v12h-13zM1028 2645h12v12h-12zM1052 2657h12v12h-12zM1076 2669h13v13h-13zM1283 2694h13v12h-13zM1149 2706h13v12h-13zM1283 2706h13v12h-13zM1198 2718h25v12h-25zM1271 2718h12v12h-12z"/>
<path fill="#f6faae" d="M955 2390h48v12h-48zM942 2402h13v12h-13zM1040 2402h12v12h-12zM930 2414h12v12h-12zM1089 2414h12v12h-12zM930 2426h12v12h-12zM1113 2426h12v12h-12zM930 2438h12v12h-12zM1137 2438h12v12h-12zM930 2450h12v13h-12zM930 2463h12v12h-12zM930 2475h12v12h-12zM930 2487h12v12h-12zM1235 2499h12v12h-12zM942 2536h13v12h-13zM1283 2584h13v12h-13zM991 2621h12v12h-12zM1296 2633h12v12h-12zM1296 2645h12v12h-12zM1296 2657h12v12h-12zM1296 2669h12v13h-12zM1089 2682h12v12h-12zM1296 2682h12v12h-12zM1113 2694h12v12h-12zM1296 2694h12v12h-12zM1137 2706h12v12h-12zM1296 2706h12v12h-12zM1186 2718h12v12h-12zM1283 2718h13v12h-13zM1235 2730h48v12h-48z"/>
<path fill="#f8faaf" d="M942 2390h13v12h-13zM1003 2390h25v12h-25zM930 2402h12v12h-12zM1052 2402h12v12h-12zM1162 2450h12v13h-12zM1186 2463h12v12h-12zM1223 2487h12v12h-12zM930 2499h12v12h-12zM930 2511h12v12h-12zM1247 2511h12v12h-12zM1259 2523h12v13h-12zM942 2548h13v12h-13zM1271 2548h12v12h-12zM955 2572h12v12h-12zM1283 2572h13v12h-13zM967 2596h12v13h-12zM979 2609h12v12h-12zM1296 2609h12v12h-12zM1296 2621h12v12h-12zM1003 2633h12v12h-12zM1040 2657h12v12h-12zM1064 2669h12v13h-12zM1174 2718h12v12h-12zM1296 2718h12v12h-12zM1210 2730h25v12h-25zM1283 2730h13v12h-13z"/>
<path fill="#fafab0" d="M930 2378h73v12h-73zM918 2390h24v12h-24zM1028 2390h12v12h-12zM918 2402h12v12h-12zM1064 2402h12v12h-12zM918 2414h12v12h-12zM1101 2414h12v12h-12zM918 2426h12v12h-12zM1125 2426h12v12h-12zM918 2438h12v12h-12zM918 2450h12v13h-12zM918 2463h12v12h-12zM918 2475h12v12h-12zM1210 2475h13v12h-13zM918 2487h12v12h-12zM930 2523h12v13h-12zM942 2560h13v12h-13zM1283 2560h13v12h-13zM1296 2596h12v13h-12zM1308 2633h12v12h-12zM1015 2645h13v12h-13zM1308 2645h12v12h-12zM1308 2657h12v12h-12zM1308 2669h12v13h-12zM1308 2682h12v12h-12zM1101 2694h12v12h-12zM1308 2694h12v12h-12zM1125 2706h12v12h-12zM1308 2706h12v12h-12zM1162 2718h12v12h-12zM1308 2718h12v12h-12zM1198 2730h12v12h-12zM1296 2730h24v12h-24zM1235 2742h73v12h-73z"/>
<path fill="#fbfab1" d="M942 2365h25v13h-25zM918 2378h12v12h-12zM1003 2378h12v12h-12zM906 2390h12v12h-12zM1040 2390h12v12h-12zM906 2402h12v12h-12zM1076 2402h13v12h-13zM906 2414h12v12h-12zM1113 2414h12v12h-12zM906 2426h12v12h-12zM906 2438h12v12h-12zM1149 2438h13v12h-13zM1174 2450h12v13h-12zM1198 2463h12v12h-12zM918 2499h12v12h-12zM1247 2499h12v12h-12zM930 2536h12v12h-12zM1271 2536h12v12h-12zM955 2584h12v12h-12zM1296 2584h12v12h-12zM979 2621h12v12h-12zM1308 2621h12v12h-12zM1028 2657h12v12h-12zM1052 2669h12v13h-12zM1076 2682h13v12h-13zM1320 2682h12v12h-12zM1320 2694h12v12h-12zM1113 2706h12v12h-12zM1320 2706h12v12h-12zM1149 2718h13v12h-13zM1320 2718h12v12h-12zM1186 2730h12v12h-12zM1320 2730h12v12h-12zM1223 2742h12v12h-12zM1308 2742h12v12h-12zM1271 2754h25v13h-25z"/>
<path fill="#fdfab2" d="M918 2365h24v13h-24zM967 2365h36v13h-36zM906 2378h12v12h-12zM1015 2378h13v12h-13zM1052 2390h12v12h-12zM894 2402h12v12h-12zM1089 2402h12v12h-12zM1137 2426h12v12h-12zM906 2450h12v13h-12zM906 2463h12v12h-12zM906 2475h12v12h-12zM1223 2475h12v12h-12zM1235 2487h12v12h-12zM918 2511h12v12h-12zM1259 2511h12v12h-12zM930 2548h12v12h-12zM1283 2548h13v12h-13zM942 2572h13v12h-13zM1296 2572h12v12h-12zM967 2609h12v12h-12zM1308 2609h12v12h-12zM991 2633h12v12h-12zM1003 2645h12v12h-12zM1320 2645h12v12h-12zM1320 2657h12v12h-12zM1320 2669h12v13h-12zM1089 2694h12v12h-12zM1137 2718h12v12h-12zM1332 2718h12v12h-12zM1174 2730h12v12h-12zM1210 2742h13v12h-13zM1320 2742h12v12h-12zM1235 2754h36v13h-36zM1296 2754h24v13h-24z"/>
<path fill="#fdf8af" d="M918 2353h61v12h-61zM906 2365h12v13h-12zM1003 2365h12v13h-12zM894 2378h12v12h-12zM1028 2378h12v12h-12zM894 2390h12v12h-12zM1064 2390h12v12h-12zM1101 2402h12v12h-12zM894 2414h12v12h-12zM1125 2414h12v12h-12zM894 2426h12v12h-12zM894 2438h12v12h-12zM1162 2438h12v12h-12zM894 2450h12v13h-12zM1186 2450h12v13h-12zM906 2487h12v12h-12zM906 2499h12v12h-12zM918 2523h12v13h-12zM1271 2523h12v13h-12zM930 2560h12v12h-12zM1296 2560h12v12h-12zM955 2596h12v13h-12zM1308 2596h12v13h-12zM1320 2621h12v12h-12zM1320 2633h12v12h-12zM1040 2669h12v13h-12zM1332 2669h12v13h-12zM1064 2682h12v12h-12zM1332 2682h12v12h-12zM1332 2694h12v12h-12zM1101 2706h12v12h-12zM1332 2706h12v12h-12zM1125 2718h12v12h-12zM1162 2730h12v12h-12zM1332 2730h12v12h-12zM1198 2742h12v12h-12zM1332 2742h12v12h-12zM1223 2754h12v13h-12zM1320 2754h12v13h-12zM1259 2767h61v12h-61z"/>
<path fill="#fdf6ab" d="M906 2353h12v12h-12zM979 2353h24v12h-24zM894 2365h12v13h-12zM1015 2365h13v13h-13zM882 2378h12v12h-12zM1040 2378h12v12h-12zM882 2390h12v12h-12zM882 2402h12v12h-12zM882 2414h12v12h-12zM1149 2426h13v12h-13zM894 2463h12v12h-12zM1210 2463h13v12h-13zM906 2511h12v12h-12zM918 2536h12v12h-12zM1283 2536h13v12h-13zM942 2584h13v12h-13zM1308 2584h12v12h-12zM1320 2609h12v12h-12zM1015 2657h13v12h-13zM1332 2657h12v12h-12zM1076 2694h13v12h-13zM1344 2706h12v12h-12zM1344 2718h12v12h-12zM1344 2730h12v12h-12zM1186 2742h12v12h-12zM1344 2742h12v12h-12zM1210 2754h13v13h-13zM1332 2754h12v13h-12zM1235 2767h24v12h-24zM1320 2767h12v12h-12z"/>
<path fill="#fef4a8" d="M906 2341h73v12h-73zM894 2353h12v12h-12zM1003 2353h12v12h-12zM882 2365h12v13h-12zM1028 2365h12v13h-12zM1052 2378h12v12h-12zM1076 2390h13v12h-13zM1113 2402h12v12h-12zM1137 2414h12v12h-12zM882 2426h12v12h-12zM882 2438h12v12h-12zM1174 2438h12v12h-12zM894 2475h12v12h-12zM1235 2475h12v12h-12zM894 2487h12v12h-12zM1247 2487h12v12h-12zM1259 2499h12v12h-12zM1271 2511h12v12h-12zM906 2523h12v13h-12zM918 2548h12v12h-12zM1296 2548h12v12h-12zM930 2572h12v12h-12zM1308 2572h12v12h-12zM1320 2596h12v13h-12zM955 2609h12v12h-12zM967 2621h12v12h-12zM979 2633h12v12h-12zM1332 2633h12v12h-12zM991 2645h12v12h-12zM1332 2645h12v12h-12zM1052 2682h12v12h-12zM1344 2682h12v12h-12zM1344 2694h12v12h-12zM1089 2706h12v12h-12zM1113 2718h12v12h-12zM1149 2730h13v12h-13zM1174 2742h12v12h-12zM1198 2754h12v13h-12zM1344 2754h12v13h-12zM1223 2767h12v12h-12zM1332 2767h12v12h-12zM1259 2779h73v12h-73z"/>
<path fill="#fef2a5" d="M894 2341h12v12h-12zM979 2341h24v12h-24zM882 2353h12v12h-12zM1015 2353h13v12h-13zM869 2365h13v13h-13zM869 2378h13v12h-13zM869 2390h13v12h-13zM1089 2390h12v12h-12zM869 2402h13v12h-13zM869 2414h13v12h-13zM882 2450h12v13h-12zM1198 2450h12v13h-12zM882 2463h12v12h-12zM1223 2463h12v12h-12zM894 2499h12v12h-12zM1283 2523h13v13h-13zM906 2536h12v12h-12zM918 2560h12v12h-12zM1308 2560h12v12h-12zM1320 2584h12v12h-12zM942 2596h13v13h-13zM1332 2621h12v12h-12zM1003 2657h12v12h-12zM1344 2657h12v12h-12zM1028 2669h12v13h-12zM1344 2669h12v13h-12zM1356 2706h13v12h-13zM1356 2718h13v12h-13zM1137 2730h12v12h-12zM1356 2730h13v12h-13zM1356 2742h13v12h-13zM1356 2754h13v13h-13zM1210 2767h13v12h-13zM1344 2767h12v12h-12zM1235 2779h24v12h-24zM1332 2779h12v12h-12z"/>
<path fill="#fef0a1" d="M894 2329h97v12h-97zM882 2341h12v12h-12zM1003 2341h12v12h-12zM869 2353h13v12h-13zM1028 2353h12v12h-12zM1040 2365h12v13h-12zM1064 2378h12v12h-12zM1101 2390h12v12h-12zM1125 2402h12v12h-12zM869 2426h13v12h-13zM1162 2426h12v12h-12zM869 2438h13v12h-13zM1186 2438h12v12h-12zM882 2475h12v12h-12zM894 2511h12v12h-12zM1296 2536h12v12h-12zM930 2584h12v12h-12zM1332 2609h12v12h-12zM1344 2645h12v12h-12zM1040 2682h12v12h-12zM1356 2682h13v12h-13zM1064 2694h12v12h-12zM1356 2694h13v12h-13zM1101 2718h12v12h-12zM1125 2730h12v12h-12zM1162 2742h12v12h-12zM1186 2754h12v13h-12zM1198 2767h12v12h-12zM1356 2767h13v12h-13zM1223 2779h12v12h-12zM1344 2779h12v12h-12zM1247 2791h97v12h-97z"/>
<path fill="#feee9e" d="M882 2329h12v12h-12zM991 2329h12v12h-12zM869 2341h13v12h-13zM1015 2341h13v12h-13zM1052 2365h12v13h-12zM857 2378h12v12h-12zM1076 2378h13v12h-13zM857 2390h12v12h-12zM1113 2390h12v12h-12zM857 2402h12v12h-12zM857 2414h12v12h-12zM1149 2414h13v12h-13zM869 2450h13v13h-13zM1210 2450h13v13h-13zM869 2463h13v12h-13zM1247 2475h12v12h-12zM882 2487h12v12h-12zM1259 2487h12v12h-12zM1271 2499h12v12h-12zM1283 2511h13v12h-13zM894 2523h12v13h-12zM906 2548h12v12h-12zM1308 2548h12v12h-12zM918 2572h12v12h-12zM1320 2572h12v12h-12zM1332 2596h12v13h-12zM942 2609h13v12h-13zM955 2621h12v12h-12zM967 2633h12v12h-12zM1344 2633h12v12h-12zM979 2645h12v12h-12zM1356 2657h13v12h-13zM1015 2669h13v13h-13zM1356 2669h13v13h-13zM1076 2706h13v12h-13zM1369 2706h12v12h-12zM1369 2718h12v12h-12zM1113 2730h12v12h-12zM1369 2730h12v12h-12zM1149 2742h13v12h-13zM1369 2742h12v12h-12zM1174 2754h12v13h-12zM1210 2779h13v12h-13zM1356 2779h13v12h-13zM1235 2791h12v12h-12zM1344 2791h12v12h-12z"/>
<path fill="#feeb9a" d="M894 2317h97v12h-97zM869 2329h13v12h-13zM1003 2329h25v12h-25zM1028 2341h12v12h-12zM857 2353h12v12h-12zM1040 2353h12v12h-12zM857 2365h12v13h-12zM1064 2365h12v13h-12zM1089 2378h12v12h-12zM1137 2402h12v12h-12zM857 2426h12v12h-12zM1174 2426h12v12h-12zM857 2438h12v12h-12zM1198 2438h12v12h-12zM1235 2463h12v12h-12zM869 2475h13v12h-13zM882 2499h12v12h-12zM1296 2523h12v13h-12zM894 2536h12v12h-12zM906 2560h12v12h-12zM1320 2560h12v12h-12zM1332 2584h12v12h-12zM930 2596h12v13h-12zM1344 2621h12v12h-12zM1356 2645h13v12h-13zM991 2657h12v12h-12zM1028 2682h12v12h-12zM1369 2682h12v12h-12zM1052 2694h12v12h-12zM1369 2694h12v12h-12zM1089 2718h12v12h-12zM1137 2742h12v12h-12zM1162 2754h12v13h-12zM1369 2754h12v13h-12zM1186 2767h12v12h-12zM1369 2767h12v12h-12zM1198 2779h12v12h-12zM1210 2791h25v12h-25zM1356 2791h13v12h-13zM1247 2803h97v12h-97z"/>
<path fill="#fee996" d="M882 2317h12v12h-12zM991 2317h24v12h-24zM1028 2329h12v12h-12zM857 2341h12v12h-12zM1040 2341h12v12h-12zM1052 2353h12v12h-12zM1076 2365h13v13h-13zM1101 2378h12v12h-12zM1125 2390h12v12h-12zM1162 2414h12v12h-12zM857 2450h12v13h-12zM1223 2450h12v13h-12zM869 2487h13v12h-13zM1271 2487h12v12h-12zM882 2511h12v12h-12zM1308 2536h12v12h-12zM918 2584h12v12h-12zM1344 2609h12v12h-12zM955 2633h12v12h-12zM1356 2633h13v12h-13zM1003 2669h12v13h-12zM1369 2669h12v13h-12zM1064 2706h12v12h-12zM1101 2730h12v12h-12zM1125 2742h12v12h-12zM1149 2754h13v13h-13zM1174 2767h12v12h-12zM1186 2779h12v12h-12zM1369 2779h12v12h-12zM1198 2791h12v12h-12zM1223 2803h24v12h-24zM1344 2803h12v12h-12z"/>
<path fill="#fee692" d="M894 2305h97v12h-97zM869 2317h13v12h-13zM1015 2317h13v12h-13zM857 2329h12v12h-12zM1052 2341h12v12h-12zM845 2353h12v12h-12zM1064 2353h12v12h-12zM845 2365h12v13h-12zM1089 2365h12v13h-12zM845 2378h12v12h-12zM1113 2378h12v12h-12zM845 2390h12v12h-12zM845 2402h12v12h-12zM1149 2402h13v12h-13zM845 2414h12v12h-12zM845 2426h12v12h-12zM1186 2426h12v12h-12zM1210 2438h13v12h-13zM857 2463h12v12h-12zM1247 2463h12v12h-12zM1259 2475h12v12h-12zM869 2499h13v12h-13zM1283 2499h13v12h-13zM1296 2511h12v12h-12zM882 2523h12v13h-12zM894 2548h12v12h-12zM1320 2548h12v12h-12zM906 2572h12v12h-12zM1332 2572h12v12h-12zM1344 2596h12v13h-12zM930 2609h12v12h-12zM942 2621h13v12h-13zM1356 2621h13v12h-13zM967 2645h12v12h-12zM979 2657h12v12h-12zM1369 2657h12v12h-12zM1015 2682h13v12h-13zM1040 2694h12v12h-12zM1381 2694h12v12h-12zM1381 2706h12v12h-12zM1076 2718h13v12h-13zM1381 2718h12v12h-12zM1381 2730h12v12h-12zM1113 2742h12v12h-12zM1381 2742h12v12h-12zM1137 2754h12v13h-12zM1381 2754h12v13h-12zM1162 2767h12v12h-12zM1381 2767h12v12h-12zM1174 2779h12v12h-12zM1369 2791h12v12h-12zM1210 2803h13v12h-13zM1356 2803h13v12h-13zM1247 2815h97v12h-97z"/>
<path fill="#fee38e" d="M882 2305h12v12h-12zM991 2305h24v12h-24zM857 2317h12v12h-12zM1028 2317h12v12h-12zM1040 2329h12v12h-12zM845 2341h12v12h-12zM1076 2353h13v12h-13zM1137 2390h12v12h-12zM1174 2414h12v12h-12zM845 2438h12v12h-12zM1235 2450h12v13h-12zM857 2475h12v12h-12zM869 2511h13v12h-13zM1308 2523h12v13h-12zM882 2536h12v12h-12zM894 2560h12v12h-12zM1332 2560h12v12h-12zM1344 2584h12v12h-12zM918 2596h12v13h-12zM1356 2609h13v12h-13zM1369 2645h12v12h-12zM991 2669h12v13h-12zM1381 2682h12v12h-12zM1052 2706h12v12h-12zM1089 2730h12v12h-12zM1149 2767h13v12h-13zM1381 2779h12v12h-12zM1186 2791h12v12h-12zM1198 2803h12v12h-12zM1369 2803h12v12h-12zM1223 2815h24v12h-24zM1344 2815h12v12h-12z"/>
<path fill="#fee18a" d="M918 2292h61v13h-61zM869 2305h13v12h-13zM1015 2305h13v12h-13zM1040 2317h12v12h-12zM845 2329h12v12h-12zM1052 2329h12v12h-12zM1064 2341h12v12h-12zM1101 2365h12v13h-12zM1125 2378h12v12h-12zM1162 2402h12v12h-12zM1198 2426h12v12h-12zM1223 2438h12v12h-12zM845 2450h12v13h-12zM845 2463h12v12h-12zM1271 2475h12v12h-12zM857 2487h12v12h-12zM1283 2487h13v12h-13zM869 2523h13v13h-13zM1320 2536h12v12h-12zM882 2548h12v12h-12zM1344 2572h12v12h-12zM906 2584h12v12h-12zM1356 2596h13v13h-13zM942 2633h13v12h-13zM1369 2633h12v12h-12zM955 2645h12v12h-12zM1381 2657h12v12h-12zM1381 2669h12v13h-12zM1003 2682h12v12h-12zM1028 2694h12v12h-12zM1064 2718h12v12h-12zM1101 2742h12v12h-12zM1125 2754h12v13h-12zM1162 2779h12v12h-12zM1174 2791h12v12h-12zM1381 2791h12v12h-12zM1186 2803h12v12h-12zM1210 2815h13v12h-13zM1356 2815h13v12h-13zM1259 2827h61v13h-61z"/>
<path fill="#fede86" d="M894 2292h24v13h-24zM979 2292h36v13h-36zM857 2305h12v12h-12zM1028 2305h12v12h-12zM845 2317h12v12h-12zM1052 2317h12v12h-12zM1064 2329h12v12h-12zM1076 2341h13v12h-13zM833 2353h12v12h-12zM1089 2353h12v12h-12zM833 2365h12v13h-12zM1113 2365h12v13h-12zM833 2378h12v12h-12zM1137 2378h12v12h-12zM833 2390h12v12h-12zM1149 2390h13v12h-13zM833 2402h12v12h-12zM833 2414h12v12h-12zM1186 2414h12v12h-12zM833 2426h12v12h-12zM1247 2450h12v13h-12zM1259 2463h12v12h-12zM845 2475h12v12h-12zM857 2499h12v12h-12zM1296 2499h12v12h-12zM1308 2511h12v12h-12zM869 2536h13v12h-13zM1332 2548h12v12h-12zM894 2572h12v12h-12zM1356 2584h13v12h-13zM918 2609h12v12h-12zM930 2621h12v12h-12zM1369 2621h12v12h-12zM1381 2645h12v12h-12zM967 2657h12v12h-12zM979 2669h12v13h-12zM1393 2694h12v12h-12zM1040 2706h12v12h-12zM1393 2706h12v12h-12zM1393 2718h12v12h-12zM1076 2730h13v12h-13zM1393 2730h12v12h-12zM1089 2742h12v12h-12zM1393 2742h12v12h-12zM1113 2754h12v13h-12zM1393 2754h12v13h-12zM1137 2767h12v12h-12zM1393 2767h12v12h-12zM1149 2779h13v12h-13zM1162 2791h12v12h-12zM1174 2803h12v12h-12zM1381 2803h12v12h-12zM1198 2815h12v12h-12zM1369 2815h12v12h-12zM1223 2827h36v13h-36zM1320 2827h24v13h-24z"/>
<path fill="#fedb83" d="M869 2292h25v13h-25zM1015 2292h25v13h-25zM1040 2305h12v12h-12zM833 2329h12v12h-12zM833 2341h12v12h-12zM1089 2341h12v12h-12zM1101 2353h12v12h-12zM1125 2365h12v13h-12zM1162 2390h12v12h-12zM1174 2402h12v12h-12zM1210 2426h13v12h-13zM833 2438h12v12h-12zM1235 2438h12v12h-12zM833 2450h12v13h-12zM845 2487h12v12h-12zM857 2511h12v12h-12zM1320 2523h12v13h-12zM1332 2536h12v12h-12zM882 2560h12v12h-12zM1344 2560h12v12h-12zM894 2584h12v12h-12zM906 2596h12v13h-12zM1369 2609h12v12h-12zM1381 2633h12v12h-12zM1393 2669h12v13h-12zM991 2682h12v12h-12zM1393 2682h12v12h-12zM1015 2694h13v12h-13zM1052 2718h12v12h-12zM1064 2730h12v12h-12zM1101 2754h12v13h-12zM1125 2767h12v12h-12zM1137 2779h12v12h-12zM1393 2779h12v12h-12zM1393 2791h12v12h-12zM1186 2815h12v12h-12zM1198 2827h25v13h-25zM1344 2827h25v13h-25z"/>
<path fill="#fed880" d="M504 2001h12v12h-12zM504 2013h12v12h-12zM504 2025h12v12h-12zM504 2037h12v12h-12zM906 2280h109v12h-109zM857 2292h12v13h-12zM1040 2292h12v13h-12zM845 2305h12v12h-12zM1052 2305h12v12h-12zM833 2317h12v12h-12zM1064 2317h12v12h-12zM1076 2329h13v12h-13zM1113 2353h12v12h-12zM1149 2378h13v12h-13zM1198 2414h12v12h-12zM1223 2426h12v12h-12zM833 2463h12v12h-12zM1271 2463h12v12h-12zM1283 2475h13v12h-13zM1296 2487h12v12h-12zM845 2499h12v12h-12zM1308 2499h12v12h-12zM857 2523h12v13h-12zM869 2548h13v12h-13zM1344 2548h12v12h-12zM882 2572h12v12h-12zM1356 2572h13v12h-13zM1369 2596h12v13h-12zM918 2621h12v12h-12zM1381 2621h12v12h-12zM930 2633h12v12h-12zM942 2645h13v12h-13zM955 2657h12v12h-12zM1393 2657h12v12h-12zM1003 2694h12v12h-12zM1028 2706h12v12h-12zM1076 2742h13v12h-13zM1113 2767h12v12h-12zM1149 2791h13v12h-13zM1162 2803h12v12h-12zM1393 2803h12v12h-12zM1174 2815h12v12h-12zM1381 2815h12v12h-12zM1186 2827h12v13h-12zM1369 2827h12v13h-12zM1223 2840h109v12h-109zM1722 3083h12v12h-12zM1722 3095h12v12h-12zM1722 3107h12v12h-12zM1722 3119h12v12h-12z"/>
<path fill="#fed47d" d="M504 1952h12v12h-12zM504 1964h12v12h-12zM504 1976h12v12h-12zM504 1988h12v13h-12zM504 2049h12v12h-12zM504 2061h12v13h-12zM882 2280h24v12h-24zM1015 2280h25v12h-25zM1064 2305h12v12h-12zM1076 2317h13v12h-13zM1089 2329h12v12h-12zM1101 2341h12v12h-12zM821 2353h12v12h-12zM1125 2353h12v12h-12zM821 2365h12v13h-12zM1137 2365h12v13h-12zM821 2378h12v12h-12zM821 2390h12v12h-12zM1174 2390h12v12h-12zM821 2402h12v12h-12zM1186 2402h12v12h-12zM821 2414h12v12h-12zM1210 2414h13v12h-13zM821 2426h12v12h-12zM1247 2438h12v12h-12zM1259 2450h12v13h-12zM833 2475h12v12h-12zM845 2511h12v12h-12zM1320 2511h12v12h-12zM1332 2523h12v13h-12zM857 2536h12v12h-12zM869 2560h13v12h-13zM1356 2560h13v12h-13zM1369 2584h12v12h-12zM894 2596h12v13h-12zM906 2609h12v12h-12zM1381 2609h12v12h-12zM1393 2645h12v12h-12zM967 2669h12v13h-12zM979 2682h12v12h-12zM1405 2694h12v12h-12zM1015 2706h13v12h-13zM1405 2706h12v12h-12zM1040 2718h12v12h-12zM1405 2718h12v12h-12zM1052 2730h12v12h-12zM1405 2730h12v12h-12zM1405 2742h12v12h-12zM1089 2754h12v13h-12zM1405 2754h12v13h-12zM1101 2767h12v12h-12zM1405 2767h12v12h-12zM1125 2779h12v12h-12zM1137 2791h12v12h-12zM1149 2803h13v12h-13zM1162 2815h12v12h-12zM1198 2840h25v12h-25zM1332 2840h24v12h-24zM1722 3058h12v13h-12zM1722 3071h12v12h-12zM1722 3131h12v13h-12zM1722 3144h12v12h-12zM1722 3156h12v12h-12zM1722 3168h12v12h-12z"/>
<path fill="#fed17a" d="M504 2074h12v12h-12zM942 2268h37v12h-37zM869 2280h13v12h-13zM1040 2280h12v12h-12zM845 2292h12v13h-12zM1052 2292h12v13h-12zM833 2305h12v12h-12zM821 2329h12v12h-12zM821 2341h12v12h-12zM1113 2341h12v12h-12zM1149 2365h13v13h-13zM1162 2378h12v12h-12zM1198 2402h12v12h-12zM1235 2426h12v12h-12zM821 2438h12v12h-12zM821 2450h12v13h-12zM1296 2475h12v12h-12zM833 2487h12v12h-12zM845 2523h12v13h-12zM1344 2536h12v12h-12zM857 2548h12v12h-12zM1369 2572h12v12h-12zM882 2584h12v12h-12zM1381 2596h12v13h-12zM1393 2633h12v12h-12zM930 2645h12v12h-12zM1405 2669h12v13h-12zM1405 2682h12v12h-12zM991 2694h12v12h-12zM1028 2718h12v12h-12zM1064 2742h12v12h-12zM1076 2754h13v13h-13zM1113 2779h12v12h-12zM1405 2779h12v12h-12zM1405 2791h12v12h-12zM1393 2815h12v12h-12zM1174 2827h12v13h-12zM1381 2827h12v13h-12zM1186 2840h12v12h-12zM1356 2840h13v12h-13zM1259 2852h37v12h-37zM1722 3046h12v12h-12z"/>
<path fill="#fece77" d="M516 1952h12v12h-12zM516 1964h12v12h-12zM516 1976h12v12h-12zM516 1988h12v13h-12zM516 2001h12v12h-12zM516 2013h12v12h-12zM516 2025h12v12h-12zM516 2037h12v12h-12zM516 2049h12v12h-12zM504 2086h12v12h-12zM906 2268h36v12h-36zM979 2268h49v12h-49zM857 2280h12v12h-12zM833 2292h12v13h-12zM1064 2292h12v13h-12zM1076 2305h13v12h-13zM821 2317h12v12h-12zM1089 2317h12v12h-12zM1101 2329h12v12h-12zM1125 2341h12v12h-12zM1137 2353h12v12h-12zM1174 2378h12v12h-12zM1186 2390h12v12h-12zM1223 2414h12v12h-12zM1259 2438h12v12h-12zM1271 2450h12v13h-12zM821 2463h12v12h-12zM1283 2463h13v12h-13zM1308 2487h12v12h-12zM833 2499h12v12h-12zM1320 2499h12v12h-12zM1332 2511h12v12h-12zM845 2536h12v12h-12zM1356 2548h13v12h-13zM869 2572h13v12h-13zM1381 2584h12v12h-12zM894 2609h12v12h-12zM906 2621h12v12h-12zM1393 2621h12v12h-12zM918 2633h12v12h-12zM942 2657h13v12h-13zM1405 2657h12v12h-12zM955 2669h12v13h-12zM967 2682h12v12h-12zM1003 2706h12v12h-12zM1040 2730h12v12h-12zM1052 2742h12v12h-12zM1089 2767h12v12h-12zM1101 2779h12v12h-12zM1125 2791h12v12h-12zM1137 2803h12v12h-12zM1405 2803h12v12h-12zM1149 2815h13v12h-13zM1162 2827h12v13h-12zM1393 2827h12v13h-12zM1369 2840h12v12h-12zM1210 2852h49v12h-49zM1296 2852h36v12h-36zM1722 3034h12v12h-12zM1710 3071h12v12h-12zM1710 3083h12v12h-12zM1710 3095h12v12h-12zM1710 3107h12v12h-12zM1710 3119h12v12h-12zM1710 3131h12v13h-12zM1710 3144h12v12h-12zM1710 3156h12v12h-12zM1710 3168h12v12h-12z"/>
<path fill="#fecb74" d="M528 1952h13v12h-13zM1722 1952h12v12h-12zM516 2061h12v13h-12zM516 2074h12v12h-12zM882 2268h24v12h-24zM1028 2268h12v12h-12zM845 2280h12v12h-12zM1052 2280h12v12h-12zM821 2305h12v12h-12zM1101 2317h12v12h-12zM1113 2329h12v12h-12zM808 2341h13v12h-13zM808 2353h13v12h-13zM1149 2353h13v12h-13zM808 2365h13v13h-13zM1162 2365h12v13h-12zM808 2378h13v12h-13zM808 2390h13v12h-13zM1198 2390h12v12h-12zM808 2402h13v12h-13zM1210 2402h13v12h-13zM808 2414h13v12h-13zM1235 2414h12v12h-12zM808 2426h13v12h-13zM1247 2426h12v12h-12zM821 2475h12v12h-12zM833 2511h12v12h-12zM1344 2523h12v13h-12zM1356 2536h13v12h-13zM857 2560h12v12h-12zM1369 2560h12v12h-12zM869 2584h13v12h-13zM882 2596h12v13h-12zM1393 2609h12v12h-12zM1405 2645h12v12h-12zM979 2694h12v12h-12zM1417 2694h13v12h-13zM991 2706h12v12h-12zM1417 2706h13v12h-13zM1015 2718h13v12h-13zM1417 2718h13v12h-13zM1028 2730h12v12h-12zM1417 2730h13v12h-13zM1417 2742h13v12h-13zM1064 2754h12v13h-12zM1417 2754h13v13h-13zM1076 2767h13v12h-13zM1417 2767h13v12h-13zM1417 2779h13v12h-13zM1113 2791h12v12h-12zM1125 2803h12v12h-12zM1405 2815h12v12h-12zM1174 2840h12v12h-12zM1381 2840h12v12h-12zM1198 2852h12v12h-12zM1332 2852h24v12h-24zM1710 3046h12v12h-12zM1710 3058h12v13h-12zM504 3168h12v12h-12zM1697 3168h13v12h-13z"/>
<path fill="#fec871" d="M541 1952h12v12h-12zM748 1952h12v12h-12zM528 1964h13v12h-13zM735 1964h25v12h-25zM1722 1964h12v12h-12zM528 1976h13v12h-13zM528 1988h13v13h-13zM528 2001h13v12h-13zM528 2013h13v12h-13zM528 2025h13v12h-13zM528 2037h13v12h-13zM516 2086h12v12h-12zM504 2098h12v12h-12zM942 2256h37v12h-37zM857 2268h25v12h-25zM1040 2268h12v12h-12zM833 2280h12v12h-12zM1064 2280h12v12h-12zM821 2292h12v13h-12zM1076 2292h13v13h-13zM1089 2305h12v12h-12zM808 2317h13v12h-13zM808 2329h13v12h-13zM1125 2329h12v12h-12zM1137 2341h12v12h-12zM1162 2353h12v12h-12zM1174 2365h12v13h-12zM1186 2378h12v12h-12zM1223 2402h12v12h-12zM1259 2426h12v12h-12zM808 2438h13v12h-13zM1271 2438h12v12h-12zM808 2450h13v13h-13zM1283 2450h13v13h-13zM1296 2463h12v12h-12zM1308 2475h12v12h-12zM821 2487h12v12h-12zM1320 2487h12v12h-12zM1332 2499h12v12h-12zM1344 2511h12v12h-12zM833 2523h12v13h-12zM845 2548h12v12h-12zM1369 2548h12v12h-12zM857 2572h12v12h-12zM1381 2572h12v12h-12zM1393 2596h12v13h-12zM882 2609h12v12h-12zM894 2621h12v12h-12zM906 2633h12v12h-12zM1405 2633h12v12h-12zM918 2645h12v12h-12zM930 2657h12v12h-12zM942 2669h13v13h-13zM1417 2669h13v13h-13zM955 2682h12v12h-12zM1417 2682h13v12h-13zM967 2694h12v12h-12zM1003 2718h12v12h-12zM1040 2742h12v12h-12zM1052 2754h12v13h-12zM1064 2767h12v12h-12zM1089 2779h12v12h-12zM1101 2791h12v12h-12zM1417 2791h13v12h-13zM1417 2803h13v12h-13zM1137 2815h12v12h-12zM1149 2827h13v13h-13zM1405 2827h12v13h-12zM1162 2840h12v12h-12zM1393 2840h12v12h-12zM1186 2852h12v12h-12zM1356 2852h25v12h-25zM1259 2864h37v12h-37zM1722 3022h12v12h-12zM1710 3034h12v12h-12zM1697 3083h13v12h-13zM1697 3095h13v12h-13zM1697 3107h13v12h-13zM1697 3119h13v12h-13zM1697 3131h13v13h-13zM1697 3144h13v12h-13zM504 3156h12v12h-12zM1478 3156h25v12h-25zM1697 3156h13v12h-13zM1478 3168h12v12h-12zM1685 3168h12v12h-12z"/>
<path fill="#fec46e" d="M553 1952h12v12h-12zM723 1952h25v12h-25zM760 1952h24v12h-24zM1710 1952h12v12h-12zM541 1964h12v12h-12zM723 1964h12v12h-12zM760 1964h24v12h-24zM541 1976h12v12h-12zM735 1976h37v12h-37zM1722 1976h12v12h-12zM528 2049h13v12h-13zM528 2061h13v13h-13zM516 2098h12v12h-12zM504 2110h12v12h-12zM650 2171h24v12h-24zM650 2183h37v12h-37zM662 2195h25v12h-25zM674 2207h49v12h-49zM674 2219h74v13h-74zM687 2232h73v12h-73zM699 2244h61v12h-61zM906 2256h36v12h-36zM979 2256h49v12h-49zM845 2268h12v12h-12zM1052 2268h12v12h-12zM821 2280h12v12h-12zM808 2292h13v13h-13zM1089 2292h12v13h-12zM808 2305h13v12h-13zM1101 2305h12v12h-12zM1113 2317h12v12h-12zM1137 2329h12v12h-12zM1149 2341h13v12h-13zM1174 2353h12v12h-12zM1186 2365h12v13h-12zM1198 2378h12v12h-12zM1210 2390h13v12h-13zM1235 2402h12v12h-12zM1247 2414h12v12h-12zM808 2463h13v12h-13zM821 2499h12v12h-12zM1356 2523h13v13h-13zM833 2536h12v12h-12zM1369 2536h12v12h-12zM845 2560h12v12h-12zM1381 2560h12v12h-12zM857 2584h12v12h-12zM1393 2584h12v12h-12zM869 2596h13v13h-13zM1405 2621h12v12h-12zM1417 2657h13v12h-13zM979 2706h12v12h-12zM991 2718h12v12h-12zM1015 2730h13v12h-13zM1028 2742h12v12h-12zM1040 2754h12v13h-12zM1052 2767h12v12h-12zM1076 2779h13v12h-13zM1089 2791h12v12h-12zM1113 2803h12v12h-12zM1125 2815h12v12h-12zM1417 2815h13v12h-13zM1137 2827h12v13h-12zM1417 2827h13v13h-13zM1405 2840h12v12h-12zM1174 2852h12v12h-12zM1381 2852h12v12h-12zM1210 2864h49v12h-49zM1296 2864h36v12h-36zM1478 2876h61v12h-61zM1478 2888h73v12h-73zM1490 2900h74v13h-74zM1515 2913h49v12h-49zM1551 2925h25v12h-25zM1551 2937h37v12h-37zM1564 2949h24v12h-24zM1722 3010h12v12h-12zM1710 3022h12v12h-12zM1697 3058h13v13h-13zM1697 3071h13v12h-13zM504 3144h12v12h-12zM1466 3144h37v12h-37zM1685 3144h12v12h-12zM1454 3156h24v12h-24zM1503 3156h12v12h-12zM1685 3156h12v12h-12zM516 3168h12v12h-12zM1454 3168h24v12h-24zM1490 3168h25v12h-25zM1673 3168h12v12h-12z"/>
<path fill="#fec16b" d="M565 1952h12v12h-12zM699 1952h24v12h-24zM784 1952h12v12h-12zM1697 1952h13v12h-13zM553 1964h12v12h-12zM711 1964h12v12h-12zM784 1964h12v12h-12zM1710 1964h12v12h-12zM711 1976h24v12h-24zM772 1976h12v12h-12zM1710 1976h12v12h-12zM541 1988h12v13h-12zM735 1988h37v13h-37zM1722 1988h12v13h-12zM541 2001h12v12h-12zM541 2013h12v12h-12zM541 2025h12v12h-12zM528 2074h13v12h-13zM528 2086h13v12h-13zM638 2147h49v12h-49zM626 2159h73v12h-73zM626 2171h24v12h-24zM674 2171h37v12h-37zM626 2183h24v12h-24zM687 2183h24v12h-24zM626 2195h36v12h-36zM687 2195h48v12h-48zM638 2207h36v12h-36zM723 2207h25v12h-25zM650 2219h24v13h-24zM748 2219h24v13h-24zM662 2232h25v12h-25zM760 2232h12v12h-12zM674 2244h25v12h-25zM760 2244h24v12h-24zM699 2256h73v12h-73zM882 2256h24v12h-24zM1028 2256h24v12h-24zM821 2268h24v12h-24zM1064 2268h12v12h-12zM808 2280h13v12h-13zM1076 2280h13v12h-13zM796 2305h12v12h-12zM796 2317h12v12h-12zM1125 2317h12v12h-12zM796 2329h12v12h-12zM1149 2329h13v12h-13zM796 2341h12v12h-12zM1162 2341h12v12h-12zM796 2353h12v12h-12zM1186 2353h12v12h-12zM796 2365h12v13h-12zM1198 2365h12v13h-12zM796 2378h12v12h-12zM1210 2378h13v12h-13zM796 2390h12v12h-12zM1223 2390h12v12h-12zM796 2402h12v12h-12zM1247 2402h12v12h-12zM796 2414h12v12h-12zM1259 2414h12v12h-12zM1271 2426h12v12h-12zM1283 2438h13v12h-13zM1296 2450h12v13h-12zM1308 2463h12v12h-12zM808 2475h13v12h-13zM1320 2475h12v12h-12zM1332 2487h12v12h-12zM1344 2499h12v12h-12zM821 2511h12v12h-12zM1356 2511h13v12h-13zM821 2523h12v13h-12zM833 2548h12v12h-12zM1381 2548h12v12h-12zM845 2572h12v12h-12zM1393 2572h12v12h-12zM1405 2596h12v13h-12zM869 2609h13v12h-13zM1405 2609h12v12h-12zM882 2621h12v12h-12zM894 2633h12v12h-12zM906 2645h12v12h-12zM1417 2645h13v12h-13zM918 2657h12v12h-12zM930 2669h12v13h-12zM942 2682h13v12h-13zM955 2694h12v12h-12zM967 2706h12v12h-12zM1430 2706h12v12h-12zM979 2718h12v12h-12zM1430 2718h12v12h-12zM1003 2730h12v12h-12zM1430 2730h12v12h-12zM1015 2742h13v12h-13zM1430 2742h12v12h-12zM1028 2754h12v13h-12zM1430 2754h12v13h-12zM1040 2767h12v12h-12zM1430 2767h12v12h-12zM1064 2779h12v12h-12zM1430 2779h12v12h-12zM1076 2791h13v12h-13zM1430 2791h12v12h-12zM1101 2803h12v12h-12zM1430 2803h12v12h-12zM1430 2815h12v12h-12zM1149 2840h13v12h-13zM1417 2840h13v12h-13zM1162 2852h12v12h-12zM1393 2852h24v12h-24zM1186 2864h24v12h-24zM1332 2864h24v12h-24zM1466 2864h73v12h-73zM1454 2876h24v12h-24zM1539 2876h25v12h-25zM1466 2888h12v12h-12zM1551 2888h25v12h-25zM1466 2900h24v13h-24zM1564 2900h24v13h-24zM1490 2913h25v12h-25zM1564 2913h36v12h-36zM1503 2925h48v12h-48zM1576 2925h36v12h-36zM1527 2937h24v12h-24zM1588 2937h24v12h-24zM1527 2949h37v12h-37zM1588 2949h24v12h-24zM1539 2961h73v12h-73zM1551 2973h49v12h-49zM1697 3034h13v12h-13zM1697 3046h13v12h-13zM1685 3095h12v12h-12zM1685 3107h12v12h-12zM1685 3119h12v12h-12zM504 3131h12v13h-12zM1466 3131h37v13h-37zM1685 3131h12v13h-12zM516 3144h12v12h-12zM1454 3144h12v12h-12zM1503 3144h24v12h-24zM516 3156h12v12h-12zM1442 3156h12v12h-12zM1515 3156h12v12h-12zM1673 3156h12v12h-12zM528 3168h13v12h-13zM1442 3168h12v12h-12zM1515 3168h24v12h-24zM1661 3168h12v12h-12z"/>
<path fill="#febe68" d="M577 1952h24v12h-24zM687 1952h12v12h-12zM796 1952h12v12h-12zM1685 1952h12v12h-12zM565 1964h12v12h-12zM687 1964h24v12h-24zM1697 1964h13v12h-13zM553 1976h12v12h-12zM699 1976h12v12h-12zM784 1976h12v12h-12zM553 1988h12v13h-12zM723 1988h12v13h-12zM772 1988h12v13h-12zM1710 1988h12v13h-12zM553 2001h12v12h-12zM748 2001h12v12h-12zM1722 2001h12v12h-12zM541 2037h12v12h-12zM541 2049h12v12h-12zM541 2061h12v13h-12zM541 2074h12v12h-12zM528 2098h13v12h-13zM516 2110h12v12h-12zM504 2122h12v12h-12zM638 2134h61v13h-61zM614 2147h24v12h-24zM687 2147h24v12h-24zM614 2159h12v12h-12zM699 2159h12v12h-12zM601 2171h25v12h-25zM711 2171h12v12h-12zM601 2183h25v12h-25zM711 2183h24v12h-24zM614 2195h12v12h-12zM735 2195h25v12h-25zM614 2207h24v12h-24zM748 2207h24v12h-24zM626 2219h24v13h-24zM772 2219h12v13h-12zM650 2232h12v12h-12zM772 2232h24v12h-24zM662 2244h12v12h-12zM784 2244h12v12h-12zM674 2256h25v12h-25zM772 2256h110v12h-110zM1052 2256h12v12h-12zM711 2268h110v12h-110zM784 2280h24v12h-24zM1089 2280h12v12h-12zM796 2292h12v13h-12zM1101 2292h12v13h-12zM1113 2305h12v12h-12zM1137 2317h12v12h-12zM1162 2329h12v12h-12zM1174 2341h24v12h-24zM1198 2353h12v12h-12zM1210 2365h13v13h-13zM1223 2378h12v12h-12zM1235 2390h24v12h-24zM1259 2402h12v12h-12zM1271 2414h12v12h-12zM796 2426h12v12h-12zM1283 2426h13v12h-13zM796 2438h12v12h-12zM1296 2438h12v12h-12zM1308 2450h12v13h-12zM1320 2463h12v12h-12zM1332 2475h12v12h-12zM808 2487h13v12h-13zM1369 2523h12v13h-12zM821 2536h12v12h-12zM1381 2536h12v12h-12zM833 2560h12v12h-12zM1393 2560h12v12h-12zM845 2584h12v12h-12zM1405 2584h12v12h-12zM857 2596h12v13h-12zM1417 2633h13v12h-13zM894 2645h12v12h-12zM906 2657h12v12h-12zM918 2669h12v13h-12zM930 2682h12v12h-12zM1430 2682h12v12h-12zM942 2694h13v12h-13zM1430 2694h12v12h-12zM955 2706h12v12h-12zM967 2718h12v12h-12zM979 2730h24v12h-24zM1003 2742h12v12h-12zM1015 2754h13v13h-13zM1028 2767h12v12h-12zM1040 2779h24v12h-24zM1064 2791h12v12h-12zM1089 2803h12v12h-12zM1113 2815h12v12h-12zM1125 2827h12v13h-12zM1430 2827h12v13h-12zM1137 2840h12v12h-12zM1430 2840h24v12h-24zM1417 2852h110v12h-110zM1174 2864h12v12h-12zM1356 2864h110v12h-110zM1539 2864h25v12h-25zM1442 2876h12v12h-12zM1564 2876h12v12h-12zM1442 2888h24v12h-24zM1576 2888h12v12h-12zM1454 2900h12v13h-12zM1588 2900h24v13h-24zM1466 2913h24v12h-24zM1600 2913h24v12h-24zM1478 2925h25v12h-25zM1612 2925h12v12h-12zM1503 2937h24v12h-24zM1612 2937h25v12h-25zM1515 2949h12v12h-12zM1612 2949h25v12h-25zM1527 2961h12v12h-12zM1612 2961h12v12h-12zM1527 2973h24v12h-24zM1600 2973h24v12h-24zM1539 2985h61v13h-61zM1722 2998h12v12h-12zM1710 3010h12v12h-12zM1697 3022h13v12h-13zM1685 3046h12v12h-12zM1685 3058h12v13h-12zM1685 3071h12v12h-12zM1685 3083h12v12h-12zM504 3119h12v12h-12zM1478 3119h12v12h-12zM1673 3119h12v12h-12zM516 3131h12v13h-12zM1454 3131h12v13h-12zM1503 3131h12v13h-12zM1673 3131h12v13h-12zM1442 3144h12v12h-12zM1527 3144h12v12h-12zM1673 3144h12v12h-12zM528 3156h13v12h-13zM1527 3156h24v12h-24zM1661 3156h12v12h-12zM541 3168h12v12h-12zM1430 3168h12v12h-12zM1539 3168h12v12h-12zM1637 3168h24v12h-24z"/>
<path fill="#feba65" d="M601 1952h86v12h-86zM808 1952h13v12h-13zM577 1964h24v12h-24zM674 1964h13v12h-13zM796 1964h12v12h-12zM1685 1964h12v12h-12zM565 1976h24v12h-24zM687 1976h12v12h-12zM796 1976h12v12h-12zM1697 1976h13v12h-13zM565 1988h12v13h-12zM711 1988h12v13h-12zM784 1988h12v13h-12zM1697 1988h13v13h-13zM723 2001h25v12h-25zM760 2001h24v12h-24zM1710 2001h12v12h-12zM553 2013h12v12h-12zM1722 2013h12v12h-12zM553 2025h12v12h-12zM553 2037h12v12h-12zM553 2049h12v12h-12zM541 2086h12v12h-12zM541 2098h12v12h-12zM528 2110h13v12h-13zM516 2122h12v12h-12zM638 2122h61v12h-61zM504 2134h12v13h-12zM614 2134h24v13h-24zM699 2134h12v13h-12zM601 2147h13v12h-13zM711 2147h12v12h-12zM589 2159h25v12h-25zM711 2159h12v12h-12zM589 2171h12v12h-12zM723 2171h12v12h-12zM589 2183h12v12h-12zM735 2183h25v12h-25zM601 2195h13v12h-13zM760 2195h12v12h-12zM601 2207h13v12h-13zM772 2207h12v12h-12zM614 2219h12v13h-12zM784 2219h12v13h-12zM626 2232h24v12h-24zM796 2232h12v12h-12zM638 2244h24v12h-24zM796 2244h25v12h-25zM906 2244h122v12h-122zM662 2256h12v12h-12zM687 2268h24v12h-24zM1076 2268h13v12h-13zM760 2280h24v12h-24zM784 2292h12v13h-12zM1113 2292h12v13h-12zM784 2305h12v12h-12zM1125 2305h12v12h-12zM784 2317h12v12h-12zM1149 2317h25v12h-25zM1174 2329h12v12h-12zM1198 2341h12v12h-12zM1210 2353h13v12h-13zM1223 2365h24v13h-24zM1235 2378h36v12h-36zM1259 2390h24v12h-24zM1271 2402h12v12h-12zM1283 2414h13v12h-13zM1296 2426h12v12h-12zM796 2450h12v13h-12zM1344 2487h12v12h-12zM808 2499h13v12h-13zM1356 2499h13v12h-13zM808 2511h13v12h-13zM1369 2511h12v12h-12zM821 2548h12v12h-12zM1393 2548h12v12h-12zM833 2572h12v12h-12zM1405 2572h12v12h-12zM857 2609h12v12h-12zM1417 2609h13v12h-13zM869 2621h13v12h-13zM1417 2621h13v12h-13zM882 2633h12v12h-12zM1430 2669h12v13h-12zM930 2694h12v12h-12zM942 2706h13v12h-13zM955 2718h12v12h-12zM955 2730h24v12h-24zM967 2742h36v12h-36zM991 2754h24v13h-24zM1015 2767h13v12h-13zM1028 2779h12v12h-12zM1052 2791h12v12h-12zM1064 2803h25v12h-25zM1442 2803h12v12h-12zM1101 2815h12v12h-12zM1442 2815h12v12h-12zM1113 2827h12v13h-12zM1442 2827h12v13h-12zM1454 2840h24v12h-24zM1149 2852h13v12h-13zM1527 2852h24v12h-24zM1564 2864h12v12h-12zM1210 2876h122v12h-122zM1417 2876h25v12h-25zM1576 2876h24v12h-24zM1430 2888h12v12h-12zM1588 2888h24v12h-24zM1442 2900h12v13h-12zM1612 2900h12v13h-12zM1454 2913h12v12h-12zM1624 2913h13v12h-13zM1466 2925h12v12h-12zM1624 2925h13v12h-13zM1478 2937h25v12h-25zM1637 2937h12v12h-12zM1503 2949h12v12h-12zM1637 2949h12v12h-12zM1515 2961h12v12h-12zM1624 2961h25v12h-25zM1515 2973h12v12h-12zM1624 2973h13v12h-13zM1527 2985h12v13h-12zM1600 2985h24v13h-24zM1722 2985h12v13h-12zM1539 2998h61v12h-61zM1710 2998h12v12h-12zM1697 3010h13v12h-13zM1685 3022h12v12h-12zM1685 3034h12v12h-12zM1673 3071h12v12h-12zM1673 3083h12v12h-12zM1673 3095h12v12h-12zM504 3107h12v12h-12zM1673 3107h12v12h-12zM516 3119h12v12h-12zM1454 3119h24v12h-24zM1490 3119h25v12h-25zM528 3131h13v13h-13zM1442 3131h12v13h-12zM1515 3131h12v13h-12zM1661 3131h12v13h-12zM528 3144h13v12h-13zM1430 3144h12v12h-12zM1539 3144h12v12h-12zM1649 3144h24v12h-24zM541 3156h12v12h-12zM1430 3156h12v12h-12zM1551 3156h13v12h-13zM1637 3156h24v12h-24zM1417 3168h13v12h-13zM1551 3168h86v12h-86z"/>
<path fill="#feb762" d="M1673 1952h12v12h-12zM601 1964h73v12h-73zM808 1964h13v12h-13zM1673 1964h12v12h-12zM589 1976h25v12h-25zM674 1976h13v12h-13zM1685 1976h12v12h-12zM577 1988h12v13h-12zM687 1988h24v13h-24zM796 1988h12v13h-12zM565 2001h12v12h-12zM711 2001h12v12h-12zM784 2001h12v12h-12zM1697 2001h13v12h-13zM565 2013h12v12h-12zM735 2013h37v12h-37zM1710 2013h12v12h-12zM565 2025h12v12h-12zM1722 2025h12v12h-12zM553 2061h12v13h-12zM553 2074h12v12h-12zM553 2086h12v12h-12zM553 2098h12v12h-12zM541 2110h24v12h-24zM650 2110h37v12h-37zM528 2122h25v12h-25zM601 2122h37v12h-37zM699 2122h12v12h-12zM516 2134h25v13h-25zM589 2134h25v13h-25zM711 2134h12v13h-12zM504 2147h12v12h-12zM577 2147h24v12h-24zM723 2147h12v12h-12zM577 2159h12v12h-12zM723 2159h25v12h-25zM577 2171h12v12h-12zM735 2171h25v12h-25zM577 2183h12v12h-12zM760 2183h12v12h-12zM589 2195h12v12h-12zM772 2195h12v12h-12zM589 2207h12v12h-12zM784 2207h12v12h-12zM601 2219h13v13h-13zM796 2219h12v13h-12zM614 2232h12v12h-12zM808 2232h13v12h-13zM626 2244h12v12h-12zM821 2244h85v12h-85zM1028 2244h12v12h-12zM650 2256h12v12h-12zM1064 2256h12v12h-12zM662 2268h25v12h-25zM711 2280h49v12h-49zM1101 2280h12v12h-12zM760 2292h24v13h-24zM1137 2305h25v12h-25zM1174 2317h12v12h-12zM784 2329h12v12h-12zM1186 2329h24v12h-24zM1283 2329h25v12h-25zM784 2341h12v12h-12zM1210 2341h25v12h-25zM1271 2341h37v12h-37zM784 2353h12v12h-12zM1223 2353h85v12h-85zM784 2365h12v13h-12zM1247 2365h61v13h-61zM784 2378h12v12h-12zM1271 2378h25v12h-25zM784 2390h12v12h-12zM1283 2390h13v12h-13zM1283 2402h25v12h-25zM1296 2414h12v12h-12zM1308 2438h12v12h-12zM1320 2450h12v13h-12zM796 2463h12v12h-12zM1332 2463h12v12h-12zM796 2475h12v12h-12zM1344 2475h12v12h-12zM1356 2487h13v12h-13zM808 2523h13v13h-13zM1381 2523h12v13h-12zM1393 2536h12v12h-12zM821 2560h12v12h-12zM1405 2560h12v12h-12zM833 2584h12v12h-12zM845 2596h12v13h-12zM1417 2596h13v13h-13zM869 2633h13v12h-13zM882 2645h12v12h-12zM1430 2645h12v12h-12zM894 2657h12v12h-12zM1430 2657h12v12h-12zM906 2669h12v13h-12zM918 2682h12v12h-12zM930 2706h12v12h-12zM930 2718h25v12h-25zM942 2730h13v12h-13zM1442 2730h12v12h-12zM942 2742h25v12h-25zM1442 2742h12v12h-12zM930 2754h61v13h-61zM1442 2754h12v13h-12zM930 2767h85v12h-85zM1442 2767h12v12h-12zM930 2779h37v12h-37zM1003 2779h25v12h-25zM1442 2779h12v12h-12zM930 2791h25v12h-25zM1028 2791h24v12h-24zM1442 2791h12v12h-12zM1052 2803h12v12h-12zM1076 2815h25v12h-25zM1454 2827h24v13h-24zM1125 2840h12v12h-12zM1478 2840h49v12h-49zM1551 2852h25v12h-25zM1162 2864h12v12h-12zM1576 2864h12v12h-12zM1198 2876h12v12h-12zM1332 2876h85v12h-85zM1600 2876h12v12h-12zM1417 2888h13v12h-13zM1612 2888h12v12h-12zM1430 2900h12v13h-12zM1624 2900h13v13h-13zM1442 2913h12v12h-12zM1637 2913h12v12h-12zM1454 2925h12v12h-12zM1637 2925h12v12h-12zM1466 2937h12v12h-12zM1649 2937h12v12h-12zM1478 2949h25v12h-25zM1649 2949h12v12h-12zM1490 2961h25v12h-25zM1649 2961h12v12h-12zM1503 2973h12v12h-12zM1637 2973h24v12h-24zM1722 2973h12v12h-12zM1515 2985h12v13h-12zM1624 2985h25v13h-25zM1697 2985h25v13h-25zM1527 2998h12v12h-12zM1600 2998h37v12h-37zM1685 2998h25v12h-25zM1551 3010h37v12h-37zM1673 3010h24v12h-24zM1673 3022h12v12h-12zM1673 3034h12v12h-12zM1673 3046h12v12h-12zM1673 3058h12v13h-12zM504 3095h12v12h-12zM1661 3095h12v12h-12zM516 3107h12v12h-12zM1466 3107h37v12h-37zM1661 3107h12v12h-12zM528 3119h13v12h-13zM1442 3119h12v12h-12zM1515 3119h12v12h-12zM1661 3119h12v12h-12zM1430 3131h12v13h-12zM1527 3131h24v13h-24zM1649 3131h12v13h-12zM541 3144h12v12h-12zM1551 3144h13v12h-13zM1624 3144h25v12h-25zM553 3156h12v12h-12zM1417 3156h13v12h-13zM1564 3156h73v12h-73zM553 3168h12v12h-12z"/>
<path fill="#feb360" d="M821 1952h12v12h-12zM1661 1952h12v12h-12zM614 1976h60v12h-60zM808 1976h13v12h-13zM1673 1976h12v12h-12zM589 1988h37v13h-37zM674 1988h13v13h-13zM1685 1988h12v13h-12zM577 2001h24v12h-24zM699 2001h12v12h-12zM1685 2001h12v12h-12zM577 2013h12v12h-12zM723 2013h12v12h-12zM772 2013h12v12h-12zM1697 2013h13v12h-13zM577 2025h12v12h-12zM1710 2025h12v12h-12zM565 2037h12v12h-12zM1722 2037h12v12h-12zM565 2049h12v12h-12zM565 2061h12v13h-12zM565 2074h12v12h-12zM565 2086h12v12h-12zM565 2098h24v12h-24zM565 2110h85v12h-85zM687 2110h12v12h-12zM553 2122h48v12h-48zM711 2122h12v12h-12zM541 2134h48v13h-48zM723 2134h12v13h-12zM516 2147h61v12h-61zM735 2147h13v12h-13zM553 2159h24v12h-24zM748 2159h12v12h-12zM565 2171h12v12h-12zM760 2171h12v12h-12zM565 2183h12v12h-12zM772 2183h12v12h-12zM577 2195h12v12h-12zM784 2195h24v12h-24zM577 2207h12v12h-12zM796 2207h12v12h-12zM589 2219h12v13h-12zM808 2219h13v13h-13zM601 2232h13v12h-13zM821 2232h24v12h-24zM614 2244h12v12h-12zM1040 2244h12v12h-12zM626 2256h24v12h-24zM1076 2256h13v12h-13zM650 2268h12v12h-12zM1089 2268h12v12h-12zM674 2280h37v12h-37zM1113 2280h12v12h-12zM748 2292h12v13h-12zM1125 2292h24v13h-24zM1296 2292h24v13h-24zM772 2305h12v12h-12zM1162 2305h12v12h-12zM1283 2305h37v12h-37zM772 2317h12v12h-12zM1186 2317h24v12h-24zM1259 2317h73v12h-73zM1210 2329h73v12h-73zM1308 2329h24v12h-24zM1235 2341h36v12h-36zM1308 2341h12v12h-12zM1308 2353h12v12h-12zM1308 2365h12v13h-12zM1296 2378h24v12h-24zM1296 2390h24v12h-24zM784 2402h12v12h-12zM1308 2402h12v12h-12zM784 2414h12v12h-12zM1308 2414h12v12h-12zM784 2426h12v12h-12zM1308 2426h12v12h-12zM1320 2438h12v12h-12zM1332 2450h12v13h-12zM1344 2463h12v12h-12zM796 2487h12v12h-12zM1369 2499h12v12h-12zM1381 2511h12v12h-12zM808 2536h13v12h-13zM808 2548h13v12h-13zM1405 2548h12v12h-12zM821 2572h12v12h-12zM1417 2572h13v12h-13zM1417 2584h13v12h-13zM845 2609h12v12h-12zM857 2621h12v12h-12zM1430 2633h12v12h-12zM882 2657h12v12h-12zM894 2669h12v13h-12zM906 2682h12v12h-12zM918 2694h12v12h-12zM1442 2694h12v12h-12zM918 2706h12v12h-12zM1442 2706h12v12h-12zM918 2718h12v12h-12zM1442 2718h12v12h-12zM918 2730h24v12h-24zM918 2742h24v12h-24zM918 2754h12v13h-12zM918 2767h12v12h-12zM918 2779h12v12h-12zM967 2779h36v12h-36zM906 2791h24v12h-24zM955 2791h73v12h-73zM906 2803h73v12h-73zM1028 2803h24v12h-24zM1454 2803h12v12h-12zM918 2815h37v12h-37zM1064 2815h12v12h-12zM1454 2815h12v12h-12zM918 2827h24v13h-24zM1089 2827h24v13h-24zM1478 2827h12v13h-12zM1113 2840h12v12h-12zM1527 2840h37v12h-37zM1137 2852h12v12h-12zM1576 2852h12v12h-12zM1149 2864h13v12h-13zM1588 2864h24v12h-24zM1186 2876h12v12h-12zM1612 2876h12v12h-12zM1393 2888h24v12h-24zM1624 2888h13v12h-13zM1417 2900h13v13h-13zM1637 2900h12v13h-12zM1430 2913h12v12h-12zM1649 2913h12v12h-12zM1430 2925h24v12h-24zM1649 2925h12v12h-12zM1454 2937h12v12h-12zM1661 2937h12v12h-12zM1466 2949h12v12h-12zM1661 2949h12v12h-12zM1478 2961h12v12h-12zM1661 2961h24v12h-24zM1490 2973h13v12h-13zM1661 2973h61v12h-61zM1503 2985h12v13h-12zM1649 2985h48v13h-48zM1515 2998h12v12h-12zM1637 2998h48v12h-48zM1539 3010h12v12h-12zM1588 3010h85v12h-85zM1649 3022h24v12h-24zM1661 3034h12v12h-12zM1661 3046h12v12h-12zM1661 3058h12v13h-12zM1661 3071h12v12h-12zM504 3083h12v12h-12zM1661 3083h12v12h-12zM516 3095h12v12h-12zM1649 3095h12v12h-12zM528 3107h13v12h-13zM1454 3107h12v12h-12zM1503 3107h12v12h-12zM1649 3107h12v12h-12zM541 3119h12v12h-12zM1527 3119h12v12h-12zM1637 3119h24v12h-24zM541 3131h12v13h-12zM1551 3131h13v13h-13zM1612 3131h37v13h-37zM553 3144h12v12h-12zM1417 3144h13v12h-13zM1564 3144h60v12h-60zM565 3168h12v12h-12zM1405 3168h12v12h-12z"/>
<path fill="#feaf5d" d="M833 1952h12v12h-12zM1649 1952h12v12h-12zM821 1964h12v12h-12zM1661 1964h12v12h-12zM1661 1976h12v12h-12zM626 1988h48v13h-48zM808 1988h13v13h-13zM1673 1988h12v13h-12zM601 2001h25v12h-25zM674 2001h25v12h-25zM796 2001h12v12h-12zM1673 2001h12v12h-12zM589 2013h12v12h-12zM699 2013h24v12h-24zM784 2013h12v12h-12zM1685 2013h12v12h-12zM589 2025h12v12h-12zM723 2025h49v12h-49zM1685 2025h25v12h-25zM577 2037h12v12h-12zM1697 2037h25v12h-25zM577 2049h12v12h-12zM1710 2049h24v12h-24zM577 2061h12v13h-12zM577 2074h12v12h-12zM577 2086h24v12h-24zM589 2098h110v12h-110zM699 2110h24v12h-24zM723 2122h12v12h-12zM735 2134h13v13h-13zM748 2147h12v12h-12zM504 2159h49v12h-49zM760 2159h12v12h-12zM553 2171h12v12h-12zM772 2171h12v12h-12zM553 2183h12v12h-12zM784 2183h24v12h-24zM565 2195h12v12h-12zM808 2195h13v12h-13zM565 2207h12v12h-12zM808 2207h13v12h-13zM577 2219h12v13h-12zM821 2219h24v13h-24zM589 2232h12v12h-12zM845 2232h146v12h-146zM601 2244h13v12h-13zM1052 2244h12v12h-12zM614 2256h12v12h-12zM638 2268h12v12h-12zM1101 2268h12v12h-12zM1296 2268h36v12h-36zM650 2280h24v12h-24zM1125 2280h12v12h-12zM1283 2280h49v12h-49zM711 2292h37v13h-37zM1149 2292h13v13h-13zM1271 2292h25v13h-25zM1320 2292h24v13h-24zM760 2305h12v12h-12zM1174 2305h24v12h-24zM1259 2305h24v12h-24zM1320 2305h24v12h-24zM1210 2317h49v12h-49zM1332 2317h12v12h-12zM772 2329h12v12h-12zM1332 2329h12v12h-12zM772 2341h12v12h-12zM1320 2341h12v12h-12zM1320 2353h12v12h-12zM1320 2365h12v13h-12zM1320 2378h12v12h-12zM1320 2390h12v12h-12zM1320 2402h12v12h-12zM1320 2414h12v12h-12zM1320 2426h12v12h-12zM784 2438h12v12h-12zM1332 2438h12v12h-12zM784 2450h12v13h-12zM1356 2475h13v12h-13zM1369 2487h12v12h-12zM796 2499h12v12h-12zM1381 2499h12v12h-12zM1393 2523h12v13h-12zM1405 2536h12v12h-12zM808 2560h13v12h-13zM1417 2560h13v12h-13zM821 2584h12v12h-12zM833 2596h12v13h-12zM845 2621h12v12h-12zM1430 2621h12v12h-12zM857 2633h12v12h-12zM869 2645h13v12h-13zM1442 2669h12v13h-12zM894 2682h12v12h-12zM1442 2682h12v12h-12zM906 2694h12v12h-12zM906 2706h12v12h-12zM906 2718h12v12h-12zM906 2730h12v12h-12zM906 2742h12v12h-12zM906 2754h12v13h-12zM906 2767h12v12h-12zM906 2779h12v12h-12zM1454 2779h12v12h-12zM894 2791h12v12h-12zM1454 2791h12v12h-12zM894 2803h12v12h-12zM979 2803h49v12h-49zM894 2815h24v12h-24zM955 2815h24v12h-24zM1040 2815h24v12h-24zM1466 2815h12v12h-12zM894 2827h24v13h-24zM942 2827h25v13h-25zM1076 2827h13v13h-13zM1490 2827h37v13h-37zM906 2840h49v12h-49zM1101 2840h12v12h-12zM1564 2840h24v12h-24zM906 2852h36v12h-36zM1125 2852h12v12h-12zM1588 2852h12v12h-12zM1612 2864h12v12h-12zM1174 2876h12v12h-12zM1624 2876h13v12h-13zM1247 2888h146v12h-146zM1637 2888h12v12h-12zM1393 2900h24v13h-24zM1649 2900h12v13h-12zM1417 2913h13v12h-13zM1661 2913h12v12h-12zM1417 2925h13v12h-13zM1661 2925h12v12h-12zM1430 2937h24v12h-24zM1673 2937h12v12h-12zM1454 2949h12v12h-12zM1673 2949h12v12h-12zM1466 2961h12v12h-12zM1685 2961h49v12h-49zM1478 2973h12v12h-12zM1490 2985h13v13h-13zM1503 2998h12v12h-12zM1515 3010h24v12h-24zM1539 3022h110v12h-110zM1637 3034h24v12h-24zM1649 3046h12v12h-12zM1649 3058h12v13h-12zM504 3071h24v12h-24zM1649 3071h12v12h-12zM516 3083h25v12h-25zM1649 3083h12v12h-12zM528 3095h25v12h-25zM1466 3095h49v12h-49zM1637 3095h12v12h-12zM541 3107h12v12h-12zM1442 3107h12v12h-12zM1515 3107h24v12h-24zM1637 3107h12v12h-12zM553 3119h12v12h-12zM1430 3119h12v12h-12zM1539 3119h25v12h-25zM1612 3119h25v12h-25zM553 3131h12v13h-12zM1417 3131h13v13h-13zM1564 3131h48v13h-48zM565 3144h12v12h-12zM565 3156h12v12h-12zM1405 3156h12v12h-12zM577 3168h12v12h-12zM1393 3168h12v12h-12z"/>
<path fill="#feac5b" d="M1637 1952h12v12h-12zM833 1964h12v12h-12zM1649 1964h12v12h-12zM821 1976h12v12h-12zM1649 1976h12v12h-12zM1661 1988h12v13h-12zM626 2001h48v12h-48zM808 2001h13v12h-13zM1661 2001h12v12h-12zM601 2013h37v12h-37zM687 2013h12v12h-12zM796 2013h12v12h-12zM1673 2013h12v12h-12zM601 2025h13v12h-13zM711 2025h12v12h-12zM772 2025h24v12h-24zM1673 2025h12v12h-12zM589 2037h25v12h-25zM1673 2037h24v12h-24zM589 2049h12v12h-12zM1673 2049h37v12h-37zM589 2061h25v13h-25zM1661 2061h73v13h-73zM589 2074h25v12h-25zM1649 2074h85v12h-85zM601 2086h61v12h-61zM1637 2086h60v12h-60zM699 2098h12v12h-12zM1624 2098h73v12h-73zM723 2110h12v12h-12zM1624 2110h61v12h-61zM735 2122h13v12h-13zM1649 2122h12v12h-12zM748 2134h12v13h-12zM760 2147h12v12h-12zM772 2159h24v12h-24zM504 2171h49v12h-49zM784 2171h24v12h-24zM541 2183h12v12h-12zM808 2183h13v12h-13zM553 2195h12v12h-12zM821 2195h12v12h-12zM553 2207h12v12h-12zM821 2207h24v12h-24zM565 2219h12v13h-12zM845 2219h12v13h-12zM577 2232h12v12h-12zM991 2232h49v12h-49zM589 2244h12v12h-12zM1064 2244h12v12h-12zM1308 2244h12v12h-12zM601 2256h13v12h-13zM1089 2256h12v12h-12zM1296 2256h48v12h-48zM614 2268h24v12h-24zM1113 2268h12v12h-12zM1283 2268h13v12h-13zM1332 2268h12v12h-12zM638 2280h12v12h-12zM1137 2280h12v12h-12zM1271 2280h12v12h-12zM1332 2280h12v12h-12zM674 2292h37v13h-37zM1162 2292h24v13h-24zM1259 2292h12v13h-12zM1344 2292h12v13h-12zM735 2305h25v12h-25zM1198 2305h61v12h-61zM1344 2305h12v12h-12zM760 2317h12v12h-12zM1344 2317h12v12h-12zM1332 2341h12v12h-12zM772 2353h12v12h-12zM1332 2353h12v12h-12zM772 2365h12v13h-12zM1332 2365h12v13h-12zM772 2378h12v12h-12zM1332 2378h12v12h-12zM1332 2390h12v12h-12zM1332 2402h12v12h-12zM1332 2414h12v12h-12zM1332 2426h12v12h-12zM1344 2438h12v12h-12zM1344 2450h12v13h-12zM784 2463h12v12h-12zM1356 2463h13v12h-13zM1369 2475h12v12h-12zM1381 2487h12v12h-12zM796 2511h12v12h-12zM1393 2511h12v12h-12zM796 2523h12v13h-12zM1405 2523h12v13h-12zM796 2536h12v12h-12zM1417 2548h13v12h-13zM808 2572h13v12h-13zM1430 2584h12v12h-12zM821 2596h12v13h-12zM1430 2596h12v13h-12zM833 2609h12v12h-12zM1430 2609h12v12h-12zM845 2633h12v12h-12zM857 2645h12v12h-12zM869 2657h13v12h-13zM1442 2657h12v12h-12zM882 2669h12v13h-12zM882 2682h12v12h-12zM894 2694h12v12h-12zM894 2706h12v12h-12zM894 2718h12v12h-12zM894 2730h12v12h-12zM894 2742h12v12h-12zM1454 2742h12v12h-12zM894 2754h12v13h-12zM1454 2754h12v13h-12zM894 2767h12v12h-12zM1454 2767h12v12h-12zM894 2779h12v12h-12zM882 2803h12v12h-12zM1466 2803h12v12h-12zM882 2815h12v12h-12zM979 2815h61v12h-61zM1478 2815h25v12h-25zM882 2827h12v13h-12zM967 2827h12v13h-12zM1052 2827h24v13h-24zM1527 2827h37v13h-37zM894 2840h12v12h-12zM955 2840h12v12h-12zM1089 2840h12v12h-12zM1588 2840h12v12h-12zM894 2852h12v12h-12zM942 2852h13v12h-13zM1113 2852h12v12h-12zM1600 2852h24v12h-24zM894 2864h48v12h-48zM1137 2864h12v12h-12zM1624 2864h13v12h-13zM918 2876h12v12h-12zM1162 2876h12v12h-12zM1637 2876h12v12h-12zM1198 2888h49v12h-49zM1649 2888h12v12h-12zM1381 2900h12v13h-12zM1661 2900h12v13h-12zM1393 2913h24v12h-24zM1673 2913h12v12h-12zM1405 2925h12v12h-12zM1673 2925h12v12h-12zM1417 2937h13v12h-13zM1685 2937h12v12h-12zM1430 2949h24v12h-24zM1685 2949h49v12h-49zM1442 2961h24v12h-24zM1466 2973h12v12h-12zM1478 2985h12v13h-12zM577 2998h12v12h-12zM1490 2998h13v12h-13zM553 3010h61v12h-61zM1503 3010h12v12h-12zM541 3022h73v12h-73zM1527 3022h12v12h-12zM541 3034h60v12h-60zM1576 3034h61v12h-61zM504 3046h85v12h-85zM1624 3046h25v12h-25zM504 3058h73v13h-73zM1624 3058h25v13h-25zM528 3071h37v12h-37zM1637 3071h12v12h-12zM541 3083h24v12h-24zM1624 3083h25v12h-25zM553 3095h12v12h-12zM1442 3095h24v12h-24zM1515 3095h12v12h-12zM1624 3095h13v12h-13zM553 3107h12v12h-12zM1430 3107h12v12h-12zM1539 3107h12v12h-12zM1600 3107h37v12h-37zM565 3119h12v12h-12zM1417 3119h13v12h-13zM1564 3119h48v12h-48zM565 3131h12v13h-12zM577 3144h12v12h-12zM1405 3144h12v12h-12zM577 3156h12v12h-12zM1393 3156h12v12h-12zM589 3168h12v12h-12z"/>
<path fill="#fea859" d="M845 1952h12v12h-12zM1624 1952h13v12h-13zM1637 1964h12v12h-12zM833 1976h12v12h-12zM821 1988h12v13h-12zM1649 1988h12v13h-12zM1649 2001h12v12h-12zM638 2013h49v12h-49zM808 2013h13v12h-13zM1649 2013h24v12h-24zM614 2025h24v12h-24zM687 2025h24v12h-24zM796 2025h12v12h-12zM1649 2025h24v12h-24zM614 2037h12v12h-12zM711 2037h73v12h-73zM1649 2037h24v12h-24zM601 2049h25v12h-25zM1649 2049h24v12h-24zM614 2061h12v13h-12zM1637 2061h24v13h-24zM614 2074h36v12h-36zM1624 2074h25v12h-25zM662 2086h49v12h-49zM1624 2086h13v12h-13zM1697 2086h37v12h-37zM711 2098h24v12h-24zM1612 2098h12v12h-12zM1697 2098h37v12h-37zM735 2110h13v12h-13zM1612 2110h12v12h-12zM1685 2110h37v12h-37zM748 2122h12v12h-12zM1624 2122h25v12h-25zM1661 2122h36v12h-36zM760 2134h12v13h-12zM772 2147h24v12h-24zM796 2159h12v12h-12zM808 2171h13v12h-13zM504 2183h37v12h-37zM821 2183h12v12h-12zM528 2195h25v12h-25zM833 2195h12v12h-12zM541 2207h12v12h-12zM845 2207h12v12h-12zM553 2219h12v13h-12zM857 2219h25v13h-25zM565 2232h12v12h-12zM1040 2232h12v12h-12zM1296 2232h36v12h-36zM577 2244h12v12h-12zM1076 2244h13v12h-13zM1283 2244h25v12h-25zM1320 2244h24v12h-24zM589 2256h12v12h-12zM1101 2256h12v12h-12zM1283 2256h13v12h-13zM1344 2256h12v12h-12zM601 2268h13v12h-13zM1125 2268h12v12h-12zM1271 2268h12v12h-12zM1344 2268h12v12h-12zM626 2280h12v12h-12zM1149 2280h25v12h-25zM1259 2280h12v12h-12zM1344 2280h12v12h-12zM650 2292h24v13h-24zM1186 2292h73v13h-73zM699 2305h36v12h-36zM748 2317h12v12h-12zM760 2329h12v12h-12zM1344 2329h12v12h-12zM1344 2341h12v12h-12zM1344 2353h12v12h-12zM1344 2365h12v13h-12zM1344 2378h12v12h-12zM772 2390h12v12h-12zM1344 2390h12v12h-12zM772 2402h12v12h-12zM1344 2402h12v12h-12zM772 2414h12v12h-12zM1344 2414h12v12h-12zM1344 2426h12v12h-12zM1356 2438h13v12h-13zM1356 2450h13v13h-13zM1369 2463h12v12h-12zM784 2475h12v12h-12zM1381 2475h12v12h-12zM1393 2499h12v12h-12zM1405 2511h12v12h-12zM1417 2536h13v12h-13zM796 2548h12v12h-12zM796 2560h12v12h-12zM1430 2560h12v12h-12zM1430 2572h12v12h-12zM808 2584h13v12h-13zM821 2609h12v12h-12zM833 2621h12v12h-12zM845 2645h12v12h-12zM1442 2645h12v12h-12zM857 2657h12v12h-12zM869 2669h13v13h-13zM869 2682h13v12h-13zM882 2694h12v12h-12zM882 2706h12v12h-12zM1454 2706h12v12h-12zM882 2718h12v12h-12zM1454 2718h12v12h-12zM882 2730h12v12h-12zM1454 2730h12v12h-12zM882 2742h12v12h-12zM882 2754h12v13h-12zM882 2767h12v12h-12zM882 2779h12v12h-12zM882 2791h12v12h-12zM1466 2791h12v12h-12zM1478 2803h12v12h-12zM1503 2815h36v12h-36zM979 2827h73v13h-73zM1564 2827h24v13h-24zM882 2840h12v12h-12zM967 2840h12v12h-12zM1064 2840h25v12h-25zM1600 2840h12v12h-12zM882 2852h12v12h-12zM955 2852h12v12h-12zM1101 2852h12v12h-12zM1624 2852h13v12h-13zM882 2864h12v12h-12zM942 2864h13v12h-13zM1125 2864h12v12h-12zM1637 2864h12v12h-12zM894 2876h24v12h-24zM930 2876h25v12h-25zM1149 2876h13v12h-13zM1649 2876h12v12h-12zM906 2888h36v12h-36zM1186 2888h12v12h-12zM1661 2888h12v12h-12zM1356 2900h25v13h-25zM1673 2900h12v13h-12zM1381 2913h12v12h-12zM1685 2913h12v12h-12zM1393 2925h12v12h-12zM1685 2925h25v12h-25zM1405 2937h12v12h-12zM1697 2937h37v12h-37zM1417 2949h13v12h-13zM1430 2961h12v12h-12zM1442 2973h24v12h-24zM1466 2985h12v13h-12zM541 2998h36v12h-36zM589 2998h25v12h-25zM1478 2998h12v12h-12zM516 3010h37v12h-37zM614 3010h12v12h-12zM1490 3010h13v12h-13zM504 3022h37v12h-37zM614 3022h12v12h-12zM1503 3022h24v12h-24zM504 3034h37v12h-37zM601 3034h13v12h-13zM1527 3034h49v12h-49zM589 3046h25v12h-25zM1588 3046h36v12h-36zM577 3058h24v13h-24zM1612 3058h12v13h-12zM565 3071h24v12h-24zM1612 3071h25v12h-25zM565 3083h24v12h-24zM1454 3083h73v12h-73zM1612 3083h12v12h-12zM565 3095h24v12h-24zM1430 3095h12v12h-12zM1527 3095h24v12h-24zM1600 3095h24v12h-24zM565 3107h24v12h-24zM1417 3107h13v12h-13zM1551 3107h49v12h-49zM577 3119h12v12h-12zM577 3131h12v13h-12zM1405 3131h12v13h-12zM1393 3144h12v12h-12zM589 3156h12v12h-12zM601 3168h13v12h-13zM1381 3168h12v12h-12z"/>
<path fill="#fea456" d="M857 1952h12v12h-12zM1612 1952h12v12h-12zM845 1964h12v12h-12zM1624 1964h13v12h-13zM1637 1976h12v12h-12zM833 1988h12v13h-12zM1637 1988h12v13h-12zM821 2001h12v12h-12zM1637 2001h12v12h-12zM821 2013h12v12h-12zM1637 2013h12v12h-12zM638 2025h49v12h-49zM808 2025h13v12h-13zM1637 2025h12v12h-12zM626 2037h24v12h-24zM687 2037h24v12h-24zM784 2037h24v12h-24zM1637 2037h12v12h-12zM626 2049h24v12h-24zM711 2049h73v12h-73zM1624 2049h25v12h-25zM626 2061h24v13h-24zM1624 2061h13v13h-13zM650 2074h61v12h-61zM1612 2074h12v12h-12zM711 2086h24v12h-24zM1612 2086h12v12h-12zM735 2098h13v12h-13zM748 2110h12v12h-12zM1600 2110h12v12h-12zM1722 2110h12v12h-12zM760 2122h12v12h-12zM1612 2122h12v12h-12zM1697 2122h37v12h-37zM772 2134h24v13h-24zM1624 2134h73v13h-73zM796 2147h12v12h-12zM808 2159h13v12h-13zM821 2171h12v12h-12zM833 2183h12v12h-12zM504 2195h24v12h-24zM845 2195h12v12h-12zM528 2207h13v12h-13zM857 2207h12v12h-12zM541 2219h12v13h-12zM882 2219h60v13h-60zM1296 2219h36v13h-36zM553 2232h12v12h-12zM1052 2232h12v12h-12zM1283 2232h13v12h-13zM1332 2232h24v12h-24zM565 2244h12v12h-12zM1089 2244h12v12h-12zM1271 2244h12v12h-12zM1344 2244h12v12h-12zM577 2256h12v12h-12zM1271 2256h12v12h-12zM1356 2256h13v12h-13zM589 2268h12v12h-12zM1137 2268h12v12h-12zM1259 2268h12v12h-12zM1356 2268h13v12h-13zM601 2280h25v12h-25zM1174 2280h36v12h-36zM1247 2280h12v12h-12zM1356 2280h13v12h-13zM626 2292h24v13h-24zM1356 2292h13v13h-13zM662 2305h37v12h-37zM1356 2305h13v12h-13zM735 2317h13v12h-13zM1356 2317h13v12h-13zM748 2329h12v12h-12zM1356 2329h13v12h-13zM760 2341h12v12h-12zM1356 2341h13v12h-13zM760 2353h12v12h-12zM1356 2353h13v12h-13zM1356 2365h13v13h-13zM1356 2378h13v12h-13zM1356 2414h13v12h-13zM772 2426h12v12h-12zM1356 2426h13v12h-13zM772 2438h12v12h-12zM1369 2438h12v12h-12zM1369 2450h12v13h-12zM1381 2463h12v12h-12zM784 2487h12v12h-12zM1393 2487h12v12h-12zM784 2499h12v12h-12zM1405 2499h12v12h-12zM1417 2523h13v13h-13zM1430 2548h12v12h-12zM796 2572h12v12h-12zM808 2596h13v13h-13zM821 2621h12v12h-12zM1442 2621h12v12h-12zM833 2633h12v12h-12zM1442 2633h12v12h-12zM845 2657h12v12h-12zM857 2669h12v13h-12zM857 2682h12v12h-12zM1454 2682h12v12h-12zM869 2694h13v12h-13zM1454 2694h12v12h-12zM869 2706h13v12h-13zM869 2742h13v12h-13zM869 2754h13v13h-13zM869 2767h13v12h-13zM1466 2767h12v12h-12zM869 2779h13v12h-13zM1466 2779h12v12h-12zM869 2791h13v12h-13zM1478 2791h12v12h-12zM869 2803h13v12h-13zM1490 2803h13v12h-13zM869 2815h13v12h-13zM1539 2815h37v12h-37zM869 2827h13v13h-13zM1588 2827h24v13h-24zM869 2840h13v12h-13zM979 2840h12v12h-12zM1028 2840h36v12h-36zM1612 2840h25v12h-25zM869 2852h13v12h-13zM967 2852h12v12h-12zM1089 2852h12v12h-12zM1637 2852h12v12h-12zM869 2864h13v12h-13zM955 2864h12v12h-12zM1649 2864h12v12h-12zM882 2876h12v12h-12zM955 2876h12v12h-12zM1137 2876h12v12h-12zM1661 2876h12v12h-12zM882 2888h24v12h-24zM942 2888h13v12h-13zM1174 2888h12v12h-12zM1673 2888h12v12h-12zM906 2900h36v13h-36zM1296 2900h60v13h-60zM1685 2900h12v13h-12zM1369 2913h12v12h-12zM1697 2913h13v12h-13zM1381 2925h12v12h-12zM1710 2925h24v12h-24zM1393 2937h12v12h-12zM1405 2949h12v12h-12zM1417 2961h13v12h-13zM1430 2973h12v12h-12zM541 2985h73v13h-73zM1442 2985h24v13h-24zM504 2998h37v12h-37zM614 2998h12v12h-12zM1466 2998h12v12h-12zM504 3010h12v12h-12zM626 3010h12v12h-12zM1478 3010h12v12h-12zM1490 3022h13v12h-13zM614 3034h12v12h-12zM1503 3034h24v12h-24zM614 3046h12v12h-12zM1527 3046h61v12h-61zM601 3058h13v13h-13zM1588 3058h24v13h-24zM589 3071h25v12h-25zM1454 3071h73v12h-73zM1588 3071h24v12h-24zM589 3083h12v12h-12zM1430 3083h24v12h-24zM1527 3083h24v12h-24zM1588 3083h24v12h-24zM589 3095h12v12h-12zM1417 3095h13v12h-13zM1551 3095h49v12h-49zM589 3107h12v12h-12zM1405 3107h12v12h-12zM589 3119h12v12h-12zM1405 3119h12v12h-12zM589 3131h12v13h-12zM1393 3131h12v13h-12zM589 3144h12v12h-12zM601 3156h13v12h-13zM1381 3156h12v12h-12zM614 3168h12v12h-12zM1369 3168h12v12h-12z"/>
<path fill="#fea054" d="M869 1952h13v12h-13zM1612 1964h12v12h-12zM845 1976h12v12h-12zM1624 1976h13v12h-13zM1624 1988h13v13h-13zM833 2001h12v12h-12zM1624 2001h13v12h-13zM1624 2013h13v12h-13zM821 2025h12v12h-12zM1624 2025h13v12h-13zM650 2037h37v12h-37zM808 2037h13v12h-13zM1624 2037h13v12h-13zM650 2049h61v12h-61zM784 2049h12v12h-12zM1612 2049h12v12h-12zM650 2061h134v13h-134zM1612 2061h12v13h-12zM711 2074h49v12h-49zM1600 2074h12v12h-12zM735 2086h25v12h-25zM1600 2086h12v12h-12zM748 2098h24v12h-24zM1600 2098h12v12h-12zM760 2110h24v12h-24zM772 2122h24v12h-24zM1600 2122h12v12h-12zM796 2134h12v13h-12zM1612 2134h12v13h-12zM1697 2134h37v13h-37zM808 2147h25v12h-25zM1624 2147h61v12h-61zM821 2159h12v12h-12zM833 2171h12v12h-12zM845 2183h12v12h-12zM857 2195h12v12h-12zM504 2207h24v12h-24zM869 2207h13v12h-13zM1308 2207h24v12h-24zM504 2219h37v13h-37zM942 2219h73v13h-73zM1283 2219h13v13h-13zM1332 2219h24v13h-24zM528 2232h25v12h-25zM1064 2232h12v12h-12zM1271 2232h12v12h-12zM1356 2232h13v12h-13zM541 2244h24v12h-24zM1356 2244h13v12h-13zM553 2256h24v12h-24zM1113 2256h12v12h-12zM1259 2256h12v12h-12zM1369 2256h12v12h-12zM565 2268h24v12h-24zM1149 2268h37v12h-37zM1247 2268h12v12h-12zM1369 2268h12v12h-12zM577 2280h24v12h-24zM1210 2280h37v12h-37zM1369 2280h12v12h-12zM601 2292h25v13h-25zM1369 2292h12v13h-12zM626 2305h36v12h-36zM1369 2305h12v12h-12zM687 2317h48v12h-48zM1369 2317h12v12h-12zM735 2329h13v12h-13zM1369 2329h12v12h-12zM748 2341h12v12h-12zM1369 2341h12v12h-12zM1369 2353h12v12h-12zM760 2365h12v13h-12zM1369 2365h12v13h-12zM760 2378h12v12h-12zM760 2390h12v12h-12zM1356 2390h13v12h-13zM1356 2402h25v12h-25zM1369 2414h12v12h-12zM1369 2426h12v12h-12zM1381 2438h12v12h-12zM772 2450h12v13h-12zM1381 2450h12v13h-12zM1393 2463h12v12h-12zM1393 2475h12v12h-12zM1405 2487h12v12h-12zM784 2511h12v12h-12zM1417 2511h13v12h-13zM784 2523h12v13h-12zM1430 2523h12v13h-12zM784 2536h12v12h-12zM1430 2536h12v12h-12zM784 2548h12v12h-12zM784 2560h12v12h-12zM1442 2560h12v12h-12zM1442 2572h12v12h-12zM796 2584h12v12h-12zM1442 2584h12v12h-12zM796 2596h12v13h-12zM1442 2596h12v13h-12zM808 2609h13v12h-13zM1442 2609h12v12h-12zM821 2633h12v12h-12zM833 2645h12v12h-12zM833 2657h12v12h-12zM845 2669h12v13h-12zM1454 2669h12v13h-12zM845 2682h12v12h-12zM857 2694h12v12h-12zM857 2706h12v12h-12zM857 2718h25v12h-25zM869 2730h13v12h-13zM1466 2730h12v12h-12zM1466 2742h12v12h-12zM857 2754h12v13h-12zM1466 2754h12v13h-12zM857 2767h12v12h-12zM857 2779h12v12h-12zM1478 2779h12v12h-12zM857 2791h12v12h-12zM1490 2791h13v12h-13zM857 2803h12v12h-12zM1503 2803h48v12h-48zM857 2815h12v12h-12zM1576 2815h36v12h-36zM857 2827h12v13h-12zM1612 2827h25v13h-25zM857 2840h12v12h-12zM991 2840h37v12h-37zM1637 2840h24v12h-24zM857 2852h12v12h-12zM979 2852h12v12h-12zM1052 2852h37v12h-37zM1649 2852h24v12h-24zM857 2864h12v12h-12zM967 2864h12v12h-12zM1113 2864h12v12h-12zM1661 2864h24v12h-24zM869 2876h13v12h-13zM1673 2876h24v12h-24zM869 2888h13v12h-13zM955 2888h12v12h-12zM1162 2888h12v12h-12zM1685 2888h25v12h-25zM882 2900h24v13h-24zM942 2900h13v13h-13zM1223 2900h73v13h-73zM1697 2900h37v13h-37zM906 2913h24v12h-24zM1356 2913h13v12h-13zM1710 2913h24v12h-24zM1369 2925h12v12h-12zM1381 2937h12v12h-12zM1393 2949h12v12h-12zM1405 2961h12v12h-12zM553 2973h61v12h-61zM1405 2973h25v12h-25zM504 2985h37v13h-37zM614 2985h12v13h-12zM1430 2985h12v13h-12zM626 2998h12v12h-12zM1442 2998h24v12h-24zM1454 3010h24v12h-24zM626 3022h12v12h-12zM1466 3022h24v12h-24zM626 3034h12v12h-12zM1478 3034h25v12h-25zM626 3046h12v12h-12zM1478 3046h49v12h-49zM614 3058h12v13h-12zM1454 3058h134v13h-134zM614 3071h12v12h-12zM1442 3071h12v12h-12zM1527 3071h61v12h-61zM601 3083h13v12h-13zM1417 3083h13v12h-13zM1551 3083h37v12h-37zM601 3095h13v12h-13zM1405 3095h12v12h-12zM601 3107h13v12h-13zM601 3119h13v12h-13zM1393 3119h12v12h-12zM601 3131h13v13h-13zM601 3144h13v12h-13zM1381 3144h12v12h-12zM614 3156h12v12h-12zM1356 3168h13v12h-13z"/>
<path fill="#fe9c52" d="M882 1952h12v12h-12zM1600 1952h12v12h-12zM857 1964h12v12h-12zM1600 1964h12v12h-12zM857 1976h12v12h-12zM1612 1976h12v12h-12zM845 1988h12v13h-12zM1612 1988h12v13h-12zM845 2001h12v12h-12zM1612 2001h12v12h-12zM833 2013h12v12h-12zM1612 2013h12v12h-12zM833 2025h12v12h-12zM1612 2025h12v12h-12zM821 2037h12v12h-12zM1612 2037h12v12h-12zM796 2049h25v12h-25zM784 2061h24v13h-24zM1600 2061h12v13h-12zM760 2074h36v12h-36zM760 2086h36v12h-36zM772 2098h24v12h-24zM1588 2098h12v12h-12zM784 2110h24v12h-24zM1588 2110h12v12h-12zM796 2122h25v12h-25zM1588 2122h12v12h-12zM808 2134h25v13h-25zM1600 2134h12v13h-12zM833 2147h12v12h-12zM1612 2147h12v12h-12zM1685 2147h37v12h-37zM833 2159h24v12h-24zM845 2171h12v12h-12zM857 2183h12v12h-12zM869 2195h13v12h-13zM882 2207h24v12h-24zM1271 2207h37v12h-37zM1332 2207h24v12h-24zM1015 2219h25v13h-25zM1259 2219h24v13h-24zM1356 2219h13v13h-13zM504 2232h24v12h-24zM1076 2232h13v12h-13zM1259 2232h12v12h-12zM1369 2232h12v12h-12zM504 2244h37v12h-37zM1101 2244h12v12h-12zM1259 2244h12v12h-12zM1369 2244h12v12h-12zM528 2256h25v12h-25zM1125 2256h24v12h-24zM1247 2256h12v12h-12zM541 2268h24v12h-24zM1186 2268h61v12h-61zM1381 2268h12v12h-12zM565 2280h12v12h-12zM1381 2280h12v12h-12zM577 2292h24v13h-24zM1381 2292h12v13h-12zM601 2305h25v12h-25zM1381 2305h12v12h-12zM638 2317h49v12h-49zM1381 2317h12v12h-12zM723 2329h12v12h-12zM1381 2329h12v12h-12zM1381 2341h12v12h-12zM748 2353h12v12h-12zM1381 2353h12v12h-12zM1381 2365h12v13h-12zM1369 2378h12v12h-12zM1369 2390h24v12h-24zM760 2402h12v12h-12zM1381 2402h12v12h-12zM760 2414h12v12h-12zM1381 2414h12v12h-12zM1381 2426h12v12h-12zM1393 2438h12v12h-12zM1393 2450h12v13h-12zM772 2463h12v12h-12zM1405 2463h12v12h-12zM772 2475h12v12h-12zM1405 2475h12v12h-12zM1417 2487h13v12h-13zM1417 2499h13v12h-13zM1430 2511h12v12h-12zM1442 2536h12v12h-12zM1442 2548h12v12h-12zM784 2572h12v12h-12zM784 2584h12v12h-12zM796 2609h12v12h-12zM808 2621h13v12h-13zM808 2633h13v12h-13zM821 2645h12v12h-12zM1454 2645h12v12h-12zM821 2657h12v12h-12zM1454 2657h12v12h-12zM833 2669h12v13h-12zM833 2682h12v12h-12zM845 2694h12v12h-12zM845 2706h12v12h-12zM1466 2706h12v12h-12zM845 2718h12v12h-12zM1466 2718h12v12h-12zM845 2730h24v12h-24zM857 2742h12v12h-12zM845 2754h12v13h-12zM845 2767h12v12h-12zM1478 2767h12v12h-12zM845 2779h12v12h-12zM845 2791h12v12h-12zM1503 2791h12v12h-12zM845 2803h12v12h-12zM1551 2803h49v12h-49zM845 2815h12v12h-12zM1612 2815h25v12h-25zM845 2827h12v13h-12zM1637 2827h24v13h-24zM845 2840h12v12h-12zM1661 2840h12v12h-12zM845 2852h12v12h-12zM991 2852h61v12h-61zM1673 2852h24v12h-24zM979 2864h12v12h-12zM1089 2864h24v12h-24zM1685 2864h25v12h-25zM857 2876h12v12h-12zM967 2876h12v12h-12zM1125 2876h12v12h-12zM1697 2876h37v12h-37zM857 2888h12v12h-12zM967 2888h12v12h-12zM1149 2888h13v12h-13zM1710 2888h24v12h-24zM869 2900h13v13h-13zM955 2900h24v13h-24zM1198 2900h25v13h-25zM882 2913h24v12h-24zM930 2913h37v12h-37zM1332 2913h24v12h-24zM1356 2925h13v12h-13zM1369 2937h12v12h-12zM1381 2949h12v12h-12zM1381 2961h24v12h-24zM516 2973h37v12h-37zM614 2973h12v12h-12zM1393 2973h12v12h-12zM626 2985h12v13h-12zM1405 2985h25v13h-25zM638 2998h12v12h-12zM1417 2998h25v12h-25zM638 3010h12v12h-12zM1430 3010h24v12h-24zM638 3022h12v12h-12zM1442 3022h24v12h-24zM1442 3034h36v12h-36zM1442 3046h36v12h-36zM626 3058h12v13h-12zM1430 3058h24v13h-24zM1417 3071h25v12h-25zM614 3083h12v12h-12zM1405 3083h12v12h-12zM614 3095h12v12h-12zM1393 3095h12v12h-12zM614 3107h12v12h-12zM1393 3107h12v12h-12zM614 3119h12v12h-12zM1381 3119h12v12h-12zM614 3131h12v13h-12zM1381 3131h12v13h-12zM614 3144h12v12h-12zM1369 3144h12v12h-12zM626 3156h12v12h-12zM1369 3156h12v12h-12zM626 3168h12v12h-12zM1344 3168h12v12h-12z"/>
<path fill="#fe9750" d="M894 1952h12v12h-12zM1588 1952h12v12h-12zM869 1964h25v12h-25zM1600 1976h12v12h-12zM857 1988h12v13h-12zM1600 1988h12v13h-12zM845 2013h12v12h-12zM845 2025h12v12h-12zM1600 2025h12v12h-12zM833 2037h24v12h-24zM1600 2037h12v12h-12zM821 2049h24v12h-24zM1600 2049h12v12h-12zM808 2061h37v13h-37zM796 2074h37v12h-37zM1588 2074h12v12h-12zM796 2086h37v12h-37zM1588 2086h12v12h-12zM796 2098h49v12h-49zM808 2110h37v12h-37zM821 2122h36v12h-36zM833 2134h24v13h-24zM1588 2134h12v13h-12zM845 2147h12v12h-12zM1600 2147h12v12h-12zM1722 2147h12v12h-12zM857 2159h12v12h-12zM1624 2159h61v12h-61zM857 2171h12v12h-12zM869 2183h13v12h-13zM882 2195h12v12h-12zM1283 2195h61v12h-61zM906 2207h36v12h-36zM1259 2207h12v12h-12zM1356 2207h13v12h-13zM1040 2219h24v13h-24zM1247 2219h12v13h-12zM1369 2219h12v13h-12zM1089 2232h12v12h-12zM1247 2232h12v12h-12zM1381 2232h12v12h-12zM1113 2244h12v12h-12zM1235 2244h24v12h-24zM1381 2244h12v12h-12zM504 2256h24v12h-24zM1149 2256h98v12h-98zM1381 2256h12v12h-12zM504 2268h37v12h-37zM504 2280h61v12h-61zM1393 2280h12v12h-12zM541 2292h36v13h-36zM1393 2292h12v13h-12zM577 2305h24v12h-24zM1393 2305h12v12h-12zM614 2317h24v12h-24zM1393 2317h12v12h-12zM662 2329h61v12h-61zM1393 2329h12v12h-12zM723 2341h25v12h-25zM1393 2341h12v12h-12zM1393 2353h12v12h-12zM748 2365h12v13h-12zM1393 2365h12v13h-12zM748 2378h12v12h-12zM1381 2378h24v12h-24zM1393 2390h12v12h-12zM1393 2402h12v12h-12zM1393 2414h12v12h-12zM760 2426h12v12h-12zM1393 2426h24v12h-24zM760 2438h12v12h-12zM1405 2438h12v12h-12zM1405 2450h12v13h-12zM1417 2463h13v12h-13zM1417 2475h13v12h-13zM772 2487h12v12h-12zM1430 2487h12v12h-12zM1430 2499h24v12h-24zM1442 2511h12v12h-12zM1442 2523h12v13h-12zM1454 2536h12v12h-12zM772 2548h12v12h-12zM1454 2548h12v12h-12zM772 2560h12v12h-12zM1454 2560h12v12h-12zM772 2572h12v12h-12zM1454 2572h12v12h-12zM772 2584h12v12h-12zM784 2596h12v13h-12zM784 2609h12v12h-12zM784 2621h24v12h-24zM796 2633h12v12h-12zM1454 2633h12v12h-12zM808 2645h13v12h-13zM808 2657h13v12h-13zM821 2669h12v13h-12zM821 2682h12v12h-12zM1466 2682h12v12h-12zM821 2694h24v12h-24zM1466 2694h12v12h-12zM833 2706h12v12h-12zM833 2718h12v12h-12zM833 2730h12v12h-12zM833 2742h24v12h-24zM1478 2742h12v12h-12zM833 2754h12v13h-12zM1478 2754h12v13h-12zM833 2767h12v12h-12zM833 2779h12v12h-12zM1490 2779h25v12h-25zM833 2791h12v12h-12zM1515 2791h61v12h-61zM833 2803h12v12h-12zM1600 2803h24v12h-24zM833 2815h12v12h-12zM1637 2815h24v12h-24zM833 2827h12v13h-12zM1661 2827h36v13h-36zM833 2840h12v12h-12zM1673 2840h61v12h-61zM1697 2852h37v12h-37zM845 2864h12v12h-12zM991 2864h98v12h-98zM1710 2864h24v12h-24zM845 2876h12v12h-12zM979 2876h24v12h-24zM1113 2876h12v12h-12zM845 2888h12v12h-12zM979 2888h12v12h-12zM1137 2888h12v12h-12zM857 2900h12v13h-12zM979 2900h12v13h-12zM1174 2900h24v13h-24zM869 2913h13v12h-13zM967 2913h12v12h-12zM1296 2913h36v12h-36zM894 2925h61v12h-61zM1344 2925h12v12h-12zM1356 2937h13v12h-13zM1369 2949h12v12h-12zM553 2961h61v12h-61zM1369 2961h12v12h-12zM504 2973h12v12h-12zM626 2973h12v12h-12zM1381 2973h12v12h-12zM638 2985h12v13h-12zM1381 2985h24v13h-24zM1381 2998h36v12h-36zM1393 3010h37v12h-37zM1393 3022h49v12h-49zM638 3034h12v12h-12zM1405 3034h37v12h-37zM638 3046h12v12h-12zM1405 3046h37v12h-37zM1393 3058h37v13h-37zM626 3071h12v12h-12zM1393 3071h24v12h-24zM626 3083h12v12h-12zM1381 3083h24v12h-24zM626 3095h12v12h-12zM1381 3095h12v12h-12zM1381 3107h12v12h-12zM626 3131h12v13h-12zM1369 3131h12v13h-12zM626 3144h12v12h-12zM1344 3156h25v12h-25zM638 3168h12v12h-12zM1332 3168h12v12h-12z"/>
<path fill="#fe934e" d="M906 1952h12v12h-12zM1576 1952h12v12h-12zM894 1964h12v12h-12zM1588 1964h12v12h-12zM869 1976h25v12h-25zM1588 1976h12v12h-12zM869 1988h13v13h-13zM857 2001h12v12h-12zM1600 2001h12v12h-12zM857 2013h12v12h-12zM1600 2013h12v12h-12zM857 2025h12v12h-12zM857 2037h12v12h-12zM845 2049h24v12h-24zM1588 2049h12v12h-12zM845 2061h37v13h-37zM1588 2061h12v13h-12zM833 2074h49v12h-49zM833 2086h49v12h-49zM1576 2086h12v12h-12zM845 2098h37v12h-37zM1576 2098h12v12h-12zM845 2110h37v12h-37zM1576 2110h12v12h-12zM857 2122h12v12h-12zM1576 2122h12v12h-12zM857 2134h12v13h-12zM1576 2134h12v13h-12zM857 2147h12v12h-12zM1588 2147h12v12h-12zM869 2159h13v12h-13zM1600 2159h24v12h-24zM1685 2159h49v12h-49zM869 2171h13v12h-13zM882 2183h12v12h-12zM894 2195h12v12h-12zM1259 2195h24v12h-24zM1344 2195h12v12h-12zM942 2207h37v12h-37zM1247 2207h12v12h-12zM1369 2207h12v12h-12zM1064 2219h12v13h-12zM1235 2219h12v13h-12zM1381 2219h12v13h-12zM1101 2232h12v12h-12zM1235 2232h12v12h-12zM1125 2244h37v12h-37zM1210 2244h25v12h-25zM1393 2244h12v12h-12zM1393 2256h12v12h-12zM1393 2268h12v12h-12zM504 2292h37v13h-37zM1405 2292h12v13h-12zM504 2305h73v12h-73zM1405 2305h12v12h-12zM565 2317h49v12h-49zM1405 2317h12v12h-12zM614 2329h48v12h-48zM1405 2329h12v12h-12zM674 2341h49v12h-49zM1405 2341h12v12h-12zM723 2353h25v12h-25zM1405 2353h12v12h-12zM735 2365h13v13h-13zM1405 2365h12v13h-12zM1405 2378h12v12h-12zM748 2390h12v12h-12zM1405 2390h12v12h-12zM748 2402h12v12h-12zM1405 2402h12v12h-12zM1405 2414h25v12h-25zM1417 2426h13v12h-13zM1417 2438h13v12h-13zM760 2450h12v13h-12zM1417 2450h25v13h-25zM1430 2463h12v12h-12zM1430 2475h24v12h-24zM1442 2487h12v12h-12zM772 2499h12v12h-12zM1454 2499h12v12h-12zM772 2511h12v12h-12zM1454 2511h12v12h-12zM772 2523h12v13h-12zM1454 2523h12v13h-12zM772 2536h12v12h-12zM1454 2584h12v12h-12zM772 2596h12v13h-12zM1454 2596h12v13h-12zM772 2609h12v12h-12zM1454 2609h12v12h-12zM772 2621h12v12h-12zM1454 2621h12v12h-12zM784 2633h12v12h-12zM784 2645h24v12h-24zM796 2657h12v12h-12zM796 2669h25v13h-25zM1466 2669h12v13h-12zM808 2682h13v12h-13zM808 2694h13v12h-13zM808 2706h25v12h-25zM821 2718h12v12h-12zM1478 2718h12v12h-12zM821 2730h12v12h-12zM1478 2730h12v12h-12zM821 2742h12v12h-12zM821 2754h12v13h-12zM1490 2754h13v13h-13zM821 2767h12v12h-12zM1490 2767h25v12h-25zM821 2779h12v12h-12zM1515 2779h49v12h-49zM821 2791h12v12h-12zM1576 2791h48v12h-48zM821 2803h12v12h-12zM1624 2803h49v12h-49zM821 2815h12v12h-12zM1661 2815h73v12h-73zM821 2827h12v13h-12zM1697 2827h37v13h-37zM833 2852h12v12h-12zM833 2864h12v12h-12zM833 2876h12v12h-12zM1003 2876h25v12h-25zM1076 2876h37v12h-37zM991 2888h12v12h-12zM1125 2888h12v12h-12zM845 2900h12v13h-12zM991 2900h12v13h-12zM1162 2900h12v13h-12zM857 2913h12v12h-12zM979 2913h12v12h-12zM1259 2913h37v12h-37zM882 2925h12v12h-12zM955 2925h24v12h-24zM1332 2925h12v12h-12zM1344 2937h12v12h-12zM1356 2949h13v12h-13zM504 2961h49v12h-49zM614 2961h24v12h-24zM1356 2961h13v12h-13zM638 2973h12v12h-12zM1369 2973h12v12h-12zM650 2985h12v13h-12zM1369 2985h12v13h-12zM650 2998h12v12h-12zM1369 2998h12v12h-12zM650 3010h12v12h-12zM1356 3010h37v12h-37zM650 3022h12v12h-12zM1356 3022h37v12h-37zM650 3034h12v12h-12zM1356 3034h49v12h-49zM1356 3046h49v12h-49zM638 3058h12v13h-12zM1356 3058h37v13h-37zM638 3071h12v12h-12zM1369 3071h24v12h-24zM1369 3083h12v12h-12zM1369 3095h12v12h-12zM626 3107h12v12h-12zM1369 3107h12v12h-12zM626 3119h12v12h-12zM1369 3119h12v12h-12zM1356 3131h13v13h-13zM638 3144h12v12h-12zM1344 3144h25v12h-25zM638 3156h12v12h-12zM1332 3156h12v12h-12zM650 3168h12v12h-12zM1320 3168h12v12h-12z"/>
<path fill="#fe8f4c" d="M918 1952h12v12h-12zM906 1964h12v12h-12zM1576 1964h12v12h-12zM894 1976h12v12h-12zM882 1988h12v13h-12zM1588 1988h12v13h-12zM869 2001h25v12h-25zM1588 2001h12v12h-12zM869 2013h25v12h-25zM1588 2013h12v12h-12zM869 2025h25v12h-25zM1588 2025h12v12h-12zM869 2037h25v12h-25zM1588 2037h12v12h-12zM869 2049h25v12h-25zM882 2061h24v13h-24zM1576 2061h12v13h-12zM882 2074h24v12h-24zM1576 2074h12v12h-12zM882 2086h24v12h-24zM882 2098h12v12h-12zM882 2110h12v12h-12zM1564 2110h12v12h-12zM869 2122h25v12h-25zM1564 2122h12v12h-12zM869 2134h25v13h-25zM869 2147h25v12h-25zM1576 2147h12v12h-12zM882 2159h12v12h-12zM1588 2159h12v12h-12zM882 2171h12v12h-12zM1612 2171h85v12h-85zM894 2183h12v12h-12zM1271 2183h61v12h-61zM906 2195h24v12h-24zM1235 2195h24v12h-24zM1356 2195h25v12h-25zM979 2207h49v12h-49zM1235 2207h12v12h-12zM1381 2207h12v12h-12zM1076 2219h13v13h-13zM1223 2219h12v13h-12zM1393 2219h12v13h-12zM1113 2232h12v12h-12zM1210 2232h25v12h-25zM1393 2232h12v12h-12zM1162 2244h48v12h-48zM1405 2256h12v12h-12zM1405 2268h12v12h-12zM1405 2280h12v12h-12zM504 2317h61v12h-61zM1417 2317h13v12h-13zM504 2329h12v12h-12zM565 2329h49v12h-49zM1417 2329h13v12h-13zM626 2341h48v12h-48zM1417 2341h13v12h-13zM687 2353h36v12h-36zM1417 2353h13v12h-13zM723 2365h12v13h-12zM1417 2365h13v13h-13zM735 2378h13v12h-13zM1417 2378h13v12h-13zM1417 2390h13v12h-13zM1417 2402h13v12h-13zM748 2414h12v12h-12zM1430 2414h12v12h-12zM1430 2426h12v12h-12zM1430 2438h24v12h-24zM1442 2450h12v13h-12zM760 2463h12v12h-12zM1442 2463h24v12h-24zM1454 2475h12v12h-12zM1454 2487h24v12h-24zM1466 2499h12v12h-12zM1466 2511h12v12h-12zM1466 2523h12v13h-12zM1466 2536h12v12h-12zM1466 2548h12v12h-12zM760 2560h12v12h-12zM1466 2560h12v12h-12zM760 2572h12v12h-12zM760 2584h12v12h-12zM760 2596h12v13h-12zM760 2609h12v12h-12zM760 2621h12v12h-12zM760 2633h24v12h-24zM772 2645h12v12h-12zM772 2657h24v12h-24zM1466 2657h12v12h-12zM784 2669h12v13h-12zM784 2682h24v12h-24zM796 2694h12v12h-12zM796 2706h12v12h-12zM1478 2706h12v12h-12zM808 2718h13v12h-13zM808 2730h13v12h-13zM808 2742h13v12h-13zM1490 2742h13v12h-13zM808 2754h13v13h-13zM1503 2754h12v13h-12zM808 2767h13v12h-13zM1515 2767h36v12h-36zM808 2779h13v12h-13zM1564 2779h48v12h-48zM808 2791h13v12h-13zM1624 2791h49v12h-49zM1722 2791h12v12h-12zM808 2803h13v12h-13zM1673 2803h61v12h-61zM821 2840h12v12h-12zM821 2852h12v12h-12zM821 2864h12v12h-12zM1028 2876h48v12h-48zM833 2888h12v12h-12zM1003 2888h25v12h-25zM1113 2888h12v12h-12zM833 2900h12v13h-12zM1003 2900h12v13h-12zM1149 2900h13v13h-13zM845 2913h12v12h-12zM991 2913h12v12h-12zM1210 2913h49v12h-49zM857 2925h25v12h-25zM979 2925h24v12h-24zM1308 2925h24v12h-24zM906 2937h61v12h-61zM1332 2937h12v12h-12zM541 2949h85v12h-85zM1344 2949h12v12h-12zM638 2961h12v12h-12zM1344 2961h12v12h-12zM650 2973h12v12h-12zM1344 2973h25v12h-25zM1344 2985h25v13h-25zM662 2998h12v12h-12zM1344 2998h25v12h-25zM662 3010h12v12h-12zM1344 3010h12v12h-12zM1344 3022h12v12h-12zM1332 3034h24v12h-24zM650 3046h12v12h-12zM1332 3046h24v12h-24zM650 3058h12v13h-12zM1332 3058h24v13h-24zM1344 3071h25v12h-25zM638 3083h12v12h-12zM1344 3083h25v12h-25zM638 3095h12v12h-12zM1344 3095h25v12h-25zM638 3107h12v12h-12zM1344 3107h25v12h-25zM638 3119h12v12h-12zM1344 3119h25v12h-25zM638 3131h12v13h-12zM1344 3131h12v13h-12zM1332 3144h12v12h-12zM650 3156h12v12h-12zM1320 3156h12v12h-12zM1308 3168h12v12h-12z"/>
<path fill="#fe8a4a" d="M930 1952h12v12h-12zM1564 1952h12v12h-12zM918 1964h12v12h-12zM906 1976h24v12h-24zM1576 1976h12v12h-12zM894 1988h24v13h-24zM1576 1988h12v13h-12zM894 2001h24v12h-24zM1576 2001h12v12h-12zM894 2013h12v12h-12zM1576 2013h12v12h-12zM894 2025h24v12h-24zM1576 2025h12v12h-12zM894 2037h24v12h-24zM1576 2037h12v12h-12zM894 2049h24v12h-24zM1576 2049h12v12h-12zM906 2061h12v13h-12zM906 2074h12v12h-12zM906 2086h12v12h-12zM1564 2086h12v12h-12zM894 2098h24v12h-24zM1564 2098h12v12h-12zM894 2110h12v12h-12zM894 2122h12v12h-12zM894 2134h12v13h-12zM1564 2134h12v13h-12zM894 2147h12v12h-12zM894 2159h12v12h-12zM1576 2159h12v12h-12zM894 2171h12v12h-12zM1600 2171h12v12h-12zM1697 2171h37v12h-37zM906 2183h12v12h-12zM1247 2183h24v12h-24zM1332 2183h24v12h-24zM930 2195h25v12h-25zM1223 2195h12v12h-12zM1381 2195h12v12h-12zM1028 2207h24v12h-24zM1223 2207h12v12h-12zM1393 2207h12v12h-12zM1089 2219h12v13h-12zM1198 2219h25v13h-25zM1125 2232h85v12h-85zM1405 2232h12v12h-12zM1405 2244h12v12h-12zM1417 2268h13v12h-13zM1417 2280h13v12h-13zM1417 2292h13v13h-13zM1417 2305h13v12h-13zM516 2329h49v12h-49zM1430 2329h12v12h-12zM504 2341h122v12h-122zM1430 2341h12v12h-12zM650 2353h37v12h-37zM1430 2353h12v12h-12zM699 2365h24v13h-24zM1430 2365h12v13h-12zM723 2378h12v12h-12zM1430 2378h12v12h-12zM735 2390h13v12h-13zM1430 2390h12v12h-12zM735 2402h13v12h-13zM1430 2402h24v12h-24zM1442 2414h12v12h-12zM748 2426h12v12h-12zM1442 2426h24v12h-24zM748 2438h12v12h-12zM1454 2438h12v12h-12zM1454 2450h24v13h-24zM1466 2463h24v12h-24zM760 2475h12v12h-12zM1466 2475h24v12h-24zM760 2487h12v12h-12zM1478 2487h25v12h-25zM1478 2499h25v12h-25zM1478 2511h25v12h-25zM1478 2523h12v13h-12zM760 2536h12v12h-12zM1478 2536h12v12h-12zM760 2548h12v12h-12zM1478 2548h12v12h-12zM748 2572h12v12h-12zM1466 2572h12v12h-12zM748 2584h12v12h-12zM1466 2584h12v12h-12zM748 2596h12v13h-12zM735 2609h25v12h-25zM735 2621h25v12h-25zM735 2633h25v12h-25zM1466 2633h12v12h-12zM748 2645h24v12h-24zM1466 2645h12v12h-12zM748 2657h24v12h-24zM760 2669h24v13h-24zM772 2682h12v12h-12zM1478 2682h12v12h-12zM772 2694h24v12h-24zM1478 2694h12v12h-12zM784 2706h12v12h-12zM784 2718h24v12h-24zM1490 2718h13v12h-13zM796 2730h12v12h-12zM1490 2730h13v12h-13zM796 2742h12v12h-12zM1503 2742h12v12h-12zM796 2754h12v13h-12zM1515 2754h24v13h-24zM796 2767h12v12h-12zM1551 2767h37v12h-37zM796 2779h12v12h-12zM1612 2779h122v12h-122zM796 2791h12v12h-12zM1673 2791h49v12h-49zM808 2815h13v12h-13zM808 2827h13v13h-13zM808 2840h13v12h-13zM808 2852h13v12h-13zM821 2876h12v12h-12zM821 2888h12v12h-12zM1028 2888h85v12h-85zM1015 2900h25v13h-25zM1137 2900h12v13h-12zM833 2913h12v12h-12zM1003 2913h12v12h-12zM1186 2913h24v12h-24zM845 2925h12v12h-12zM1003 2925h12v12h-12zM1283 2925h25v12h-25zM882 2937h24v12h-24zM967 2937h24v12h-24zM1320 2937h12v12h-12zM504 2949h37v12h-37zM626 2949h12v12h-12zM1332 2949h12v12h-12zM650 2961h12v12h-12zM1332 2961h12v12h-12zM1332 2973h12v12h-12zM662 2985h12v13h-12zM1332 2985h12v13h-12zM1332 2998h12v12h-12zM1332 3010h12v12h-12zM662 3022h12v12h-12zM1320 3022h24v12h-24zM662 3034h12v12h-12zM1320 3034h12v12h-12zM1320 3046h12v12h-12zM1320 3058h12v13h-12zM650 3071h12v12h-12zM1320 3071h24v12h-24zM650 3083h12v12h-12zM1320 3083h24v12h-24zM650 3095h12v12h-12zM1320 3095h24v12h-24zM650 3107h12v12h-12zM1332 3107h12v12h-12zM650 3119h12v12h-12zM1320 3119h24v12h-24zM650 3131h12v13h-12zM1320 3131h24v13h-24zM650 3144h12v12h-12zM1308 3144h24v12h-24zM1308 3156h12v12h-12zM662 3168h12v12h-12zM1296 3168h12v12h-12z"/>
<path fill="#fe8648" d="M930 1964h12v12h-12zM1564 1964h12v12h-12zM930 1976h12v12h-12zM1564 1976h12v12h-12zM918 1988h12v13h-12zM1564 1988h12v13h-12zM918 2001h12v12h-12zM906 2013h24v12h-24zM918 2025h12v12h-12zM918 2037h12v12h-12zM918 2049h12v12h-12zM918 2061h12v13h-12zM1564 2061h12v13h-12zM918 2074h12v12h-12zM1564 2074h12v12h-12zM918 2086h12v12h-12zM918 2098h12v12h-12zM906 2110h24v12h-24zM1551 2110h13v12h-13zM906 2122h12v12h-12zM1551 2122h13v12h-13zM906 2134h12v13h-12zM1551 2134h13v13h-13zM906 2147h12v12h-12zM1564 2147h12v12h-12zM906 2159h12v12h-12zM906 2171h12v12h-12zM1588 2171h12v12h-12zM918 2183h12v12h-12zM1235 2183h12v12h-12zM1356 2183h25v12h-25zM1600 2183h134v12h-134zM955 2195h24v12h-24zM1210 2195h13v12h-13zM1393 2195h12v12h-12zM1052 2207h24v12h-24zM1198 2207h25v12h-25zM1405 2207h12v12h-12zM1101 2219h24v13h-24zM1186 2219h12v13h-12zM1405 2219h12v13h-12zM1417 2244h13v12h-13zM1417 2256h13v12h-13zM1430 2280h12v12h-12zM1430 2292h12v13h-12zM1430 2305h12v12h-12zM1430 2317h12v12h-12zM1442 2329h12v12h-12zM1442 2341h12v12h-12zM504 2353h49v12h-49zM589 2353h61v12h-61zM1442 2353h12v12h-12zM662 2365h37v13h-37zM1442 2365h12v13h-12zM711 2378h12v12h-12zM1442 2378h12v12h-12zM723 2390h12v12h-12zM1442 2390h24v12h-24zM1454 2402h12v12h-12zM735 2414h13v12h-13zM1454 2414h24v12h-24zM1466 2426h12v12h-12zM1466 2438h24v12h-24zM748 2450h12v13h-12zM1478 2450h25v13h-25zM1490 2463h25v12h-25zM1490 2475h25v12h-25zM1503 2487h12v12h-12zM760 2499h12v12h-12zM1503 2499h12v12h-12zM760 2511h12v12h-12zM1503 2511h12v12h-12zM760 2523h12v13h-12zM1490 2523h25v13h-25zM1490 2536h13v12h-13zM1490 2548h13v12h-13zM748 2560h12v12h-12zM1478 2560h12v12h-12zM735 2572h13v12h-13zM735 2584h13v12h-13zM723 2596h25v13h-25zM1466 2596h12v13h-12zM723 2609h12v12h-12zM1466 2609h12v12h-12zM723 2621h12v12h-12zM1466 2621h12v12h-12zM723 2633h12v12h-12zM723 2645h25v12h-25zM723 2657h25v12h-25zM735 2669h25v13h-25zM1478 2669h12v13h-12zM748 2682h24v12h-24zM760 2694h12v12h-12zM760 2706h24v12h-24zM1490 2706h13v12h-13zM772 2718h12v12h-12zM772 2730h24v12h-24zM1503 2730h12v12h-12zM784 2742h12v12h-12zM1515 2742h12v12h-12zM784 2754h12v13h-12zM1539 2754h37v13h-37zM784 2767h12v12h-12zM1588 2767h61v12h-61zM1685 2767h49v12h-49zM784 2779h12v12h-12zM784 2791h12v12h-12zM796 2803h12v12h-12zM796 2815h12v12h-12zM796 2827h12v13h-12zM796 2840h12v12h-12zM808 2864h13v12h-13zM808 2876h13v12h-13zM821 2900h12v13h-12zM1040 2900h12v13h-12zM1113 2900h24v13h-24zM821 2913h12v12h-12zM1015 2913h25v12h-25zM1162 2913h24v12h-24zM833 2925h12v12h-12zM1015 2925h13v12h-13zM1259 2925h24v12h-24zM504 2937h134v12h-134zM857 2937h25v12h-25zM991 2937h12v12h-12zM1308 2937h12v12h-12zM638 2949h12v12h-12zM1320 2949h12v12h-12zM1320 2961h12v12h-12zM662 2973h12v12h-12zM1320 2973h12v12h-12zM674 2985h13v13h-13zM1320 2985h12v13h-12zM674 2998h13v12h-13zM1320 2998h12v12h-12zM674 3010h13v12h-13zM1308 3010h24v12h-24zM1308 3022h12v12h-12zM1308 3034h12v12h-12zM662 3046h12v12h-12zM1308 3046h12v12h-12zM662 3058h12v13h-12zM1308 3058h12v13h-12zM1308 3071h12v12h-12zM1308 3083h12v12h-12zM1308 3095h12v12h-12zM1308 3107h24v12h-24zM1308 3119h12v12h-12zM662 3131h12v13h-12zM1308 3131h12v13h-12zM662 3144h12v12h-12zM1296 3144h12v12h-12zM662 3156h12v12h-12zM1296 3156h12v12h-12z"/>
<path fill="#fe8146" d="M942 1952h13v12h-13zM1551 1952h13v12h-13zM942 1964h13v12h-13zM1551 1964h13v12h-13zM1551 1976h13v12h-13zM930 1988h12v13h-12zM930 2001h12v12h-12zM1564 2001h12v12h-12zM930 2013h12v12h-12zM1564 2013h12v12h-12zM930 2025h12v12h-12zM1564 2025h12v12h-12zM930 2037h12v12h-12zM1564 2037h12v12h-12zM930 2049h12v12h-12zM1564 2049h12v12h-12zM930 2061h12v13h-12zM930 2074h12v12h-12zM930 2086h12v12h-12zM1551 2086h13v12h-13zM930 2098h12v12h-12zM1551 2098h13v12h-13zM918 2122h12v12h-12zM918 2134h12v13h-12zM918 2147h12v12h-12zM1551 2147h13v12h-13zM918 2159h12v12h-12zM1564 2159h12v12h-12zM918 2171h12v12h-12zM1247 2171h97v12h-97zM1576 2171h12v12h-12zM930 2183h25v12h-25zM1223 2183h12v12h-12zM1381 2183h12v12h-12zM1588 2183h12v12h-12zM979 2195h36v12h-36zM1624 2195h25v12h-25zM1076 2207h13v12h-13zM1186 2207h12v12h-12zM1125 2219h61v13h-61zM1417 2219h13v13h-13zM1417 2232h13v12h-13zM1430 2256h12v12h-12zM1430 2268h12v12h-12zM1442 2292h12v13h-12zM1442 2305h12v12h-12zM1442 2317h12v12h-12zM1454 2329h12v12h-12zM1454 2341h12v12h-12zM553 2353h36v12h-36zM1454 2353h12v12h-12zM504 2365h37v13h-37zM626 2365h36v13h-36zM1454 2365h24v13h-24zM674 2378h37v12h-37zM1454 2378h24v12h-24zM711 2390h12v12h-12zM1466 2390h12v12h-12zM723 2402h12v12h-12zM1466 2402h24v12h-24zM1478 2414h12v12h-12zM735 2426h13v12h-13zM1478 2426h25v12h-25zM1490 2438h25v12h-25zM1503 2450h36v13h-36zM748 2463h12v12h-12zM1515 2463h24v12h-24zM1515 2475h24v12h-24zM1515 2487h24v12h-24zM1515 2499h24v12h-24zM1515 2511h12v12h-12zM1515 2523h12v13h-12zM748 2536h12v12h-12zM1503 2536h12v12h-12zM748 2548h12v12h-12zM1503 2548h12v12h-12zM735 2560h13v12h-13zM1490 2560h13v12h-13zM723 2572h12v12h-12zM1478 2572h12v12h-12zM723 2584h12v12h-12zM1478 2584h12v12h-12zM711 2596h12v13h-12zM711 2609h12v12h-12zM699 2621h24v12h-24zM699 2633h24v12h-24zM699 2645h24v12h-24zM699 2657h24v12h-24zM1478 2657h12v12h-12zM699 2669h36v13h-36zM723 2682h25v12h-25zM735 2694h25v12h-25zM1490 2694h13v12h-13zM748 2706h12v12h-12zM748 2718h24v12h-24zM1503 2718h12v12h-12zM760 2730h12v12h-12zM1515 2730h12v12h-12zM760 2742h24v12h-24zM1527 2742h37v12h-37zM760 2754h24v13h-24zM1576 2754h36v13h-36zM1697 2754h37v13h-37zM772 2767h12v12h-12zM1649 2767h36v12h-36zM772 2779h12v12h-12zM772 2791h12v12h-12zM784 2803h12v12h-12zM784 2815h12v12h-12zM784 2827h12v13h-12zM796 2852h12v12h-12zM796 2864h12v12h-12zM808 2888h13v12h-13zM808 2900h13v13h-13zM1052 2900h61v13h-61zM1040 2913h12v12h-12zM1149 2913h13v12h-13zM589 2925h25v12h-25zM1223 2925h36v12h-36zM638 2937h12v12h-12zM845 2937h12v12h-12zM1003 2937h12v12h-12zM1283 2937h25v12h-25zM650 2949h12v12h-12zM894 2949h97v12h-97zM1308 2949h12v12h-12zM662 2961h12v12h-12zM1308 2961h12v12h-12zM674 2973h13v12h-13zM1308 2973h12v12h-12zM1308 2985h12v13h-12zM1308 2998h12v12h-12zM674 3022h13v12h-13zM1296 3022h12v12h-12zM674 3034h13v12h-13zM1296 3034h12v12h-12zM1296 3046h12v12h-12zM1296 3058h12v13h-12zM662 3071h12v12h-12zM1296 3071h12v12h-12zM662 3083h12v12h-12zM1296 3083h12v12h-12zM662 3095h12v12h-12zM1296 3095h12v12h-12zM662 3107h12v12h-12zM1296 3107h12v12h-12zM662 3119h12v12h-12zM1296 3119h12v12h-12zM1296 3131h12v13h-12zM674 3144h13v12h-13zM674 3156h13v12h-13zM1283 3156h13v12h-13zM674 3168h13v12h-13zM1283 3168h13v12h-13z"/>
<path fill="#fe7d44" d="M1539 1952h12v12h-12zM942 1976h13v12h-13zM942 1988h13v13h-13zM1551 1988h13v13h-13zM942 2001h13v12h-13zM1551 2001h13v12h-13zM942 2013h13v12h-13zM1551 2013h13v12h-13zM942 2025h13v12h-13zM1551 2025h13v12h-13zM942 2037h13v12h-13zM1551 2037h13v12h-13zM942 2049h13v12h-13zM1551 2049h13v12h-13zM942 2061h13v13h-13zM1551 2061h13v13h-13zM942 2074h13v12h-13zM1551 2074h13v12h-13zM1539 2098h12v12h-12zM930 2110h12v12h-12zM1539 2110h12v12h-12zM930 2122h12v12h-12zM1539 2122h12v12h-12zM930 2134h12v13h-12zM1539 2134h12v13h-12zM930 2147h12v12h-12zM1539 2147h12v12h-12zM930 2159h12v12h-12zM1551 2159h13v12h-13zM930 2171h12v12h-12zM1223 2171h24v12h-24zM1344 2171h25v12h-25zM1564 2171h12v12h-12zM955 2183h12v12h-12zM1210 2183h13v12h-13zM1393 2183h12v12h-12zM1576 2183h12v12h-12zM1015 2195h37v12h-37zM1198 2195h12v12h-12zM1405 2195h12v12h-12zM1588 2195h36v12h-36zM1649 2195h85v12h-85zM1089 2207h24v12h-24zM1162 2207h24v12h-24zM1417 2207h13v12h-13zM1430 2232h12v12h-12zM1430 2244h12v12h-12zM1442 2268h12v12h-12zM1442 2280h12v12h-12zM1454 2305h12v12h-12zM1454 2317h12v12h-12zM1466 2329h12v12h-12zM1466 2341h12v12h-12zM1466 2353h24v12h-24zM541 2365h85v13h-85zM1478 2365h12v13h-12zM638 2378h36v12h-36zM1478 2378h12v12h-12zM687 2390h24v12h-24zM1478 2390h25v12h-25zM711 2402h12v12h-12zM1490 2402h13v12h-13zM723 2414h12v12h-12zM1490 2414h37v12h-37zM1503 2426h36v12h-36zM735 2438h13v12h-13zM1515 2438h49v12h-49zM1539 2450h25v13h-25zM1539 2463h25v12h-25zM748 2475h12v12h-12zM1539 2475h25v12h-25zM748 2487h12v12h-12zM1539 2487h25v12h-25zM1539 2499h12v12h-12zM748 2511h12v12h-12zM1527 2511h24v12h-24zM748 2523h12v13h-12zM1527 2523h12v13h-12zM1515 2536h24v12h-24zM735 2548h13v12h-13zM1515 2548h12v12h-12zM723 2560h12v12h-12zM1503 2560h12v12h-12zM711 2572h12v12h-12zM1490 2572h13v12h-13zM699 2584h24v12h-24zM699 2596h12v13h-12zM1478 2596h12v13h-12zM687 2609h24v12h-24zM1478 2609h12v12h-12zM687 2621h12v12h-12zM674 2633h25v12h-25zM1478 2633h12v12h-12zM674 2645h25v12h-25zM1478 2645h12v12h-12zM674 2657h25v12h-25zM674 2669h25v13h-25zM674 2682h49v12h-49zM1490 2682h13v12h-13zM699 2694h36v12h-36zM711 2706h37v12h-37zM1503 2706h12v12h-12zM735 2718h13v12h-13zM1515 2718h12v12h-12zM735 2730h25v12h-25zM1527 2730h24v12h-24zM748 2742h12v12h-12zM1564 2742h36v12h-36zM748 2754h12v13h-12zM1612 2754h85v13h-85zM748 2767h24v12h-24zM760 2779h12v12h-12zM760 2791h12v12h-12zM772 2803h12v12h-12zM772 2815h12v12h-12zM784 2840h12v12h-12zM784 2852h12v12h-12zM796 2876h12v12h-12zM796 2888h12v12h-12zM808 2913h13v12h-13zM1052 2913h24v12h-24zM1125 2913h24v12h-24zM504 2925h85v12h-85zM614 2925h36v12h-36zM821 2925h12v12h-12zM1028 2925h12v12h-12zM1186 2925h37v12h-37zM650 2937h12v12h-12zM833 2937h12v12h-12zM1015 2937h13v12h-13zM1271 2937h12v12h-12zM662 2949h12v12h-12zM869 2949h25v12h-25zM991 2949h24v12h-24zM1296 2949h12v12h-12zM674 2961h13v12h-13zM1296 2961h12v12h-12zM687 2973h12v12h-12zM1296 2973h12v12h-12zM687 2985h12v13h-12zM1296 2985h12v13h-12zM687 2998h12v12h-12zM1296 2998h12v12h-12zM687 3010h12v12h-12zM1296 3010h12v12h-12zM687 3022h12v12h-12zM674 3046h13v12h-13zM1283 3046h13v12h-13zM674 3058h13v13h-13zM1283 3058h13v13h-13zM674 3071h13v12h-13zM1283 3071h13v12h-13zM674 3083h13v12h-13zM1283 3083h13v12h-13zM674 3095h13v12h-13zM1283 3095h13v12h-13zM674 3107h13v12h-13zM1283 3107h13v12h-13zM674 3119h13v12h-13zM1283 3119h13v12h-13zM674 3131h13v13h-13zM1283 3131h13v13h-13zM1283 3144h13v12h-13zM687 3168h12v12h-12z"/>
<path fill="#fe7842" d="M955 1952h12v12h-12zM955 1964h12v12h-12zM1539 1964h12v12h-12zM955 1976h12v12h-12zM1539 1976h12v12h-12zM1539 1988h12v13h-12zM1539 2001h12v12h-12zM1539 2074h12v12h-12zM942 2086h13v12h-13zM1539 2086h12v12h-12zM942 2098h13v12h-13zM942 2110h13v12h-13zM942 2122h13v12h-13zM1527 2122h12v12h-12zM942 2134h13v13h-13zM1527 2134h12v13h-12zM942 2147h13v12h-13zM942 2159h13v12h-13zM1247 2159h49v12h-49zM1539 2159h12v12h-12zM942 2171h25v12h-25zM1210 2171h13v12h-13zM1369 2171h12v12h-12zM1551 2171h13v12h-13zM967 2183h36v12h-36zM1198 2183h12v12h-12zM1405 2183h12v12h-12zM1564 2183h12v12h-12zM1052 2195h24v12h-24zM1174 2195h24v12h-24zM1417 2195h13v12h-13zM1576 2195h12v12h-12zM1113 2207h49v12h-49zM1430 2207h12v12h-12zM1588 2207h97v12h-97zM1430 2219h12v13h-12zM1442 2244h12v12h-12zM1442 2256h12v12h-12zM1454 2280h12v12h-12zM1454 2292h12v13h-12zM1466 2305h12v12h-12zM1466 2317h12v12h-12zM1478 2329h12v12h-12zM1478 2341h25v12h-25zM1490 2353h13v12h-13zM1490 2365h13v13h-13zM504 2378h134v12h-134zM1490 2378h25v12h-25zM650 2390h37v12h-37zM1503 2390h24v12h-24zM699 2402h12v12h-12zM1503 2402h36v12h-36zM711 2414h12v12h-12zM1527 2414h24v12h-24zM723 2426h12v12h-12zM1539 2426h25v12h-25zM1564 2438h24v12h-24zM735 2450h13v13h-13zM1564 2450h24v13h-24zM1564 2463h24v12h-24zM1564 2475h24v12h-24zM1564 2487h12v12h-12zM748 2499h12v12h-12zM1551 2499h25v12h-25zM1551 2511h13v12h-13zM1539 2523h25v13h-25zM735 2536h13v12h-13zM1539 2536h12v12h-12zM723 2548h12v12h-12zM1527 2548h12v12h-12zM711 2560h12v12h-12zM1515 2560h12v12h-12zM699 2572h12v12h-12zM1503 2572h12v12h-12zM687 2584h12v12h-12zM1490 2584h13v12h-13zM674 2596h25v13h-25zM674 2609h13v12h-13zM662 2621h25v12h-25zM1478 2621h12v12h-12zM662 2633h12v12h-12zM650 2645h24v12h-24zM650 2657h24v12h-24zM650 2669h24v13h-24zM1490 2669h13v13h-13zM650 2682h24v12h-24zM674 2694h25v12h-25zM1503 2694h12v12h-12zM687 2706h24v12h-24zM1515 2706h12v12h-12zM699 2718h36v12h-36zM1527 2718h12v12h-12zM711 2730h24v12h-24zM1551 2730h37v12h-37zM723 2742h25v12h-25zM1600 2742h134v12h-134zM735 2754h13v13h-13zM735 2767h13v12h-13zM735 2779h25v12h-25zM748 2791h12v12h-12zM760 2803h12v12h-12zM760 2815h12v12h-12zM772 2827h12v13h-12zM772 2840h12v12h-12zM784 2864h12v12h-12zM784 2876h12v12h-12zM796 2900h12v13h-12zM553 2913h97v12h-97zM796 2913h12v12h-12zM1076 2913h49v12h-49zM650 2925h12v12h-12zM808 2925h13v12h-13zM1040 2925h24v12h-24zM1162 2925h24v12h-24zM662 2937h12v12h-12zM821 2937h12v12h-12zM1028 2937h12v12h-12zM1235 2937h36v12h-36zM674 2949h13v12h-13zM857 2949h12v12h-12zM1015 2949h13v12h-13zM1271 2949h25v12h-25zM687 2961h12v12h-12zM942 2961h49v12h-49zM1283 2961h13v12h-13zM1283 2973h13v12h-13zM699 2985h12v13h-12zM1283 2985h13v13h-13zM699 2998h12v12h-12zM1283 2998h13v12h-13zM1283 3010h13v12h-13zM1283 3022h13v12h-13zM687 3034h12v12h-12zM1283 3034h13v12h-13zM687 3046h12v12h-12zM687 3119h12v12h-12zM687 3131h12v13h-12zM687 3144h12v12h-12zM1271 3144h12v12h-12zM687 3156h12v12h-12zM1271 3156h12v12h-12zM1271 3168h12v12h-12z"/>
<path fill="#fe7340" d="M967 1952h12v12h-12zM1527 1952h12v12h-12zM1527 1964h12v12h-12zM1527 1976h12v12h-12zM955 1988h12v13h-12zM955 2001h12v12h-12zM955 2013h12v12h-12zM1539 2013h12v12h-12zM955 2025h12v12h-12zM1539 2025h12v12h-12zM955 2037h12v12h-12zM1539 2037h12v12h-12zM955 2049h12v12h-12zM1539 2049h12v12h-12zM955 2061h12v13h-12zM1539 2061h12v13h-12zM955 2074h12v12h-12zM955 2086h12v12h-12zM1527 2086h12v12h-12zM955 2098h12v12h-12zM1527 2098h12v12h-12zM955 2110h12v12h-12zM1527 2110h12v12h-12zM955 2122h12v12h-12zM955 2147h12v12h-12zM1527 2147h12v12h-12zM955 2159h12v12h-12zM1235 2159h12v12h-12zM1296 2159h36v12h-36zM1527 2159h12v12h-12zM967 2171h12v12h-12zM1198 2171h12v12h-12zM1381 2171h24v12h-24zM1539 2171h12v12h-12zM1003 2183h37v12h-37zM1186 2183h12v12h-12zM1417 2183h13v12h-13zM1551 2183h13v12h-13zM1076 2195h37v12h-37zM1149 2195h25v12h-25zM1430 2195h12v12h-12zM1551 2195h25v12h-25zM1564 2207h24v12h-24zM1685 2207h49v12h-49zM1442 2219h12v13h-12zM1576 2219h85v13h-85zM1442 2232h12v12h-12zM1454 2268h12v12h-12zM1466 2292h12v13h-12zM1478 2305h12v12h-12zM1478 2317h25v12h-25zM1490 2329h25v12h-25zM1503 2341h12v12h-12zM1503 2353h24v12h-24zM1503 2365h24v13h-24zM1515 2378h12v12h-12zM504 2390h146v12h-146zM1527 2390h12v12h-12zM662 2402h37v12h-37zM1539 2402h12v12h-12zM699 2414h12v12h-12zM1551 2414h25v12h-25zM711 2426h12v12h-12zM1564 2426h24v12h-24zM723 2438h12v12h-12zM1588 2438h12v12h-12zM1588 2450h12v13h-12zM735 2463h13v12h-13zM1588 2463h12v12h-12zM735 2475h13v12h-13zM1588 2475h12v12h-12zM1576 2487h24v12h-24zM1576 2499h24v12h-24zM1564 2511h24v12h-24zM735 2523h13v13h-13zM1564 2523h24v13h-24zM1551 2536h25v12h-25zM711 2548h12v12h-12zM1539 2548h25v12h-25zM699 2560h12v12h-12zM1527 2560h12v12h-12zM674 2572h25v12h-25zM1515 2572h12v12h-12zM662 2584h25v12h-25zM650 2596h24v13h-24zM1490 2596h13v13h-13zM650 2609h24v12h-24zM638 2621h24v12h-24zM638 2633h24v12h-24zM638 2645h12v12h-12zM1490 2645h13v12h-13zM638 2657h12v12h-12zM1490 2657h13v12h-13zM638 2669h12v13h-12zM638 2682h12v12h-12zM1503 2682h12v12h-12zM650 2694h24v12h-24zM1515 2694h12v12h-12zM662 2706h25v12h-25zM1527 2706h12v12h-12zM687 2718h12v12h-12zM1539 2718h37v12h-37zM699 2730h12v12h-12zM1588 2730h146v12h-146zM711 2742h12v12h-12zM711 2754h24v13h-24zM711 2767h24v12h-24zM723 2779h12v12h-12zM723 2791h25v12h-25zM735 2803h25v12h-25zM748 2815h12v12h-12zM760 2827h12v13h-12zM772 2852h12v12h-12zM784 2888h12v12h-12zM577 2900h85v13h-85zM784 2900h12v13h-12zM504 2913h49v12h-49zM650 2913h24v12h-24zM662 2925h25v12h-25zM796 2925h12v12h-12zM1064 2925h25v12h-25zM1125 2925h37v12h-37zM674 2937h13v12h-13zM808 2937h13v12h-13zM1040 2937h12v12h-12zM1198 2937h37v12h-37zM687 2949h12v12h-12zM833 2949h24v12h-24zM1028 2949h12v12h-12zM1259 2949h12v12h-12zM699 2961h12v12h-12zM906 2961h36v12h-36zM991 2961h12v12h-12zM1271 2961h12v12h-12zM699 2973h12v12h-12zM1271 2973h12v12h-12zM1271 2998h12v12h-12zM699 3010h12v12h-12zM1271 3010h12v12h-12zM699 3022h12v12h-12zM1271 3022h12v12h-12zM699 3034h12v12h-12zM1271 3034h12v12h-12zM1271 3046h12v12h-12zM687 3058h12v13h-12zM1271 3058h12v13h-12zM687 3071h12v12h-12zM1271 3071h12v12h-12zM687 3083h12v12h-12zM1271 3083h12v12h-12zM687 3095h12v12h-12zM1271 3095h12v12h-12zM687 3107h12v12h-12zM1271 3107h12v12h-12zM1271 3119h12v12h-12zM1271 3131h12v13h-12zM699 3144h12v12h-12zM699 3156h12v12h-12zM699 3168h12v12h-12zM1259 3168h12v12h-12z"/>
<path fill="#fe6f3e" d="M967 1964h12v12h-12zM967 1976h12v12h-12zM967 1988h12v13h-12zM1527 1988h12v13h-12zM967 2001h12v12h-12zM1527 2001h12v12h-12zM967 2013h12v12h-12zM1527 2013h12v12h-12zM967 2025h12v12h-12zM1527 2025h12v12h-12zM967 2037h12v12h-12zM1527 2037h12v12h-12zM967 2049h12v12h-12zM1527 2049h12v12h-12zM967 2061h12v13h-12zM1527 2061h12v13h-12zM967 2074h12v12h-12zM1527 2074h12v12h-12zM967 2086h12v12h-12zM1515 2098h12v12h-12zM1515 2110h12v12h-12zM1515 2122h12v12h-12zM955 2134h12v13h-12zM1515 2134h12v13h-12zM967 2147h12v12h-12zM1515 2147h12v12h-12zM967 2159h12v12h-12zM1210 2159h25v12h-25zM1332 2159h37v12h-37zM1515 2159h12v12h-12zM979 2171h24v12h-24zM1186 2171h12v12h-12zM1405 2171h12v12h-12zM1527 2171h12v12h-12zM1040 2183h36v12h-36zM1174 2183h12v12h-12zM1430 2183h12v12h-12zM1539 2183h12v12h-12zM1113 2195h36v12h-36zM1442 2195h12v12h-12zM1539 2195h12v12h-12zM1442 2207h12v12h-12zM1551 2207h13v12h-13zM1551 2219h25v13h-25zM1661 2219h73v13h-73zM1454 2232h12v12h-12zM1564 2232h97v12h-97zM1454 2244h12v12h-12zM1564 2244h48v12h-48zM1454 2256h12v12h-12zM1466 2268h12v12h-12zM1466 2280h12v12h-12zM1478 2292h25v13h-25zM1490 2305h49v12h-49zM1503 2317h36v12h-36zM1515 2329h24v12h-24zM1515 2341h24v12h-24zM1527 2353h12v12h-12zM1527 2365h12v13h-12zM1527 2378h24v12h-24zM1539 2390h25v12h-25zM516 2402h49v12h-49zM638 2402h24v12h-24zM1551 2402h25v12h-25zM674 2414h25v12h-25zM1576 2414h12v12h-12zM699 2426h12v12h-12zM1588 2426h12v12h-12zM711 2438h12v12h-12zM1600 2438h12v12h-12zM723 2450h12v13h-12zM1600 2450h12v13h-12zM1600 2463h12v12h-12zM1600 2475h12v12h-12zM735 2487h13v12h-13zM1600 2487h12v12h-12zM735 2499h13v12h-13zM1600 2499h12v12h-12zM735 2511h13v12h-13zM1588 2511h24v12h-24zM1588 2523h12v13h-12zM723 2536h12v12h-12zM1576 2536h24v12h-24zM699 2548h12v12h-12zM1564 2548h24v12h-24zM674 2560h25v12h-25zM1539 2560h25v12h-25zM650 2572h24v12h-24zM1527 2572h12v12h-12zM638 2584h24v12h-24zM1503 2584h12v12h-12zM638 2596h12v13h-12zM626 2609h24v12h-24zM1490 2609h13v12h-13zM626 2621h12v12h-12zM1490 2621h13v12h-13zM626 2633h12v12h-12zM1490 2633h13v12h-13zM626 2645h12v12h-12zM626 2657h12v12h-12zM626 2669h12v13h-12zM1503 2669h12v13h-12zM626 2682h12v12h-12zM1515 2682h12v12h-12zM638 2694h12v12h-12zM1527 2694h12v12h-12zM650 2706h12v12h-12zM1539 2706h25v12h-25zM662 2718h25v12h-25zM1576 2718h24v12h-24zM1673 2718h49v12h-49zM674 2730h25v12h-25zM687 2742h24v12h-24zM699 2754h12v13h-12zM699 2767h12v12h-12zM699 2779h24v12h-24zM699 2791h24v12h-24zM699 2803h36v12h-36zM699 2815h49v12h-49zM735 2827h25v13h-25zM760 2840h12v12h-12zM760 2852h12v12h-12zM772 2864h12v12h-12zM626 2876h48v12h-48zM772 2876h12v12h-12zM577 2888h97v12h-97zM772 2888h12v12h-12zM504 2900h73v13h-73zM662 2900h25v13h-25zM674 2913h13v12h-13zM784 2913h12v12h-12zM687 2925h12v12h-12zM784 2925h12v12h-12zM1089 2925h36v12h-36zM687 2937h12v12h-12zM796 2937h12v12h-12zM1052 2937h12v12h-12zM1162 2937h36v12h-36zM699 2949h12v12h-12zM821 2949h12v12h-12zM1040 2949h12v12h-12zM1235 2949h24v12h-24zM711 2961h12v12h-12zM869 2961h37v12h-37zM1003 2961h25v12h-25zM1259 2961h12v12h-12zM711 2973h12v12h-12zM1259 2973h12v12h-12zM711 2985h12v13h-12zM1271 2985h12v13h-12zM711 2998h12v12h-12zM711 3010h12v12h-12zM711 3022h12v12h-12zM1259 3034h12v12h-12zM699 3046h12v12h-12zM1259 3046h12v12h-12zM699 3058h12v13h-12zM1259 3058h12v13h-12zM699 3071h12v12h-12zM1259 3071h12v12h-12zM699 3083h12v12h-12zM1259 3083h12v12h-12zM699 3095h12v12h-12zM1259 3095h12v12h-12zM699 3107h12v12h-12zM1259 3107h12v12h-12zM699 3119h12v12h-12zM1259 3119h12v12h-12zM699 3131h12v13h-12zM1259 3131h12v13h-12zM1259 3144h12v12h-12zM1259 3156h12v12h-12z"/>
<path fill="#fe6a3c" d="M979 1952h12v12h-12zM1515 1952h12v12h-12zM979 1964h12v12h-12zM1515 1964h12v12h-12zM1515 1976h12v12h-12zM1515 1988h12v13h-12zM1515 2001h12v12h-12zM1515 2013h12v12h-12zM1515 2061h12v13h-12zM1515 2074h12v12h-12zM1515 2086h12v12h-12zM967 2098h12v12h-12zM967 2110h12v12h-12zM1503 2110h12v12h-12zM967 2122h12v12h-12zM1503 2122h12v12h-12zM967 2134h12v13h-12zM1503 2134h12v13h-12zM979 2147h12v12h-12zM1235 2147h61v12h-61zM1503 2147h12v12h-12zM979 2159h24v12h-24zM1198 2159h12v12h-12zM1369 2159h24v12h-24zM1503 2159h12v12h-12zM1003 2171h37v12h-37zM1174 2171h12v12h-12zM1417 2171h25v12h-25zM1515 2171h12v12h-12zM1076 2183h37v12h-37zM1137 2183h37v12h-37zM1442 2183h12v12h-12zM1515 2183h24v12h-24zM1454 2195h12v12h-12zM1527 2195h12v12h-12zM1454 2207h12v12h-12zM1527 2207h24v12h-24zM1454 2219h12v13h-12zM1539 2219h12v13h-12zM1539 2232h25v12h-25zM1661 2232h36v12h-36zM1466 2244h12v12h-12zM1539 2244h25v12h-25zM1612 2244h49v12h-49zM1466 2256h12v12h-12zM1539 2256h85v12h-85zM1478 2268h12v12h-12zM1527 2268h73v12h-73zM1478 2280h110v12h-110zM1503 2292h73v13h-73zM1539 2305h37v12h-37zM1539 2317h25v12h-25zM1539 2329h25v12h-25zM1539 2341h25v12h-25zM1539 2353h25v12h-25zM1539 2365h25v13h-25zM1551 2378h13v12h-13zM1564 2390h12v12h-12zM504 2402h12v12h-12zM565 2402h73v12h-73zM1576 2402h12v12h-12zM650 2414h24v12h-24zM1588 2414h12v12h-12zM687 2426h12v12h-12zM1600 2426h12v12h-12zM699 2438h12v12h-12zM1612 2438h12v12h-12zM711 2450h12v13h-12zM1612 2450h12v13h-12zM723 2463h12v12h-12zM1612 2463h12v12h-12zM723 2475h12v12h-12zM1612 2475h12v12h-12zM1612 2487h12v12h-12zM1612 2499h12v12h-12zM723 2511h12v12h-12zM1612 2511h12v12h-12zM723 2523h12v13h-12zM1600 2523h24v13h-24zM699 2536h24v12h-24zM1600 2536h12v12h-12zM674 2548h25v12h-25zM1588 2548h12v12h-12zM650 2560h24v12h-24zM1564 2560h24v12h-24zM638 2572h12v12h-12zM1539 2572h25v12h-25zM626 2584h12v12h-12zM1515 2584h24v12h-24zM614 2596h24v13h-24zM1503 2596h12v13h-12zM614 2609h12v12h-12zM1503 2609h12v12h-12zM614 2621h12v12h-12zM614 2633h12v12h-12zM614 2645h12v12h-12zM1503 2645h12v12h-12zM614 2657h12v12h-12zM1503 2657h12v12h-12zM614 2669h12v13h-12zM1515 2669h12v13h-12zM614 2682h12v12h-12zM1527 2682h12v12h-12zM626 2694h12v12h-12zM1539 2694h12v12h-12zM638 2706h12v12h-12zM1564 2706h24v12h-24zM650 2718h12v12h-12zM1600 2718h73v12h-73zM1722 2718h12v12h-12zM662 2730h12v12h-12zM674 2742h13v12h-13zM674 2754h25v13h-25zM674 2767h25v12h-25zM674 2779h25v12h-25zM674 2791h25v12h-25zM674 2803h25v12h-25zM662 2815h37v12h-37zM662 2827h73v13h-73zM650 2840h110v12h-110zM638 2852h73v12h-73zM748 2852h12v12h-12zM614 2864h85v12h-85zM760 2864h12v12h-12zM577 2876h49v12h-49zM674 2876h25v12h-25zM760 2876h12v12h-12zM541 2888h36v12h-36zM674 2888h25v12h-25zM687 2900h12v13h-12zM772 2900h12v13h-12zM687 2913h24v12h-24zM772 2913h12v12h-12zM699 2925h12v12h-12zM772 2925h12v12h-12zM699 2937h24v12h-24zM784 2937h12v12h-12zM1064 2937h37v12h-37zM1125 2937h37v12h-37zM711 2949h12v12h-12zM796 2949h25v12h-25zM1052 2949h12v12h-12zM1198 2949h37v12h-37zM723 2961h12v12h-12zM845 2961h24v12h-24zM1028 2961h12v12h-12zM1235 2961h24v12h-24zM723 2973h12v12h-12zM942 2973h61v12h-61zM1247 2973h12v12h-12zM723 2985h12v13h-12zM1259 2985h12v13h-12zM723 2998h12v12h-12zM1259 2998h12v12h-12zM723 3010h12v12h-12zM1259 3010h12v12h-12zM1259 3022h12v12h-12zM711 3034h12v12h-12zM711 3046h12v12h-12zM711 3058h12v13h-12zM711 3107h12v12h-12zM711 3119h12v12h-12zM711 3131h12v13h-12zM711 3144h12v12h-12zM711 3156h12v12h-12zM1247 3156h12v12h-12zM711 3168h12v12h-12zM1247 3168h12v12h-12z"/>
<path fill="#fe663a" d="M1503 1952h12v12h-12zM1503 1964h12v12h-12zM979 1976h12v12h-12zM1503 1976h12v12h-12zM979 1988h12v13h-12zM1503 1988h12v13h-12zM979 2001h12v12h-12zM979 2013h12v12h-12zM979 2025h12v12h-12zM1515 2025h12v12h-12zM979 2037h12v12h-12zM1515 2037h12v12h-12zM979 2049h12v12h-12zM1515 2049h12v12h-12zM979 2061h12v13h-12zM979 2074h12v12h-12zM1503 2074h12v12h-12zM979 2086h12v12h-12zM1503 2086h12v12h-12zM979 2098h12v12h-12zM1503 2098h12v12h-12zM979 2110h12v12h-12zM979 2122h12v12h-12zM1490 2122h13v12h-13zM979 2134h12v13h-12zM1490 2134h13v13h-13zM991 2147h12v12h-12zM1210 2147h25v12h-25zM1296 2147h36v12h-36zM1490 2147h13v12h-13zM1003 2159h25v12h-25zM1186 2159h12v12h-12zM1393 2159h37v12h-37zM1490 2159h13v12h-13zM1040 2171h36v12h-36zM1162 2171h12v12h-12zM1442 2171h24v12h-24zM1490 2171h25v12h-25zM1113 2183h24v12h-24zM1454 2183h24v12h-24zM1490 2183h25v12h-25zM1466 2195h12v12h-12zM1503 2195h24v12h-24zM1466 2207h12v12h-12zM1515 2207h12v12h-12zM1466 2219h12v13h-12zM1515 2219h24v13h-24zM1466 2232h12v12h-12zM1527 2232h12v12h-12zM1697 2232h37v12h-37zM1478 2244h12v12h-12zM1515 2244h24v12h-24zM1661 2244h36v12h-36zM1478 2256h12v12h-12zM1515 2256h24v12h-24zM1624 2256h37v12h-37zM1490 2268h37v12h-37zM1600 2268h37v12h-37zM1588 2280h24v12h-24zM1576 2292h24v13h-24zM1576 2305h12v12h-12zM1564 2317h24v12h-24zM1564 2329h12v12h-12zM1564 2341h12v12h-12zM1564 2353h12v12h-12zM1564 2365h12v13h-12zM1564 2378h12v12h-12zM1576 2390h12v12h-12zM1588 2402h12v12h-12zM504 2414h146v12h-146zM1600 2414h12v12h-12zM662 2426h25v12h-25zM1612 2426h12v12h-12zM687 2438h12v12h-12zM1624 2438h13v12h-13zM1624 2450h13v13h-13zM711 2463h12v12h-12zM1624 2463h13v12h-13zM1624 2475h13v12h-13zM723 2487h12v12h-12zM1624 2487h13v12h-13zM723 2499h12v12h-12zM1624 2499h13v12h-13zM1624 2511h13v12h-13zM711 2523h12v13h-12zM1624 2523h13v13h-13zM687 2536h12v12h-12zM1612 2536h25v12h-25zM650 2548h24v12h-24zM1600 2548h24v12h-24zM626 2560h24v12h-24zM1588 2560h24v12h-24zM614 2572h24v12h-24zM1564 2572h24v12h-24zM601 2584h25v12h-25zM1539 2584h12v12h-12zM601 2596h13v13h-13zM1515 2596h12v13h-12zM601 2609h13v12h-13zM601 2621h13v12h-13zM1503 2621h12v12h-12zM601 2633h13v12h-13zM1503 2633h12v12h-12zM601 2645h13v12h-13zM601 2657h13v12h-13zM1515 2657h12v12h-12zM601 2669h13v13h-13zM601 2682h13v12h-13zM1539 2682h12v12h-12zM614 2694h12v12h-12zM1551 2694h25v12h-25zM626 2706h12v12h-12zM1588 2706h146v12h-146zM638 2718h12v12h-12zM650 2730h12v12h-12zM662 2742h12v12h-12zM662 2754h12v13h-12zM662 2767h12v12h-12zM662 2779h12v12h-12zM662 2791h12v12h-12zM650 2803h24v12h-24zM650 2815h12v12h-12zM638 2827h24v13h-24zM626 2840h24v12h-24zM601 2852h37v12h-37zM711 2852h37v12h-37zM577 2864h37v12h-37zM699 2864h24v12h-24zM748 2864h12v12h-12zM541 2876h36v12h-36zM699 2876h24v12h-24zM748 2876h12v12h-12zM504 2888h37v12h-37zM699 2888h12v12h-12zM760 2888h12v12h-12zM699 2900h24v13h-24zM760 2900h12v13h-12zM711 2913h12v12h-12zM760 2913h12v12h-12zM711 2925h24v12h-24zM760 2925h12v12h-12zM723 2937h25v12h-25zM760 2937h24v12h-24zM1101 2937h24v12h-24zM723 2949h25v12h-25zM772 2949h24v12h-24zM1064 2949h12v12h-12zM1162 2949h36v12h-36zM735 2961h13v12h-13zM808 2961h37v12h-37zM1040 2961h12v12h-12zM1210 2961h25v12h-25zM735 2973h13v12h-13zM906 2973h36v12h-36zM1003 2973h25v12h-25zM1235 2973h12v12h-12zM735 2985h13v13h-13zM1247 2985h12v13h-12zM735 2998h13v12h-13zM1247 2998h12v12h-12zM1247 3010h12v12h-12zM723 3022h12v12h-12zM1247 3022h12v12h-12zM723 3034h12v12h-12zM1247 3034h12v12h-12zM723 3046h12v12h-12zM1247 3046h12v12h-12zM1247 3058h12v13h-12zM711 3071h12v12h-12zM1247 3071h12v12h-12zM711 3083h12v12h-12zM1247 3083h12v12h-12zM711 3095h12v12h-12zM1247 3095h12v12h-12zM1247 3107h12v12h-12zM1247 3119h12v12h-12zM723 3131h12v13h-12zM1247 3131h12v13h-12zM723 3144h12v12h-12zM1247 3144h12v12h-12zM723 3156h12v12h-12zM723 3168h12v12h-12z"/>
<path fill="#fe6139" d="M991 1952h12v12h-12zM991 1964h12v12h-12zM991 1976h12v12h-12zM991 1988h12v13h-12zM991 2001h12v12h-12zM1503 2001h12v12h-12zM991 2013h12v12h-12zM1503 2013h12v12h-12zM991 2025h12v12h-12zM1503 2025h12v12h-12zM991 2037h12v12h-12zM1503 2037h12v12h-12zM991 2049h12v12h-12zM1503 2049h12v12h-12zM991 2061h12v13h-12zM1503 2061h12v13h-12zM991 2074h12v12h-12zM991 2086h12v12h-12zM1490 2086h13v12h-13zM991 2098h12v12h-12zM1490 2098h13v12h-13zM991 2110h12v12h-12zM1490 2110h13v12h-13zM991 2122h12v12h-12zM1478 2122h12v12h-12zM991 2134h24v13h-24zM1478 2134h12v13h-12zM1003 2147h25v12h-25zM1198 2147h12v12h-12zM1332 2147h37v12h-37zM1466 2147h24v12h-24zM1028 2159h36v12h-36zM1174 2159h12v12h-12zM1430 2159h60v12h-60zM1076 2171h86v12h-86zM1466 2171h24v12h-24zM1478 2183h12v12h-12zM1478 2195h25v12h-25zM1478 2207h37v12h-37zM1478 2219h37v13h-37zM1478 2232h49v12h-49zM1490 2244h25v12h-25zM1697 2244h37v12h-37zM1490 2256h25v12h-25zM1661 2256h24v12h-24zM1637 2268h24v12h-24zM1612 2280h25v12h-25zM1600 2292h24v13h-24zM1588 2305h24v12h-24zM1588 2317h12v12h-12zM1576 2329h12v12h-12zM1576 2341h12v12h-12zM1576 2353h12v12h-12zM1576 2365h12v13h-12zM1576 2378h12v12h-12zM1588 2390h12v12h-12zM1600 2402h12v12h-12zM1612 2414h12v12h-12zM516 2426h146v12h-146zM1624 2426h13v12h-13zM674 2438h13v12h-13zM1637 2438h12v12h-12zM687 2450h24v13h-24zM1637 2450h12v13h-12zM1637 2463h12v12h-12zM711 2475h12v12h-12zM1637 2475h12v12h-12zM711 2487h12v12h-12zM1637 2487h12v12h-12zM711 2499h12v12h-12zM1637 2499h12v12h-12zM711 2511h12v12h-12zM1637 2511h12v12h-12zM687 2523h24v13h-24zM1637 2523h12v13h-12zM650 2536h37v12h-37zM1637 2536h12v12h-12zM626 2548h24v12h-24zM1624 2548h25v12h-25zM601 2560h25v12h-25zM1612 2560h25v12h-25zM589 2572h25v12h-25zM1588 2572h24v12h-24zM589 2584h12v12h-12zM1551 2584h37v12h-37zM589 2596h12v13h-12zM1527 2596h24v13h-24zM589 2609h12v12h-12zM1515 2609h12v12h-12zM589 2621h12v12h-12zM1515 2621h12v12h-12zM589 2633h12v12h-12zM1515 2633h12v12h-12zM589 2645h12v12h-12zM1515 2645h12v12h-12zM589 2657h12v12h-12zM589 2669h12v13h-12zM1527 2669h24v13h-24zM589 2682h12v12h-12zM1551 2682h13v12h-13zM601 2694h13v12h-13zM1576 2694h146v12h-146zM614 2706h12v12h-12zM626 2718h12v12h-12zM638 2730h12v12h-12zM650 2742h12v12h-12zM650 2754h12v13h-12zM650 2767h12v12h-12zM650 2779h12v12h-12zM650 2791h12v12h-12zM638 2803h12v12h-12zM626 2815h24v12h-24zM614 2827h24v13h-24zM601 2840h25v12h-25zM577 2852h24v12h-24zM553 2864h24v12h-24zM723 2864h25v12h-25zM504 2876h37v12h-37zM723 2876h25v12h-25zM711 2888h49v12h-49zM723 2900h37v13h-37zM723 2913h37v12h-37zM735 2925h25v12h-25zM748 2937h12v12h-12zM748 2949h24v12h-24zM1076 2949h86v12h-86zM748 2961h60v12h-60zM1052 2961h12v12h-12zM1174 2961h36v12h-36zM748 2973h24v12h-24zM869 2973h37v12h-37zM1028 2973h12v12h-12zM1210 2973h25v12h-25zM748 2985h12v13h-12zM1223 2985h24v13h-24zM748 2998h12v12h-12zM1235 2998h12v12h-12zM735 3010h13v12h-13zM1235 3010h12v12h-12zM735 3022h13v12h-13zM1235 3022h12v12h-12zM735 3034h13v12h-13zM1235 3034h12v12h-12zM1235 3046h12v12h-12zM723 3058h12v13h-12zM1235 3058h12v13h-12zM723 3071h12v12h-12zM1235 3071h12v12h-12zM723 3083h12v12h-12zM1235 3083h12v12h-12zM723 3095h12v12h-12zM1235 3095h12v12h-12zM723 3107h12v12h-12zM1235 3107h12v12h-12zM723 3119h12v12h-12zM1235 3119h12v12h-12zM1235 3131h12v13h-12zM1235 3144h12v12h-12zM1235 3156h12v12h-12zM1235 3168h12v12h-12z"/>
<path fill="#fe5d37" d="M1003 1952h12v12h-12zM1490 1952h13v12h-13zM1003 1964h12v12h-12zM1490 1964h13v12h-13zM1003 1976h12v12h-12zM1490 1976h13v12h-13zM1003 1988h12v13h-12zM1490 1988h13v13h-13zM1003 2001h12v12h-12zM1490 2001h13v12h-13zM1003 2013h12v12h-12zM1490 2013h13v12h-13zM1003 2025h12v12h-12zM1490 2025h13v12h-13zM1003 2037h12v12h-12zM1490 2037h13v12h-13zM1003 2049h12v12h-12zM1490 2049h13v12h-13zM1003 2061h12v13h-12zM1490 2061h13v13h-13zM1003 2074h12v12h-12zM1490 2074h13v12h-13zM1003 2086h12v12h-12zM1003 2098h12v12h-12zM1478 2098h12v12h-12zM1003 2110h25v12h-25zM1478 2110h12v12h-12zM1003 2122h25v12h-25zM1466 2122h12v12h-12zM1015 2134h25v13h-25zM1210 2134h86v13h-86zM1466 2134h12v13h-12zM1028 2147h36v12h-36zM1174 2147h24v12h-24zM1369 2147h97v12h-97zM1064 2159h25v12h-25zM1149 2159h25v12h-25zM1685 2256h37v12h-37zM1661 2268h36v12h-36zM1637 2280h36v12h-36zM1624 2292h25v13h-25zM1612 2305h12v12h-12zM1600 2317h12v12h-12zM1588 2329h12v12h-12zM1588 2341h12v12h-12zM1588 2353h12v12h-12zM1588 2365h12v13h-12zM1588 2378h12v12h-12zM1600 2390h12v12h-12zM1612 2402h12v12h-12zM1624 2414h13v12h-13zM504 2426h12v12h-12zM1637 2426h12v12h-12zM626 2438h48v12h-48zM1649 2438h12v12h-12zM674 2450h13v13h-13zM1649 2450h12v13h-12zM687 2463h24v12h-24zM1649 2463h12v12h-12zM699 2475h12v12h-12zM1649 2475h12v12h-12zM699 2499h12v12h-12zM687 2511h24v12h-24zM1649 2511h12v12h-12zM662 2523h25v13h-25zM1649 2523h12v13h-12zM614 2536h36v12h-36zM1649 2536h12v12h-12zM589 2548h37v12h-37zM1649 2548h24v12h-24zM577 2560h24v12h-24zM1637 2560h24v12h-24zM565 2572h24v12h-24zM1612 2572h37v12h-37zM577 2584h12v12h-12zM1588 2584h36v12h-36zM577 2596h12v13h-12zM1551 2596h25v13h-25zM577 2609h12v12h-12zM1527 2609h24v12h-24zM1527 2621h12v12h-12zM577 2645h12v12h-12zM1527 2645h12v12h-12zM577 2657h12v12h-12zM1527 2657h24v12h-24zM577 2669h12v13h-12zM1551 2669h13v13h-13zM577 2682h12v12h-12zM1564 2682h48v12h-48zM589 2694h12v12h-12zM1722 2694h12v12h-12zM601 2706h13v12h-13zM614 2718h12v12h-12zM626 2730h12v12h-12zM638 2742h12v12h-12zM638 2754h12v13h-12zM638 2767h12v12h-12zM638 2779h12v12h-12zM638 2791h12v12h-12zM626 2803h12v12h-12zM614 2815h12v12h-12zM589 2827h25v13h-25zM565 2840h36v12h-36zM541 2852h36v12h-36zM516 2864h37v12h-37zM1064 2961h25v12h-25zM1149 2961h25v12h-25zM772 2973h97v12h-97zM1040 2973h24v12h-24zM1174 2973h36v12h-36zM760 2985h12v13h-12zM942 2985h86v13h-86zM1198 2985h25v13h-25zM760 2998h12v12h-12zM1210 2998h25v12h-25zM748 3010h12v12h-12zM1210 3010h25v12h-25zM748 3022h12v12h-12zM1223 3022h12v12h-12zM1223 3034h12v12h-12zM735 3046h13v12h-13zM1223 3046h12v12h-12zM735 3058h13v13h-13zM1223 3058h12v13h-12zM735 3071h13v12h-13zM1223 3071h12v12h-12zM735 3083h13v12h-13zM1223 3083h12v12h-12zM735 3095h13v12h-13zM1223 3095h12v12h-12zM735 3107h13v12h-13zM1223 3107h12v12h-12zM735 3119h13v12h-13zM1223 3119h12v12h-12zM735 3131h13v13h-13zM1223 3131h12v13h-12zM735 3144h13v12h-13zM1223 3144h12v12h-12zM735 3156h13v12h-13zM1223 3156h12v12h-12zM735 3168h13v12h-13zM1223 3168h12v12h-12z"/>
<path fill="#fe5935" d="M1015 1952h13v12h-13zM1478 1952h12v12h-12zM1015 1964h13v12h-13zM1478 1964h12v12h-12zM1015 1976h13v12h-13zM1478 1976h12v12h-12zM1015 1988h13v13h-13zM1478 1988h12v13h-12zM1015 2001h13v12h-13zM1478 2001h12v12h-12zM1015 2013h25v12h-25zM1478 2013h12v12h-12zM1015 2025h25v12h-25zM1478 2025h12v12h-12zM1015 2037h25v12h-25zM1478 2037h12v12h-12zM1015 2049h25v12h-25zM1478 2049h12v12h-12zM1015 2061h25v13h-25zM1478 2061h12v13h-12zM1015 2074h25v12h-25zM1478 2074h12v12h-12zM1015 2086h25v12h-25zM1478 2086h12v12h-12zM1015 2098h25v12h-25zM1466 2098h12v12h-12zM1028 2110h12v12h-12zM1466 2110h12v12h-12zM1028 2122h24v12h-24zM1454 2122h12v12h-12zM1040 2134h24v13h-24zM1186 2134h24v13h-24zM1296 2134h36v13h-36zM1442 2134h24v13h-24zM1064 2147h25v12h-25zM1162 2147h12v12h-12zM1089 2159h60v12h-60zM1722 2256h12v12h-12zM1697 2268h25v12h-25zM1673 2280h24v12h-24zM1649 2292h24v13h-24zM1624 2305h37v12h-37zM1612 2317h25v12h-25zM1600 2329h24v12h-24zM1600 2341h12v12h-12zM1600 2353h12v12h-12zM1600 2365h12v13h-12zM1600 2378h12v12h-12zM1612 2390h12v12h-12zM1624 2402h13v12h-13zM1637 2414h12v12h-12zM1649 2426h12v12h-12zM504 2438h122v12h-122zM626 2450h48v13h-48zM662 2463h25v12h-25zM687 2475h12v12h-12zM687 2487h24v12h-24zM1649 2487h12v12h-12zM687 2499h12v12h-12zM1649 2499h12v12h-12zM650 2511h37v12h-37zM1661 2511h12v12h-12zM614 2523h48v13h-48zM1661 2523h12v13h-12zM589 2536h25v12h-25zM1661 2536h24v12h-24zM565 2548h24v12h-24zM1673 2548h24v12h-24zM541 2560h36v12h-36zM1661 2560h36v12h-36zM541 2572h24v12h-24zM1649 2572h24v12h-24zM553 2584h24v12h-24zM1624 2584h25v12h-25zM565 2596h12v13h-12zM1576 2596h48v13h-48zM565 2609h12v12h-12zM1551 2609h37v12h-37zM577 2621h12v12h-12zM1539 2621h12v12h-12zM577 2633h12v12h-12zM1527 2633h24v12h-24zM1539 2645h12v12h-12zM1551 2657h25v12h-25zM1564 2669h48v13h-48zM1612 2682h122v12h-122zM577 2694h12v12h-12zM589 2706h12v12h-12zM601 2718h13v12h-13zM614 2730h12v12h-12zM626 2742h12v12h-12zM626 2754h12v13h-12zM626 2767h12v12h-12zM626 2779h12v12h-12zM614 2791h24v12h-24zM601 2803h25v12h-25zM577 2815h37v12h-37zM565 2827h24v13h-24zM541 2840h24v12h-24zM516 2852h25v12h-25zM504 2864h12v12h-12zM1089 2961h60v12h-60zM1064 2973h12v12h-12zM1149 2973h25v12h-25zM772 2985h24v13h-24zM906 2985h36v13h-36zM1028 2985h24v13h-24zM1174 2985h24v13h-24zM772 2998h12v12h-12zM1186 2998h24v12h-24zM760 3010h12v12h-12zM1198 3010h12v12h-12zM760 3022h12v12h-12zM1198 3022h25v12h-25zM748 3034h12v12h-12zM1198 3034h25v12h-25zM748 3046h12v12h-12zM1198 3046h25v12h-25zM748 3058h12v13h-12zM1198 3058h25v13h-25zM748 3071h12v12h-12zM1198 3071h25v12h-25zM748 3083h12v12h-12zM1198 3083h25v12h-25zM748 3095h12v12h-12zM1198 3095h25v12h-25zM748 3107h12v12h-12zM1198 3107h25v12h-25zM748 3119h12v12h-12zM1210 3119h13v12h-13zM748 3131h12v13h-12zM1210 3131h13v13h-13zM748 3144h12v12h-12zM1210 3144h13v12h-13zM748 3156h12v12h-12zM1210 3156h13v12h-13zM748 3168h12v12h-12zM1210 3168h13v12h-13z"/>
<path fill="#fe5434" d="M1028 1952h24v12h-24zM1466 1952h12v12h-12zM1028 1964h24v12h-24zM1466 1964h12v12h-12zM1028 1976h24v12h-24zM1466 1976h12v12h-12zM1028 1988h24v13h-24zM1466 1988h12v13h-12zM1028 2001h24v12h-24zM1466 2001h12v12h-12zM1040 2013h12v12h-12zM1466 2013h12v12h-12zM1040 2025h12v12h-12zM1466 2025h12v12h-12zM1040 2037h12v12h-12zM1466 2037h12v12h-12zM1040 2049h12v12h-12zM1466 2049h12v12h-12zM1040 2061h12v13h-12zM1466 2061h12v13h-12zM1040 2074h12v12h-12zM1466 2074h12v12h-12zM1040 2086h12v12h-12zM1466 2086h12v12h-12zM1040 2098h24v12h-24zM1040 2110h24v12h-24zM1454 2110h12v12h-12zM1052 2122h24v12h-24zM1210 2122h61v12h-61zM1442 2122h12v12h-12zM1064 2134h25v13h-25zM1162 2134h24v13h-24zM1332 2134h110v13h-110zM1089 2147h73v12h-73zM1722 2268h12v12h-12zM1697 2280h25v12h-25zM1673 2292h24v13h-24zM1661 2305h24v12h-24zM1637 2317h24v12h-24zM1624 2329h25v12h-25zM1612 2341h25v12h-25zM1612 2353h12v12h-12zM1612 2365h12v13h-12zM1612 2378h25v12h-25zM1624 2390h25v12h-25zM1637 2402h12v12h-12zM1649 2414h12v12h-12zM1661 2426h12v12h-12zM1661 2438h12v12h-12zM528 2450h98v13h-98zM1661 2450h12v13h-12zM601 2463h61v12h-61zM1661 2463h12v12h-12zM638 2475h49v12h-49zM1661 2475h12v12h-12zM650 2487h37v12h-37zM1661 2487h12v12h-12zM638 2499h49v12h-49zM1661 2499h12v12h-12zM614 2511h36v12h-36zM1673 2511h12v12h-12zM589 2523h25v13h-25zM1673 2523h24v13h-24zM565 2536h24v12h-24zM1685 2536h25v12h-25zM528 2548h37v12h-37zM1697 2548h37v12h-37zM504 2560h37v12h-37zM1697 2560h37v12h-37zM504 2572h37v12h-37zM1673 2572h37v12h-37zM528 2584h25v12h-25zM1649 2584h24v12h-24zM541 2596h24v13h-24zM1624 2596h25v13h-25zM553 2609h12v12h-12zM1588 2609h36v12h-36zM565 2621h12v12h-12zM1551 2621h49v12h-49zM565 2633h12v12h-12zM1551 2633h37v12h-37zM565 2645h12v12h-12zM1551 2645h49v12h-49zM565 2657h12v12h-12zM1576 2657h61v12h-61zM565 2669h12v13h-12zM1612 2669h98v13h-98zM565 2682h12v12h-12zM565 2694h12v12h-12zM577 2706h12v12h-12zM589 2718h12v12h-12zM589 2730h25v12h-25zM601 2742h25v12h-25zM614 2754h12v13h-12zM614 2767h12v12h-12zM601 2779h25v12h-25zM589 2791h25v12h-25zM577 2803h24v12h-24zM553 2815h24v12h-24zM541 2827h24v13h-24zM516 2840h25v12h-25zM504 2852h12v12h-12zM1076 2973h73v12h-73zM796 2985h110v13h-110zM1052 2985h24v13h-24zM1149 2985h25v13h-25zM784 2998h12v12h-12zM967 2998h61v12h-61zM1162 2998h24v12h-24zM772 3010h12v12h-12zM1174 3010h24v12h-24zM1174 3022h24v12h-24zM760 3034h12v12h-12zM1186 3034h12v12h-12zM760 3046h12v12h-12zM1186 3046h12v12h-12zM760 3058h12v13h-12zM1186 3058h12v13h-12zM760 3071h12v12h-12zM1186 3071h12v12h-12zM760 3083h12v12h-12zM1186 3083h12v12h-12zM760 3095h12v12h-12zM1186 3095h12v12h-12zM760 3107h12v12h-12zM1186 3107h12v12h-12zM760 3119h12v12h-12zM1186 3119h24v12h-24zM760 3131h12v13h-12zM1186 3131h24v13h-24zM760 3144h12v12h-12zM1186 3144h24v12h-24zM760 3156h12v12h-12zM1186 3156h24v12h-24zM760 3168h12v12h-12zM1186 3168h24v12h-24z"/>
<path fill="#fe5032" d="M1052 1952h37v12h-37zM1454 1952h12v12h-12zM1052 1964h24v12h-24zM1454 1964h12v12h-12zM1052 1976h24v12h-24zM1454 1976h12v12h-12zM1052 1988h24v13h-24zM1454 1988h12v13h-12zM1052 2001h12v12h-12zM1454 2001h12v12h-12zM1052 2013h12v12h-12zM1454 2013h12v12h-12zM1052 2025h12v12h-12zM1052 2037h12v12h-12zM1052 2049h12v12h-12zM1052 2061h12v13h-12zM1052 2074h12v12h-12zM1454 2074h12v12h-12zM1052 2086h24v12h-24zM1454 2086h12v12h-12zM1064 2098h12v12h-12zM1454 2098h12v12h-12zM1064 2110h25v12h-25zM1442 2110h12v12h-12zM1076 2122h13v12h-13zM1174 2122h36v12h-36zM1271 2122h37v12h-37zM1417 2122h25v12h-25zM1089 2134h73v13h-73zM1722 2280h12v12h-12zM1697 2292h25v13h-25zM1685 2305h25v12h-25zM1661 2317h24v12h-24zM1649 2329h24v12h-24zM1637 2341h12v12h-12zM1624 2353h25v12h-25zM1624 2365h25v13h-25zM1637 2378h12v12h-12zM1649 2390h12v12h-12zM1649 2402h24v12h-24zM1661 2414h12v12h-12zM1673 2426h12v12h-12zM1673 2438h12v12h-12zM504 2450h24v13h-24zM1673 2450h12v13h-12zM553 2463h48v12h-48zM1673 2463h12v12h-12zM589 2475h49v12h-49zM1673 2475h12v12h-12zM601 2487h49v12h-49zM1673 2487h12v12h-12zM601 2499h37v12h-37zM1673 2499h12v12h-12zM589 2511h25v12h-25zM1685 2511h12v12h-12zM565 2523h24v13h-24zM1697 2523h37v13h-37zM528 2536h37v12h-37zM1710 2536h24v12h-24zM504 2548h24v12h-24zM1710 2572h24v12h-24zM504 2584h24v12h-24zM1673 2584h37v12h-37zM504 2596h37v13h-37zM1649 2596h24v13h-24zM541 2609h12v12h-12zM1624 2609h25v12h-25zM553 2621h12v12h-12zM1600 2621h37v12h-37zM553 2633h12v12h-12zM1588 2633h49v12h-49zM553 2645h12v12h-12zM1600 2645h49v12h-49zM553 2657h12v12h-12zM1637 2657h48v12h-48zM553 2669h12v13h-12zM1710 2669h24v13h-24zM553 2682h12v12h-12zM553 2694h12v12h-12zM565 2706h12v12h-12zM565 2718h24v12h-24zM577 2730h12v12h-12zM589 2742h12v12h-12zM589 2754h25v13h-25zM589 2767h25v12h-25zM589 2779h12v12h-12zM565 2791h24v12h-24zM553 2803h24v12h-24zM528 2815h25v12h-25zM516 2827h25v13h-25zM504 2840h12v12h-12zM1076 2985h73v13h-73zM796 2998h25v12h-25zM930 2998h37v12h-37zM1028 2998h36v12h-36zM1149 2998h13v12h-13zM784 3010h12v12h-12zM1149 3010h25v12h-25zM772 3022h12v12h-12zM1162 3022h12v12h-12zM772 3034h12v12h-12zM1162 3034h24v12h-24zM772 3046h12v12h-12zM1174 3046h12v12h-12zM1174 3058h12v13h-12zM1174 3071h12v12h-12zM1174 3083h12v12h-12zM1174 3095h12v12h-12zM772 3107h12v12h-12zM1174 3107h12v12h-12zM772 3119h12v12h-12zM1174 3119h12v12h-12zM772 3131h12v13h-12zM1162 3131h24v13h-24zM772 3144h12v12h-12zM1162 3144h24v12h-24zM772 3156h12v12h-12zM1162 3156h24v12h-24zM772 3168h12v12h-12zM1149 3168h37v12h-37z"/>
<path fill="#fe4b30" d="M1089 1952h24v12h-24zM1076 1964h25v12h-25zM1076 1976h25v12h-25zM1442 1976h12v12h-12zM1076 1988h13v13h-13zM1442 1988h12v13h-12zM1064 2001h25v12h-25zM1064 2013h25v12h-25zM1064 2025h25v12h-25zM1454 2025h12v12h-12zM1064 2037h12v12h-12zM1454 2037h12v12h-12zM1064 2049h12v12h-12zM1454 2049h12v12h-12zM1064 2061h25v13h-25zM1454 2061h12v13h-12zM1064 2074h25v12h-25zM1076 2086h13v12h-13zM1442 2086h12v12h-12zM1076 2098h13v12h-13zM1442 2098h12v12h-12zM1089 2110h12v12h-12zM1174 2110h85v12h-85zM1430 2110h12v12h-12zM1089 2122h85v12h-85zM1308 2122h36v12h-36zM1381 2122h36v12h-36zM1722 2292h12v13h-12zM1710 2305h12v12h-12zM1685 2317h25v12h-25zM1673 2329h24v12h-24zM1649 2341h24v12h-24zM1649 2353h24v12h-24zM1649 2365h12v13h-12zM1649 2378h12v12h-12zM1661 2390h12v12h-12zM1673 2402h12v12h-12zM1673 2414h12v12h-12zM1685 2426h12v12h-12zM1685 2438h12v12h-12zM1685 2450h12v13h-12zM504 2463h49v12h-49zM1685 2463h12v12h-12zM565 2475h24v12h-24zM1685 2475h12v12h-12zM577 2487h24v12h-24zM1685 2487h12v12h-12zM577 2499h24v12h-24zM1685 2499h25v12h-25zM565 2511h24v12h-24zM1697 2511h37v12h-37zM541 2523h24v13h-24zM504 2536h24v12h-24zM1710 2584h24v12h-24zM1673 2596h24v13h-24zM504 2609h37v12h-37zM1649 2609h24v12h-24zM528 2621h25v12h-25zM1637 2621h24v12h-24zM541 2633h12v12h-12zM1637 2633h24v12h-24zM541 2645h12v12h-12zM1649 2645h24v12h-24zM541 2657h12v12h-12zM1685 2657h49v12h-49zM541 2669h12v13h-12zM541 2682h12v12h-12zM541 2694h12v12h-12zM553 2706h12v12h-12zM553 2718h12v12h-12zM565 2730h12v12h-12zM577 2742h12v12h-12zM577 2754h12v13h-12zM565 2767h24v12h-24zM565 2779h24v12h-24zM541 2791h24v12h-24zM528 2803h25v12h-25zM516 2815h12v12h-12zM504 2827h12v13h-12zM821 2998h36v12h-36zM894 2998h36v12h-36zM1064 2998h85v12h-85zM796 3010h12v12h-12zM979 3010h85v12h-85zM1137 3010h12v12h-12zM784 3022h12v12h-12zM1149 3022h13v12h-13zM784 3034h12v12h-12zM1149 3034h13v12h-13zM1149 3046h25v12h-25zM772 3058h12v13h-12zM1149 3058h25v13h-25zM772 3071h12v12h-12zM1162 3071h12v12h-12zM772 3083h12v12h-12zM1162 3083h12v12h-12zM772 3095h12v12h-12zM1149 3095h25v12h-25zM1149 3107h25v12h-25zM1149 3119h25v12h-25zM784 3131h12v13h-12zM1149 3131h13v13h-13zM784 3144h12v12h-12zM1137 3144h25v12h-25zM1137 3156h25v12h-25zM1125 3168h24v12h-24z"/>
<path fill="#fd472e" d="M1113 1952h24v12h-24zM1442 1952h12v12h-12zM1101 1964h24v12h-24zM1442 1964h12v12h-12zM1101 1976h12v12h-12zM1089 1988h24v13h-24zM1089 2001h12v12h-12zM1442 2001h12v12h-12zM1089 2013h12v12h-12zM1442 2013h12v12h-12zM1089 2025h12v12h-12zM1442 2025h12v12h-12zM1076 2037h25v12h-25zM1442 2037h12v12h-12zM1076 2049h25v12h-25zM1442 2049h12v12h-12zM1089 2061h12v13h-12zM1442 2061h12v13h-12zM1089 2074h12v12h-12zM1442 2074h12v12h-12zM1089 2086h12v12h-12zM1430 2086h12v12h-12zM1089 2098h24v12h-24zM1162 2098h48v12h-48zM1430 2098h12v12h-12zM1101 2110h73v12h-73zM1259 2110h37v12h-37zM1405 2110h25v12h-25zM1344 2122h37v12h-37zM1722 2305h12v12h-12zM1710 2317h12v12h-12zM1697 2329h13v12h-13zM1673 2341h24v12h-24zM1673 2353h12v12h-12zM1661 2365h24v13h-24zM1661 2378h24v12h-24zM1673 2390h12v12h-12zM1685 2402h12v12h-12zM1685 2414h25v12h-25zM1697 2426h25v12h-25zM1697 2438h37v12h-37zM1697 2450h37v13h-37zM1697 2463h37v12h-37zM516 2475h49v12h-49zM1697 2475h37v12h-37zM553 2487h24v12h-24zM1697 2487h37v12h-37zM553 2499h24v12h-24zM1710 2499h24v12h-24zM541 2511h24v12h-24zM504 2523h37v13h-37zM1697 2596h37v13h-37zM1673 2609h24v12h-24zM504 2621h24v12h-24zM1661 2621h24v12h-24zM504 2633h37v12h-37zM1661 2633h24v12h-24zM504 2645h37v12h-37zM1673 2645h49v12h-49zM504 2657h37v12h-37zM504 2669h37v13h-37zM504 2682h37v12h-37zM516 2694h25v12h-25zM528 2706h25v12h-25zM541 2718h12v12h-12zM553 2730h12v12h-12zM553 2742h24v12h-24zM553 2754h24v13h-24zM553 2767h12v12h-12zM541 2779h24v12h-24zM528 2791h13v12h-13zM516 2803h12v12h-12zM504 2815h12v12h-12zM857 2998h37v12h-37zM808 3010h25v12h-25zM942 3010h37v12h-37zM1064 3010h73v12h-73zM796 3022h12v12h-12zM1028 3022h48v12h-48zM1125 3022h24v12h-24zM796 3034h12v12h-12zM1137 3034h12v12h-12zM784 3046h12v12h-12zM1137 3046h12v12h-12zM784 3058h12v13h-12zM1137 3058h12v13h-12zM784 3071h12v12h-12zM1137 3071h25v12h-25zM784 3083h12v12h-12zM1137 3083h25v12h-25zM784 3095h12v12h-12zM1137 3095h12v12h-12zM784 3107h12v12h-12zM1137 3107h12v12h-12zM784 3119h12v12h-12zM1137 3119h12v12h-12zM1125 3131h24v13h-24zM1125 3144h12v12h-12zM784 3156h12v12h-12zM1113 3156h24v12h-24zM784 3168h12v12h-12zM1101 3168h24v12h-24z"/>
<path fill="#fc422c" d="M1137 1952h12v12h-12zM1430 1952h12v12h-12zM1125 1964h12v12h-12zM1430 1964h12v12h-12zM1113 1976h12v12h-12zM1430 1976h12v12h-12zM1113 1988h12v13h-12zM1430 1988h12v13h-12zM1101 2001h24v12h-24zM1430 2001h12v12h-12zM1101 2013h12v12h-12zM1430 2013h12v12h-12zM1101 2025h12v12h-12zM1430 2025h12v12h-12zM1101 2037h12v12h-12zM1430 2037h12v12h-12zM1101 2049h12v12h-12zM1430 2049h12v12h-12zM1101 2061h24v13h-24zM1430 2061h12v13h-12zM1101 2074h24v12h-24zM1430 2074h12v12h-12zM1101 2086h97v12h-97zM1417 2086h13v12h-13zM1113 2098h49v12h-49zM1210 2098h49v12h-49zM1405 2098h25v12h-25zM1296 2110h48v12h-48zM1369 2110h36v12h-36zM1722 2317h12v12h-12zM1710 2329h12v12h-12zM1697 2341h25v12h-25zM1685 2353h25v12h-25zM1685 2365h12v13h-12zM1685 2378h12v12h-12zM1685 2390h25v12h-25zM1697 2402h25v12h-25zM1710 2414h24v12h-24zM1722 2426h12v12h-12zM504 2475h12v12h-12zM504 2487h49v12h-49zM516 2499h37v12h-37zM504 2511h37v12h-37zM1697 2609h37v12h-37zM1685 2621h37v12h-37zM1685 2633h49v12h-49zM1722 2645h12v12h-12zM504 2694h12v12h-12zM504 2706h24v12h-24zM516 2718h25v12h-25zM528 2730h25v12h-25zM541 2742h12v12h-12zM541 2754h12v13h-12zM528 2767h25v12h-25zM516 2779h25v12h-25zM516 2791h12v12h-12zM504 2803h12v12h-12zM833 3010h36v12h-36zM894 3010h48v12h-48zM808 3022h25v12h-25zM979 3022h49v12h-49zM1076 3022h49v12h-49zM808 3034h13v12h-13zM1040 3034h97v12h-97zM796 3046h12v12h-12zM1113 3046h24v12h-24zM796 3058h12v13h-12zM1113 3058h24v13h-24zM796 3071h12v12h-12zM1125 3071h12v12h-12zM796 3083h12v12h-12zM1125 3083h12v12h-12zM796 3095h12v12h-12zM1125 3095h12v12h-12zM796 3107h12v12h-12zM1125 3107h12v12h-12zM796 3119h12v12h-12zM1113 3119h24v12h-24zM796 3131h12v13h-12zM1113 3131h12v13h-12zM796 3144h12v12h-12zM1113 3144h12v12h-12zM796 3156h12v12h-12zM1101 3156h12v12h-12zM796 3168h12v12h-12zM1089 3168h12v12h-12z"/>
<path fill="#fc3d2a" d="M1149 1952h13v12h-13zM1137 1964h12v12h-12zM1125 1976h24v12h-24zM1417 1976h13v12h-13zM1125 1988h12v13h-12zM1417 1988h13v13h-13zM1125 2001h12v12h-12zM1417 2001h13v12h-13zM1113 2013h24v12h-24zM1417 2013h13v12h-13zM1113 2025h24v12h-24zM1417 2025h13v12h-13zM1113 2037h24v12h-24zM1417 2037h13v12h-13zM1113 2049h36v12h-36zM1417 2049h13v12h-13zM1125 2061h49v13h-49zM1417 2061h13v13h-13zM1125 2074h73v12h-73zM1417 2074h13v12h-13zM1198 2086h37v12h-37zM1405 2086h12v12h-12zM1259 2098h37v12h-37zM1381 2098h24v12h-24zM1344 2110h25v12h-25zM1722 2329h12v12h-12zM1722 2341h12v12h-12zM1710 2353h12v12h-12zM1697 2365h25v13h-25zM1697 2378h25v12h-25zM1710 2390h12v12h-12zM1722 2402h12v12h-12zM504 2499h12v12h-12zM1722 2621h12v12h-12zM504 2718h12v12h-12zM516 2730h12v12h-12zM516 2742h25v12h-25zM516 2754h25v13h-25zM516 2767h12v12h-12zM504 2779h12v12h-12zM504 2791h12v12h-12zM869 3010h25v12h-25zM833 3022h24v12h-24zM942 3022h37v12h-37zM821 3034h12v12h-12zM1003 3034h37v12h-37zM808 3046h13v12h-13zM1040 3046h73v12h-73zM808 3058h13v13h-13zM1064 3058h49v13h-49zM808 3071h13v12h-13zM1089 3071h36v12h-36zM808 3083h13v12h-13zM1101 3083h24v12h-24zM808 3095h13v12h-13zM1101 3095h24v12h-24zM808 3107h13v12h-13zM1101 3107h24v12h-24zM808 3119h13v12h-13zM1101 3119h12v12h-12zM808 3131h13v13h-13zM1101 3131h12v13h-12zM808 3144h13v12h-13zM1089 3144h24v12h-24zM1089 3156h12v12h-12zM1076 3168h13v12h-13z"/>
<path fill="#fc3928" d="M1162 1952h12v12h-12zM1417 1952h13v12h-13zM1149 1964h13v12h-13zM1417 1964h13v12h-13zM1149 1976h13v12h-13zM1137 1988h12v13h-12zM1137 2001h12v12h-12zM1137 2013h12v12h-12zM1405 2013h12v12h-12zM1137 2025h12v12h-12zM1405 2025h12v12h-12zM1137 2037h25v12h-25zM1405 2037h12v12h-12zM1149 2049h25v12h-25zM1405 2049h12v12h-12zM1174 2061h24v13h-24zM1405 2061h12v13h-12zM1198 2074h25v12h-25zM1393 2074h24v12h-24zM1235 2086h24v12h-24zM1381 2086h24v12h-24zM1296 2098h85v12h-85zM1722 2353h12v12h-12zM1722 2365h12v13h-12zM1722 2378h12v12h-12zM1722 2390h12v12h-12zM504 2730h12v12h-12zM504 2742h12v12h-12zM504 2754h12v13h-12zM504 2767h12v12h-12zM857 3022h85v12h-85zM833 3034h24v12h-24zM979 3034h24v12h-24zM821 3046h24v12h-24zM1015 3046h25v12h-25zM821 3058h12v13h-12zM1040 3058h24v13h-24zM821 3071h12v12h-12zM1064 3071h25v12h-25zM821 3083h12v12h-12zM1076 3083h25v12h-25zM821 3095h12v12h-12zM1089 3095h12v12h-12zM821 3107h12v12h-12zM1089 3107h12v12h-12zM1089 3119h12v12h-12zM1089 3131h12v13h-12zM1076 3144h13v12h-13zM808 3156h13v12h-13zM1076 3156h13v12h-13zM808 3168h13v12h-13zM1064 3168h12v12h-12z"/>
<path fill="#fb3426" d="M1174 1952h12v12h-12zM1162 1964h12v12h-12zM1405 1964h12v12h-12zM1162 1976h12v12h-12zM1405 1976h12v12h-12zM1149 1988h13v13h-13zM1405 1988h12v13h-12zM1149 2001h13v12h-13zM1405 2001h12v12h-12zM1149 2013h25v12h-25zM1149 2025h25v12h-25zM1162 2037h24v12h-24zM1393 2037h12v12h-12zM1174 2049h24v12h-24zM1393 2049h12v12h-12zM1198 2061h25v13h-25zM1393 2061h12v13h-12zM1223 2074h24v12h-24zM1381 2074h12v12h-12zM1259 2086h49v12h-49zM1344 2086h37v12h-37zM857 3034h37v12h-37zM930 3034h49v12h-49zM845 3046h12v12h-12zM991 3046h24v12h-24zM833 3058h12v13h-12zM1015 3058h25v13h-25zM833 3071h12v12h-12zM1040 3071h24v12h-24zM833 3083h12v12h-12zM1052 3083h24v12h-24zM1064 3095h25v12h-25zM1064 3107h25v12h-25zM821 3119h12v12h-12zM1076 3119h13v12h-13zM821 3131h12v13h-12zM1076 3131h13v13h-13zM821 3144h12v12h-12zM1064 3144h12v12h-12zM821 3156h12v12h-12zM1064 3156h12v12h-12zM1052 3168h12v12h-12z"/>
<path fill="#f83025" d="M1186 1952h12v12h-12zM1405 1952h12v12h-12zM1174 1964h12v12h-12zM1174 1976h12v12h-12zM1162 1988h12v13h-12zM1393 1988h12v13h-12zM1162 2001h12v12h-12zM1393 2001h12v12h-12zM1174 2013h12v12h-12zM1393 2013h12v12h-12zM1174 2025h12v12h-12zM1393 2025h12v12h-12zM1186 2037h12v12h-12zM1198 2049h12v12h-12zM1381 2049h12v12h-12zM1223 2061h12v13h-12zM1369 2061h24v13h-24zM1247 2074h24v12h-24zM1356 2074h25v12h-25zM1308 2086h36v12h-36zM894 3034h36v12h-36zM857 3046h25v12h-25zM967 3046h24v12h-24zM845 3058h24v13h-24zM1003 3058h12v13h-12zM845 3071h12v12h-12zM1028 3071h12v12h-12zM1040 3083h12v12h-12zM833 3095h12v12h-12zM1052 3095h12v12h-12zM833 3107h12v12h-12zM1052 3107h12v12h-12zM833 3119h12v12h-12zM1064 3119h12v12h-12zM833 3131h12v13h-12zM1064 3131h12v13h-12zM1052 3144h12v12h-12zM1052 3156h12v12h-12zM821 3168h12v12h-12zM1040 3168h12v12h-12z"/>
<path fill="#f52d25" d="M1198 1952h12v12h-12zM1186 1964h12v12h-12zM1393 1964h12v12h-12zM1186 1976h12v12h-12zM1393 1976h12v12h-12zM1174 1988h12v13h-12zM1174 2001h24v12h-24zM1186 2013h12v12h-12zM1381 2013h12v12h-12zM1186 2025h24v12h-24zM1381 2025h12v12h-12zM1198 2037h12v12h-12zM1381 2037h12v12h-12zM1210 2049h25v12h-25zM1369 2049h12v12h-12zM1235 2061h24v13h-24zM1356 2061h13v13h-13zM1271 2074h85v12h-85zM882 3046h85v12h-85zM869 3058h13v13h-13zM979 3058h24v13h-24zM857 3071h12v12h-12zM1003 3071h25v12h-25zM845 3083h12v12h-12zM1028 3083h12v12h-12zM845 3095h12v12h-12zM1028 3095h24v12h-24zM845 3107h12v12h-12zM1040 3107h12v12h-12zM1040 3119h24v12h-24zM1052 3131h12v13h-12zM833 3144h12v12h-12zM1040 3144h12v12h-12zM833 3156h12v12h-12zM1040 3156h12v12h-12zM1028 3168h12v12h-12z"/>
<path fill="#f22924" d="M1210 1952h13v12h-13zM1393 1952h12v12h-12zM1198 1964h12v12h-12zM1198 1976h12v12h-12zM1186 1988h12v13h-12zM1381 1988h12v13h-12zM1198 2001h12v12h-12zM1381 2001h12v12h-12zM1198 2013h12v12h-12zM1210 2025h13v12h-13zM1369 2025h12v12h-12zM1210 2037h25v12h-25zM1369 2037h12v12h-12zM1235 2049h12v12h-12zM1356 2049h13v12h-13zM1259 2061h37v13h-37zM1320 2061h36v13h-36zM882 3058h36v13h-36zM942 3058h37v13h-37zM869 3071h13v12h-13zM991 3071h12v12h-12zM857 3083h12v12h-12zM1003 3083h25v12h-25zM857 3095h12v12h-12zM1015 3095h13v12h-13zM1028 3107h12v12h-12zM845 3119h12v12h-12zM1028 3119h12v12h-12zM845 3131h12v13h-12zM1040 3131h12v13h-12zM1028 3144h12v12h-12zM1028 3156h12v12h-12zM833 3168h12v12h-12zM1015 3168h13v12h-13z"/>
<path fill="#ee2523" d="M1210 1964h13v12h-13zM1381 1964h12v12h-12zM1381 1976h12v12h-12zM1198 1988h12v13h-12zM1210 2001h13v12h-13zM1369 2001h12v12h-12zM1210 2013h13v12h-13zM1369 2013h12v12h-12zM1223 2025h12v12h-12zM1356 2025h13v12h-13zM1235 2037h12v12h-12zM1356 2037h13v12h-13zM1247 2049h24v12h-24zM1332 2049h24v12h-24zM1296 2061h24v13h-24zM918 3058h24v13h-24zM882 3071h24v12h-24zM967 3071h24v12h-24zM869 3083h13v12h-13zM991 3083h12v12h-12zM869 3095h13v12h-13zM1003 3095h12v12h-12zM857 3107h12v12h-12zM1015 3107h13v12h-13zM857 3119h12v12h-12zM1015 3119h13v12h-13zM1028 3131h12v13h-12zM845 3144h12v12h-12zM845 3156h12v12h-12zM1015 3156h13v12h-13z"/>
<path fill="#eb2223" d="M1223 1952h12v12h-12zM1381 1952h12v12h-12zM1223 1964h12v12h-12zM1210 1976h13v12h-13zM1369 1976h12v12h-12zM1210 1988h13v13h-13zM1369 1988h12v13h-12zM1223 2013h12v12h-12zM1356 2013h13v12h-13zM1235 2025h12v12h-12zM1344 2025h12v12h-12zM1247 2037h12v12h-12zM1332 2037h24v12h-24zM1271 2049h61v12h-61zM906 3071h61v12h-61zM882 3083h24v12h-24zM979 3083h12v12h-12zM882 3095h12v12h-12zM991 3095h12v12h-12zM869 3107h13v12h-13zM1003 3107h12v12h-12zM857 3131h12v13h-12zM1015 3131h13v13h-13zM857 3144h12v12h-12zM1015 3144h13v12h-13zM1003 3156h12v12h-12zM845 3168h12v12h-12zM1003 3168h12v12h-12z"/>
<path fill="#e81e22" d="M1235 1952h12v12h-12zM1369 1964h12v12h-12zM1223 1976h12v12h-12zM1223 1988h12v13h-12zM1356 1988h13v13h-13zM1223 2001h12v12h-12zM1356 2001h13v12h-13zM1235 2013h12v12h-12zM1344 2013h12v12h-12zM1247 2025h12v12h-12zM1332 2025h12v12h-12zM1259 2037h24v12h-24zM1308 2037h24v12h-24zM906 3083h24v12h-24zM955 3083h24v12h-24zM894 3095h12v12h-12zM979 3095h12v12h-12zM882 3107h12v12h-12zM991 3107h12v12h-12zM869 3119h13v12h-13zM1003 3119h12v12h-12zM869 3131h13v13h-13zM1003 3131h12v13h-12zM1003 3144h12v12h-12zM857 3156h12v12h-12zM991 3168h12v12h-12z"/>
<path fill="#e41a22" d="M1247 1952h12v12h-12zM1369 1952h12v12h-12zM1235 1964h12v12h-12zM1235 1976h12v12h-12zM1356 1976h13v12h-13zM1235 1988h12v13h-12zM1235 2001h12v12h-12zM1344 2001h12v12h-12zM1247 2013h12v12h-12zM1332 2013h12v12h-12zM1259 2025h12v12h-12zM1320 2025h12v12h-12zM1283 2037h25v12h-25zM930 3083h25v12h-25zM906 3095h12v12h-12zM967 3095h12v12h-12zM894 3107h12v12h-12zM979 3107h12v12h-12zM882 3119h12v12h-12zM991 3119h12v12h-12zM991 3131h12v13h-12zM869 3144h13v12h-13zM991 3144h12v12h-12zM991 3156h12v12h-12zM857 3168h12v12h-12zM979 3168h12v12h-12z"/>
<path fill="#e01622" d="M1259 1952h12v12h-12zM1356 1952h13v12h-13zM1247 1964h12v12h-12zM1356 1964h13v12h-13zM1247 1976h12v12h-12zM1247 1988h12v13h-12zM1344 1988h12v13h-12zM1247 2001h12v12h-12zM1332 2001h12v12h-12zM1259 2013h12v12h-12zM1320 2013h12v12h-12zM1271 2025h49v12h-49zM918 3095h49v12h-49zM906 3107h12v12h-12zM967 3107h12v12h-12zM894 3119h12v12h-12zM979 3119h12v12h-12zM882 3131h12v13h-12zM979 3131h12v13h-12zM979 3144h12v12h-12zM869 3156h13v12h-13zM979 3156h12v12h-12zM869 3168h13v12h-13zM967 3168h12v12h-12z"/>
<path fill="#dc1222" d="M1259 1964h12v12h-12zM1344 1964h12v12h-12zM1259 1976h12v12h-12zM1344 1976h12v12h-12zM1259 1988h12v13h-12zM1332 1988h12v13h-12zM1259 2001h24v12h-24zM1320 2001h12v12h-12zM1271 2013h49v12h-49zM918 3107h49v12h-49zM906 3119h12v12h-12zM955 3119h24v12h-24zM894 3131h12v13h-12zM967 3131h12v13h-12zM882 3144h12v12h-12zM967 3144h12v12h-12zM882 3156h12v12h-12zM967 3156h12v12h-12z"/>
<path fill="#d90e21" d="M1271 1952h25v12h-25zM1344 1952h12v12h-12zM1271 1964h12v12h-12zM1332 1964h12v12h-12zM1271 1976h12v12h-12zM1332 1976h12v12h-12zM1271 1988h12v13h-12zM1320 1988h12v13h-12zM1283 2001h37v12h-37zM918 3119h37v12h-37zM906 3131h12v13h-12zM955 3131h12v13h-12zM894 3144h12v12h-12zM955 3144h12v12h-12zM894 3156h12v12h-12zM955 3156h12v12h-12zM882 3168h12v12h-12zM942 3168h25v12h-25z"/>
<path fill="#d50a21" d="M1296 1952h48v12h-48zM1283 1964h49v12h-49zM1283 1976h49v12h-49zM1283 1988h37v13h-37zM918 3131h37v13h-37zM906 3144h49v12h-49zM906 3156h49v12h-49zM894 3168h48v12h-48z"/></g>
<clipPath id="clipB"><rect x="436" y="1800" width="1500" height="1500"/></clipPath>
<line x1="436" y1="1934.3" x2="1802" y2="3197.9" stroke="#000" stroke-width="9.9" stroke-dasharray="37 34.34" clip-path="url(#clipB)"/>
<text transform="translate(48,1910.3) scale(0.75,0.965)" font-family="'Liberation Serif',serif" font-size="123" fill="#000" stroke="#000" stroke-width="2.2">B</text>
<g font-family="'Liberation Sans',sans-serif" font-size="75" fill="#707070">
<text transform="translate(395.5 3213.1) scale(1 1.04)" text-anchor="end">−5000</text>
<text transform="translate(395.5 2903.2) scale(1 1.04)" text-anchor="end">−2500</text>
<text transform="translate(395.5 2593.3) scale(1 1.04)" text-anchor="end">0</text>
<text transform="translate(395.5 2283.4) scale(1 1.04)" text-anchor="end">2500</text>
<text transform="translate(395.5 1973.5) scale(1 1.04)" text-anchor="end">5000</text>
<text transform="translate(498.1 3343.0) scale(1 1.04)" text-anchor="middle">−5000</text>
<text transform="translate(808.5 3343.0) scale(1 1.04)" text-anchor="middle">−2500</text>
<text transform="translate(1119.0 3343.0) scale(1 1.04)" text-anchor="middle">0</text>
<text transform="translate(1429.5 3343.0) scale(1 1.04)" text-anchor="middle">2500</text>
<text transform="translate(1739.9 3343.0) scale(1 1.04)" text-anchor="middle">5000</text>
</g>
<g font-family="'Liberation Sans',sans-serif" font-size="91.67" fill="#000">
<text x="1118.2" y="3454.9" text-anchor="middle">E−W separation distance(m)</text>
<text transform="translate(119,2566.2) rotate(-90)" text-anchor="middle">N−S separation distance (m)</text>
<text x="1945.5" y="2171">semi−</text>
<text x="1945.5" y="2269.5">variance</text>
</g>
<g shape-rendering="crispEdges">
<rect x="1944" y="2306" width="145" height="42" fill="#c60020"/>
<rect x="1944" y="2348" width="145" height="43" fill="#e81e22"/>
<rect x="1944" y="2391" width="145" height="42" fill="#fe422c"/>
<rect x="1944" y="2433" width="145" height="43" fill="#fe6a3c"/>
<rect x="1944" y="2476" width="145" height="42" fill="#fe904e"/>
<rect x="1944" y="2518" width="145" height="42" fill="#feb462"/>
<rect x="1944" y="2560" width="145" height="43" fill="#fed47c"/>
<rect x="1944" y="2603" width="145" height="42" fill="#feec98"/>
<rect x="1944" y="2645" width="145" height="43" fill="#fafab2"/>
<rect x="1944" y="2688" width="145" height="42" fill="#e2f49c"/>
<rect x="1944" y="2730" width="145" height="43" fill="#c4ea80"/>
<rect x="1944" y="2773" width="145" height="42" fill="#9cdc6a"/>
<rect x="1944" y="2815" width="145" height="42" fill="#64ce60"/>
<rect x="1944" y="2857" width="145" height="43" fill="#00b85a"/>
<rect x="1944" y="2900" width="145" height="42" fill="#00a04e"/>
<rect x="1944" y="2942" width="145" height="43" fill="#009044"/>
<rect x="1944" y="2985" width="145" height="42" fill="#007036"/>
</g>
<g font-family="'Liberation Sans',sans-serif" font-size="73.33" fill="#000">
<rect x="1944" y="2448.9" width="29" height="4.2" fill="#fff"/>
<rect x="2060" y="2448.9" width="29" height="4.2" fill="#fff"/>
<text transform="translate(2127.5 2479.2) scale(1 1.03)">7.5</text>
<rect x="1944" y="2664.2" width="29" height="4.2" fill="#fff"/>
<rect x="2060" y="2664.2" width="29" height="4.2" fill="#fff"/>
<text transform="translate(2127.5 2694.5) scale(1 1.03)">5.0</text>
<rect x="1944" y="2878.4" width="29" height="4.2" fill="#fff"/>
<rect x="2060" y="2878.4" width="29" height="4.2" fill="#fff"/>
<text transform="translate(2127.5 2908.7) scale(1 1.03)">2.5</text>
</g>
</g>
</svg></body></html>
